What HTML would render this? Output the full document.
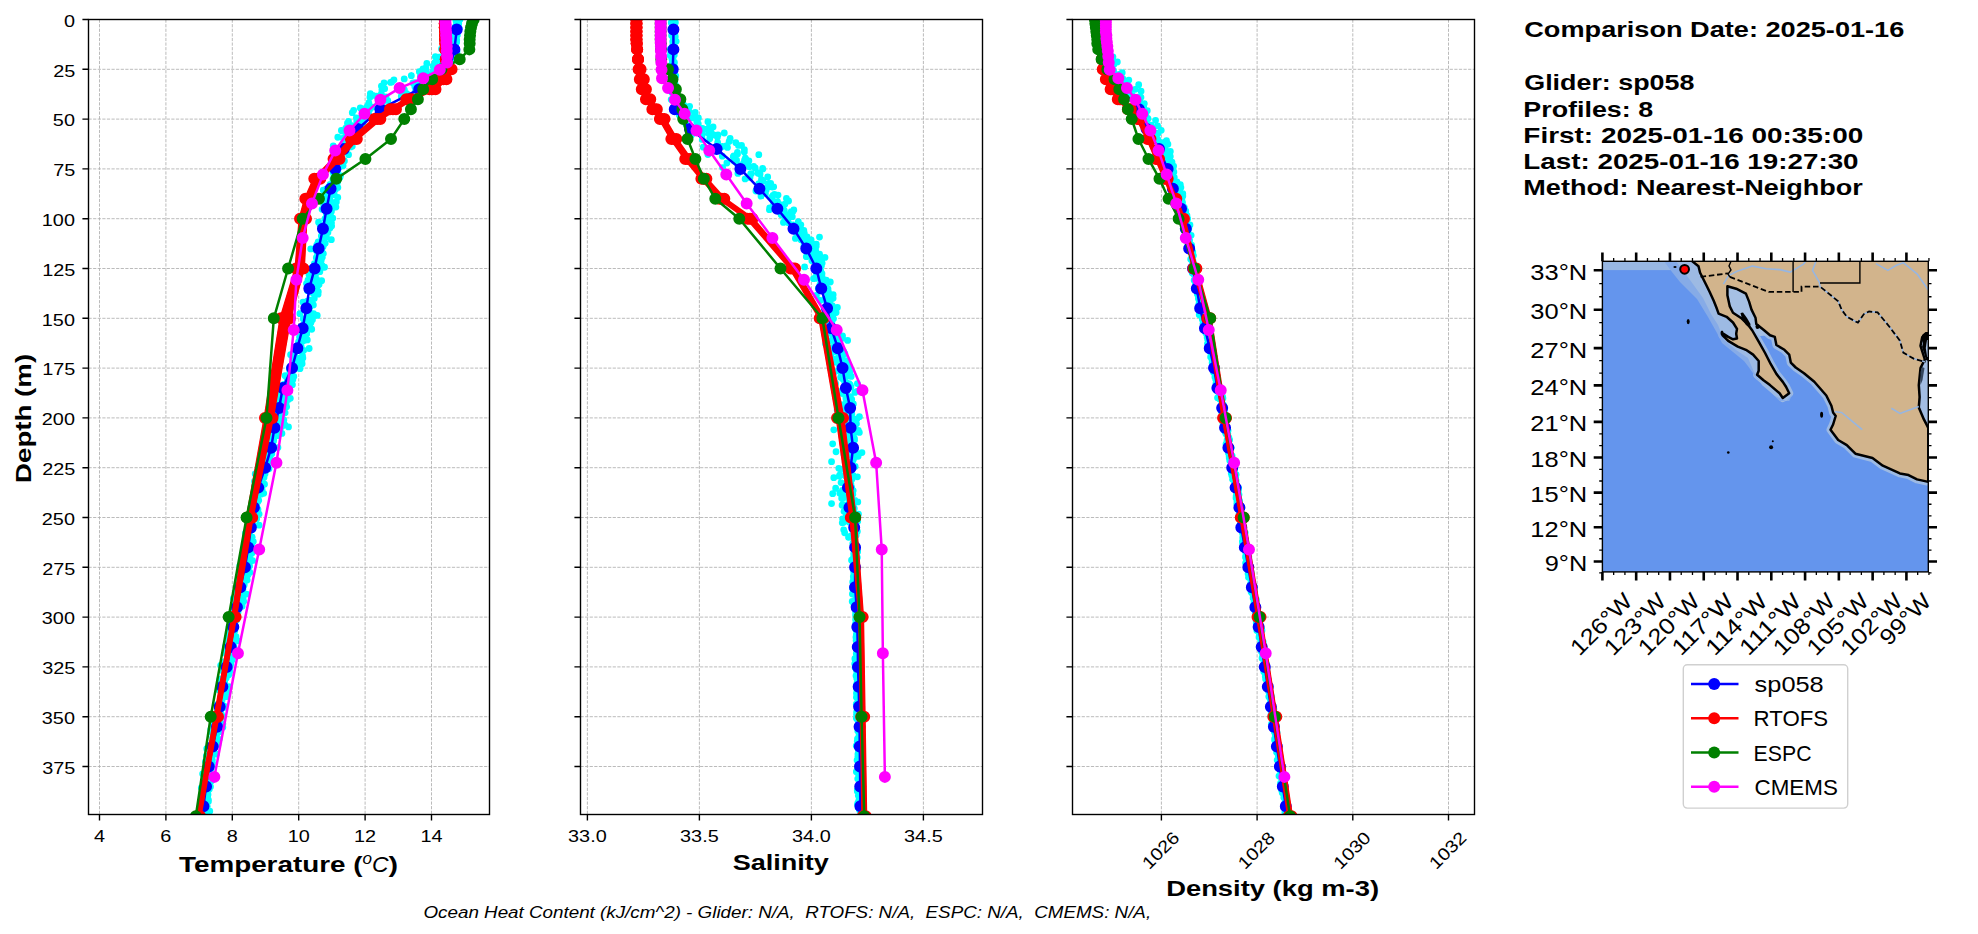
<!DOCTYPE html><html><head><meta charset="utf-8"><style>html,body{margin:0;padding:0;background:#fff;}svg{display:block;font-family:"Liberation Sans",sans-serif;}</style></head><body>
<svg width="1978" height="934" viewBox="0 0 1978 934">
<rect width="1978" height="934" fill="#fff"/>
<defs>
<clipPath id="c0"><rect x="88.5" y="19.5" width="401" height="795"/></clipPath>
<clipPath id="c1"><rect x="580.5" y="19.5" width="402" height="795"/></clipPath>
<clipPath id="c2"><rect x="1072.5" y="19.5" width="402" height="795"/></clipPath>
</defs>
<path d="M99.5 19.5V814.5M165.9 19.5V814.5M232.3 19.5V814.5M298.7 19.5V814.5M365.1 19.5V814.5M431.5 19.5V814.5M88.5 19.5H489.5M88.5 69.3H489.5M88.5 119.1H489.5M88.5 168.9H489.5M88.5 218.7H489.5M88.5 268.5H489.5M88.5 318.3H489.5M88.5 368.1H489.5M88.5 417.9H489.5M88.5 467.7H489.5M88.5 517.5H489.5M88.5 567.3H489.5M88.5 617.1H489.5M88.5 666.9H489.5M88.5 716.7H489.5M88.5 766.5H489.5" stroke="#b0b0b0" stroke-width="0.87" stroke-dasharray="3.2 1.4" fill="none"/>
<path d="M587.4 19.5V814.5M699.4 19.5V814.5M811.4 19.5V814.5M923.4 19.5V814.5M580.5 19.5H982.5M580.5 69.3H982.5M580.5 119.1H982.5M580.5 168.9H982.5M580.5 218.7H982.5M580.5 268.5H982.5M580.5 318.3H982.5M580.5 368.1H982.5M580.5 417.9H982.5M580.5 467.7H982.5M580.5 517.5H982.5M580.5 567.3H982.5M580.5 617.1H982.5M580.5 666.9H982.5M580.5 716.7H982.5M580.5 766.5H982.5" stroke="#b0b0b0" stroke-width="0.87" stroke-dasharray="3.2 1.4" fill="none"/>
<path d="M1161.4 19.5V814.5M1257.1 19.5V814.5M1352.8 19.5V814.5M1448.5 19.5V814.5M1072.5 19.5H1474.5M1072.5 69.3H1474.5M1072.5 119.1H1474.5M1072.5 168.9H1474.5M1072.5 218.7H1474.5M1072.5 268.5H1474.5M1072.5 318.3H1474.5M1072.5 368.1H1474.5M1072.5 417.9H1474.5M1072.5 467.7H1474.5M1072.5 517.5H1474.5M1072.5 567.3H1474.5M1072.5 617.1H1474.5M1072.5 666.9H1474.5M1072.5 716.7H1474.5M1072.5 766.5H1474.5" stroke="#b0b0b0" stroke-width="0.87" stroke-dasharray="3.2 1.4" fill="none"/>
<g clip-path="url(#c0)">
<path d="M452.81 22.1a3.4 3.4 0 1 0 6.8 0a3.4 3.4 0 1 0 -6.8 0M451.32 31.02a3.4 3.4 0 1 0 6.8 0a3.4 3.4 0 1 0 -6.8 0M453.08 38.12a3.4 3.4 0 1 0 6.8 0a3.4 3.4 0 1 0 -6.8 0M448.49 42.48a3.4 3.4 0 1 0 6.8 0a3.4 3.4 0 1 0 -6.8 0M448.55 47.22a3.4 3.4 0 1 0 6.8 0a3.4 3.4 0 1 0 -6.8 0M438.74 56.43a3.4 3.4 0 1 0 6.8 0a3.4 3.4 0 1 0 -6.8 0M429.69 66.2a3.4 3.4 0 1 0 6.8 0a3.4 3.4 0 1 0 -6.8 0M422.67 70.2a3.4 3.4 0 1 0 6.8 0a3.4 3.4 0 1 0 -6.8 0M407.96 75.69a3.4 3.4 0 1 0 6.8 0a3.4 3.4 0 1 0 -6.8 0M388.43 82.02a3.4 3.4 0 1 0 6.8 0a3.4 3.4 0 1 0 -6.8 0M381.27 88.72a3.4 3.4 0 1 0 6.8 0a3.4 3.4 0 1 0 -6.8 0M373.34 96.08a3.4 3.4 0 1 0 6.8 0a3.4 3.4 0 1 0 -6.8 0M362.91 107.55a3.4 3.4 0 1 0 6.8 0a3.4 3.4 0 1 0 -6.8 0M350.24 110.34a3.4 3.4 0 1 0 6.8 0a3.4 3.4 0 1 0 -6.8 0M345.15 121.53a3.4 3.4 0 1 0 6.8 0a3.4 3.4 0 1 0 -6.8 0M344.04 123.18a3.4 3.4 0 1 0 6.8 0a3.4 3.4 0 1 0 -6.8 0M342.21 132.8a3.4 3.4 0 1 0 6.8 0a3.4 3.4 0 1 0 -6.8 0M334.39 137.23a3.4 3.4 0 1 0 6.8 0a3.4 3.4 0 1 0 -6.8 0M329.84 145.84a3.4 3.4 0 1 0 6.8 0a3.4 3.4 0 1 0 -6.8 0M336.08 152a3.4 3.4 0 1 0 6.8 0a3.4 3.4 0 1 0 -6.8 0M332.6 160.73a3.4 3.4 0 1 0 6.8 0a3.4 3.4 0 1 0 -6.8 0M329.8 165.29a3.4 3.4 0 1 0 6.8 0a3.4 3.4 0 1 0 -6.8 0M332.52 172.05a3.4 3.4 0 1 0 6.8 0a3.4 3.4 0 1 0 -6.8 0M329.52 179.42a3.4 3.4 0 1 0 6.8 0a3.4 3.4 0 1 0 -6.8 0M319.85 190.18a3.4 3.4 0 1 0 6.8 0a3.4 3.4 0 1 0 -6.8 0M324.18 194.1a3.4 3.4 0 1 0 6.8 0a3.4 3.4 0 1 0 -6.8 0M320.36 205.62a3.4 3.4 0 1 0 6.8 0a3.4 3.4 0 1 0 -6.8 0M318.66 209.35a3.4 3.4 0 1 0 6.8 0a3.4 3.4 0 1 0 -6.8 0M324.63 213.96a3.4 3.4 0 1 0 6.8 0a3.4 3.4 0 1 0 -6.8 0M315.15 222.16a3.4 3.4 0 1 0 6.8 0a3.4 3.4 0 1 0 -6.8 0M323.92 230.93a3.4 3.4 0 1 0 6.8 0a3.4 3.4 0 1 0 -6.8 0M319.3 239.3a3.4 3.4 0 1 0 6.8 0a3.4 3.4 0 1 0 -6.8 0M314.69 245.35a3.4 3.4 0 1 0 6.8 0a3.4 3.4 0 1 0 -6.8 0M314.67 253.28a3.4 3.4 0 1 0 6.8 0a3.4 3.4 0 1 0 -6.8 0M313.97 255.76a3.4 3.4 0 1 0 6.8 0a3.4 3.4 0 1 0 -6.8 0M307.51 268.49a3.4 3.4 0 1 0 6.8 0a3.4 3.4 0 1 0 -6.8 0M316.46 271.63a3.4 3.4 0 1 0 6.8 0a3.4 3.4 0 1 0 -6.8 0M304.56 280.27a3.4 3.4 0 1 0 6.8 0a3.4 3.4 0 1 0 -6.8 0M304.28 283.91a3.4 3.4 0 1 0 6.8 0a3.4 3.4 0 1 0 -6.8 0M304.13 290.64a3.4 3.4 0 1 0 6.8 0a3.4 3.4 0 1 0 -6.8 0M305.96 301.19a3.4 3.4 0 1 0 6.8 0a3.4 3.4 0 1 0 -6.8 0M306.93 306.46a3.4 3.4 0 1 0 6.8 0a3.4 3.4 0 1 0 -6.8 0M296.5 313.69a3.4 3.4 0 1 0 6.8 0a3.4 3.4 0 1 0 -6.8 0M299.77 318.81a3.4 3.4 0 1 0 6.8 0a3.4 3.4 0 1 0 -6.8 0M302.39 330.69a3.4 3.4 0 1 0 6.8 0a3.4 3.4 0 1 0 -6.8 0M296.13 337.06a3.4 3.4 0 1 0 6.8 0a3.4 3.4 0 1 0 -6.8 0M295.1 341.99a3.4 3.4 0 1 0 6.8 0a3.4 3.4 0 1 0 -6.8 0M293.85 350.48a3.4 3.4 0 1 0 6.8 0a3.4 3.4 0 1 0 -6.8 0M287.19 354.76a3.4 3.4 0 1 0 6.8 0a3.4 3.4 0 1 0 -6.8 0M293.62 360.96a3.4 3.4 0 1 0 6.8 0a3.4 3.4 0 1 0 -6.8 0M285.88 368.81a3.4 3.4 0 1 0 6.8 0a3.4 3.4 0 1 0 -6.8 0M288.27 375.51a3.4 3.4 0 1 0 6.8 0a3.4 3.4 0 1 0 -6.8 0M282.38 385.44a3.4 3.4 0 1 0 6.8 0a3.4 3.4 0 1 0 -6.8 0M281.16 390.5a3.4 3.4 0 1 0 6.8 0a3.4 3.4 0 1 0 -6.8 0M274.01 398.09a3.4 3.4 0 1 0 6.8 0a3.4 3.4 0 1 0 -6.8 0M274.58 402.54a3.4 3.4 0 1 0 6.8 0a3.4 3.4 0 1 0 -6.8 0M278.16 409.11a3.4 3.4 0 1 0 6.8 0a3.4 3.4 0 1 0 -6.8 0M274.15 420.59a3.4 3.4 0 1 0 6.8 0a3.4 3.4 0 1 0 -6.8 0M271.99 427.4a3.4 3.4 0 1 0 6.8 0a3.4 3.4 0 1 0 -6.8 0M271.34 431.88a3.4 3.4 0 1 0 6.8 0a3.4 3.4 0 1 0 -6.8 0M270.19 440.95a3.4 3.4 0 1 0 6.8 0a3.4 3.4 0 1 0 -6.8 0M265.5 448.47a3.4 3.4 0 1 0 6.8 0a3.4 3.4 0 1 0 -6.8 0M262.98 451.14a3.4 3.4 0 1 0 6.8 0a3.4 3.4 0 1 0 -6.8 0M264.76 461.96a3.4 3.4 0 1 0 6.8 0a3.4 3.4 0 1 0 -6.8 0M259.54 469.98a3.4 3.4 0 1 0 6.8 0a3.4 3.4 0 1 0 -6.8 0M251.82 473.9a3.4 3.4 0 1 0 6.8 0a3.4 3.4 0 1 0 -6.8 0M251.09 481.37a3.4 3.4 0 1 0 6.8 0a3.4 3.4 0 1 0 -6.8 0M253.77 486.45a3.4 3.4 0 1 0 6.8 0a3.4 3.4 0 1 0 -6.8 0M251.13 495.76a3.4 3.4 0 1 0 6.8 0a3.4 3.4 0 1 0 -6.8 0M249.7 504.72a3.4 3.4 0 1 0 6.8 0a3.4 3.4 0 1 0 -6.8 0M251.56 506.95a3.4 3.4 0 1 0 6.8 0a3.4 3.4 0 1 0 -6.8 0M249.7 513.78a3.4 3.4 0 1 0 6.8 0a3.4 3.4 0 1 0 -6.8 0M245.86 521.21a3.4 3.4 0 1 0 6.8 0a3.4 3.4 0 1 0 -6.8 0M245.86 531.73a3.4 3.4 0 1 0 6.8 0a3.4 3.4 0 1 0 -6.8 0M246.71 535.96a3.4 3.4 0 1 0 6.8 0a3.4 3.4 0 1 0 -6.8 0M241.37 544.01a3.4 3.4 0 1 0 6.8 0a3.4 3.4 0 1 0 -6.8 0M244.69 554.18a3.4 3.4 0 1 0 6.8 0a3.4 3.4 0 1 0 -6.8 0M244.24 557.51a3.4 3.4 0 1 0 6.8 0a3.4 3.4 0 1 0 -6.8 0M242.32 562.64a3.4 3.4 0 1 0 6.8 0a3.4 3.4 0 1 0 -6.8 0M239.2 573.71a3.4 3.4 0 1 0 6.8 0a3.4 3.4 0 1 0 -6.8 0M235.07 576.53a3.4 3.4 0 1 0 6.8 0a3.4 3.4 0 1 0 -6.8 0M234.76 588.54a3.4 3.4 0 1 0 6.8 0a3.4 3.4 0 1 0 -6.8 0M232.63 594.67a3.4 3.4 0 1 0 6.8 0a3.4 3.4 0 1 0 -6.8 0M234.37 600.62a3.4 3.4 0 1 0 6.8 0a3.4 3.4 0 1 0 -6.8 0M233.62 608.99a3.4 3.4 0 1 0 6.8 0a3.4 3.4 0 1 0 -6.8 0M229.56 611.83a3.4 3.4 0 1 0 6.8 0a3.4 3.4 0 1 0 -6.8 0M229.85 622.12a3.4 3.4 0 1 0 6.8 0a3.4 3.4 0 1 0 -6.8 0M225.68 626.81a3.4 3.4 0 1 0 6.8 0a3.4 3.4 0 1 0 -6.8 0M225.17 636.17a3.4 3.4 0 1 0 6.8 0a3.4 3.4 0 1 0 -6.8 0M223.49 644.79a3.4 3.4 0 1 0 6.8 0a3.4 3.4 0 1 0 -6.8 0M221.96 646.94a3.4 3.4 0 1 0 6.8 0a3.4 3.4 0 1 0 -6.8 0M225.34 654.94a3.4 3.4 0 1 0 6.8 0a3.4 3.4 0 1 0 -6.8 0M223.59 662.31a3.4 3.4 0 1 0 6.8 0a3.4 3.4 0 1 0 -6.8 0M220.67 669.24a3.4 3.4 0 1 0 6.8 0a3.4 3.4 0 1 0 -6.8 0M216.51 679.25a3.4 3.4 0 1 0 6.8 0a3.4 3.4 0 1 0 -6.8 0M218.22 685.62a3.4 3.4 0 1 0 6.8 0a3.4 3.4 0 1 0 -6.8 0M216.35 690.19a3.4 3.4 0 1 0 6.8 0a3.4 3.4 0 1 0 -6.8 0M217.11 699.56a3.4 3.4 0 1 0 6.8 0a3.4 3.4 0 1 0 -6.8 0M213.97 704.55a3.4 3.4 0 1 0 6.8 0a3.4 3.4 0 1 0 -6.8 0M214.05 710.91a3.4 3.4 0 1 0 6.8 0a3.4 3.4 0 1 0 -6.8 0M215.4 715.77a3.4 3.4 0 1 0 6.8 0a3.4 3.4 0 1 0 -6.8 0M213.29 727.85a3.4 3.4 0 1 0 6.8 0a3.4 3.4 0 1 0 -6.8 0M207.35 729.76a3.4 3.4 0 1 0 6.8 0a3.4 3.4 0 1 0 -6.8 0M209.18 737.97a3.4 3.4 0 1 0 6.8 0a3.4 3.4 0 1 0 -6.8 0M206.84 745.83a3.4 3.4 0 1 0 6.8 0a3.4 3.4 0 1 0 -6.8 0M202.98 755.87a3.4 3.4 0 1 0 6.8 0a3.4 3.4 0 1 0 -6.8 0M205 760.99a3.4 3.4 0 1 0 6.8 0a3.4 3.4 0 1 0 -6.8 0M202.7 766.4a3.4 3.4 0 1 0 6.8 0a3.4 3.4 0 1 0 -6.8 0M204.89 774.79a3.4 3.4 0 1 0 6.8 0a3.4 3.4 0 1 0 -6.8 0M200.67 780.57a3.4 3.4 0 1 0 6.8 0a3.4 3.4 0 1 0 -6.8 0M205.83 786.71a3.4 3.4 0 1 0 6.8 0a3.4 3.4 0 1 0 -6.8 0M200.47 798.03a3.4 3.4 0 1 0 6.8 0a3.4 3.4 0 1 0 -6.8 0M202.82 800.13a3.4 3.4 0 1 0 6.8 0a3.4 3.4 0 1 0 -6.8 0M202.78 808.8a3.4 3.4 0 1 0 6.8 0a3.4 3.4 0 1 0 -6.8 0M453.81 18.93a3.4 3.4 0 1 0 6.8 0a3.4 3.4 0 1 0 -6.8 0M454.04 26.96a3.4 3.4 0 1 0 6.8 0a3.4 3.4 0 1 0 -6.8 0M453.94 34.87a3.4 3.4 0 1 0 6.8 0a3.4 3.4 0 1 0 -6.8 0M449.01 41.06a3.4 3.4 0 1 0 6.8 0a3.4 3.4 0 1 0 -6.8 0M451.97 46.52a3.4 3.4 0 1 0 6.8 0a3.4 3.4 0 1 0 -6.8 0M440.81 59.18a3.4 3.4 0 1 0 6.8 0a3.4 3.4 0 1 0 -6.8 0M438.87 63.83a3.4 3.4 0 1 0 6.8 0a3.4 3.4 0 1 0 -6.8 0M435.98 67.93a3.4 3.4 0 1 0 6.8 0a3.4 3.4 0 1 0 -6.8 0M420.29 75.62a3.4 3.4 0 1 0 6.8 0a3.4 3.4 0 1 0 -6.8 0M409.56 82.87a3.4 3.4 0 1 0 6.8 0a3.4 3.4 0 1 0 -6.8 0M400.99 89.99a3.4 3.4 0 1 0 6.8 0a3.4 3.4 0 1 0 -6.8 0M380.78 99.93a3.4 3.4 0 1 0 6.8 0a3.4 3.4 0 1 0 -6.8 0M378.96 103.25a3.4 3.4 0 1 0 6.8 0a3.4 3.4 0 1 0 -6.8 0M362.69 114.5a3.4 3.4 0 1 0 6.8 0a3.4 3.4 0 1 0 -6.8 0M361.16 116.91a3.4 3.4 0 1 0 6.8 0a3.4 3.4 0 1 0 -6.8 0M353.29 126.53a3.4 3.4 0 1 0 6.8 0a3.4 3.4 0 1 0 -6.8 0M354.63 132.11a3.4 3.4 0 1 0 6.8 0a3.4 3.4 0 1 0 -6.8 0M340.46 141.26a3.4 3.4 0 1 0 6.8 0a3.4 3.4 0 1 0 -6.8 0M339.28 146.32a3.4 3.4 0 1 0 6.8 0a3.4 3.4 0 1 0 -6.8 0M334.56 153.33a3.4 3.4 0 1 0 6.8 0a3.4 3.4 0 1 0 -6.8 0M332.07 160.64a3.4 3.4 0 1 0 6.8 0a3.4 3.4 0 1 0 -6.8 0M334.43 170.16a3.4 3.4 0 1 0 6.8 0a3.4 3.4 0 1 0 -6.8 0M335.42 175.65a3.4 3.4 0 1 0 6.8 0a3.4 3.4 0 1 0 -6.8 0M330.38 182.17a3.4 3.4 0 1 0 6.8 0a3.4 3.4 0 1 0 -6.8 0M327.44 188.97a3.4 3.4 0 1 0 6.8 0a3.4 3.4 0 1 0 -6.8 0M322.11 196.44a3.4 3.4 0 1 0 6.8 0a3.4 3.4 0 1 0 -6.8 0M327.7 202.79a3.4 3.4 0 1 0 6.8 0a3.4 3.4 0 1 0 -6.8 0M326.14 209.51a3.4 3.4 0 1 0 6.8 0a3.4 3.4 0 1 0 -6.8 0M327.15 215.24a3.4 3.4 0 1 0 6.8 0a3.4 3.4 0 1 0 -6.8 0M328.23 225.88a3.4 3.4 0 1 0 6.8 0a3.4 3.4 0 1 0 -6.8 0M321.27 228.64a3.4 3.4 0 1 0 6.8 0a3.4 3.4 0 1 0 -6.8 0M320.03 238.03a3.4 3.4 0 1 0 6.8 0a3.4 3.4 0 1 0 -6.8 0M313.83 244.29a3.4 3.4 0 1 0 6.8 0a3.4 3.4 0 1 0 -6.8 0M311.62 248.71a3.4 3.4 0 1 0 6.8 0a3.4 3.4 0 1 0 -6.8 0M317.71 260.96a3.4 3.4 0 1 0 6.8 0a3.4 3.4 0 1 0 -6.8 0M311.2 268.42a3.4 3.4 0 1 0 6.8 0a3.4 3.4 0 1 0 -6.8 0M311.84 270.45a3.4 3.4 0 1 0 6.8 0a3.4 3.4 0 1 0 -6.8 0M309.71 278.63a3.4 3.4 0 1 0 6.8 0a3.4 3.4 0 1 0 -6.8 0M303.06 283.55a3.4 3.4 0 1 0 6.8 0a3.4 3.4 0 1 0 -6.8 0M314.7 294.15a3.4 3.4 0 1 0 6.8 0a3.4 3.4 0 1 0 -6.8 0M305.41 302.2a3.4 3.4 0 1 0 6.8 0a3.4 3.4 0 1 0 -6.8 0M309.98 304.94a3.4 3.4 0 1 0 6.8 0a3.4 3.4 0 1 0 -6.8 0M305.84 313.17a3.4 3.4 0 1 0 6.8 0a3.4 3.4 0 1 0 -6.8 0M306.25 320.29a3.4 3.4 0 1 0 6.8 0a3.4 3.4 0 1 0 -6.8 0M304.15 325.34a3.4 3.4 0 1 0 6.8 0a3.4 3.4 0 1 0 -6.8 0M301.59 337.42a3.4 3.4 0 1 0 6.8 0a3.4 3.4 0 1 0 -6.8 0M294.56 344.94a3.4 3.4 0 1 0 6.8 0a3.4 3.4 0 1 0 -6.8 0M293.1 347.64a3.4 3.4 0 1 0 6.8 0a3.4 3.4 0 1 0 -6.8 0M297.12 357.92a3.4 3.4 0 1 0 6.8 0a3.4 3.4 0 1 0 -6.8 0M290.43 360.4a3.4 3.4 0 1 0 6.8 0a3.4 3.4 0 1 0 -6.8 0M286.55 372.51a3.4 3.4 0 1 0 6.8 0a3.4 3.4 0 1 0 -6.8 0M289.48 379.47a3.4 3.4 0 1 0 6.8 0a3.4 3.4 0 1 0 -6.8 0M283.52 383.73a3.4 3.4 0 1 0 6.8 0a3.4 3.4 0 1 0 -6.8 0M278.91 391.57a3.4 3.4 0 1 0 6.8 0a3.4 3.4 0 1 0 -6.8 0M277.76 395.24a3.4 3.4 0 1 0 6.8 0a3.4 3.4 0 1 0 -6.8 0M278 405.97a3.4 3.4 0 1 0 6.8 0a3.4 3.4 0 1 0 -6.8 0M276.09 413.78a3.4 3.4 0 1 0 6.8 0a3.4 3.4 0 1 0 -6.8 0M277.45 418.52a3.4 3.4 0 1 0 6.8 0a3.4 3.4 0 1 0 -6.8 0M278.51 426.61a3.4 3.4 0 1 0 6.8 0a3.4 3.4 0 1 0 -6.8 0M268.29 433.56a3.4 3.4 0 1 0 6.8 0a3.4 3.4 0 1 0 -6.8 0M270.34 440.12a3.4 3.4 0 1 0 6.8 0a3.4 3.4 0 1 0 -6.8 0M266.89 445.65a3.4 3.4 0 1 0 6.8 0a3.4 3.4 0 1 0 -6.8 0M268.39 453.64a3.4 3.4 0 1 0 6.8 0a3.4 3.4 0 1 0 -6.8 0M264.5 459.37a3.4 3.4 0 1 0 6.8 0a3.4 3.4 0 1 0 -6.8 0M260.59 465.35a3.4 3.4 0 1 0 6.8 0a3.4 3.4 0 1 0 -6.8 0M259.9 472.64a3.4 3.4 0 1 0 6.8 0a3.4 3.4 0 1 0 -6.8 0M256.42 480.74a3.4 3.4 0 1 0 6.8 0a3.4 3.4 0 1 0 -6.8 0M253.31 490.94a3.4 3.4 0 1 0 6.8 0a3.4 3.4 0 1 0 -6.8 0M253.82 497.04a3.4 3.4 0 1 0 6.8 0a3.4 3.4 0 1 0 -6.8 0M253.15 504.07a3.4 3.4 0 1 0 6.8 0a3.4 3.4 0 1 0 -6.8 0M252.54 509.85a3.4 3.4 0 1 0 6.8 0a3.4 3.4 0 1 0 -6.8 0M249.22 515.88a3.4 3.4 0 1 0 6.8 0a3.4 3.4 0 1 0 -6.8 0M248.36 520.7a3.4 3.4 0 1 0 6.8 0a3.4 3.4 0 1 0 -6.8 0M245.63 531.02a3.4 3.4 0 1 0 6.8 0a3.4 3.4 0 1 0 -6.8 0M243.38 538.23a3.4 3.4 0 1 0 6.8 0a3.4 3.4 0 1 0 -6.8 0M245.36 541.89a3.4 3.4 0 1 0 6.8 0a3.4 3.4 0 1 0 -6.8 0M247.63 549.59a3.4 3.4 0 1 0 6.8 0a3.4 3.4 0 1 0 -6.8 0M243.16 555.39a3.4 3.4 0 1 0 6.8 0a3.4 3.4 0 1 0 -6.8 0M239.99 562.76a3.4 3.4 0 1 0 6.8 0a3.4 3.4 0 1 0 -6.8 0M243.61 571.36a3.4 3.4 0 1 0 6.8 0a3.4 3.4 0 1 0 -6.8 0M241.31 578.91a3.4 3.4 0 1 0 6.8 0a3.4 3.4 0 1 0 -6.8 0M239.71 583.92a3.4 3.4 0 1 0 6.8 0a3.4 3.4 0 1 0 -6.8 0M232.17 591.53a3.4 3.4 0 1 0 6.8 0a3.4 3.4 0 1 0 -6.8 0M229.97 598.43a3.4 3.4 0 1 0 6.8 0a3.4 3.4 0 1 0 -6.8 0M230.48 608.02a3.4 3.4 0 1 0 6.8 0a3.4 3.4 0 1 0 -6.8 0M231.58 611.69a3.4 3.4 0 1 0 6.8 0a3.4 3.4 0 1 0 -6.8 0M227.23 620.97a3.4 3.4 0 1 0 6.8 0a3.4 3.4 0 1 0 -6.8 0M226.64 626.28a3.4 3.4 0 1 0 6.8 0a3.4 3.4 0 1 0 -6.8 0M225.89 634.64a3.4 3.4 0 1 0 6.8 0a3.4 3.4 0 1 0 -6.8 0M227.67 639.51a3.4 3.4 0 1 0 6.8 0a3.4 3.4 0 1 0 -6.8 0M226.86 649.38a3.4 3.4 0 1 0 6.8 0a3.4 3.4 0 1 0 -6.8 0M226.59 653.63a3.4 3.4 0 1 0 6.8 0a3.4 3.4 0 1 0 -6.8 0M226.86 663.31a3.4 3.4 0 1 0 6.8 0a3.4 3.4 0 1 0 -6.8 0M219.61 670.41a3.4 3.4 0 1 0 6.8 0a3.4 3.4 0 1 0 -6.8 0M225.35 674.67a3.4 3.4 0 1 0 6.8 0a3.4 3.4 0 1 0 -6.8 0M218.94 682.99a3.4 3.4 0 1 0 6.8 0a3.4 3.4 0 1 0 -6.8 0M218.43 692.92a3.4 3.4 0 1 0 6.8 0a3.4 3.4 0 1 0 -6.8 0M218.24 696.51a3.4 3.4 0 1 0 6.8 0a3.4 3.4 0 1 0 -6.8 0M215.38 705.36a3.4 3.4 0 1 0 6.8 0a3.4 3.4 0 1 0 -6.8 0M213.73 714.31a3.4 3.4 0 1 0 6.8 0a3.4 3.4 0 1 0 -6.8 0M219.46 716.46a3.4 3.4 0 1 0 6.8 0a3.4 3.4 0 1 0 -6.8 0M216.19 725.91a3.4 3.4 0 1 0 6.8 0a3.4 3.4 0 1 0 -6.8 0M210.62 731.74a3.4 3.4 0 1 0 6.8 0a3.4 3.4 0 1 0 -6.8 0M209.74 739.06a3.4 3.4 0 1 0 6.8 0a3.4 3.4 0 1 0 -6.8 0M203.35 748.65a3.4 3.4 0 1 0 6.8 0a3.4 3.4 0 1 0 -6.8 0M206.81 755.79a3.4 3.4 0 1 0 6.8 0a3.4 3.4 0 1 0 -6.8 0M202.06 761.7a3.4 3.4 0 1 0 6.8 0a3.4 3.4 0 1 0 -6.8 0M202.9 766.69a3.4 3.4 0 1 0 6.8 0a3.4 3.4 0 1 0 -6.8 0M201.63 772.76a3.4 3.4 0 1 0 6.8 0a3.4 3.4 0 1 0 -6.8 0M205.64 779.11a3.4 3.4 0 1 0 6.8 0a3.4 3.4 0 1 0 -6.8 0M200.37 789.21a3.4 3.4 0 1 0 6.8 0a3.4 3.4 0 1 0 -6.8 0M201.63 793.99a3.4 3.4 0 1 0 6.8 0a3.4 3.4 0 1 0 -6.8 0M197.66 800.94a3.4 3.4 0 1 0 6.8 0a3.4 3.4 0 1 0 -6.8 0M197.9 808.44a3.4 3.4 0 1 0 6.8 0a3.4 3.4 0 1 0 -6.8 0M454.25 20.83a3.4 3.4 0 1 0 6.8 0a3.4 3.4 0 1 0 -6.8 0M454.49 29.93a3.4 3.4 0 1 0 6.8 0a3.4 3.4 0 1 0 -6.8 0M451.69 35.05a3.4 3.4 0 1 0 6.8 0a3.4 3.4 0 1 0 -6.8 0M449.68 43.99a3.4 3.4 0 1 0 6.8 0a3.4 3.4 0 1 0 -6.8 0M448.62 49a3.4 3.4 0 1 0 6.8 0a3.4 3.4 0 1 0 -6.8 0M435.42 58.23a3.4 3.4 0 1 0 6.8 0a3.4 3.4 0 1 0 -6.8 0M431.46 62.58a3.4 3.4 0 1 0 6.8 0a3.4 3.4 0 1 0 -6.8 0M415.93 71.65a3.4 3.4 0 1 0 6.8 0a3.4 3.4 0 1 0 -6.8 0M400.83 78.87a3.4 3.4 0 1 0 6.8 0a3.4 3.4 0 1 0 -6.8 0M378 86.07a3.4 3.4 0 1 0 6.8 0a3.4 3.4 0 1 0 -6.8 0M366.93 93.66a3.4 3.4 0 1 0 6.8 0a3.4 3.4 0 1 0 -6.8 0M366.55 97.19a3.4 3.4 0 1 0 6.8 0a3.4 3.4 0 1 0 -6.8 0M365.43 102.88a3.4 3.4 0 1 0 6.8 0a3.4 3.4 0 1 0 -6.8 0M360.95 110.61a3.4 3.4 0 1 0 6.8 0a3.4 3.4 0 1 0 -6.8 0M357.64 119.64a3.4 3.4 0 1 0 6.8 0a3.4 3.4 0 1 0 -6.8 0M347.48 125.41a3.4 3.4 0 1 0 6.8 0a3.4 3.4 0 1 0 -6.8 0M337.97 130.53a3.4 3.4 0 1 0 6.8 0a3.4 3.4 0 1 0 -6.8 0M340.31 139.36a3.4 3.4 0 1 0 6.8 0a3.4 3.4 0 1 0 -6.8 0M341.11 148.43a3.4 3.4 0 1 0 6.8 0a3.4 3.4 0 1 0 -6.8 0M334.18 153.79a3.4 3.4 0 1 0 6.8 0a3.4 3.4 0 1 0 -6.8 0M334.5 161.43a3.4 3.4 0 1 0 6.8 0a3.4 3.4 0 1 0 -6.8 0M331.25 169.7a3.4 3.4 0 1 0 6.8 0a3.4 3.4 0 1 0 -6.8 0M332.15 172.19a3.4 3.4 0 1 0 6.8 0a3.4 3.4 0 1 0 -6.8 0M330.35 182.13a3.4 3.4 0 1 0 6.8 0a3.4 3.4 0 1 0 -6.8 0M324.95 189.43a3.4 3.4 0 1 0 6.8 0a3.4 3.4 0 1 0 -6.8 0M326.71 196.76a3.4 3.4 0 1 0 6.8 0a3.4 3.4 0 1 0 -6.8 0M323.68 203.53a3.4 3.4 0 1 0 6.8 0a3.4 3.4 0 1 0 -6.8 0M323.35 210.58a3.4 3.4 0 1 0 6.8 0a3.4 3.4 0 1 0 -6.8 0M324.03 216.43a3.4 3.4 0 1 0 6.8 0a3.4 3.4 0 1 0 -6.8 0M325.91 224.7a3.4 3.4 0 1 0 6.8 0a3.4 3.4 0 1 0 -6.8 0M318.38 228.03a3.4 3.4 0 1 0 6.8 0a3.4 3.4 0 1 0 -6.8 0M317.96 236.01a3.4 3.4 0 1 0 6.8 0a3.4 3.4 0 1 0 -6.8 0M314.8 241.81a3.4 3.4 0 1 0 6.8 0a3.4 3.4 0 1 0 -6.8 0M314.96 252.23a3.4 3.4 0 1 0 6.8 0a3.4 3.4 0 1 0 -6.8 0M312.9 257.66a3.4 3.4 0 1 0 6.8 0a3.4 3.4 0 1 0 -6.8 0M319.05 266.03a3.4 3.4 0 1 0 6.8 0a3.4 3.4 0 1 0 -6.8 0M314.17 271.1a3.4 3.4 0 1 0 6.8 0a3.4 3.4 0 1 0 -6.8 0M311.64 278.42a3.4 3.4 0 1 0 6.8 0a3.4 3.4 0 1 0 -6.8 0M314.8 285.3a3.4 3.4 0 1 0 6.8 0a3.4 3.4 0 1 0 -6.8 0M311.58 291.07a3.4 3.4 0 1 0 6.8 0a3.4 3.4 0 1 0 -6.8 0M303.99 301.11a3.4 3.4 0 1 0 6.8 0a3.4 3.4 0 1 0 -6.8 0M305.78 309.98a3.4 3.4 0 1 0 6.8 0a3.4 3.4 0 1 0 -6.8 0M306.07 313.94a3.4 3.4 0 1 0 6.8 0a3.4 3.4 0 1 0 -6.8 0M303.91 319.04a3.4 3.4 0 1 0 6.8 0a3.4 3.4 0 1 0 -6.8 0M294.42 330.44a3.4 3.4 0 1 0 6.8 0a3.4 3.4 0 1 0 -6.8 0M300.1 335.4a3.4 3.4 0 1 0 6.8 0a3.4 3.4 0 1 0 -6.8 0M299.72 340.99a3.4 3.4 0 1 0 6.8 0a3.4 3.4 0 1 0 -6.8 0M297.03 350.55a3.4 3.4 0 1 0 6.8 0a3.4 3.4 0 1 0 -6.8 0M291.92 357.03a3.4 3.4 0 1 0 6.8 0a3.4 3.4 0 1 0 -6.8 0M292.5 363.9a3.4 3.4 0 1 0 6.8 0a3.4 3.4 0 1 0 -6.8 0M296.56 368.71a3.4 3.4 0 1 0 6.8 0a3.4 3.4 0 1 0 -6.8 0M290.42 376.43a3.4 3.4 0 1 0 6.8 0a3.4 3.4 0 1 0 -6.8 0M287.05 382.56a3.4 3.4 0 1 0 6.8 0a3.4 3.4 0 1 0 -6.8 0M283.08 393.2a3.4 3.4 0 1 0 6.8 0a3.4 3.4 0 1 0 -6.8 0M284.96 399.51a3.4 3.4 0 1 0 6.8 0a3.4 3.4 0 1 0 -6.8 0M280.94 402.86a3.4 3.4 0 1 0 6.8 0a3.4 3.4 0 1 0 -6.8 0M278.24 414.72a3.4 3.4 0 1 0 6.8 0a3.4 3.4 0 1 0 -6.8 0M271.95 417.21a3.4 3.4 0 1 0 6.8 0a3.4 3.4 0 1 0 -6.8 0M279.78 423.16a3.4 3.4 0 1 0 6.8 0a3.4 3.4 0 1 0 -6.8 0M273.83 435.64a3.4 3.4 0 1 0 6.8 0a3.4 3.4 0 1 0 -6.8 0M270.87 436.86a3.4 3.4 0 1 0 6.8 0a3.4 3.4 0 1 0 -6.8 0M268.4 446.36a3.4 3.4 0 1 0 6.8 0a3.4 3.4 0 1 0 -6.8 0M262.64 452.56a3.4 3.4 0 1 0 6.8 0a3.4 3.4 0 1 0 -6.8 0M265.36 458.01a3.4 3.4 0 1 0 6.8 0a3.4 3.4 0 1 0 -6.8 0M263.61 464.86a3.4 3.4 0 1 0 6.8 0a3.4 3.4 0 1 0 -6.8 0M255.38 476.16a3.4 3.4 0 1 0 6.8 0a3.4 3.4 0 1 0 -6.8 0M255.77 480.26a3.4 3.4 0 1 0 6.8 0a3.4 3.4 0 1 0 -6.8 0M254.93 490.13a3.4 3.4 0 1 0 6.8 0a3.4 3.4 0 1 0 -6.8 0M250.53 495.85a3.4 3.4 0 1 0 6.8 0a3.4 3.4 0 1 0 -6.8 0M251.44 504.73a3.4 3.4 0 1 0 6.8 0a3.4 3.4 0 1 0 -6.8 0M247.72 506.95a3.4 3.4 0 1 0 6.8 0a3.4 3.4 0 1 0 -6.8 0M251.31 515.63a3.4 3.4 0 1 0 6.8 0a3.4 3.4 0 1 0 -6.8 0M248.17 524.56a3.4 3.4 0 1 0 6.8 0a3.4 3.4 0 1 0 -6.8 0M245.28 529.91a3.4 3.4 0 1 0 6.8 0a3.4 3.4 0 1 0 -6.8 0M247.84 538.61a3.4 3.4 0 1 0 6.8 0a3.4 3.4 0 1 0 -6.8 0M249.91 541.59a3.4 3.4 0 1 0 6.8 0a3.4 3.4 0 1 0 -6.8 0M241.07 551.8a3.4 3.4 0 1 0 6.8 0a3.4 3.4 0 1 0 -6.8 0M244.39 557.84a3.4 3.4 0 1 0 6.8 0a3.4 3.4 0 1 0 -6.8 0M241.44 564.82a3.4 3.4 0 1 0 6.8 0a3.4 3.4 0 1 0 -6.8 0M236.66 573.81a3.4 3.4 0 1 0 6.8 0a3.4 3.4 0 1 0 -6.8 0M238.78 580.66a3.4 3.4 0 1 0 6.8 0a3.4 3.4 0 1 0 -6.8 0M239.61 588.8a3.4 3.4 0 1 0 6.8 0a3.4 3.4 0 1 0 -6.8 0M234.26 593.49a3.4 3.4 0 1 0 6.8 0a3.4 3.4 0 1 0 -6.8 0M232.1 602.61a3.4 3.4 0 1 0 6.8 0a3.4 3.4 0 1 0 -6.8 0M232.92 608.25a3.4 3.4 0 1 0 6.8 0a3.4 3.4 0 1 0 -6.8 0M234.65 612.3a3.4 3.4 0 1 0 6.8 0a3.4 3.4 0 1 0 -6.8 0M228.82 621a3.4 3.4 0 1 0 6.8 0a3.4 3.4 0 1 0 -6.8 0M228.57 629.87a3.4 3.4 0 1 0 6.8 0a3.4 3.4 0 1 0 -6.8 0M232.61 636.64a3.4 3.4 0 1 0 6.8 0a3.4 3.4 0 1 0 -6.8 0M228.26 639.74a3.4 3.4 0 1 0 6.8 0a3.4 3.4 0 1 0 -6.8 0M226.89 647.96a3.4 3.4 0 1 0 6.8 0a3.4 3.4 0 1 0 -6.8 0M227.6 655.19a3.4 3.4 0 1 0 6.8 0a3.4 3.4 0 1 0 -6.8 0M227.41 664.05a3.4 3.4 0 1 0 6.8 0a3.4 3.4 0 1 0 -6.8 0M219.15 670.76a3.4 3.4 0 1 0 6.8 0a3.4 3.4 0 1 0 -6.8 0M219.68 678.36a3.4 3.4 0 1 0 6.8 0a3.4 3.4 0 1 0 -6.8 0M218.97 685.89a3.4 3.4 0 1 0 6.8 0a3.4 3.4 0 1 0 -6.8 0M218.58 692.35a3.4 3.4 0 1 0 6.8 0a3.4 3.4 0 1 0 -6.8 0M219.57 697.39a3.4 3.4 0 1 0 6.8 0a3.4 3.4 0 1 0 -6.8 0M218.16 702.11a3.4 3.4 0 1 0 6.8 0a3.4 3.4 0 1 0 -6.8 0M215.02 713.66a3.4 3.4 0 1 0 6.8 0a3.4 3.4 0 1 0 -6.8 0M215.66 721.62a3.4 3.4 0 1 0 6.8 0a3.4 3.4 0 1 0 -6.8 0M214.47 726.31a3.4 3.4 0 1 0 6.8 0a3.4 3.4 0 1 0 -6.8 0M213.58 733.78a3.4 3.4 0 1 0 6.8 0a3.4 3.4 0 1 0 -6.8 0M210.38 738.15a3.4 3.4 0 1 0 6.8 0a3.4 3.4 0 1 0 -6.8 0M209.73 745.94a3.4 3.4 0 1 0 6.8 0a3.4 3.4 0 1 0 -6.8 0M208.4 755.65a3.4 3.4 0 1 0 6.8 0a3.4 3.4 0 1 0 -6.8 0M208.08 763.28a3.4 3.4 0 1 0 6.8 0a3.4 3.4 0 1 0 -6.8 0M206.83 769.94a3.4 3.4 0 1 0 6.8 0a3.4 3.4 0 1 0 -6.8 0M199.21 773.78a3.4 3.4 0 1 0 6.8 0a3.4 3.4 0 1 0 -6.8 0M203.66 783.54a3.4 3.4 0 1 0 6.8 0a3.4 3.4 0 1 0 -6.8 0M207.08 786.71a3.4 3.4 0 1 0 6.8 0a3.4 3.4 0 1 0 -6.8 0M204.62 794.55a3.4 3.4 0 1 0 6.8 0a3.4 3.4 0 1 0 -6.8 0M201.95 802.42a3.4 3.4 0 1 0 6.8 0a3.4 3.4 0 1 0 -6.8 0M199.33 808.43a3.4 3.4 0 1 0 6.8 0a3.4 3.4 0 1 0 -6.8 0M452.39 20.07a3.4 3.4 0 1 0 6.8 0a3.4 3.4 0 1 0 -6.8 0M453.68 26.16a3.4 3.4 0 1 0 6.8 0a3.4 3.4 0 1 0 -6.8 0M449.4 37.59a3.4 3.4 0 1 0 6.8 0a3.4 3.4 0 1 0 -6.8 0M450.34 40.84a3.4 3.4 0 1 0 6.8 0a3.4 3.4 0 1 0 -6.8 0M448.91 48.82a3.4 3.4 0 1 0 6.8 0a3.4 3.4 0 1 0 -6.8 0M435.25 57.13a3.4 3.4 0 1 0 6.8 0a3.4 3.4 0 1 0 -6.8 0M423.42 63.44a3.4 3.4 0 1 0 6.8 0a3.4 3.4 0 1 0 -6.8 0M422.4 68.13a3.4 3.4 0 1 0 6.8 0a3.4 3.4 0 1 0 -6.8 0M416.94 76.58a3.4 3.4 0 1 0 6.8 0a3.4 3.4 0 1 0 -6.8 0M387.21 82.45a3.4 3.4 0 1 0 6.8 0a3.4 3.4 0 1 0 -6.8 0M378.51 89.77a3.4 3.4 0 1 0 6.8 0a3.4 3.4 0 1 0 -6.8 0M382.63 96.91a3.4 3.4 0 1 0 6.8 0a3.4 3.4 0 1 0 -6.8 0M364.16 105.81a3.4 3.4 0 1 0 6.8 0a3.4 3.4 0 1 0 -6.8 0M358.23 109.35a3.4 3.4 0 1 0 6.8 0a3.4 3.4 0 1 0 -6.8 0M359.4 117.41a3.4 3.4 0 1 0 6.8 0a3.4 3.4 0 1 0 -6.8 0M342.39 128.27a3.4 3.4 0 1 0 6.8 0a3.4 3.4 0 1 0 -6.8 0M344.77 134.82a3.4 3.4 0 1 0 6.8 0a3.4 3.4 0 1 0 -6.8 0M341.2 141.08a3.4 3.4 0 1 0 6.8 0a3.4 3.4 0 1 0 -6.8 0M336.77 147.32a3.4 3.4 0 1 0 6.8 0a3.4 3.4 0 1 0 -6.8 0M334.77 152.56a3.4 3.4 0 1 0 6.8 0a3.4 3.4 0 1 0 -6.8 0M333.36 159.08a3.4 3.4 0 1 0 6.8 0a3.4 3.4 0 1 0 -6.8 0M329.22 167.97a3.4 3.4 0 1 0 6.8 0a3.4 3.4 0 1 0 -6.8 0M331.24 174.81a3.4 3.4 0 1 0 6.8 0a3.4 3.4 0 1 0 -6.8 0M326.76 184.48a3.4 3.4 0 1 0 6.8 0a3.4 3.4 0 1 0 -6.8 0M326.02 187.55a3.4 3.4 0 1 0 6.8 0a3.4 3.4 0 1 0 -6.8 0M321.43 197.79a3.4 3.4 0 1 0 6.8 0a3.4 3.4 0 1 0 -6.8 0M326.85 201.71a3.4 3.4 0 1 0 6.8 0a3.4 3.4 0 1 0 -6.8 0M326.63 209.5a3.4 3.4 0 1 0 6.8 0a3.4 3.4 0 1 0 -6.8 0M321.47 218.98a3.4 3.4 0 1 0 6.8 0a3.4 3.4 0 1 0 -6.8 0M323.59 225.33a3.4 3.4 0 1 0 6.8 0a3.4 3.4 0 1 0 -6.8 0M325.76 228.6a3.4 3.4 0 1 0 6.8 0a3.4 3.4 0 1 0 -6.8 0M319.56 236.99a3.4 3.4 0 1 0 6.8 0a3.4 3.4 0 1 0 -6.8 0M318.08 245.67a3.4 3.4 0 1 0 6.8 0a3.4 3.4 0 1 0 -6.8 0M307.33 248.93a3.4 3.4 0 1 0 6.8 0a3.4 3.4 0 1 0 -6.8 0M317.95 259.43a3.4 3.4 0 1 0 6.8 0a3.4 3.4 0 1 0 -6.8 0M314.56 267.21a3.4 3.4 0 1 0 6.8 0a3.4 3.4 0 1 0 -6.8 0M305.61 274.65a3.4 3.4 0 1 0 6.8 0a3.4 3.4 0 1 0 -6.8 0M306.91 281.33a3.4 3.4 0 1 0 6.8 0a3.4 3.4 0 1 0 -6.8 0M306.03 288.96a3.4 3.4 0 1 0 6.8 0a3.4 3.4 0 1 0 -6.8 0M308.03 291.22a3.4 3.4 0 1 0 6.8 0a3.4 3.4 0 1 0 -6.8 0M299.63 302.16a3.4 3.4 0 1 0 6.8 0a3.4 3.4 0 1 0 -6.8 0M303.64 309.8a3.4 3.4 0 1 0 6.8 0a3.4 3.4 0 1 0 -6.8 0M305.08 315.06a3.4 3.4 0 1 0 6.8 0a3.4 3.4 0 1 0 -6.8 0M302.56 319.81a3.4 3.4 0 1 0 6.8 0a3.4 3.4 0 1 0 -6.8 0M303.36 329a3.4 3.4 0 1 0 6.8 0a3.4 3.4 0 1 0 -6.8 0M298.93 335.76a3.4 3.4 0 1 0 6.8 0a3.4 3.4 0 1 0 -6.8 0M298.75 340.65a3.4 3.4 0 1 0 6.8 0a3.4 3.4 0 1 0 -6.8 0M293.73 348.21a3.4 3.4 0 1 0 6.8 0a3.4 3.4 0 1 0 -6.8 0M291.07 353.89a3.4 3.4 0 1 0 6.8 0a3.4 3.4 0 1 0 -6.8 0M295.8 364.35a3.4 3.4 0 1 0 6.8 0a3.4 3.4 0 1 0 -6.8 0M286.24 370.09a3.4 3.4 0 1 0 6.8 0a3.4 3.4 0 1 0 -6.8 0M283.6 378.54a3.4 3.4 0 1 0 6.8 0a3.4 3.4 0 1 0 -6.8 0M285.12 384.29a3.4 3.4 0 1 0 6.8 0a3.4 3.4 0 1 0 -6.8 0M276.71 391.62a3.4 3.4 0 1 0 6.8 0a3.4 3.4 0 1 0 -6.8 0M281.16 399.46a3.4 3.4 0 1 0 6.8 0a3.4 3.4 0 1 0 -6.8 0M276.78 403.21a3.4 3.4 0 1 0 6.8 0a3.4 3.4 0 1 0 -6.8 0M276.92 413.06a3.4 3.4 0 1 0 6.8 0a3.4 3.4 0 1 0 -6.8 0M269.85 417.21a3.4 3.4 0 1 0 6.8 0a3.4 3.4 0 1 0 -6.8 0M271.96 427.48a3.4 3.4 0 1 0 6.8 0a3.4 3.4 0 1 0 -6.8 0M271.51 434.11a3.4 3.4 0 1 0 6.8 0a3.4 3.4 0 1 0 -6.8 0M265.18 439.48a3.4 3.4 0 1 0 6.8 0a3.4 3.4 0 1 0 -6.8 0M263.5 449.45a3.4 3.4 0 1 0 6.8 0a3.4 3.4 0 1 0 -6.8 0M263.99 456.71a3.4 3.4 0 1 0 6.8 0a3.4 3.4 0 1 0 -6.8 0M258.85 461.93a3.4 3.4 0 1 0 6.8 0a3.4 3.4 0 1 0 -6.8 0M259.53 469.22a3.4 3.4 0 1 0 6.8 0a3.4 3.4 0 1 0 -6.8 0M258.93 476.52a3.4 3.4 0 1 0 6.8 0a3.4 3.4 0 1 0 -6.8 0M255.53 484.11a3.4 3.4 0 1 0 6.8 0a3.4 3.4 0 1 0 -6.8 0M251.01 490.81a3.4 3.4 0 1 0 6.8 0a3.4 3.4 0 1 0 -6.8 0M250.54 495.84a3.4 3.4 0 1 0 6.8 0a3.4 3.4 0 1 0 -6.8 0M249.34 505.16a3.4 3.4 0 1 0 6.8 0a3.4 3.4 0 1 0 -6.8 0M253.26 511.02a3.4 3.4 0 1 0 6.8 0a3.4 3.4 0 1 0 -6.8 0M249.12 514.24a3.4 3.4 0 1 0 6.8 0a3.4 3.4 0 1 0 -6.8 0M247.03 523.97a3.4 3.4 0 1 0 6.8 0a3.4 3.4 0 1 0 -6.8 0M247.58 529.51a3.4 3.4 0 1 0 6.8 0a3.4 3.4 0 1 0 -6.8 0M246.46 535.75a3.4 3.4 0 1 0 6.8 0a3.4 3.4 0 1 0 -6.8 0M246.1 542.91a3.4 3.4 0 1 0 6.8 0a3.4 3.4 0 1 0 -6.8 0M240.42 551.59a3.4 3.4 0 1 0 6.8 0a3.4 3.4 0 1 0 -6.8 0M245.85 556.35a3.4 3.4 0 1 0 6.8 0a3.4 3.4 0 1 0 -6.8 0M243.98 563.86a3.4 3.4 0 1 0 6.8 0a3.4 3.4 0 1 0 -6.8 0M240.37 571.51a3.4 3.4 0 1 0 6.8 0a3.4 3.4 0 1 0 -6.8 0M235.54 577.44a3.4 3.4 0 1 0 6.8 0a3.4 3.4 0 1 0 -6.8 0M235.61 583.65a3.4 3.4 0 1 0 6.8 0a3.4 3.4 0 1 0 -6.8 0M235.6 596.03a3.4 3.4 0 1 0 6.8 0a3.4 3.4 0 1 0 -6.8 0M235.27 597.96a3.4 3.4 0 1 0 6.8 0a3.4 3.4 0 1 0 -6.8 0M230.69 605.14a3.4 3.4 0 1 0 6.8 0a3.4 3.4 0 1 0 -6.8 0M229.95 611.87a3.4 3.4 0 1 0 6.8 0a3.4 3.4 0 1 0 -6.8 0M227.85 623.88a3.4 3.4 0 1 0 6.8 0a3.4 3.4 0 1 0 -6.8 0M228.58 628.77a3.4 3.4 0 1 0 6.8 0a3.4 3.4 0 1 0 -6.8 0M224.84 637.47a3.4 3.4 0 1 0 6.8 0a3.4 3.4 0 1 0 -6.8 0M227.58 639.87a3.4 3.4 0 1 0 6.8 0a3.4 3.4 0 1 0 -6.8 0M221.69 650.51a3.4 3.4 0 1 0 6.8 0a3.4 3.4 0 1 0 -6.8 0M222.66 653.72a3.4 3.4 0 1 0 6.8 0a3.4 3.4 0 1 0 -6.8 0M217.29 665.35a3.4 3.4 0 1 0 6.8 0a3.4 3.4 0 1 0 -6.8 0M219.36 670.71a3.4 3.4 0 1 0 6.8 0a3.4 3.4 0 1 0 -6.8 0M219.29 679.73a3.4 3.4 0 1 0 6.8 0a3.4 3.4 0 1 0 -6.8 0M217.48 685.82a3.4 3.4 0 1 0 6.8 0a3.4 3.4 0 1 0 -6.8 0M220.72 691.72a3.4 3.4 0 1 0 6.8 0a3.4 3.4 0 1 0 -6.8 0M218.93 695.66a3.4 3.4 0 1 0 6.8 0a3.4 3.4 0 1 0 -6.8 0M214.14 704.4a3.4 3.4 0 1 0 6.8 0a3.4 3.4 0 1 0 -6.8 0M214.95 714.64a3.4 3.4 0 1 0 6.8 0a3.4 3.4 0 1 0 -6.8 0M214.29 716.2a3.4 3.4 0 1 0 6.8 0a3.4 3.4 0 1 0 -6.8 0M209.56 724.35a3.4 3.4 0 1 0 6.8 0a3.4 3.4 0 1 0 -6.8 0M209.82 735.24a3.4 3.4 0 1 0 6.8 0a3.4 3.4 0 1 0 -6.8 0M208.92 742.01a3.4 3.4 0 1 0 6.8 0a3.4 3.4 0 1 0 -6.8 0M210.5 749.05a3.4 3.4 0 1 0 6.8 0a3.4 3.4 0 1 0 -6.8 0M205.73 756.31a3.4 3.4 0 1 0 6.8 0a3.4 3.4 0 1 0 -6.8 0M208.97 760.04a3.4 3.4 0 1 0 6.8 0a3.4 3.4 0 1 0 -6.8 0M207.01 766.9a3.4 3.4 0 1 0 6.8 0a3.4 3.4 0 1 0 -6.8 0M205.38 775.94a3.4 3.4 0 1 0 6.8 0a3.4 3.4 0 1 0 -6.8 0M201.43 778.9a3.4 3.4 0 1 0 6.8 0a3.4 3.4 0 1 0 -6.8 0M197.9 787.79a3.4 3.4 0 1 0 6.8 0a3.4 3.4 0 1 0 -6.8 0M204.13 797.89a3.4 3.4 0 1 0 6.8 0a3.4 3.4 0 1 0 -6.8 0M200.47 800.43a3.4 3.4 0 1 0 6.8 0a3.4 3.4 0 1 0 -6.8 0M198.38 809a3.4 3.4 0 1 0 6.8 0a3.4 3.4 0 1 0 -6.8 0M454.53 23.25a3.4 3.4 0 1 0 6.8 0a3.4 3.4 0 1 0 -6.8 0M451.83 27.02a3.4 3.4 0 1 0 6.8 0a3.4 3.4 0 1 0 -6.8 0M450.33 32.6a3.4 3.4 0 1 0 6.8 0a3.4 3.4 0 1 0 -6.8 0M449.51 41.18a3.4 3.4 0 1 0 6.8 0a3.4 3.4 0 1 0 -6.8 0M438.12 49a3.4 3.4 0 1 0 6.8 0a3.4 3.4 0 1 0 -6.8 0M431.97 56.74a3.4 3.4 0 1 0 6.8 0a3.4 3.4 0 1 0 -6.8 0M433.44 60.82a3.4 3.4 0 1 0 6.8 0a3.4 3.4 0 1 0 -6.8 0M419.6 68.81a3.4 3.4 0 1 0 6.8 0a3.4 3.4 0 1 0 -6.8 0M390.54 79.78a3.4 3.4 0 1 0 6.8 0a3.4 3.4 0 1 0 -6.8 0M380.65 82.84a3.4 3.4 0 1 0 6.8 0a3.4 3.4 0 1 0 -6.8 0M377.98 93.65a3.4 3.4 0 1 0 6.8 0a3.4 3.4 0 1 0 -6.8 0M369.53 95.37a3.4 3.4 0 1 0 6.8 0a3.4 3.4 0 1 0 -6.8 0M356.87 107.95a3.4 3.4 0 1 0 6.8 0a3.4 3.4 0 1 0 -6.8 0M348.88 112.61a3.4 3.4 0 1 0 6.8 0a3.4 3.4 0 1 0 -6.8 0M352.96 117.86a3.4 3.4 0 1 0 6.8 0a3.4 3.4 0 1 0 -6.8 0M351.06 125.86a3.4 3.4 0 1 0 6.8 0a3.4 3.4 0 1 0 -6.8 0M338.47 131.1a3.4 3.4 0 1 0 6.8 0a3.4 3.4 0 1 0 -6.8 0M339.85 138.07a3.4 3.4 0 1 0 6.8 0a3.4 3.4 0 1 0 -6.8 0M332.89 149.36a3.4 3.4 0 1 0 6.8 0a3.4 3.4 0 1 0 -6.8 0M331.84 153.78a3.4 3.4 0 1 0 6.8 0a3.4 3.4 0 1 0 -6.8 0M333.35 161.34a3.4 3.4 0 1 0 6.8 0a3.4 3.4 0 1 0 -6.8 0M332.56 165.61a3.4 3.4 0 1 0 6.8 0a3.4 3.4 0 1 0 -6.8 0M330.5 174.68a3.4 3.4 0 1 0 6.8 0a3.4 3.4 0 1 0 -6.8 0M328.06 184.22a3.4 3.4 0 1 0 6.8 0a3.4 3.4 0 1 0 -6.8 0M323.13 188.8a3.4 3.4 0 1 0 6.8 0a3.4 3.4 0 1 0 -6.8 0M325.85 197.87a3.4 3.4 0 1 0 6.8 0a3.4 3.4 0 1 0 -6.8 0M323.13 204.73a3.4 3.4 0 1 0 6.8 0a3.4 3.4 0 1 0 -6.8 0M325.26 207.49a3.4 3.4 0 1 0 6.8 0a3.4 3.4 0 1 0 -6.8 0M329.37 218.19a3.4 3.4 0 1 0 6.8 0a3.4 3.4 0 1 0 -6.8 0M323.01 224.61a3.4 3.4 0 1 0 6.8 0a3.4 3.4 0 1 0 -6.8 0M322.54 229.63a3.4 3.4 0 1 0 6.8 0a3.4 3.4 0 1 0 -6.8 0M319.63 238.94a3.4 3.4 0 1 0 6.8 0a3.4 3.4 0 1 0 -6.8 0M319.67 246.72a3.4 3.4 0 1 0 6.8 0a3.4 3.4 0 1 0 -6.8 0M312.98 250.81a3.4 3.4 0 1 0 6.8 0a3.4 3.4 0 1 0 -6.8 0M316.9 260.59a3.4 3.4 0 1 0 6.8 0a3.4 3.4 0 1 0 -6.8 0M310.99 263.73a3.4 3.4 0 1 0 6.8 0a3.4 3.4 0 1 0 -6.8 0M314.24 269.96a3.4 3.4 0 1 0 6.8 0a3.4 3.4 0 1 0 -6.8 0M307.72 280.15a3.4 3.4 0 1 0 6.8 0a3.4 3.4 0 1 0 -6.8 0M308.94 286.39a3.4 3.4 0 1 0 6.8 0a3.4 3.4 0 1 0 -6.8 0M309.32 292.8a3.4 3.4 0 1 0 6.8 0a3.4 3.4 0 1 0 -6.8 0M307.19 300.05a3.4 3.4 0 1 0 6.8 0a3.4 3.4 0 1 0 -6.8 0M303.54 309.45a3.4 3.4 0 1 0 6.8 0a3.4 3.4 0 1 0 -6.8 0M306.74 314.96a3.4 3.4 0 1 0 6.8 0a3.4 3.4 0 1 0 -6.8 0M300.93 323.04a3.4 3.4 0 1 0 6.8 0a3.4 3.4 0 1 0 -6.8 0M302.31 328.32a3.4 3.4 0 1 0 6.8 0a3.4 3.4 0 1 0 -6.8 0M300.41 336.47a3.4 3.4 0 1 0 6.8 0a3.4 3.4 0 1 0 -6.8 0M302.74 339.23a3.4 3.4 0 1 0 6.8 0a3.4 3.4 0 1 0 -6.8 0M294.37 349.96a3.4 3.4 0 1 0 6.8 0a3.4 3.4 0 1 0 -6.8 0M290.91 357.07a3.4 3.4 0 1 0 6.8 0a3.4 3.4 0 1 0 -6.8 0M290.53 362.39a3.4 3.4 0 1 0 6.8 0a3.4 3.4 0 1 0 -6.8 0M292.09 367.41a3.4 3.4 0 1 0 6.8 0a3.4 3.4 0 1 0 -6.8 0M281.69 375.77a3.4 3.4 0 1 0 6.8 0a3.4 3.4 0 1 0 -6.8 0M282.71 386.33a3.4 3.4 0 1 0 6.8 0a3.4 3.4 0 1 0 -6.8 0M283.18 391.45a3.4 3.4 0 1 0 6.8 0a3.4 3.4 0 1 0 -6.8 0M281.36 397.77a3.4 3.4 0 1 0 6.8 0a3.4 3.4 0 1 0 -6.8 0M277.17 407.51a3.4 3.4 0 1 0 6.8 0a3.4 3.4 0 1 0 -6.8 0M272.97 412.14a3.4 3.4 0 1 0 6.8 0a3.4 3.4 0 1 0 -6.8 0M269.81 418.61a3.4 3.4 0 1 0 6.8 0a3.4 3.4 0 1 0 -6.8 0M270.89 425.53a3.4 3.4 0 1 0 6.8 0a3.4 3.4 0 1 0 -6.8 0M272.62 431.51a3.4 3.4 0 1 0 6.8 0a3.4 3.4 0 1 0 -6.8 0M270.33 437.99a3.4 3.4 0 1 0 6.8 0a3.4 3.4 0 1 0 -6.8 0M266.83 449.24a3.4 3.4 0 1 0 6.8 0a3.4 3.4 0 1 0 -6.8 0M267.05 455.34a3.4 3.4 0 1 0 6.8 0a3.4 3.4 0 1 0 -6.8 0M261.7 463.19a3.4 3.4 0 1 0 6.8 0a3.4 3.4 0 1 0 -6.8 0M261.43 470.3a3.4 3.4 0 1 0 6.8 0a3.4 3.4 0 1 0 -6.8 0M256.91 475.55a3.4 3.4 0 1 0 6.8 0a3.4 3.4 0 1 0 -6.8 0M256.15 482.43a3.4 3.4 0 1 0 6.8 0a3.4 3.4 0 1 0 -6.8 0M251 486.06a3.4 3.4 0 1 0 6.8 0a3.4 3.4 0 1 0 -6.8 0M251.19 495.08a3.4 3.4 0 1 0 6.8 0a3.4 3.4 0 1 0 -6.8 0M250.1 502a3.4 3.4 0 1 0 6.8 0a3.4 3.4 0 1 0 -6.8 0M253.13 509.69a3.4 3.4 0 1 0 6.8 0a3.4 3.4 0 1 0 -6.8 0M245.72 518.26a3.4 3.4 0 1 0 6.8 0a3.4 3.4 0 1 0 -6.8 0M248.91 526.25a3.4 3.4 0 1 0 6.8 0a3.4 3.4 0 1 0 -6.8 0M242.07 533.25a3.4 3.4 0 1 0 6.8 0a3.4 3.4 0 1 0 -6.8 0M242 535.85a3.4 3.4 0 1 0 6.8 0a3.4 3.4 0 1 0 -6.8 0M246.67 543.13a3.4 3.4 0 1 0 6.8 0a3.4 3.4 0 1 0 -6.8 0M241.27 551.92a3.4 3.4 0 1 0 6.8 0a3.4 3.4 0 1 0 -6.8 0M246.73 557.93a3.4 3.4 0 1 0 6.8 0a3.4 3.4 0 1 0 -6.8 0M240.27 565.36a3.4 3.4 0 1 0 6.8 0a3.4 3.4 0 1 0 -6.8 0M236.51 573.41a3.4 3.4 0 1 0 6.8 0a3.4 3.4 0 1 0 -6.8 0M237.65 579.65a3.4 3.4 0 1 0 6.8 0a3.4 3.4 0 1 0 -6.8 0M235.34 583.38a3.4 3.4 0 1 0 6.8 0a3.4 3.4 0 1 0 -6.8 0M235.57 595.51a3.4 3.4 0 1 0 6.8 0a3.4 3.4 0 1 0 -6.8 0M233.58 602.94a3.4 3.4 0 1 0 6.8 0a3.4 3.4 0 1 0 -6.8 0M231.89 609.16a3.4 3.4 0 1 0 6.8 0a3.4 3.4 0 1 0 -6.8 0M230.44 615.41a3.4 3.4 0 1 0 6.8 0a3.4 3.4 0 1 0 -6.8 0M228.69 622.38a3.4 3.4 0 1 0 6.8 0a3.4 3.4 0 1 0 -6.8 0M227.61 629.84a3.4 3.4 0 1 0 6.8 0a3.4 3.4 0 1 0 -6.8 0M228.37 634.85a3.4 3.4 0 1 0 6.8 0a3.4 3.4 0 1 0 -6.8 0M224.17 642.79a3.4 3.4 0 1 0 6.8 0a3.4 3.4 0 1 0 -6.8 0M223.26 647.61a3.4 3.4 0 1 0 6.8 0a3.4 3.4 0 1 0 -6.8 0M224.46 654.86a3.4 3.4 0 1 0 6.8 0a3.4 3.4 0 1 0 -6.8 0M221.24 661.6a3.4 3.4 0 1 0 6.8 0a3.4 3.4 0 1 0 -6.8 0M221 671.34a3.4 3.4 0 1 0 6.8 0a3.4 3.4 0 1 0 -6.8 0M223.82 675.86a3.4 3.4 0 1 0 6.8 0a3.4 3.4 0 1 0 -6.8 0M218.07 681.65a3.4 3.4 0 1 0 6.8 0a3.4 3.4 0 1 0 -6.8 0M215.52 689.9a3.4 3.4 0 1 0 6.8 0a3.4 3.4 0 1 0 -6.8 0M218.58 698.14a3.4 3.4 0 1 0 6.8 0a3.4 3.4 0 1 0 -6.8 0M216.83 701.81a3.4 3.4 0 1 0 6.8 0a3.4 3.4 0 1 0 -6.8 0M217.75 713.61a3.4 3.4 0 1 0 6.8 0a3.4 3.4 0 1 0 -6.8 0M213.15 718.84a3.4 3.4 0 1 0 6.8 0a3.4 3.4 0 1 0 -6.8 0M216.33 727.04a3.4 3.4 0 1 0 6.8 0a3.4 3.4 0 1 0 -6.8 0M208.53 732.32a3.4 3.4 0 1 0 6.8 0a3.4 3.4 0 1 0 -6.8 0M210.11 737.19a3.4 3.4 0 1 0 6.8 0a3.4 3.4 0 1 0 -6.8 0M207.13 748.93a3.4 3.4 0 1 0 6.8 0a3.4 3.4 0 1 0 -6.8 0M206.25 755.08a3.4 3.4 0 1 0 6.8 0a3.4 3.4 0 1 0 -6.8 0M205.7 763.41a3.4 3.4 0 1 0 6.8 0a3.4 3.4 0 1 0 -6.8 0M202.36 767.11a3.4 3.4 0 1 0 6.8 0a3.4 3.4 0 1 0 -6.8 0M205.28 777.34a3.4 3.4 0 1 0 6.8 0a3.4 3.4 0 1 0 -6.8 0M202.23 783.22a3.4 3.4 0 1 0 6.8 0a3.4 3.4 0 1 0 -6.8 0M205.89 789.14a3.4 3.4 0 1 0 6.8 0a3.4 3.4 0 1 0 -6.8 0M202.84 794.92a3.4 3.4 0 1 0 6.8 0a3.4 3.4 0 1 0 -6.8 0M200.15 800.57a3.4 3.4 0 1 0 6.8 0a3.4 3.4 0 1 0 -6.8 0M203.34 811.83a3.4 3.4 0 1 0 6.8 0a3.4 3.4 0 1 0 -6.8 0M456.53 19.56a3.4 3.4 0 1 0 6.8 0a3.4 3.4 0 1 0 -6.8 0M455.76 28.27a3.4 3.4 0 1 0 6.8 0a3.4 3.4 0 1 0 -6.8 0M453.52 33.74a3.4 3.4 0 1 0 6.8 0a3.4 3.4 0 1 0 -6.8 0M453.34 40.17a3.4 3.4 0 1 0 6.8 0a3.4 3.4 0 1 0 -6.8 0M453.61 51.69a3.4 3.4 0 1 0 6.8 0a3.4 3.4 0 1 0 -6.8 0M448.95 59.05a3.4 3.4 0 1 0 6.8 0a3.4 3.4 0 1 0 -6.8 0M443.42 62.94a3.4 3.4 0 1 0 6.8 0a3.4 3.4 0 1 0 -6.8 0M422 72.62a3.4 3.4 0 1 0 6.8 0a3.4 3.4 0 1 0 -6.8 0M421.41 77.4a3.4 3.4 0 1 0 6.8 0a3.4 3.4 0 1 0 -6.8 0M414.93 83.02a3.4 3.4 0 1 0 6.8 0a3.4 3.4 0 1 0 -6.8 0M412.07 90.93a3.4 3.4 0 1 0 6.8 0a3.4 3.4 0 1 0 -6.8 0M397.87 96.24a3.4 3.4 0 1 0 6.8 0a3.4 3.4 0 1 0 -6.8 0M369.23 107.06a3.4 3.4 0 1 0 6.8 0a3.4 3.4 0 1 0 -6.8 0M375.58 113.17a3.4 3.4 0 1 0 6.8 0a3.4 3.4 0 1 0 -6.8 0M353.33 121.12a3.4 3.4 0 1 0 6.8 0a3.4 3.4 0 1 0 -6.8 0M358.9 125.63a3.4 3.4 0 1 0 6.8 0a3.4 3.4 0 1 0 -6.8 0M352.74 131.83a3.4 3.4 0 1 0 6.8 0a3.4 3.4 0 1 0 -6.8 0M344.76 139.6a3.4 3.4 0 1 0 6.8 0a3.4 3.4 0 1 0 -6.8 0M342.9 147.41a3.4 3.4 0 1 0 6.8 0a3.4 3.4 0 1 0 -6.8 0M345.16 154.67a3.4 3.4 0 1 0 6.8 0a3.4 3.4 0 1 0 -6.8 0M341 160.88a3.4 3.4 0 1 0 6.8 0a3.4 3.4 0 1 0 -6.8 0M339.71 165.63a3.4 3.4 0 1 0 6.8 0a3.4 3.4 0 1 0 -6.8 0M337.09 175.74a3.4 3.4 0 1 0 6.8 0a3.4 3.4 0 1 0 -6.8 0M331.04 183.38a3.4 3.4 0 1 0 6.8 0a3.4 3.4 0 1 0 -6.8 0M334.47 187.55a3.4 3.4 0 1 0 6.8 0a3.4 3.4 0 1 0 -6.8 0M330.04 194.52a3.4 3.4 0 1 0 6.8 0a3.4 3.4 0 1 0 -6.8 0M332.81 201.77a3.4 3.4 0 1 0 6.8 0a3.4 3.4 0 1 0 -6.8 0M328.01 211.6a3.4 3.4 0 1 0 6.8 0a3.4 3.4 0 1 0 -6.8 0M325.01 215.78a3.4 3.4 0 1 0 6.8 0a3.4 3.4 0 1 0 -6.8 0M325.51 225.23a3.4 3.4 0 1 0 6.8 0a3.4 3.4 0 1 0 -6.8 0M326.44 228.25a3.4 3.4 0 1 0 6.8 0a3.4 3.4 0 1 0 -6.8 0M322.94 237.1a3.4 3.4 0 1 0 6.8 0a3.4 3.4 0 1 0 -6.8 0M320.36 244.77a3.4 3.4 0 1 0 6.8 0a3.4 3.4 0 1 0 -6.8 0M318.45 251.04a3.4 3.4 0 1 0 6.8 0a3.4 3.4 0 1 0 -6.8 0M316.02 256.23a3.4 3.4 0 1 0 6.8 0a3.4 3.4 0 1 0 -6.8 0M321.15 267.23a3.4 3.4 0 1 0 6.8 0a3.4 3.4 0 1 0 -6.8 0M312.56 273.55a3.4 3.4 0 1 0 6.8 0a3.4 3.4 0 1 0 -6.8 0M313.14 279.24a3.4 3.4 0 1 0 6.8 0a3.4 3.4 0 1 0 -6.8 0M315.67 284.59a3.4 3.4 0 1 0 6.8 0a3.4 3.4 0 1 0 -6.8 0M313.84 293.51a3.4 3.4 0 1 0 6.8 0a3.4 3.4 0 1 0 -6.8 0M308.59 302.32a3.4 3.4 0 1 0 6.8 0a3.4 3.4 0 1 0 -6.8 0M306.06 304.63a3.4 3.4 0 1 0 6.8 0a3.4 3.4 0 1 0 -6.8 0M310.17 313.72a3.4 3.4 0 1 0 6.8 0a3.4 3.4 0 1 0 -6.8 0M307.51 322.82a3.4 3.4 0 1 0 6.8 0a3.4 3.4 0 1 0 -6.8 0M303.78 330.37a3.4 3.4 0 1 0 6.8 0a3.4 3.4 0 1 0 -6.8 0M303.1 333.75a3.4 3.4 0 1 0 6.8 0a3.4 3.4 0 1 0 -6.8 0M303.91 339.96a3.4 3.4 0 1 0 6.8 0a3.4 3.4 0 1 0 -6.8 0M300.34 350.29a3.4 3.4 0 1 0 6.8 0a3.4 3.4 0 1 0 -6.8 0M299.18 355.88a3.4 3.4 0 1 0 6.8 0a3.4 3.4 0 1 0 -6.8 0M298.73 363.74a3.4 3.4 0 1 0 6.8 0a3.4 3.4 0 1 0 -6.8 0M296.75 368.11a3.4 3.4 0 1 0 6.8 0a3.4 3.4 0 1 0 -6.8 0M287.49 375.3a3.4 3.4 0 1 0 6.8 0a3.4 3.4 0 1 0 -6.8 0M286.37 382.95a3.4 3.4 0 1 0 6.8 0a3.4 3.4 0 1 0 -6.8 0M283.93 392.27a3.4 3.4 0 1 0 6.8 0a3.4 3.4 0 1 0 -6.8 0M286.93 398.3a3.4 3.4 0 1 0 6.8 0a3.4 3.4 0 1 0 -6.8 0M282.77 404.35a3.4 3.4 0 1 0 6.8 0a3.4 3.4 0 1 0 -6.8 0M281.69 412.74a3.4 3.4 0 1 0 6.8 0a3.4 3.4 0 1 0 -6.8 0M280.43 419.91a3.4 3.4 0 1 0 6.8 0a3.4 3.4 0 1 0 -6.8 0M285.11 426.96a3.4 3.4 0 1 0 6.8 0a3.4 3.4 0 1 0 -6.8 0M278.55 433.44a3.4 3.4 0 1 0 6.8 0a3.4 3.4 0 1 0 -6.8 0M268.15 438.25a3.4 3.4 0 1 0 6.8 0a3.4 3.4 0 1 0 -6.8 0M274.54 447.6a3.4 3.4 0 1 0 6.8 0a3.4 3.4 0 1 0 -6.8 0M266.37 454.17a3.4 3.4 0 1 0 6.8 0a3.4 3.4 0 1 0 -6.8 0M266.83 460.5a3.4 3.4 0 1 0 6.8 0a3.4 3.4 0 1 0 -6.8 0M265.61 468.85a3.4 3.4 0 1 0 6.8 0a3.4 3.4 0 1 0 -6.8 0M261.63 473.97a3.4 3.4 0 1 0 6.8 0a3.4 3.4 0 1 0 -6.8 0M261.13 484.15a3.4 3.4 0 1 0 6.8 0a3.4 3.4 0 1 0 -6.8 0M257.56 491.53a3.4 3.4 0 1 0 6.8 0a3.4 3.4 0 1 0 -6.8 0M258.11 494.06a3.4 3.4 0 1 0 6.8 0a3.4 3.4 0 1 0 -6.8 0M255.36 500.28a3.4 3.4 0 1 0 6.8 0a3.4 3.4 0 1 0 -6.8 0M254.58 509.4a3.4 3.4 0 1 0 6.8 0a3.4 3.4 0 1 0 -6.8 0M250.46 514.25a3.4 3.4 0 1 0 6.8 0a3.4 3.4 0 1 0 -6.8 0M255.72 525.13a3.4 3.4 0 1 0 6.8 0a3.4 3.4 0 1 0 -6.8 0M245.78 529.57a3.4 3.4 0 1 0 6.8 0a3.4 3.4 0 1 0 -6.8 0M245.1 538.26a3.4 3.4 0 1 0 6.8 0a3.4 3.4 0 1 0 -6.8 0M248.38 544.61a3.4 3.4 0 1 0 6.8 0a3.4 3.4 0 1 0 -6.8 0M248.69 553.06a3.4 3.4 0 1 0 6.8 0a3.4 3.4 0 1 0 -6.8 0M249.31 560.65a3.4 3.4 0 1 0 6.8 0a3.4 3.4 0 1 0 -6.8 0M246.18 565.88a3.4 3.4 0 1 0 6.8 0a3.4 3.4 0 1 0 -6.8 0M244.5 575.08a3.4 3.4 0 1 0 6.8 0a3.4 3.4 0 1 0 -6.8 0M239.33 579.35a3.4 3.4 0 1 0 6.8 0a3.4 3.4 0 1 0 -6.8 0M240.74 584.95a3.4 3.4 0 1 0 6.8 0a3.4 3.4 0 1 0 -6.8 0M236.99 592.87a3.4 3.4 0 1 0 6.8 0a3.4 3.4 0 1 0 -6.8 0M240.33 601.37a3.4 3.4 0 1 0 6.8 0a3.4 3.4 0 1 0 -6.8 0M237.31 606.36a3.4 3.4 0 1 0 6.8 0a3.4 3.4 0 1 0 -6.8 0M233.4 615.72a3.4 3.4 0 1 0 6.8 0a3.4 3.4 0 1 0 -6.8 0M233.28 620.06a3.4 3.4 0 1 0 6.8 0a3.4 3.4 0 1 0 -6.8 0M228.92 629.79a3.4 3.4 0 1 0 6.8 0a3.4 3.4 0 1 0 -6.8 0M228.15 635.64a3.4 3.4 0 1 0 6.8 0a3.4 3.4 0 1 0 -6.8 0M231.54 641.01a3.4 3.4 0 1 0 6.8 0a3.4 3.4 0 1 0 -6.8 0M223.71 650.06a3.4 3.4 0 1 0 6.8 0a3.4 3.4 0 1 0 -6.8 0M230.09 656.7a3.4 3.4 0 1 0 6.8 0a3.4 3.4 0 1 0 -6.8 0M228.42 660.15a3.4 3.4 0 1 0 6.8 0a3.4 3.4 0 1 0 -6.8 0M226.68 666.99a3.4 3.4 0 1 0 6.8 0a3.4 3.4 0 1 0 -6.8 0M221.08 675.81a3.4 3.4 0 1 0 6.8 0a3.4 3.4 0 1 0 -6.8 0M221.34 682.43a3.4 3.4 0 1 0 6.8 0a3.4 3.4 0 1 0 -6.8 0M224.23 690.26a3.4 3.4 0 1 0 6.8 0a3.4 3.4 0 1 0 -6.8 0M222.69 696.7a3.4 3.4 0 1 0 6.8 0a3.4 3.4 0 1 0 -6.8 0M220.55 705.83a3.4 3.4 0 1 0 6.8 0a3.4 3.4 0 1 0 -6.8 0M216.29 709.1a3.4 3.4 0 1 0 6.8 0a3.4 3.4 0 1 0 -6.8 0M214.46 718.48a3.4 3.4 0 1 0 6.8 0a3.4 3.4 0 1 0 -6.8 0M219.46 723.79a3.4 3.4 0 1 0 6.8 0a3.4 3.4 0 1 0 -6.8 0M217.11 731.5a3.4 3.4 0 1 0 6.8 0a3.4 3.4 0 1 0 -6.8 0M215.25 739.86a3.4 3.4 0 1 0 6.8 0a3.4 3.4 0 1 0 -6.8 0M211.3 745.4a3.4 3.4 0 1 0 6.8 0a3.4 3.4 0 1 0 -6.8 0M208.57 753.37a3.4 3.4 0 1 0 6.8 0a3.4 3.4 0 1 0 -6.8 0M209.09 762.82a3.4 3.4 0 1 0 6.8 0a3.4 3.4 0 1 0 -6.8 0M207.78 768.49a3.4 3.4 0 1 0 6.8 0a3.4 3.4 0 1 0 -6.8 0M200.51 773.83a3.4 3.4 0 1 0 6.8 0a3.4 3.4 0 1 0 -6.8 0M207.31 781.85a3.4 3.4 0 1 0 6.8 0a3.4 3.4 0 1 0 -6.8 0M205.6 788.87a3.4 3.4 0 1 0 6.8 0a3.4 3.4 0 1 0 -6.8 0M204.18 796.71a3.4 3.4 0 1 0 6.8 0a3.4 3.4 0 1 0 -6.8 0M205.1 800.16a3.4 3.4 0 1 0 6.8 0a3.4 3.4 0 1 0 -6.8 0M203.85 806.59a3.4 3.4 0 1 0 6.8 0a3.4 3.4 0 1 0 -6.8 0M453.38 22.21a3.4 3.4 0 1 0 6.8 0a3.4 3.4 0 1 0 -6.8 0M454.48 25.87a3.4 3.4 0 1 0 6.8 0a3.4 3.4 0 1 0 -6.8 0M452.69 35.63a3.4 3.4 0 1 0 6.8 0a3.4 3.4 0 1 0 -6.8 0M450.74 44.4a3.4 3.4 0 1 0 6.8 0a3.4 3.4 0 1 0 -6.8 0M451.19 47.23a3.4 3.4 0 1 0 6.8 0a3.4 3.4 0 1 0 -6.8 0M449.93 55.48a3.4 3.4 0 1 0 6.8 0a3.4 3.4 0 1 0 -6.8 0M442.11 64.11a3.4 3.4 0 1 0 6.8 0a3.4 3.4 0 1 0 -6.8 0M429.57 71.59a3.4 3.4 0 1 0 6.8 0a3.4 3.4 0 1 0 -6.8 0M426 75.19a3.4 3.4 0 1 0 6.8 0a3.4 3.4 0 1 0 -6.8 0M411.45 86.68a3.4 3.4 0 1 0 6.8 0a3.4 3.4 0 1 0 -6.8 0M415.14 89.2a3.4 3.4 0 1 0 6.8 0a3.4 3.4 0 1 0 -6.8 0M404.32 99.38a3.4 3.4 0 1 0 6.8 0a3.4 3.4 0 1 0 -6.8 0M374.43 104.21a3.4 3.4 0 1 0 6.8 0a3.4 3.4 0 1 0 -6.8 0M365.37 114.39a3.4 3.4 0 1 0 6.8 0a3.4 3.4 0 1 0 -6.8 0M367.57 117.13a3.4 3.4 0 1 0 6.8 0a3.4 3.4 0 1 0 -6.8 0M354.33 129a3.4 3.4 0 1 0 6.8 0a3.4 3.4 0 1 0 -6.8 0M350.95 134.09a3.4 3.4 0 1 0 6.8 0a3.4 3.4 0 1 0 -6.8 0M349.07 138.25a3.4 3.4 0 1 0 6.8 0a3.4 3.4 0 1 0 -6.8 0M348.87 146.3a3.4 3.4 0 1 0 6.8 0a3.4 3.4 0 1 0 -6.8 0M338.06 155.42a3.4 3.4 0 1 0 6.8 0a3.4 3.4 0 1 0 -6.8 0M336.14 163.83a3.4 3.4 0 1 0 6.8 0a3.4 3.4 0 1 0 -6.8 0M335.96 167.17a3.4 3.4 0 1 0 6.8 0a3.4 3.4 0 1 0 -6.8 0M336.54 177.49a3.4 3.4 0 1 0 6.8 0a3.4 3.4 0 1 0 -6.8 0M334.05 182.42a3.4 3.4 0 1 0 6.8 0a3.4 3.4 0 1 0 -6.8 0M330.65 190.49a3.4 3.4 0 1 0 6.8 0a3.4 3.4 0 1 0 -6.8 0M330.71 193.36a3.4 3.4 0 1 0 6.8 0a3.4 3.4 0 1 0 -6.8 0M326.56 199.89a3.4 3.4 0 1 0 6.8 0a3.4 3.4 0 1 0 -6.8 0M328.71 208.42a3.4 3.4 0 1 0 6.8 0a3.4 3.4 0 1 0 -6.8 0M324.45 219.54a3.4 3.4 0 1 0 6.8 0a3.4 3.4 0 1 0 -6.8 0M316.61 224.66a3.4 3.4 0 1 0 6.8 0a3.4 3.4 0 1 0 -6.8 0M322.63 229.65a3.4 3.4 0 1 0 6.8 0a3.4 3.4 0 1 0 -6.8 0M327.95 239.66a3.4 3.4 0 1 0 6.8 0a3.4 3.4 0 1 0 -6.8 0M313.22 245.39a3.4 3.4 0 1 0 6.8 0a3.4 3.4 0 1 0 -6.8 0M316.26 250.57a3.4 3.4 0 1 0 6.8 0a3.4 3.4 0 1 0 -6.8 0M314.24 258.73a3.4 3.4 0 1 0 6.8 0a3.4 3.4 0 1 0 -6.8 0M314.27 266.14a3.4 3.4 0 1 0 6.8 0a3.4 3.4 0 1 0 -6.8 0M311.71 271.77a3.4 3.4 0 1 0 6.8 0a3.4 3.4 0 1 0 -6.8 0M309.44 280.22a3.4 3.4 0 1 0 6.8 0a3.4 3.4 0 1 0 -6.8 0M307.16 286.74a3.4 3.4 0 1 0 6.8 0a3.4 3.4 0 1 0 -6.8 0M309.2 292.79a3.4 3.4 0 1 0 6.8 0a3.4 3.4 0 1 0 -6.8 0M307.41 300.66a3.4 3.4 0 1 0 6.8 0a3.4 3.4 0 1 0 -6.8 0M305.59 306.32a3.4 3.4 0 1 0 6.8 0a3.4 3.4 0 1 0 -6.8 0M306.9 314.02a3.4 3.4 0 1 0 6.8 0a3.4 3.4 0 1 0 -6.8 0M309.07 319.67a3.4 3.4 0 1 0 6.8 0a3.4 3.4 0 1 0 -6.8 0M306.16 328.95a3.4 3.4 0 1 0 6.8 0a3.4 3.4 0 1 0 -6.8 0M296.33 337.42a3.4 3.4 0 1 0 6.8 0a3.4 3.4 0 1 0 -6.8 0M295.65 344.98a3.4 3.4 0 1 0 6.8 0a3.4 3.4 0 1 0 -6.8 0M297.81 346.99a3.4 3.4 0 1 0 6.8 0a3.4 3.4 0 1 0 -6.8 0M289.25 357.36a3.4 3.4 0 1 0 6.8 0a3.4 3.4 0 1 0 -6.8 0M298.53 362.2a3.4 3.4 0 1 0 6.8 0a3.4 3.4 0 1 0 -6.8 0M288.08 371.18a3.4 3.4 0 1 0 6.8 0a3.4 3.4 0 1 0 -6.8 0M285.34 378.03a3.4 3.4 0 1 0 6.8 0a3.4 3.4 0 1 0 -6.8 0M280.52 384.35a3.4 3.4 0 1 0 6.8 0a3.4 3.4 0 1 0 -6.8 0M279.36 391.66a3.4 3.4 0 1 0 6.8 0a3.4 3.4 0 1 0 -6.8 0M276.68 399.7a3.4 3.4 0 1 0 6.8 0a3.4 3.4 0 1 0 -6.8 0M274.45 407.48a3.4 3.4 0 1 0 6.8 0a3.4 3.4 0 1 0 -6.8 0M273.23 413.76a3.4 3.4 0 1 0 6.8 0a3.4 3.4 0 1 0 -6.8 0M277.28 421.81a3.4 3.4 0 1 0 6.8 0a3.4 3.4 0 1 0 -6.8 0M274.6 427.76a3.4 3.4 0 1 0 6.8 0a3.4 3.4 0 1 0 -6.8 0M276.36 430.31a3.4 3.4 0 1 0 6.8 0a3.4 3.4 0 1 0 -6.8 0M268.04 439.49a3.4 3.4 0 1 0 6.8 0a3.4 3.4 0 1 0 -6.8 0M265.1 444.64a3.4 3.4 0 1 0 6.8 0a3.4 3.4 0 1 0 -6.8 0M265.58 456.55a3.4 3.4 0 1 0 6.8 0a3.4 3.4 0 1 0 -6.8 0M263.77 462.45a3.4 3.4 0 1 0 6.8 0a3.4 3.4 0 1 0 -6.8 0M260.18 469.23a3.4 3.4 0 1 0 6.8 0a3.4 3.4 0 1 0 -6.8 0M260.61 477.39a3.4 3.4 0 1 0 6.8 0a3.4 3.4 0 1 0 -6.8 0M256.79 478.8a3.4 3.4 0 1 0 6.8 0a3.4 3.4 0 1 0 -6.8 0M258.08 488.27a3.4 3.4 0 1 0 6.8 0a3.4 3.4 0 1 0 -6.8 0M254.49 494.01a3.4 3.4 0 1 0 6.8 0a3.4 3.4 0 1 0 -6.8 0M251.67 503.83a3.4 3.4 0 1 0 6.8 0a3.4 3.4 0 1 0 -6.8 0M249.62 511.38a3.4 3.4 0 1 0 6.8 0a3.4 3.4 0 1 0 -6.8 0M255.72 514.05a3.4 3.4 0 1 0 6.8 0a3.4 3.4 0 1 0 -6.8 0M248.11 524.02a3.4 3.4 0 1 0 6.8 0a3.4 3.4 0 1 0 -6.8 0M245.95 528.46a3.4 3.4 0 1 0 6.8 0a3.4 3.4 0 1 0 -6.8 0M246.12 538.87a3.4 3.4 0 1 0 6.8 0a3.4 3.4 0 1 0 -6.8 0M246.78 544.18a3.4 3.4 0 1 0 6.8 0a3.4 3.4 0 1 0 -6.8 0M247.13 552.46a3.4 3.4 0 1 0 6.8 0a3.4 3.4 0 1 0 -6.8 0M246.84 555.87a3.4 3.4 0 1 0 6.8 0a3.4 3.4 0 1 0 -6.8 0M236.43 565.75a3.4 3.4 0 1 0 6.8 0a3.4 3.4 0 1 0 -6.8 0M238.48 571.65a3.4 3.4 0 1 0 6.8 0a3.4 3.4 0 1 0 -6.8 0M234.54 580.21a3.4 3.4 0 1 0 6.8 0a3.4 3.4 0 1 0 -6.8 0M237.3 586.16a3.4 3.4 0 1 0 6.8 0a3.4 3.4 0 1 0 -6.8 0M236.35 592.06a3.4 3.4 0 1 0 6.8 0a3.4 3.4 0 1 0 -6.8 0M239.79 601.9a3.4 3.4 0 1 0 6.8 0a3.4 3.4 0 1 0 -6.8 0M234.44 608.51a3.4 3.4 0 1 0 6.8 0a3.4 3.4 0 1 0 -6.8 0M231.83 613.91a3.4 3.4 0 1 0 6.8 0a3.4 3.4 0 1 0 -6.8 0M230.86 619.55a3.4 3.4 0 1 0 6.8 0a3.4 3.4 0 1 0 -6.8 0M231.38 630.75a3.4 3.4 0 1 0 6.8 0a3.4 3.4 0 1 0 -6.8 0M227.85 637.8a3.4 3.4 0 1 0 6.8 0a3.4 3.4 0 1 0 -6.8 0M226.94 641.24a3.4 3.4 0 1 0 6.8 0a3.4 3.4 0 1 0 -6.8 0M227.19 647.58a3.4 3.4 0 1 0 6.8 0a3.4 3.4 0 1 0 -6.8 0M224.92 655.76a3.4 3.4 0 1 0 6.8 0a3.4 3.4 0 1 0 -6.8 0M227.08 663.38a3.4 3.4 0 1 0 6.8 0a3.4 3.4 0 1 0 -6.8 0M226.37 670.91a3.4 3.4 0 1 0 6.8 0a3.4 3.4 0 1 0 -6.8 0M220.97 674.84a3.4 3.4 0 1 0 6.8 0a3.4 3.4 0 1 0 -6.8 0M221.39 684.33a3.4 3.4 0 1 0 6.8 0a3.4 3.4 0 1 0 -6.8 0M216.07 688.41a3.4 3.4 0 1 0 6.8 0a3.4 3.4 0 1 0 -6.8 0M218.71 700.14a3.4 3.4 0 1 0 6.8 0a3.4 3.4 0 1 0 -6.8 0M214.93 705.72a3.4 3.4 0 1 0 6.8 0a3.4 3.4 0 1 0 -6.8 0M215.61 712.38a3.4 3.4 0 1 0 6.8 0a3.4 3.4 0 1 0 -6.8 0M212.19 719.05a3.4 3.4 0 1 0 6.8 0a3.4 3.4 0 1 0 -6.8 0M214.69 726a3.4 3.4 0 1 0 6.8 0a3.4 3.4 0 1 0 -6.8 0M211.85 732.02a3.4 3.4 0 1 0 6.8 0a3.4 3.4 0 1 0 -6.8 0M215.31 740.44a3.4 3.4 0 1 0 6.8 0a3.4 3.4 0 1 0 -6.8 0M206.66 747.39a3.4 3.4 0 1 0 6.8 0a3.4 3.4 0 1 0 -6.8 0M206.74 754.93a3.4 3.4 0 1 0 6.8 0a3.4 3.4 0 1 0 -6.8 0M207.24 758.55a3.4 3.4 0 1 0 6.8 0a3.4 3.4 0 1 0 -6.8 0M206.09 769.41a3.4 3.4 0 1 0 6.8 0a3.4 3.4 0 1 0 -6.8 0M203.6 772.36a3.4 3.4 0 1 0 6.8 0a3.4 3.4 0 1 0 -6.8 0M204.79 780.97a3.4 3.4 0 1 0 6.8 0a3.4 3.4 0 1 0 -6.8 0M202.23 785.75a3.4 3.4 0 1 0 6.8 0a3.4 3.4 0 1 0 -6.8 0M198.92 795.48a3.4 3.4 0 1 0 6.8 0a3.4 3.4 0 1 0 -6.8 0M205.02 801.59a3.4 3.4 0 1 0 6.8 0a3.4 3.4 0 1 0 -6.8 0M199.07 809.28a3.4 3.4 0 1 0 6.8 0a3.4 3.4 0 1 0 -6.8 0M455.33 23.52a3.4 3.4 0 1 0 6.8 0a3.4 3.4 0 1 0 -6.8 0M453.58 28.94a3.4 3.4 0 1 0 6.8 0a3.4 3.4 0 1 0 -6.8 0M452.99 33.8a3.4 3.4 0 1 0 6.8 0a3.4 3.4 0 1 0 -6.8 0M453.26 42.24a3.4 3.4 0 1 0 6.8 0a3.4 3.4 0 1 0 -6.8 0M448.59 49.55a3.4 3.4 0 1 0 6.8 0a3.4 3.4 0 1 0 -6.8 0M449.85 58.05a3.4 3.4 0 1 0 6.8 0a3.4 3.4 0 1 0 -6.8 0M439.84 61.82a3.4 3.4 0 1 0 6.8 0a3.4 3.4 0 1 0 -6.8 0M418.31 71.63a3.4 3.4 0 1 0 6.8 0a3.4 3.4 0 1 0 -6.8 0M407.91 75.54a3.4 3.4 0 1 0 6.8 0a3.4 3.4 0 1 0 -6.8 0M411.76 82.59a3.4 3.4 0 1 0 6.8 0a3.4 3.4 0 1 0 -6.8 0M403.33 93.58a3.4 3.4 0 1 0 6.8 0a3.4 3.4 0 1 0 -6.8 0M384.4 100.6a3.4 3.4 0 1 0 6.8 0a3.4 3.4 0 1 0 -6.8 0M368.55 107.01a3.4 3.4 0 1 0 6.8 0a3.4 3.4 0 1 0 -6.8 0M366.29 109.6a3.4 3.4 0 1 0 6.8 0a3.4 3.4 0 1 0 -6.8 0M361.51 118.7a3.4 3.4 0 1 0 6.8 0a3.4 3.4 0 1 0 -6.8 0M360.11 125.74a3.4 3.4 0 1 0 6.8 0a3.4 3.4 0 1 0 -6.8 0M352.11 130.14a3.4 3.4 0 1 0 6.8 0a3.4 3.4 0 1 0 -6.8 0M344.11 139.93a3.4 3.4 0 1 0 6.8 0a3.4 3.4 0 1 0 -6.8 0M347.36 146.91a3.4 3.4 0 1 0 6.8 0a3.4 3.4 0 1 0 -6.8 0M335.03 155.67a3.4 3.4 0 1 0 6.8 0a3.4 3.4 0 1 0 -6.8 0M337.5 162.26a3.4 3.4 0 1 0 6.8 0a3.4 3.4 0 1 0 -6.8 0M335.8 165.28a3.4 3.4 0 1 0 6.8 0a3.4 3.4 0 1 0 -6.8 0M329.58 172.14a3.4 3.4 0 1 0 6.8 0a3.4 3.4 0 1 0 -6.8 0M332.28 179.39a3.4 3.4 0 1 0 6.8 0a3.4 3.4 0 1 0 -6.8 0M332.2 189.25a3.4 3.4 0 1 0 6.8 0a3.4 3.4 0 1 0 -6.8 0M334.39 197.39a3.4 3.4 0 1 0 6.8 0a3.4 3.4 0 1 0 -6.8 0M332.96 201.94a3.4 3.4 0 1 0 6.8 0a3.4 3.4 0 1 0 -6.8 0M332.54 207.07a3.4 3.4 0 1 0 6.8 0a3.4 3.4 0 1 0 -6.8 0M322.98 214.48a3.4 3.4 0 1 0 6.8 0a3.4 3.4 0 1 0 -6.8 0M328.09 222.89a3.4 3.4 0 1 0 6.8 0a3.4 3.4 0 1 0 -6.8 0M324.5 232.41a3.4 3.4 0 1 0 6.8 0a3.4 3.4 0 1 0 -6.8 0M319.86 235.18a3.4 3.4 0 1 0 6.8 0a3.4 3.4 0 1 0 -6.8 0M321.8 243.14a3.4 3.4 0 1 0 6.8 0a3.4 3.4 0 1 0 -6.8 0M319.95 253.65a3.4 3.4 0 1 0 6.8 0a3.4 3.4 0 1 0 -6.8 0M318.91 257.34a3.4 3.4 0 1 0 6.8 0a3.4 3.4 0 1 0 -6.8 0M316.55 267.54a3.4 3.4 0 1 0 6.8 0a3.4 3.4 0 1 0 -6.8 0M314.98 271.78a3.4 3.4 0 1 0 6.8 0a3.4 3.4 0 1 0 -6.8 0M318.25 280.62a3.4 3.4 0 1 0 6.8 0a3.4 3.4 0 1 0 -6.8 0M313.86 284.5a3.4 3.4 0 1 0 6.8 0a3.4 3.4 0 1 0 -6.8 0M314.92 291.7a3.4 3.4 0 1 0 6.8 0a3.4 3.4 0 1 0 -6.8 0M310.87 298.45a3.4 3.4 0 1 0 6.8 0a3.4 3.4 0 1 0 -6.8 0M304.69 310.2a3.4 3.4 0 1 0 6.8 0a3.4 3.4 0 1 0 -6.8 0M313.86 315.4a3.4 3.4 0 1 0 6.8 0a3.4 3.4 0 1 0 -6.8 0M306.97 323.62a3.4 3.4 0 1 0 6.8 0a3.4 3.4 0 1 0 -6.8 0M308.34 329.26a3.4 3.4 0 1 0 6.8 0a3.4 3.4 0 1 0 -6.8 0M303.3 333.98a3.4 3.4 0 1 0 6.8 0a3.4 3.4 0 1 0 -6.8 0M302.33 340.08a3.4 3.4 0 1 0 6.8 0a3.4 3.4 0 1 0 -6.8 0M305.77 348.49a3.4 3.4 0 1 0 6.8 0a3.4 3.4 0 1 0 -6.8 0M299.48 357.94a3.4 3.4 0 1 0 6.8 0a3.4 3.4 0 1 0 -6.8 0M296.01 360.78a3.4 3.4 0 1 0 6.8 0a3.4 3.4 0 1 0 -6.8 0M292.57 368.37a3.4 3.4 0 1 0 6.8 0a3.4 3.4 0 1 0 -6.8 0M289.11 379.37a3.4 3.4 0 1 0 6.8 0a3.4 3.4 0 1 0 -6.8 0M289.05 384.67a3.4 3.4 0 1 0 6.8 0a3.4 3.4 0 1 0 -6.8 0M284.25 391.99a3.4 3.4 0 1 0 6.8 0a3.4 3.4 0 1 0 -6.8 0M282.34 398.13a3.4 3.4 0 1 0 6.8 0a3.4 3.4 0 1 0 -6.8 0M283.24 406.85a3.4 3.4 0 1 0 6.8 0a3.4 3.4 0 1 0 -6.8 0M273.32 412.99a3.4 3.4 0 1 0 6.8 0a3.4 3.4 0 1 0 -6.8 0M280.14 420.14a3.4 3.4 0 1 0 6.8 0a3.4 3.4 0 1 0 -6.8 0M281.42 424.91a3.4 3.4 0 1 0 6.8 0a3.4 3.4 0 1 0 -6.8 0M275.83 431.56a3.4 3.4 0 1 0 6.8 0a3.4 3.4 0 1 0 -6.8 0M268.92 442.41a3.4 3.4 0 1 0 6.8 0a3.4 3.4 0 1 0 -6.8 0M270.92 447.82a3.4 3.4 0 1 0 6.8 0a3.4 3.4 0 1 0 -6.8 0M265.07 451.47a3.4 3.4 0 1 0 6.8 0a3.4 3.4 0 1 0 -6.8 0M266.67 459.66a3.4 3.4 0 1 0 6.8 0a3.4 3.4 0 1 0 -6.8 0M264.07 465.48a3.4 3.4 0 1 0 6.8 0a3.4 3.4 0 1 0 -6.8 0M258.82 476.66a3.4 3.4 0 1 0 6.8 0a3.4 3.4 0 1 0 -6.8 0M255.7 484.47a3.4 3.4 0 1 0 6.8 0a3.4 3.4 0 1 0 -6.8 0M258.71 489.57a3.4 3.4 0 1 0 6.8 0a3.4 3.4 0 1 0 -6.8 0M260.34 493.31a3.4 3.4 0 1 0 6.8 0a3.4 3.4 0 1 0 -6.8 0M254.39 501.87a3.4 3.4 0 1 0 6.8 0a3.4 3.4 0 1 0 -6.8 0M253.42 509.94a3.4 3.4 0 1 0 6.8 0a3.4 3.4 0 1 0 -6.8 0M253.29 518.85a3.4 3.4 0 1 0 6.8 0a3.4 3.4 0 1 0 -6.8 0M249.66 524.88a3.4 3.4 0 1 0 6.8 0a3.4 3.4 0 1 0 -6.8 0M248.88 529.81a3.4 3.4 0 1 0 6.8 0a3.4 3.4 0 1 0 -6.8 0M248.86 537.23a3.4 3.4 0 1 0 6.8 0a3.4 3.4 0 1 0 -6.8 0M248.15 545.53a3.4 3.4 0 1 0 6.8 0a3.4 3.4 0 1 0 -6.8 0M247.22 551.18a3.4 3.4 0 1 0 6.8 0a3.4 3.4 0 1 0 -6.8 0M243.48 557.81a3.4 3.4 0 1 0 6.8 0a3.4 3.4 0 1 0 -6.8 0M245.53 565.85a3.4 3.4 0 1 0 6.8 0a3.4 3.4 0 1 0 -6.8 0M246.49 572.5a3.4 3.4 0 1 0 6.8 0a3.4 3.4 0 1 0 -6.8 0M243.79 580.09a3.4 3.4 0 1 0 6.8 0a3.4 3.4 0 1 0 -6.8 0M240.82 584.7a3.4 3.4 0 1 0 6.8 0a3.4 3.4 0 1 0 -6.8 0M243.2 594.09a3.4 3.4 0 1 0 6.8 0a3.4 3.4 0 1 0 -6.8 0M239.75 598.69a3.4 3.4 0 1 0 6.8 0a3.4 3.4 0 1 0 -6.8 0M238.77 606.18a3.4 3.4 0 1 0 6.8 0a3.4 3.4 0 1 0 -6.8 0M234.32 611.53a3.4 3.4 0 1 0 6.8 0a3.4 3.4 0 1 0 -6.8 0M229.19 619.14a3.4 3.4 0 1 0 6.8 0a3.4 3.4 0 1 0 -6.8 0M225.76 629.5a3.4 3.4 0 1 0 6.8 0a3.4 3.4 0 1 0 -6.8 0M225.81 632.37a3.4 3.4 0 1 0 6.8 0a3.4 3.4 0 1 0 -6.8 0M234.55 640.81a3.4 3.4 0 1 0 6.8 0a3.4 3.4 0 1 0 -6.8 0M230.63 646.99a3.4 3.4 0 1 0 6.8 0a3.4 3.4 0 1 0 -6.8 0M228.65 654.82a3.4 3.4 0 1 0 6.8 0a3.4 3.4 0 1 0 -6.8 0M227.28 660.6a3.4 3.4 0 1 0 6.8 0a3.4 3.4 0 1 0 -6.8 0M225.69 668.28a3.4 3.4 0 1 0 6.8 0a3.4 3.4 0 1 0 -6.8 0M222.88 677.91a3.4 3.4 0 1 0 6.8 0a3.4 3.4 0 1 0 -6.8 0M225.56 686.59a3.4 3.4 0 1 0 6.8 0a3.4 3.4 0 1 0 -6.8 0M224.53 691.74a3.4 3.4 0 1 0 6.8 0a3.4 3.4 0 1 0 -6.8 0M219.55 697.42a3.4 3.4 0 1 0 6.8 0a3.4 3.4 0 1 0 -6.8 0M220.04 707.71a3.4 3.4 0 1 0 6.8 0a3.4 3.4 0 1 0 -6.8 0M217.37 714.51a3.4 3.4 0 1 0 6.8 0a3.4 3.4 0 1 0 -6.8 0M217.46 717.93a3.4 3.4 0 1 0 6.8 0a3.4 3.4 0 1 0 -6.8 0M219.48 727.31a3.4 3.4 0 1 0 6.8 0a3.4 3.4 0 1 0 -6.8 0M213.42 732.97a3.4 3.4 0 1 0 6.8 0a3.4 3.4 0 1 0 -6.8 0M215.76 739.35a3.4 3.4 0 1 0 6.8 0a3.4 3.4 0 1 0 -6.8 0M214.54 744.85a3.4 3.4 0 1 0 6.8 0a3.4 3.4 0 1 0 -6.8 0M213.05 754.06a3.4 3.4 0 1 0 6.8 0a3.4 3.4 0 1 0 -6.8 0M207.4 762.74a3.4 3.4 0 1 0 6.8 0a3.4 3.4 0 1 0 -6.8 0M208.39 765.98a3.4 3.4 0 1 0 6.8 0a3.4 3.4 0 1 0 -6.8 0M209.1 775.51a3.4 3.4 0 1 0 6.8 0a3.4 3.4 0 1 0 -6.8 0M206.65 779.38a3.4 3.4 0 1 0 6.8 0a3.4 3.4 0 1 0 -6.8 0M204.88 789a3.4 3.4 0 1 0 6.8 0a3.4 3.4 0 1 0 -6.8 0M203.14 793.09a3.4 3.4 0 1 0 6.8 0a3.4 3.4 0 1 0 -6.8 0M203.51 804.11a3.4 3.4 0 1 0 6.8 0a3.4 3.4 0 1 0 -6.8 0M206.38 811.23a3.4 3.4 0 1 0 6.8 0a3.4 3.4 0 1 0 -6.8 0" fill="#00ffff"/>
<polyline points="456.73,29.46 454.41,49.38 449.76,69.3 419.22,89.22 380.37,109.14 357.8,129.06 343.85,148.98 335.22,168.9 330.57,188.82 326.59,208.74 322.94,228.66 318.62,248.58 314.64,268.5 309.32,288.42 306.34,308.34 302.68,328.26 297.37,348.18 292.06,368.1 282.76,388.02 279.11,407.94 274.46,427.86 271.14,447.78 265.17,467.7 258.2,487.62 253.88,507.54 250.89,527.46 248.24,547.38 244.92,567.3 240.27,587.22 236.95,607.14 233.3,627.06 230.64,646.98 226.66,666.9 222.34,686.82 219.68,706.74 217.03,726.66 212.71,746.58 208.73,766.5 206.07,786.42 203.42,806.34" fill="none" stroke="#0000ff" stroke-width="2.5" stroke-linejoin="round" stroke-linecap="round"/>
<path d="M450.73 29.46a6 6 0 1 0 12 0a6 6 0 1 0 -12 0M448.41 49.38a6 6 0 1 0 12 0a6 6 0 1 0 -12 0M443.76 69.3a6 6 0 1 0 12 0a6 6 0 1 0 -12 0M413.22 89.22a6 6 0 1 0 12 0a6 6 0 1 0 -12 0M374.37 109.14a6 6 0 1 0 12 0a6 6 0 1 0 -12 0M351.8 129.06a6 6 0 1 0 12 0a6 6 0 1 0 -12 0M337.85 148.98a6 6 0 1 0 12 0a6 6 0 1 0 -12 0M329.22 168.9a6 6 0 1 0 12 0a6 6 0 1 0 -12 0M324.57 188.82a6 6 0 1 0 12 0a6 6 0 1 0 -12 0M320.59 208.74a6 6 0 1 0 12 0a6 6 0 1 0 -12 0M316.94 228.66a6 6 0 1 0 12 0a6 6 0 1 0 -12 0M312.62 248.58a6 6 0 1 0 12 0a6 6 0 1 0 -12 0M308.64 268.5a6 6 0 1 0 12 0a6 6 0 1 0 -12 0M303.32 288.42a6 6 0 1 0 12 0a6 6 0 1 0 -12 0M300.34 308.34a6 6 0 1 0 12 0a6 6 0 1 0 -12 0M296.68 328.26a6 6 0 1 0 12 0a6 6 0 1 0 -12 0M291.37 348.18a6 6 0 1 0 12 0a6 6 0 1 0 -12 0M286.06 368.1a6 6 0 1 0 12 0a6 6 0 1 0 -12 0M276.76 388.02a6 6 0 1 0 12 0a6 6 0 1 0 -12 0M273.11 407.94a6 6 0 1 0 12 0a6 6 0 1 0 -12 0M268.46 427.86a6 6 0 1 0 12 0a6 6 0 1 0 -12 0M265.14 447.78a6 6 0 1 0 12 0a6 6 0 1 0 -12 0M259.17 467.7a6 6 0 1 0 12 0a6 6 0 1 0 -12 0M252.2 487.62a6 6 0 1 0 12 0a6 6 0 1 0 -12 0M247.88 507.54a6 6 0 1 0 12 0a6 6 0 1 0 -12 0M244.89 527.46a6 6 0 1 0 12 0a6 6 0 1 0 -12 0M242.24 547.38a6 6 0 1 0 12 0a6 6 0 1 0 -12 0M238.92 567.3a6 6 0 1 0 12 0a6 6 0 1 0 -12 0M234.27 587.22a6 6 0 1 0 12 0a6 6 0 1 0 -12 0M230.95 607.14a6 6 0 1 0 12 0a6 6 0 1 0 -12 0M227.3 627.06a6 6 0 1 0 12 0a6 6 0 1 0 -12 0M224.64 646.98a6 6 0 1 0 12 0a6 6 0 1 0 -12 0M220.66 666.9a6 6 0 1 0 12 0a6 6 0 1 0 -12 0M216.34 686.82a6 6 0 1 0 12 0a6 6 0 1 0 -12 0M213.68 706.74a6 6 0 1 0 12 0a6 6 0 1 0 -12 0M211.03 726.66a6 6 0 1 0 12 0a6 6 0 1 0 -12 0M206.71 746.58a6 6 0 1 0 12 0a6 6 0 1 0 -12 0M202.73 766.5a6 6 0 1 0 12 0a6 6 0 1 0 -12 0M200.07 786.42a6 6 0 1 0 12 0a6 6 0 1 0 -12 0M197.42 806.34a6 6 0 1 0 12 0a6 6 0 1 0 -12 0" fill="#0000ff"/>
<path d="M443.78 19.5 L443.78 23.48 L443.78 27.47 L444.11 31.45 L444.11 35.44 L444.11 39.42 L444.44 43.4 L444.44 49.38 L444.78 59.34 L447.59 69.3 L439.45 79.26 L428.5 89.22 L405.26 99.18 L388.99 109.14 L373.38 119.1 L349.81 139.02 L332.55 158.94 L313.29 178.86 L304.33 198.78 L299.02 218.7 L294.95 268.5 L279.92 318.3 L263.98 417.9 L246.22 517.5 L231.62 617.1 L214.03 716.7 L196.1 816.3 L201.1 816.3 L219.03 716.7 L236.62 617.1 L253.22 517.5 L273.48 417.9 L290.92 318.3 L304.45 268.5 L307.02 218.7 L312.33 198.78 L321.29 178.86 L340.55 158.94 L357.81 139.02 L381.38 119.1 L396.99 109.14 L413.26 99.18 L436.5 89.22 L447.45 79.26 L452.59 69.3 L446.78 59.34 L446.44 49.38 L446.44 43.4 L446.11 39.42 L446.11 35.44 L446.11 31.45 L445.78 27.47 L445.78 23.48 L445.78 19.5 Z" fill="#ff0000"/>
<polyline points="444.78,19.5 444.78,23.48 444.78,27.47 445.11,31.45 445.11,35.44 445.11,39.42 445.44,43.4 445.44,49.38 445.78,59.34 448.59,69.3 440.45,79.26 429.5,89.22 406.26,99.18 389.99,109.14 374.38,119.1 350.81,139.02 333.55,158.94 314.29,178.86 305.33,198.78 300.02,218.7 295.95,268.5 280.92,318.3 264.98,417.9 247.22,517.5 232.62,617.1 215.03,716.7 197.1,816.3" fill="none" stroke="#ff0000" stroke-width="3" stroke-linejoin="round" stroke-linecap="round"/>
<path d="M438.78 19.5a6 6 0 1 0 12 0a6 6 0 1 0 -12 0M438.78 23.48a6 6 0 1 0 12 0a6 6 0 1 0 -12 0M438.78 27.47a6 6 0 1 0 12 0a6 6 0 1 0 -12 0M439.11 31.45a6 6 0 1 0 12 0a6 6 0 1 0 -12 0M439.11 35.44a6 6 0 1 0 12 0a6 6 0 1 0 -12 0M439.11 39.42a6 6 0 1 0 12 0a6 6 0 1 0 -12 0M439.44 43.4a6 6 0 1 0 12 0a6 6 0 1 0 -12 0M439.44 49.38a6 6 0 1 0 12 0a6 6 0 1 0 -12 0M439.78 59.34a6 6 0 1 0 12 0a6 6 0 1 0 -12 0M442.59 69.3a6 6 0 1 0 12 0a6 6 0 1 0 -12 0M434.45 79.26a6 6 0 1 0 12 0a6 6 0 1 0 -12 0M423.5 89.22a6 6 0 1 0 12 0a6 6 0 1 0 -12 0M400.26 99.18a6 6 0 1 0 12 0a6 6 0 1 0 -12 0M383.99 109.14a6 6 0 1 0 12 0a6 6 0 1 0 -12 0M368.38 119.1a6 6 0 1 0 12 0a6 6 0 1 0 -12 0M344.81 139.02a6 6 0 1 0 12 0a6 6 0 1 0 -12 0M327.55 158.94a6 6 0 1 0 12 0a6 6 0 1 0 -12 0M308.29 178.86a6 6 0 1 0 12 0a6 6 0 1 0 -12 0M299.33 198.78a6 6 0 1 0 12 0a6 6 0 1 0 -12 0M294.02 218.7a6 6 0 1 0 12 0a6 6 0 1 0 -12 0M289.95 268.5a6 6 0 1 0 12 0a6 6 0 1 0 -12 0M274.92 318.3a6 6 0 1 0 12 0a6 6 0 1 0 -12 0M258.98 417.9a6 6 0 1 0 12 0a6 6 0 1 0 -12 0M241.22 517.5a6 6 0 1 0 12 0a6 6 0 1 0 -12 0M226.62 617.1a6 6 0 1 0 12 0a6 6 0 1 0 -12 0M209.03 716.7a6 6 0 1 0 12 0a6 6 0 1 0 -12 0M191.1 816.3a6 6 0 1 0 12 0a6 6 0 1 0 -12 0" fill="#ff0000"/>
<polyline points="444.78,19.5 444.78,23.48 444.78,27.47 445.11,31.45 445.11,35.44 445.11,39.42 445.44,43.4 445.44,49.38 445.78,59.34 450.09,69.3 443.45,79.26 432.5,89.22 409.26,99.18 392.99,109.14 377.38,119.1 353.81,139.02 336.55,158.94 317.29,178.86 308.33,198.78 303.02,218.7 299.7,268.5 285.42,318.3 268.73,417.9 249.72,517.5 234.12,617.1 216.53,716.7 198.6,816.3" fill="none" stroke="#ff0000" stroke-width="3" stroke-linejoin="round" stroke-linecap="round"/>
<path d="M438.78 19.5a6 6 0 1 0 12 0a6 6 0 1 0 -12 0M438.78 23.48a6 6 0 1 0 12 0a6 6 0 1 0 -12 0M438.78 27.47a6 6 0 1 0 12 0a6 6 0 1 0 -12 0M439.11 31.45a6 6 0 1 0 12 0a6 6 0 1 0 -12 0M439.11 35.44a6 6 0 1 0 12 0a6 6 0 1 0 -12 0M439.11 39.42a6 6 0 1 0 12 0a6 6 0 1 0 -12 0M439.44 43.4a6 6 0 1 0 12 0a6 6 0 1 0 -12 0M439.44 49.38a6 6 0 1 0 12 0a6 6 0 1 0 -12 0M439.78 59.34a6 6 0 1 0 12 0a6 6 0 1 0 -12 0M444.09 69.3a6 6 0 1 0 12 0a6 6 0 1 0 -12 0M437.45 79.26a6 6 0 1 0 12 0a6 6 0 1 0 -12 0M426.5 89.22a6 6 0 1 0 12 0a6 6 0 1 0 -12 0M403.26 99.18a6 6 0 1 0 12 0a6 6 0 1 0 -12 0M386.99 109.14a6 6 0 1 0 12 0a6 6 0 1 0 -12 0M371.38 119.1a6 6 0 1 0 12 0a6 6 0 1 0 -12 0M347.81 139.02a6 6 0 1 0 12 0a6 6 0 1 0 -12 0M330.55 158.94a6 6 0 1 0 12 0a6 6 0 1 0 -12 0M311.29 178.86a6 6 0 1 0 12 0a6 6 0 1 0 -12 0M302.33 198.78a6 6 0 1 0 12 0a6 6 0 1 0 -12 0M297.02 218.7a6 6 0 1 0 12 0a6 6 0 1 0 -12 0M293.7 268.5a6 6 0 1 0 12 0a6 6 0 1 0 -12 0M279.42 318.3a6 6 0 1 0 12 0a6 6 0 1 0 -12 0M262.73 417.9a6 6 0 1 0 12 0a6 6 0 1 0 -12 0M243.72 517.5a6 6 0 1 0 12 0a6 6 0 1 0 -12 0M228.12 617.1a6 6 0 1 0 12 0a6 6 0 1 0 -12 0M210.53 716.7a6 6 0 1 0 12 0a6 6 0 1 0 -12 0M192.6 816.3a6 6 0 1 0 12 0a6 6 0 1 0 -12 0" fill="#ff0000"/>
<polyline points="444.78,19.5 444.78,23.48 444.78,27.47 445.11,31.45 445.11,35.44 445.11,39.42 445.44,43.4 445.44,49.38 445.78,59.34 451.59,69.3 446.45,79.26 435.5,89.22 412.26,99.18 395.99,109.14 380.38,119.1 356.81,139.02 339.55,158.94 320.29,178.86 311.33,198.78 306.02,218.7 303.45,268.5 289.92,318.3 272.48,417.9 252.22,517.5 235.62,617.1 218.03,716.7 200.1,816.3" fill="none" stroke="#ff0000" stroke-width="3" stroke-linejoin="round" stroke-linecap="round"/>
<path d="M438.78 19.5a6 6 0 1 0 12 0a6 6 0 1 0 -12 0M438.78 23.48a6 6 0 1 0 12 0a6 6 0 1 0 -12 0M438.78 27.47a6 6 0 1 0 12 0a6 6 0 1 0 -12 0M439.11 31.45a6 6 0 1 0 12 0a6 6 0 1 0 -12 0M439.11 35.44a6 6 0 1 0 12 0a6 6 0 1 0 -12 0M439.11 39.42a6 6 0 1 0 12 0a6 6 0 1 0 -12 0M439.44 43.4a6 6 0 1 0 12 0a6 6 0 1 0 -12 0M439.44 49.38a6 6 0 1 0 12 0a6 6 0 1 0 -12 0M439.78 59.34a6 6 0 1 0 12 0a6 6 0 1 0 -12 0M445.59 69.3a6 6 0 1 0 12 0a6 6 0 1 0 -12 0M440.45 79.26a6 6 0 1 0 12 0a6 6 0 1 0 -12 0M429.5 89.22a6 6 0 1 0 12 0a6 6 0 1 0 -12 0M406.26 99.18a6 6 0 1 0 12 0a6 6 0 1 0 -12 0M389.99 109.14a6 6 0 1 0 12 0a6 6 0 1 0 -12 0M374.38 119.1a6 6 0 1 0 12 0a6 6 0 1 0 -12 0M350.81 139.02a6 6 0 1 0 12 0a6 6 0 1 0 -12 0M333.55 158.94a6 6 0 1 0 12 0a6 6 0 1 0 -12 0M314.29 178.86a6 6 0 1 0 12 0a6 6 0 1 0 -12 0M305.33 198.78a6 6 0 1 0 12 0a6 6 0 1 0 -12 0M300.02 218.7a6 6 0 1 0 12 0a6 6 0 1 0 -12 0M297.45 268.5a6 6 0 1 0 12 0a6 6 0 1 0 -12 0M283.92 318.3a6 6 0 1 0 12 0a6 6 0 1 0 -12 0M266.48 417.9a6 6 0 1 0 12 0a6 6 0 1 0 -12 0M246.22 517.5a6 6 0 1 0 12 0a6 6 0 1 0 -12 0M229.62 617.1a6 6 0 1 0 12 0a6 6 0 1 0 -12 0M212.03 716.7a6 6 0 1 0 12 0a6 6 0 1 0 -12 0M194.1 816.3a6 6 0 1 0 12 0a6 6 0 1 0 -12 0" fill="#ff0000"/>
<polyline points="473.66,19.5 472,23.48 471.01,27.47 470.34,31.45 470.01,35.44 469.68,39.42 469.68,43.4 469.35,49.38 459.72,59.34 441.46,69.3 432.16,79.26 423.2,89.22 417.89,99.18 410.92,109.14 404.28,119.1 391,139.02 365.43,158.94 336.22,178.86 318.95,198.78 302.68,218.7 288.08,268.5 273.8,318.3 266.5,417.9 246.58,517.5 228.65,617.1 210.72,716.7 195.78,816.3" fill="none" stroke="#008000" stroke-width="2.5" stroke-linejoin="round" stroke-linecap="round"/>
<path d="M467.66 19.5a6 6 0 1 0 12 0a6 6 0 1 0 -12 0M466 23.48a6 6 0 1 0 12 0a6 6 0 1 0 -12 0M465.01 27.47a6 6 0 1 0 12 0a6 6 0 1 0 -12 0M464.34 31.45a6 6 0 1 0 12 0a6 6 0 1 0 -12 0M464.01 35.44a6 6 0 1 0 12 0a6 6 0 1 0 -12 0M463.68 39.42a6 6 0 1 0 12 0a6 6 0 1 0 -12 0M463.68 43.4a6 6 0 1 0 12 0a6 6 0 1 0 -12 0M463.35 49.38a6 6 0 1 0 12 0a6 6 0 1 0 -12 0M453.72 59.34a6 6 0 1 0 12 0a6 6 0 1 0 -12 0M435.46 69.3a6 6 0 1 0 12 0a6 6 0 1 0 -12 0M426.16 79.26a6 6 0 1 0 12 0a6 6 0 1 0 -12 0M417.2 89.22a6 6 0 1 0 12 0a6 6 0 1 0 -12 0M411.89 99.18a6 6 0 1 0 12 0a6 6 0 1 0 -12 0M404.92 109.14a6 6 0 1 0 12 0a6 6 0 1 0 -12 0M398.28 119.1a6 6 0 1 0 12 0a6 6 0 1 0 -12 0M385 139.02a6 6 0 1 0 12 0a6 6 0 1 0 -12 0M359.43 158.94a6 6 0 1 0 12 0a6 6 0 1 0 -12 0M330.22 178.86a6 6 0 1 0 12 0a6 6 0 1 0 -12 0M312.95 198.78a6 6 0 1 0 12 0a6 6 0 1 0 -12 0M296.68 218.7a6 6 0 1 0 12 0a6 6 0 1 0 -12 0M282.08 268.5a6 6 0 1 0 12 0a6 6 0 1 0 -12 0M267.8 318.3a6 6 0 1 0 12 0a6 6 0 1 0 -12 0M260.5 417.9a6 6 0 1 0 12 0a6 6 0 1 0 -12 0M240.58 517.5a6 6 0 1 0 12 0a6 6 0 1 0 -12 0M222.65 617.1a6 6 0 1 0 12 0a6 6 0 1 0 -12 0M204.72 716.7a6 6 0 1 0 12 0a6 6 0 1 0 -12 0M189.78 816.3a6 6 0 1 0 12 0a6 6 0 1 0 -12 0" fill="#008000"/>
<polyline points="445.44,20.48 445.44,22.57 445.78,24.78 445.78,27.11 445.78,29.62 446.11,32.33 446.11,35.3 446.44,38.56 446.44,42.21 446.77,46.33 446.77,50.99 447.1,56.35 447.1,62.53 439.8,69.72 423.2,78.14 399.63,88.08 380.37,99.86 364.44,113.86 349.5,130.57 335.22,150.59 322.94,174.58 311.98,203.42 302.68,238.08 296.38,279.79 293.72,329.95 287.41,390.27 276.46,462.68 259.19,549.45 237.94,653.21 214.37,776.88" fill="none" stroke="#ff00ff" stroke-width="2.5" stroke-linejoin="round" stroke-linecap="round"/>
<path d="M439.44 20.48a6 6 0 1 0 12 0a6 6 0 1 0 -12 0M439.44 22.57a6 6 0 1 0 12 0a6 6 0 1 0 -12 0M439.78 24.78a6 6 0 1 0 12 0a6 6 0 1 0 -12 0M439.78 27.11a6 6 0 1 0 12 0a6 6 0 1 0 -12 0M439.78 29.62a6 6 0 1 0 12 0a6 6 0 1 0 -12 0M440.11 32.33a6 6 0 1 0 12 0a6 6 0 1 0 -12 0M440.11 35.3a6 6 0 1 0 12 0a6 6 0 1 0 -12 0M440.44 38.56a6 6 0 1 0 12 0a6 6 0 1 0 -12 0M440.44 42.21a6 6 0 1 0 12 0a6 6 0 1 0 -12 0M440.77 46.33a6 6 0 1 0 12 0a6 6 0 1 0 -12 0M440.77 50.99a6 6 0 1 0 12 0a6 6 0 1 0 -12 0M441.1 56.35a6 6 0 1 0 12 0a6 6 0 1 0 -12 0M441.1 62.53a6 6 0 1 0 12 0a6 6 0 1 0 -12 0M433.8 69.72a6 6 0 1 0 12 0a6 6 0 1 0 -12 0M417.2 78.14a6 6 0 1 0 12 0a6 6 0 1 0 -12 0M393.63 88.08a6 6 0 1 0 12 0a6 6 0 1 0 -12 0M374.37 99.86a6 6 0 1 0 12 0a6 6 0 1 0 -12 0M358.44 113.86a6 6 0 1 0 12 0a6 6 0 1 0 -12 0M343.5 130.57a6 6 0 1 0 12 0a6 6 0 1 0 -12 0M329.22 150.59a6 6 0 1 0 12 0a6 6 0 1 0 -12 0M316.94 174.58a6 6 0 1 0 12 0a6 6 0 1 0 -12 0M305.98 203.42a6 6 0 1 0 12 0a6 6 0 1 0 -12 0M296.68 238.08a6 6 0 1 0 12 0a6 6 0 1 0 -12 0M290.38 279.79a6 6 0 1 0 12 0a6 6 0 1 0 -12 0M287.72 329.95a6 6 0 1 0 12 0a6 6 0 1 0 -12 0M281.41 390.27a6 6 0 1 0 12 0a6 6 0 1 0 -12 0M270.46 462.68a6 6 0 1 0 12 0a6 6 0 1 0 -12 0M253.19 549.45a6 6 0 1 0 12 0a6 6 0 1 0 -12 0M231.94 653.21a6 6 0 1 0 12 0a6 6 0 1 0 -12 0M208.37 776.88a6 6 0 1 0 12 0a6 6 0 1 0 -12 0" fill="#ff00ff"/>
</g>
<g clip-path="url(#c1)">
<path d="M667.88 22.74a3.4 3.4 0 1 0 6.8 0a3.4 3.4 0 1 0 -6.8 0M668.49 29.07a3.4 3.4 0 1 0 6.8 0a3.4 3.4 0 1 0 -6.8 0M668.18 35.43a3.4 3.4 0 1 0 6.8 0a3.4 3.4 0 1 0 -6.8 0M669.46 44.68a3.4 3.4 0 1 0 6.8 0a3.4 3.4 0 1 0 -6.8 0M668.24 48.64a3.4 3.4 0 1 0 6.8 0a3.4 3.4 0 1 0 -6.8 0M667.16 53.63a3.4 3.4 0 1 0 6.8 0a3.4 3.4 0 1 0 -6.8 0M668.98 61.87a3.4 3.4 0 1 0 6.8 0a3.4 3.4 0 1 0 -6.8 0M669.04 72.29a3.4 3.4 0 1 0 6.8 0a3.4 3.4 0 1 0 -6.8 0M667.92 74.8a3.4 3.4 0 1 0 6.8 0a3.4 3.4 0 1 0 -6.8 0M669.75 85.08a3.4 3.4 0 1 0 6.8 0a3.4 3.4 0 1 0 -6.8 0M672.25 92.93a3.4 3.4 0 1 0 6.8 0a3.4 3.4 0 1 0 -6.8 0M675.24 96.74a3.4 3.4 0 1 0 6.8 0a3.4 3.4 0 1 0 -6.8 0M682.01 106.71a3.4 3.4 0 1 0 6.8 0a3.4 3.4 0 1 0 -6.8 0M681.56 113a3.4 3.4 0 1 0 6.8 0a3.4 3.4 0 1 0 -6.8 0M679.7 117.96a3.4 3.4 0 1 0 6.8 0a3.4 3.4 0 1 0 -6.8 0M705.42 127.82a3.4 3.4 0 1 0 6.8 0a3.4 3.4 0 1 0 -6.8 0M705.75 133.97a3.4 3.4 0 1 0 6.8 0a3.4 3.4 0 1 0 -6.8 0M714.03 137.12a3.4 3.4 0 1 0 6.8 0a3.4 3.4 0 1 0 -6.8 0M740.99 149.77a3.4 3.4 0 1 0 6.8 0a3.4 3.4 0 1 0 -6.8 0M730.41 155.99a3.4 3.4 0 1 0 6.8 0a3.4 3.4 0 1 0 -6.8 0M740.13 163.25a3.4 3.4 0 1 0 6.8 0a3.4 3.4 0 1 0 -6.8 0M734.53 165.11a3.4 3.4 0 1 0 6.8 0a3.4 3.4 0 1 0 -6.8 0M754.64 173.29a3.4 3.4 0 1 0 6.8 0a3.4 3.4 0 1 0 -6.8 0M755.4 183.65a3.4 3.4 0 1 0 6.8 0a3.4 3.4 0 1 0 -6.8 0M762.76 189.98a3.4 3.4 0 1 0 6.8 0a3.4 3.4 0 1 0 -6.8 0M769.65 195.35a3.4 3.4 0 1 0 6.8 0a3.4 3.4 0 1 0 -6.8 0M775.74 204.08a3.4 3.4 0 1 0 6.8 0a3.4 3.4 0 1 0 -6.8 0M766.28 207.86a3.4 3.4 0 1 0 6.8 0a3.4 3.4 0 1 0 -6.8 0M781.63 218.91a3.4 3.4 0 1 0 6.8 0a3.4 3.4 0 1 0 -6.8 0M785.06 222.67a3.4 3.4 0 1 0 6.8 0a3.4 3.4 0 1 0 -6.8 0M794.32 233.23a3.4 3.4 0 1 0 6.8 0a3.4 3.4 0 1 0 -6.8 0M794.19 235.7a3.4 3.4 0 1 0 6.8 0a3.4 3.4 0 1 0 -6.8 0M800.68 244.33a3.4 3.4 0 1 0 6.8 0a3.4 3.4 0 1 0 -6.8 0M809.83 249.63a3.4 3.4 0 1 0 6.8 0a3.4 3.4 0 1 0 -6.8 0M812.59 258.78a3.4 3.4 0 1 0 6.8 0a3.4 3.4 0 1 0 -6.8 0M818.03 265.8a3.4 3.4 0 1 0 6.8 0a3.4 3.4 0 1 0 -6.8 0M815.36 273.23a3.4 3.4 0 1 0 6.8 0a3.4 3.4 0 1 0 -6.8 0M812.28 277.9a3.4 3.4 0 1 0 6.8 0a3.4 3.4 0 1 0 -6.8 0M816.47 284.98a3.4 3.4 0 1 0 6.8 0a3.4 3.4 0 1 0 -6.8 0M813.02 295.3a3.4 3.4 0 1 0 6.8 0a3.4 3.4 0 1 0 -6.8 0M821.91 299.98a3.4 3.4 0 1 0 6.8 0a3.4 3.4 0 1 0 -6.8 0M825.84 308.23a3.4 3.4 0 1 0 6.8 0a3.4 3.4 0 1 0 -6.8 0M822.91 314.32a3.4 3.4 0 1 0 6.8 0a3.4 3.4 0 1 0 -6.8 0M825.36 322.01a3.4 3.4 0 1 0 6.8 0a3.4 3.4 0 1 0 -6.8 0M822.81 330.27a3.4 3.4 0 1 0 6.8 0a3.4 3.4 0 1 0 -6.8 0M823.11 334.57a3.4 3.4 0 1 0 6.8 0a3.4 3.4 0 1 0 -6.8 0M826.79 340.61a3.4 3.4 0 1 0 6.8 0a3.4 3.4 0 1 0 -6.8 0M832.15 351.61a3.4 3.4 0 1 0 6.8 0a3.4 3.4 0 1 0 -6.8 0M827.69 354.26a3.4 3.4 0 1 0 6.8 0a3.4 3.4 0 1 0 -6.8 0M831.58 362.04a3.4 3.4 0 1 0 6.8 0a3.4 3.4 0 1 0 -6.8 0M830.26 372.67a3.4 3.4 0 1 0 6.8 0a3.4 3.4 0 1 0 -6.8 0M839.14 378.77a3.4 3.4 0 1 0 6.8 0a3.4 3.4 0 1 0 -6.8 0M842.07 381.41a3.4 3.4 0 1 0 6.8 0a3.4 3.4 0 1 0 -6.8 0M843.7 390.39a3.4 3.4 0 1 0 6.8 0a3.4 3.4 0 1 0 -6.8 0M842.53 398.4a3.4 3.4 0 1 0 6.8 0a3.4 3.4 0 1 0 -6.8 0M841.7 407.7a3.4 3.4 0 1 0 6.8 0a3.4 3.4 0 1 0 -6.8 0M838.81 413.53a3.4 3.4 0 1 0 6.8 0a3.4 3.4 0 1 0 -6.8 0M846.36 419.44a3.4 3.4 0 1 0 6.8 0a3.4 3.4 0 1 0 -6.8 0M841.93 424.87a3.4 3.4 0 1 0 6.8 0a3.4 3.4 0 1 0 -6.8 0M841.5 430.01a3.4 3.4 0 1 0 6.8 0a3.4 3.4 0 1 0 -6.8 0M846.5 438.99a3.4 3.4 0 1 0 6.8 0a3.4 3.4 0 1 0 -6.8 0M849.87 449.48a3.4 3.4 0 1 0 6.8 0a3.4 3.4 0 1 0 -6.8 0M840.51 454.11a3.4 3.4 0 1 0 6.8 0a3.4 3.4 0 1 0 -6.8 0M842.44 457.97a3.4 3.4 0 1 0 6.8 0a3.4 3.4 0 1 0 -6.8 0M837.1 469.21a3.4 3.4 0 1 0 6.8 0a3.4 3.4 0 1 0 -6.8 0M836.26 475.08a3.4 3.4 0 1 0 6.8 0a3.4 3.4 0 1 0 -6.8 0M837.67 482.55a3.4 3.4 0 1 0 6.8 0a3.4 3.4 0 1 0 -6.8 0M832.25 488.26a3.4 3.4 0 1 0 6.8 0a3.4 3.4 0 1 0 -6.8 0M836.43 493.17a3.4 3.4 0 1 0 6.8 0a3.4 3.4 0 1 0 -6.8 0M839.35 504.53a3.4 3.4 0 1 0 6.8 0a3.4 3.4 0 1 0 -6.8 0M841.57 511.38a3.4 3.4 0 1 0 6.8 0a3.4 3.4 0 1 0 -6.8 0M839.23 518.98a3.4 3.4 0 1 0 6.8 0a3.4 3.4 0 1 0 -6.8 0M838.86 522.81a3.4 3.4 0 1 0 6.8 0a3.4 3.4 0 1 0 -6.8 0M841.26 532.75a3.4 3.4 0 1 0 6.8 0a3.4 3.4 0 1 0 -6.8 0M849.77 538.24a3.4 3.4 0 1 0 6.8 0a3.4 3.4 0 1 0 -6.8 0M849.37 543.61a3.4 3.4 0 1 0 6.8 0a3.4 3.4 0 1 0 -6.8 0M850.28 553.8a3.4 3.4 0 1 0 6.8 0a3.4 3.4 0 1 0 -6.8 0M848.15 560.26a3.4 3.4 0 1 0 6.8 0a3.4 3.4 0 1 0 -6.8 0M850.3 563.65a3.4 3.4 0 1 0 6.8 0a3.4 3.4 0 1 0 -6.8 0M850.23 569.99a3.4 3.4 0 1 0 6.8 0a3.4 3.4 0 1 0 -6.8 0M849.31 582.02a3.4 3.4 0 1 0 6.8 0a3.4 3.4 0 1 0 -6.8 0M850 588.21a3.4 3.4 0 1 0 6.8 0a3.4 3.4 0 1 0 -6.8 0M850.66 593.45a3.4 3.4 0 1 0 6.8 0a3.4 3.4 0 1 0 -6.8 0M851.16 602.98a3.4 3.4 0 1 0 6.8 0a3.4 3.4 0 1 0 -6.8 0M851.04 605.09a3.4 3.4 0 1 0 6.8 0a3.4 3.4 0 1 0 -6.8 0M852.52 612.85a3.4 3.4 0 1 0 6.8 0a3.4 3.4 0 1 0 -6.8 0M852.15 623.58a3.4 3.4 0 1 0 6.8 0a3.4 3.4 0 1 0 -6.8 0M852.35 627.5a3.4 3.4 0 1 0 6.8 0a3.4 3.4 0 1 0 -6.8 0M852.96 634.47a3.4 3.4 0 1 0 6.8 0a3.4 3.4 0 1 0 -6.8 0M852.71 640.47a3.4 3.4 0 1 0 6.8 0a3.4 3.4 0 1 0 -6.8 0M852.14 646.94a3.4 3.4 0 1 0 6.8 0a3.4 3.4 0 1 0 -6.8 0M851.47 658.72a3.4 3.4 0 1 0 6.8 0a3.4 3.4 0 1 0 -6.8 0M851.33 663.87a3.4 3.4 0 1 0 6.8 0a3.4 3.4 0 1 0 -6.8 0M853.16 670.87a3.4 3.4 0 1 0 6.8 0a3.4 3.4 0 1 0 -6.8 0M854.13 678.25a3.4 3.4 0 1 0 6.8 0a3.4 3.4 0 1 0 -6.8 0M854.26 685.51a3.4 3.4 0 1 0 6.8 0a3.4 3.4 0 1 0 -6.8 0M853.06 693.26a3.4 3.4 0 1 0 6.8 0a3.4 3.4 0 1 0 -6.8 0M853.36 697.15a3.4 3.4 0 1 0 6.8 0a3.4 3.4 0 1 0 -6.8 0M853.87 702.86a3.4 3.4 0 1 0 6.8 0a3.4 3.4 0 1 0 -6.8 0M853.17 712.13a3.4 3.4 0 1 0 6.8 0a3.4 3.4 0 1 0 -6.8 0M852.99 718.2a3.4 3.4 0 1 0 6.8 0a3.4 3.4 0 1 0 -6.8 0M853.94 726.11a3.4 3.4 0 1 0 6.8 0a3.4 3.4 0 1 0 -6.8 0M854.41 731.01a3.4 3.4 0 1 0 6.8 0a3.4 3.4 0 1 0 -6.8 0M853.85 741.17a3.4 3.4 0 1 0 6.8 0a3.4 3.4 0 1 0 -6.8 0M852.84 745.86a3.4 3.4 0 1 0 6.8 0a3.4 3.4 0 1 0 -6.8 0M854.52 754.04a3.4 3.4 0 1 0 6.8 0a3.4 3.4 0 1 0 -6.8 0M853.67 760.22a3.4 3.4 0 1 0 6.8 0a3.4 3.4 0 1 0 -6.8 0M854.07 769.8a3.4 3.4 0 1 0 6.8 0a3.4 3.4 0 1 0 -6.8 0M854.89 773.67a3.4 3.4 0 1 0 6.8 0a3.4 3.4 0 1 0 -6.8 0M854.32 778.85a3.4 3.4 0 1 0 6.8 0a3.4 3.4 0 1 0 -6.8 0M853.91 791.14a3.4 3.4 0 1 0 6.8 0a3.4 3.4 0 1 0 -6.8 0M854.91 795.62a3.4 3.4 0 1 0 6.8 0a3.4 3.4 0 1 0 -6.8 0M854.37 803.11a3.4 3.4 0 1 0 6.8 0a3.4 3.4 0 1 0 -6.8 0M856.16 808.07a3.4 3.4 0 1 0 6.8 0a3.4 3.4 0 1 0 -6.8 0M668.82 23.15a3.4 3.4 0 1 0 6.8 0a3.4 3.4 0 1 0 -6.8 0M670.31 29.4a3.4 3.4 0 1 0 6.8 0a3.4 3.4 0 1 0 -6.8 0M669.01 35.37a3.4 3.4 0 1 0 6.8 0a3.4 3.4 0 1 0 -6.8 0M670.11 40.98a3.4 3.4 0 1 0 6.8 0a3.4 3.4 0 1 0 -6.8 0M669.59 47.41a3.4 3.4 0 1 0 6.8 0a3.4 3.4 0 1 0 -6.8 0M669.65 57.84a3.4 3.4 0 1 0 6.8 0a3.4 3.4 0 1 0 -6.8 0M670.22 63.73a3.4 3.4 0 1 0 6.8 0a3.4 3.4 0 1 0 -6.8 0M670.23 70.06a3.4 3.4 0 1 0 6.8 0a3.4 3.4 0 1 0 -6.8 0M670.47 75.87a3.4 3.4 0 1 0 6.8 0a3.4 3.4 0 1 0 -6.8 0M669.9 84.96a3.4 3.4 0 1 0 6.8 0a3.4 3.4 0 1 0 -6.8 0M672.64 90.44a3.4 3.4 0 1 0 6.8 0a3.4 3.4 0 1 0 -6.8 0M672.47 95.86a3.4 3.4 0 1 0 6.8 0a3.4 3.4 0 1 0 -6.8 0M680.18 104.97a3.4 3.4 0 1 0 6.8 0a3.4 3.4 0 1 0 -6.8 0M677.55 109.93a3.4 3.4 0 1 0 6.8 0a3.4 3.4 0 1 0 -6.8 0M695.01 117.97a3.4 3.4 0 1 0 6.8 0a3.4 3.4 0 1 0 -6.8 0M694.91 123.83a3.4 3.4 0 1 0 6.8 0a3.4 3.4 0 1 0 -6.8 0M707.85 132.89a3.4 3.4 0 1 0 6.8 0a3.4 3.4 0 1 0 -6.8 0M726.72 138.38a3.4 3.4 0 1 0 6.8 0a3.4 3.4 0 1 0 -6.8 0M735.03 145.44a3.4 3.4 0 1 0 6.8 0a3.4 3.4 0 1 0 -6.8 0M734.03 152.46a3.4 3.4 0 1 0 6.8 0a3.4 3.4 0 1 0 -6.8 0M741.98 158.09a3.4 3.4 0 1 0 6.8 0a3.4 3.4 0 1 0 -6.8 0M759.22 168.32a3.4 3.4 0 1 0 6.8 0a3.4 3.4 0 1 0 -6.8 0M764.31 176.94a3.4 3.4 0 1 0 6.8 0a3.4 3.4 0 1 0 -6.8 0M765.11 183.67a3.4 3.4 0 1 0 6.8 0a3.4 3.4 0 1 0 -6.8 0M765.19 186.62a3.4 3.4 0 1 0 6.8 0a3.4 3.4 0 1 0 -6.8 0M774.65 195.09a3.4 3.4 0 1 0 6.8 0a3.4 3.4 0 1 0 -6.8 0M774.12 201.55a3.4 3.4 0 1 0 6.8 0a3.4 3.4 0 1 0 -6.8 0M787.84 211.69a3.4 3.4 0 1 0 6.8 0a3.4 3.4 0 1 0 -6.8 0M784.89 216.56a3.4 3.4 0 1 0 6.8 0a3.4 3.4 0 1 0 -6.8 0M794.75 223.62a3.4 3.4 0 1 0 6.8 0a3.4 3.4 0 1 0 -6.8 0M795.61 228.66a3.4 3.4 0 1 0 6.8 0a3.4 3.4 0 1 0 -6.8 0M797.41 236.77a3.4 3.4 0 1 0 6.8 0a3.4 3.4 0 1 0 -6.8 0M800.59 245.72a3.4 3.4 0 1 0 6.8 0a3.4 3.4 0 1 0 -6.8 0M806.58 253.95a3.4 3.4 0 1 0 6.8 0a3.4 3.4 0 1 0 -6.8 0M813.22 260.72a3.4 3.4 0 1 0 6.8 0a3.4 3.4 0 1 0 -6.8 0M817.23 266.39a3.4 3.4 0 1 0 6.8 0a3.4 3.4 0 1 0 -6.8 0M814.5 272.08a3.4 3.4 0 1 0 6.8 0a3.4 3.4 0 1 0 -6.8 0M819.4 279.61a3.4 3.4 0 1 0 6.8 0a3.4 3.4 0 1 0 -6.8 0M821.47 284.39a3.4 3.4 0 1 0 6.8 0a3.4 3.4 0 1 0 -6.8 0M821.16 291.22a3.4 3.4 0 1 0 6.8 0a3.4 3.4 0 1 0 -6.8 0M821.69 298.83a3.4 3.4 0 1 0 6.8 0a3.4 3.4 0 1 0 -6.8 0M830.73 309.81a3.4 3.4 0 1 0 6.8 0a3.4 3.4 0 1 0 -6.8 0M829.26 311.87a3.4 3.4 0 1 0 6.8 0a3.4 3.4 0 1 0 -6.8 0M828.14 323.49a3.4 3.4 0 1 0 6.8 0a3.4 3.4 0 1 0 -6.8 0M823.2 326.05a3.4 3.4 0 1 0 6.8 0a3.4 3.4 0 1 0 -6.8 0M830.17 336.7a3.4 3.4 0 1 0 6.8 0a3.4 3.4 0 1 0 -6.8 0M831.51 344.98a3.4 3.4 0 1 0 6.8 0a3.4 3.4 0 1 0 -6.8 0M837.19 349.01a3.4 3.4 0 1 0 6.8 0a3.4 3.4 0 1 0 -6.8 0M841.45 353.62a3.4 3.4 0 1 0 6.8 0a3.4 3.4 0 1 0 -6.8 0M840.54 362.84a3.4 3.4 0 1 0 6.8 0a3.4 3.4 0 1 0 -6.8 0M837.72 369.99a3.4 3.4 0 1 0 6.8 0a3.4 3.4 0 1 0 -6.8 0M847.79 376.46a3.4 3.4 0 1 0 6.8 0a3.4 3.4 0 1 0 -6.8 0M841 381.24a3.4 3.4 0 1 0 6.8 0a3.4 3.4 0 1 0 -6.8 0M842.59 388.65a3.4 3.4 0 1 0 6.8 0a3.4 3.4 0 1 0 -6.8 0M845.22 397.72a3.4 3.4 0 1 0 6.8 0a3.4 3.4 0 1 0 -6.8 0M836.54 404.32a3.4 3.4 0 1 0 6.8 0a3.4 3.4 0 1 0 -6.8 0M843.3 409.48a3.4 3.4 0 1 0 6.8 0a3.4 3.4 0 1 0 -6.8 0M847.72 418.69a3.4 3.4 0 1 0 6.8 0a3.4 3.4 0 1 0 -6.8 0M843.85 428.79a3.4 3.4 0 1 0 6.8 0a3.4 3.4 0 1 0 -6.8 0M844.91 432.29a3.4 3.4 0 1 0 6.8 0a3.4 3.4 0 1 0 -6.8 0M849.9 439.88a3.4 3.4 0 1 0 6.8 0a3.4 3.4 0 1 0 -6.8 0M850.43 445.83a3.4 3.4 0 1 0 6.8 0a3.4 3.4 0 1 0 -6.8 0M850.14 453.49a3.4 3.4 0 1 0 6.8 0a3.4 3.4 0 1 0 -6.8 0M845.97 461.92a3.4 3.4 0 1 0 6.8 0a3.4 3.4 0 1 0 -6.8 0M849.06 467.65a3.4 3.4 0 1 0 6.8 0a3.4 3.4 0 1 0 -6.8 0M841.77 474.99a3.4 3.4 0 1 0 6.8 0a3.4 3.4 0 1 0 -6.8 0M847.67 480.37a3.4 3.4 0 1 0 6.8 0a3.4 3.4 0 1 0 -6.8 0M841.19 490.94a3.4 3.4 0 1 0 6.8 0a3.4 3.4 0 1 0 -6.8 0M841.54 495.96a3.4 3.4 0 1 0 6.8 0a3.4 3.4 0 1 0 -6.8 0M847.34 504.11a3.4 3.4 0 1 0 6.8 0a3.4 3.4 0 1 0 -6.8 0M840.57 511.32a3.4 3.4 0 1 0 6.8 0a3.4 3.4 0 1 0 -6.8 0M842.92 514.35a3.4 3.4 0 1 0 6.8 0a3.4 3.4 0 1 0 -6.8 0M851.99 526.16a3.4 3.4 0 1 0 6.8 0a3.4 3.4 0 1 0 -6.8 0M853.94 531.39a3.4 3.4 0 1 0 6.8 0a3.4 3.4 0 1 0 -6.8 0M852.74 535.32a3.4 3.4 0 1 0 6.8 0a3.4 3.4 0 1 0 -6.8 0M850.78 543.44a3.4 3.4 0 1 0 6.8 0a3.4 3.4 0 1 0 -6.8 0M851.06 552.24a3.4 3.4 0 1 0 6.8 0a3.4 3.4 0 1 0 -6.8 0M850.82 560.05a3.4 3.4 0 1 0 6.8 0a3.4 3.4 0 1 0 -6.8 0M851.04 563.17a3.4 3.4 0 1 0 6.8 0a3.4 3.4 0 1 0 -6.8 0M850.53 570.14a3.4 3.4 0 1 0 6.8 0a3.4 3.4 0 1 0 -6.8 0M851.17 576.95a3.4 3.4 0 1 0 6.8 0a3.4 3.4 0 1 0 -6.8 0M850.63 586.38a3.4 3.4 0 1 0 6.8 0a3.4 3.4 0 1 0 -6.8 0M851.02 592.98a3.4 3.4 0 1 0 6.8 0a3.4 3.4 0 1 0 -6.8 0M852.66 601.61a3.4 3.4 0 1 0 6.8 0a3.4 3.4 0 1 0 -6.8 0M852.99 608.87a3.4 3.4 0 1 0 6.8 0a3.4 3.4 0 1 0 -6.8 0M852.32 614.58a3.4 3.4 0 1 0 6.8 0a3.4 3.4 0 1 0 -6.8 0M853.89 621.86a3.4 3.4 0 1 0 6.8 0a3.4 3.4 0 1 0 -6.8 0M852.83 625.49a3.4 3.4 0 1 0 6.8 0a3.4 3.4 0 1 0 -6.8 0M854.09 633.53a3.4 3.4 0 1 0 6.8 0a3.4 3.4 0 1 0 -6.8 0M853.89 639.63a3.4 3.4 0 1 0 6.8 0a3.4 3.4 0 1 0 -6.8 0M853.78 650.96a3.4 3.4 0 1 0 6.8 0a3.4 3.4 0 1 0 -6.8 0M854.5 656.75a3.4 3.4 0 1 0 6.8 0a3.4 3.4 0 1 0 -6.8 0M853.72 665.85a3.4 3.4 0 1 0 6.8 0a3.4 3.4 0 1 0 -6.8 0M853.67 672.7a3.4 3.4 0 1 0 6.8 0a3.4 3.4 0 1 0 -6.8 0M853.57 677.34a3.4 3.4 0 1 0 6.8 0a3.4 3.4 0 1 0 -6.8 0M855.67 681.56a3.4 3.4 0 1 0 6.8 0a3.4 3.4 0 1 0 -6.8 0M854.33 687.86a3.4 3.4 0 1 0 6.8 0a3.4 3.4 0 1 0 -6.8 0M853 697.3a3.4 3.4 0 1 0 6.8 0a3.4 3.4 0 1 0 -6.8 0M855.68 703.22a3.4 3.4 0 1 0 6.8 0a3.4 3.4 0 1 0 -6.8 0M854.14 714.17a3.4 3.4 0 1 0 6.8 0a3.4 3.4 0 1 0 -6.8 0M855.37 719.25a3.4 3.4 0 1 0 6.8 0a3.4 3.4 0 1 0 -6.8 0M854.83 724.34a3.4 3.4 0 1 0 6.8 0a3.4 3.4 0 1 0 -6.8 0M855.79 735.3a3.4 3.4 0 1 0 6.8 0a3.4 3.4 0 1 0 -6.8 0M854.07 738.93a3.4 3.4 0 1 0 6.8 0a3.4 3.4 0 1 0 -6.8 0M855.59 746.53a3.4 3.4 0 1 0 6.8 0a3.4 3.4 0 1 0 -6.8 0M854.49 756.46a3.4 3.4 0 1 0 6.8 0a3.4 3.4 0 1 0 -6.8 0M856.51 758.05a3.4 3.4 0 1 0 6.8 0a3.4 3.4 0 1 0 -6.8 0M855.76 768.57a3.4 3.4 0 1 0 6.8 0a3.4 3.4 0 1 0 -6.8 0M856.19 772.5a3.4 3.4 0 1 0 6.8 0a3.4 3.4 0 1 0 -6.8 0M856.06 778.54a3.4 3.4 0 1 0 6.8 0a3.4 3.4 0 1 0 -6.8 0M857.28 785.95a3.4 3.4 0 1 0 6.8 0a3.4 3.4 0 1 0 -6.8 0M857.03 796.07a3.4 3.4 0 1 0 6.8 0a3.4 3.4 0 1 0 -6.8 0M855.28 801.07a3.4 3.4 0 1 0 6.8 0a3.4 3.4 0 1 0 -6.8 0M856.06 807.27a3.4 3.4 0 1 0 6.8 0a3.4 3.4 0 1 0 -6.8 0M669.94 22.92a3.4 3.4 0 1 0 6.8 0a3.4 3.4 0 1 0 -6.8 0M669.49 28.98a3.4 3.4 0 1 0 6.8 0a3.4 3.4 0 1 0 -6.8 0M671.53 34.48a3.4 3.4 0 1 0 6.8 0a3.4 3.4 0 1 0 -6.8 0M671.03 42.77a3.4 3.4 0 1 0 6.8 0a3.4 3.4 0 1 0 -6.8 0M670.26 51.53a3.4 3.4 0 1 0 6.8 0a3.4 3.4 0 1 0 -6.8 0M670.04 55.96a3.4 3.4 0 1 0 6.8 0a3.4 3.4 0 1 0 -6.8 0M670.78 66.23a3.4 3.4 0 1 0 6.8 0a3.4 3.4 0 1 0 -6.8 0M669.26 70.73a3.4 3.4 0 1 0 6.8 0a3.4 3.4 0 1 0 -6.8 0M670.42 77.74a3.4 3.4 0 1 0 6.8 0a3.4 3.4 0 1 0 -6.8 0M671.47 83.96a3.4 3.4 0 1 0 6.8 0a3.4 3.4 0 1 0 -6.8 0M669.75 90.03a3.4 3.4 0 1 0 6.8 0a3.4 3.4 0 1 0 -6.8 0M671.52 96.18a3.4 3.4 0 1 0 6.8 0a3.4 3.4 0 1 0 -6.8 0M674.5 108.02a3.4 3.4 0 1 0 6.8 0a3.4 3.4 0 1 0 -6.8 0M679.16 113.25a3.4 3.4 0 1 0 6.8 0a3.4 3.4 0 1 0 -6.8 0M688.86 117.89a3.4 3.4 0 1 0 6.8 0a3.4 3.4 0 1 0 -6.8 0M699.07 128.28a3.4 3.4 0 1 0 6.8 0a3.4 3.4 0 1 0 -6.8 0M697.73 131.81a3.4 3.4 0 1 0 6.8 0a3.4 3.4 0 1 0 -6.8 0M698.92 139.38a3.4 3.4 0 1 0 6.8 0a3.4 3.4 0 1 0 -6.8 0M724.09 147.46a3.4 3.4 0 1 0 6.8 0a3.4 3.4 0 1 0 -6.8 0M718.9 156.11a3.4 3.4 0 1 0 6.8 0a3.4 3.4 0 1 0 -6.8 0M730.61 161.01a3.4 3.4 0 1 0 6.8 0a3.4 3.4 0 1 0 -6.8 0M737.12 168.44a3.4 3.4 0 1 0 6.8 0a3.4 3.4 0 1 0 -6.8 0M747.26 173.87a3.4 3.4 0 1 0 6.8 0a3.4 3.4 0 1 0 -6.8 0M758.04 179.69a3.4 3.4 0 1 0 6.8 0a3.4 3.4 0 1 0 -6.8 0M758.36 189.66a3.4 3.4 0 1 0 6.8 0a3.4 3.4 0 1 0 -6.8 0M768.18 197.24a3.4 3.4 0 1 0 6.8 0a3.4 3.4 0 1 0 -6.8 0M770.28 203.11a3.4 3.4 0 1 0 6.8 0a3.4 3.4 0 1 0 -6.8 0M789.35 211.63a3.4 3.4 0 1 0 6.8 0a3.4 3.4 0 1 0 -6.8 0M782.51 214.97a3.4 3.4 0 1 0 6.8 0a3.4 3.4 0 1 0 -6.8 0M796.61 225.25a3.4 3.4 0 1 0 6.8 0a3.4 3.4 0 1 0 -6.8 0M796.18 231.71a3.4 3.4 0 1 0 6.8 0a3.4 3.4 0 1 0 -6.8 0M803.66 236.86a3.4 3.4 0 1 0 6.8 0a3.4 3.4 0 1 0 -6.8 0M804.58 242.42a3.4 3.4 0 1 0 6.8 0a3.4 3.4 0 1 0 -6.8 0M811.03 251.25a3.4 3.4 0 1 0 6.8 0a3.4 3.4 0 1 0 -6.8 0M816.18 261.32a3.4 3.4 0 1 0 6.8 0a3.4 3.4 0 1 0 -6.8 0M818.77 263.07a3.4 3.4 0 1 0 6.8 0a3.4 3.4 0 1 0 -6.8 0M814.62 271.5a3.4 3.4 0 1 0 6.8 0a3.4 3.4 0 1 0 -6.8 0M822.81 280.26a3.4 3.4 0 1 0 6.8 0a3.4 3.4 0 1 0 -6.8 0M824.63 288.99a3.4 3.4 0 1 0 6.8 0a3.4 3.4 0 1 0 -6.8 0M825.37 293.28a3.4 3.4 0 1 0 6.8 0a3.4 3.4 0 1 0 -6.8 0M824.47 300.93a3.4 3.4 0 1 0 6.8 0a3.4 3.4 0 1 0 -6.8 0M825.64 304.86a3.4 3.4 0 1 0 6.8 0a3.4 3.4 0 1 0 -6.8 0M832.71 312.52a3.4 3.4 0 1 0 6.8 0a3.4 3.4 0 1 0 -6.8 0M828.75 320.86a3.4 3.4 0 1 0 6.8 0a3.4 3.4 0 1 0 -6.8 0M829.6 326.9a3.4 3.4 0 1 0 6.8 0a3.4 3.4 0 1 0 -6.8 0M835.88 336.8a3.4 3.4 0 1 0 6.8 0a3.4 3.4 0 1 0 -6.8 0M832.19 339.56a3.4 3.4 0 1 0 6.8 0a3.4 3.4 0 1 0 -6.8 0M831.9 347.87a3.4 3.4 0 1 0 6.8 0a3.4 3.4 0 1 0 -6.8 0M834.66 359.06a3.4 3.4 0 1 0 6.8 0a3.4 3.4 0 1 0 -6.8 0M836.51 360.35a3.4 3.4 0 1 0 6.8 0a3.4 3.4 0 1 0 -6.8 0M839.94 370.39a3.4 3.4 0 1 0 6.8 0a3.4 3.4 0 1 0 -6.8 0M839.53 374.65a3.4 3.4 0 1 0 6.8 0a3.4 3.4 0 1 0 -6.8 0M853.99 383.54a3.4 3.4 0 1 0 6.8 0a3.4 3.4 0 1 0 -6.8 0M844.31 388.07a3.4 3.4 0 1 0 6.8 0a3.4 3.4 0 1 0 -6.8 0M843.08 400.67a3.4 3.4 0 1 0 6.8 0a3.4 3.4 0 1 0 -6.8 0M842.85 405.94a3.4 3.4 0 1 0 6.8 0a3.4 3.4 0 1 0 -6.8 0M840.44 410.06a3.4 3.4 0 1 0 6.8 0a3.4 3.4 0 1 0 -6.8 0M853.44 418.97a3.4 3.4 0 1 0 6.8 0a3.4 3.4 0 1 0 -6.8 0M853.06 423.82a3.4 3.4 0 1 0 6.8 0a3.4 3.4 0 1 0 -6.8 0M855.96 432.47a3.4 3.4 0 1 0 6.8 0a3.4 3.4 0 1 0 -6.8 0M851.19 439.96a3.4 3.4 0 1 0 6.8 0a3.4 3.4 0 1 0 -6.8 0M852.07 449.32a3.4 3.4 0 1 0 6.8 0a3.4 3.4 0 1 0 -6.8 0M854.74 456.26a3.4 3.4 0 1 0 6.8 0a3.4 3.4 0 1 0 -6.8 0M850.12 458.96a3.4 3.4 0 1 0 6.8 0a3.4 3.4 0 1 0 -6.8 0M847.88 467.83a3.4 3.4 0 1 0 6.8 0a3.4 3.4 0 1 0 -6.8 0M854.01 476.86a3.4 3.4 0 1 0 6.8 0a3.4 3.4 0 1 0 -6.8 0M845.35 481.21a3.4 3.4 0 1 0 6.8 0a3.4 3.4 0 1 0 -6.8 0M845.74 487.3a3.4 3.4 0 1 0 6.8 0a3.4 3.4 0 1 0 -6.8 0M849.46 494.36a3.4 3.4 0 1 0 6.8 0a3.4 3.4 0 1 0 -6.8 0M849.94 504.29a3.4 3.4 0 1 0 6.8 0a3.4 3.4 0 1 0 -6.8 0M850.9 508.52a3.4 3.4 0 1 0 6.8 0a3.4 3.4 0 1 0 -6.8 0M855.08 514.05a3.4 3.4 0 1 0 6.8 0a3.4 3.4 0 1 0 -6.8 0M854.33 521.18a3.4 3.4 0 1 0 6.8 0a3.4 3.4 0 1 0 -6.8 0M849.22 529.78a3.4 3.4 0 1 0 6.8 0a3.4 3.4 0 1 0 -6.8 0M852.77 535.05a3.4 3.4 0 1 0 6.8 0a3.4 3.4 0 1 0 -6.8 0M851.53 545.39a3.4 3.4 0 1 0 6.8 0a3.4 3.4 0 1 0 -6.8 0M851.38 550.04a3.4 3.4 0 1 0 6.8 0a3.4 3.4 0 1 0 -6.8 0M850.95 559.26a3.4 3.4 0 1 0 6.8 0a3.4 3.4 0 1 0 -6.8 0M852.46 568.29a3.4 3.4 0 1 0 6.8 0a3.4 3.4 0 1 0 -6.8 0M853.19 575.14a3.4 3.4 0 1 0 6.8 0a3.4 3.4 0 1 0 -6.8 0M852.18 579.62a3.4 3.4 0 1 0 6.8 0a3.4 3.4 0 1 0 -6.8 0M851.64 585.38a3.4 3.4 0 1 0 6.8 0a3.4 3.4 0 1 0 -6.8 0M853.37 591.35a3.4 3.4 0 1 0 6.8 0a3.4 3.4 0 1 0 -6.8 0M854.36 599.11a3.4 3.4 0 1 0 6.8 0a3.4 3.4 0 1 0 -6.8 0M852.13 606.55a3.4 3.4 0 1 0 6.8 0a3.4 3.4 0 1 0 -6.8 0M852.22 612.86a3.4 3.4 0 1 0 6.8 0a3.4 3.4 0 1 0 -6.8 0M855.29 622.21a3.4 3.4 0 1 0 6.8 0a3.4 3.4 0 1 0 -6.8 0M854.1 629.37a3.4 3.4 0 1 0 6.8 0a3.4 3.4 0 1 0 -6.8 0M853.86 635.4a3.4 3.4 0 1 0 6.8 0a3.4 3.4 0 1 0 -6.8 0M853.62 641.4a3.4 3.4 0 1 0 6.8 0a3.4 3.4 0 1 0 -6.8 0M854.3 651.18a3.4 3.4 0 1 0 6.8 0a3.4 3.4 0 1 0 -6.8 0M855.77 656.59a3.4 3.4 0 1 0 6.8 0a3.4 3.4 0 1 0 -6.8 0M855.28 663.07a3.4 3.4 0 1 0 6.8 0a3.4 3.4 0 1 0 -6.8 0M854.5 669.75a3.4 3.4 0 1 0 6.8 0a3.4 3.4 0 1 0 -6.8 0M853.29 678.37a3.4 3.4 0 1 0 6.8 0a3.4 3.4 0 1 0 -6.8 0M855.85 685.79a3.4 3.4 0 1 0 6.8 0a3.4 3.4 0 1 0 -6.8 0M855.69 692.67a3.4 3.4 0 1 0 6.8 0a3.4 3.4 0 1 0 -6.8 0M856.9 699.76a3.4 3.4 0 1 0 6.8 0a3.4 3.4 0 1 0 -6.8 0M856.71 705.58a3.4 3.4 0 1 0 6.8 0a3.4 3.4 0 1 0 -6.8 0M856.12 709.88a3.4 3.4 0 1 0 6.8 0a3.4 3.4 0 1 0 -6.8 0M855.53 717.94a3.4 3.4 0 1 0 6.8 0a3.4 3.4 0 1 0 -6.8 0M855.32 725.16a3.4 3.4 0 1 0 6.8 0a3.4 3.4 0 1 0 -6.8 0M855.41 731.78a3.4 3.4 0 1 0 6.8 0a3.4 3.4 0 1 0 -6.8 0M856.47 742.12a3.4 3.4 0 1 0 6.8 0a3.4 3.4 0 1 0 -6.8 0M857.53 745.79a3.4 3.4 0 1 0 6.8 0a3.4 3.4 0 1 0 -6.8 0M855.06 751.1a3.4 3.4 0 1 0 6.8 0a3.4 3.4 0 1 0 -6.8 0M857.48 760.15a3.4 3.4 0 1 0 6.8 0a3.4 3.4 0 1 0 -6.8 0M856.51 769.1a3.4 3.4 0 1 0 6.8 0a3.4 3.4 0 1 0 -6.8 0M856.6 772.22a3.4 3.4 0 1 0 6.8 0a3.4 3.4 0 1 0 -6.8 0M855.8 779.94a3.4 3.4 0 1 0 6.8 0a3.4 3.4 0 1 0 -6.8 0M857.11 790.14a3.4 3.4 0 1 0 6.8 0a3.4 3.4 0 1 0 -6.8 0M857.03 793.49a3.4 3.4 0 1 0 6.8 0a3.4 3.4 0 1 0 -6.8 0M857.74 801.73a3.4 3.4 0 1 0 6.8 0a3.4 3.4 0 1 0 -6.8 0M856.38 810.61a3.4 3.4 0 1 0 6.8 0a3.4 3.4 0 1 0 -6.8 0M670.34 24.1a3.4 3.4 0 1 0 6.8 0a3.4 3.4 0 1 0 -6.8 0M671.77 29.11a3.4 3.4 0 1 0 6.8 0a3.4 3.4 0 1 0 -6.8 0M671.85 36.76a3.4 3.4 0 1 0 6.8 0a3.4 3.4 0 1 0 -6.8 0M670.41 42.26a3.4 3.4 0 1 0 6.8 0a3.4 3.4 0 1 0 -6.8 0M669.89 47.77a3.4 3.4 0 1 0 6.8 0a3.4 3.4 0 1 0 -6.8 0M669.86 54.41a3.4 3.4 0 1 0 6.8 0a3.4 3.4 0 1 0 -6.8 0M670.89 62.45a3.4 3.4 0 1 0 6.8 0a3.4 3.4 0 1 0 -6.8 0M671.46 68.21a3.4 3.4 0 1 0 6.8 0a3.4 3.4 0 1 0 -6.8 0M671.16 76.68a3.4 3.4 0 1 0 6.8 0a3.4 3.4 0 1 0 -6.8 0M671.74 84.4a3.4 3.4 0 1 0 6.8 0a3.4 3.4 0 1 0 -6.8 0M673.85 88.29a3.4 3.4 0 1 0 6.8 0a3.4 3.4 0 1 0 -6.8 0M672.6 97.26a3.4 3.4 0 1 0 6.8 0a3.4 3.4 0 1 0 -6.8 0M686.22 106.37a3.4 3.4 0 1 0 6.8 0a3.4 3.4 0 1 0 -6.8 0M685.68 111.41a3.4 3.4 0 1 0 6.8 0a3.4 3.4 0 1 0 -6.8 0M704.53 121.6a3.4 3.4 0 1 0 6.8 0a3.4 3.4 0 1 0 -6.8 0M702.95 129.04a3.4 3.4 0 1 0 6.8 0a3.4 3.4 0 1 0 -6.8 0M711.26 135.07a3.4 3.4 0 1 0 6.8 0a3.4 3.4 0 1 0 -6.8 0M706.32 138.64a3.4 3.4 0 1 0 6.8 0a3.4 3.4 0 1 0 -6.8 0M718.97 146.49a3.4 3.4 0 1 0 6.8 0a3.4 3.4 0 1 0 -6.8 0M734.11 153.99a3.4 3.4 0 1 0 6.8 0a3.4 3.4 0 1 0 -6.8 0M733.19 160.23a3.4 3.4 0 1 0 6.8 0a3.4 3.4 0 1 0 -6.8 0M750.3 166.5a3.4 3.4 0 1 0 6.8 0a3.4 3.4 0 1 0 -6.8 0M747.93 173.72a3.4 3.4 0 1 0 6.8 0a3.4 3.4 0 1 0 -6.8 0M759.19 180.62a3.4 3.4 0 1 0 6.8 0a3.4 3.4 0 1 0 -6.8 0M762.99 188.95a3.4 3.4 0 1 0 6.8 0a3.4 3.4 0 1 0 -6.8 0M769.05 196.75a3.4 3.4 0 1 0 6.8 0a3.4 3.4 0 1 0 -6.8 0M781.44 204.21a3.4 3.4 0 1 0 6.8 0a3.4 3.4 0 1 0 -6.8 0M790.41 209.97a3.4 3.4 0 1 0 6.8 0a3.4 3.4 0 1 0 -6.8 0M780.62 213.84a3.4 3.4 0 1 0 6.8 0a3.4 3.4 0 1 0 -6.8 0M797.45 224.82a3.4 3.4 0 1 0 6.8 0a3.4 3.4 0 1 0 -6.8 0M800.94 233.2a3.4 3.4 0 1 0 6.8 0a3.4 3.4 0 1 0 -6.8 0M801.75 237.77a3.4 3.4 0 1 0 6.8 0a3.4 3.4 0 1 0 -6.8 0M810.57 244.27a3.4 3.4 0 1 0 6.8 0a3.4 3.4 0 1 0 -6.8 0M812.2 250.18a3.4 3.4 0 1 0 6.8 0a3.4 3.4 0 1 0 -6.8 0M808.46 260.82a3.4 3.4 0 1 0 6.8 0a3.4 3.4 0 1 0 -6.8 0M814.18 263.17a3.4 3.4 0 1 0 6.8 0a3.4 3.4 0 1 0 -6.8 0M818.61 273.55a3.4 3.4 0 1 0 6.8 0a3.4 3.4 0 1 0 -6.8 0M810.14 278.72a3.4 3.4 0 1 0 6.8 0a3.4 3.4 0 1 0 -6.8 0M822.55 285.32a3.4 3.4 0 1 0 6.8 0a3.4 3.4 0 1 0 -6.8 0M825.12 292.26a3.4 3.4 0 1 0 6.8 0a3.4 3.4 0 1 0 -6.8 0M822.83 299.68a3.4 3.4 0 1 0 6.8 0a3.4 3.4 0 1 0 -6.8 0M833.99 307.46a3.4 3.4 0 1 0 6.8 0a3.4 3.4 0 1 0 -6.8 0M830.55 313.19a3.4 3.4 0 1 0 6.8 0a3.4 3.4 0 1 0 -6.8 0M823.93 318.67a3.4 3.4 0 1 0 6.8 0a3.4 3.4 0 1 0 -6.8 0M826.21 327.78a3.4 3.4 0 1 0 6.8 0a3.4 3.4 0 1 0 -6.8 0M839.16 335.85a3.4 3.4 0 1 0 6.8 0a3.4 3.4 0 1 0 -6.8 0M832.07 341.32a3.4 3.4 0 1 0 6.8 0a3.4 3.4 0 1 0 -6.8 0M840.5 352.02a3.4 3.4 0 1 0 6.8 0a3.4 3.4 0 1 0 -6.8 0M837.02 356.14a3.4 3.4 0 1 0 6.8 0a3.4 3.4 0 1 0 -6.8 0M843.05 360.7a3.4 3.4 0 1 0 6.8 0a3.4 3.4 0 1 0 -6.8 0M846.47 372.16a3.4 3.4 0 1 0 6.8 0a3.4 3.4 0 1 0 -6.8 0M843.6 375.99a3.4 3.4 0 1 0 6.8 0a3.4 3.4 0 1 0 -6.8 0M845.73 383.68a3.4 3.4 0 1 0 6.8 0a3.4 3.4 0 1 0 -6.8 0M839.04 393.5a3.4 3.4 0 1 0 6.8 0a3.4 3.4 0 1 0 -6.8 0M842.36 396.38a3.4 3.4 0 1 0 6.8 0a3.4 3.4 0 1 0 -6.8 0M841.57 404.09a3.4 3.4 0 1 0 6.8 0a3.4 3.4 0 1 0 -6.8 0M848.09 409.14a3.4 3.4 0 1 0 6.8 0a3.4 3.4 0 1 0 -6.8 0M846.97 417.65a3.4 3.4 0 1 0 6.8 0a3.4 3.4 0 1 0 -6.8 0M845.66 428.25a3.4 3.4 0 1 0 6.8 0a3.4 3.4 0 1 0 -6.8 0M854.94 430.32a3.4 3.4 0 1 0 6.8 0a3.4 3.4 0 1 0 -6.8 0M851.13 438.7a3.4 3.4 0 1 0 6.8 0a3.4 3.4 0 1 0 -6.8 0M842.91 447.63a3.4 3.4 0 1 0 6.8 0a3.4 3.4 0 1 0 -6.8 0M849.24 455.45a3.4 3.4 0 1 0 6.8 0a3.4 3.4 0 1 0 -6.8 0M841.71 462.26a3.4 3.4 0 1 0 6.8 0a3.4 3.4 0 1 0 -6.8 0M851.76 466.39a3.4 3.4 0 1 0 6.8 0a3.4 3.4 0 1 0 -6.8 0M843.19 472a3.4 3.4 0 1 0 6.8 0a3.4 3.4 0 1 0 -6.8 0M847.51 484.26a3.4 3.4 0 1 0 6.8 0a3.4 3.4 0 1 0 -6.8 0M848.24 487.39a3.4 3.4 0 1 0 6.8 0a3.4 3.4 0 1 0 -6.8 0M846.54 494.18a3.4 3.4 0 1 0 6.8 0a3.4 3.4 0 1 0 -6.8 0M843.83 504.83a3.4 3.4 0 1 0 6.8 0a3.4 3.4 0 1 0 -6.8 0M843.91 512.5a3.4 3.4 0 1 0 6.8 0a3.4 3.4 0 1 0 -6.8 0M852.4 517.89a3.4 3.4 0 1 0 6.8 0a3.4 3.4 0 1 0 -6.8 0M845.67 521.99a3.4 3.4 0 1 0 6.8 0a3.4 3.4 0 1 0 -6.8 0M850.82 532.71a3.4 3.4 0 1 0 6.8 0a3.4 3.4 0 1 0 -6.8 0M851.27 539.17a3.4 3.4 0 1 0 6.8 0a3.4 3.4 0 1 0 -6.8 0M850.87 545.69a3.4 3.4 0 1 0 6.8 0a3.4 3.4 0 1 0 -6.8 0M851.43 554.27a3.4 3.4 0 1 0 6.8 0a3.4 3.4 0 1 0 -6.8 0M850.8 560.77a3.4 3.4 0 1 0 6.8 0a3.4 3.4 0 1 0 -6.8 0M850.88 564.32a3.4 3.4 0 1 0 6.8 0a3.4 3.4 0 1 0 -6.8 0M851.88 574.3a3.4 3.4 0 1 0 6.8 0a3.4 3.4 0 1 0 -6.8 0M850.03 581.55a3.4 3.4 0 1 0 6.8 0a3.4 3.4 0 1 0 -6.8 0M851.42 586.04a3.4 3.4 0 1 0 6.8 0a3.4 3.4 0 1 0 -6.8 0M851.92 593.24a3.4 3.4 0 1 0 6.8 0a3.4 3.4 0 1 0 -6.8 0M851.96 599.85a3.4 3.4 0 1 0 6.8 0a3.4 3.4 0 1 0 -6.8 0M852.66 605.22a3.4 3.4 0 1 0 6.8 0a3.4 3.4 0 1 0 -6.8 0M853.88 614.82a3.4 3.4 0 1 0 6.8 0a3.4 3.4 0 1 0 -6.8 0M852.69 620.19a3.4 3.4 0 1 0 6.8 0a3.4 3.4 0 1 0 -6.8 0M854.87 625.33a3.4 3.4 0 1 0 6.8 0a3.4 3.4 0 1 0 -6.8 0M854.06 634.96a3.4 3.4 0 1 0 6.8 0a3.4 3.4 0 1 0 -6.8 0M854.63 642.9a3.4 3.4 0 1 0 6.8 0a3.4 3.4 0 1 0 -6.8 0M854.46 650.95a3.4 3.4 0 1 0 6.8 0a3.4 3.4 0 1 0 -6.8 0M853.78 658.4a3.4 3.4 0 1 0 6.8 0a3.4 3.4 0 1 0 -6.8 0M854.92 665.51a3.4 3.4 0 1 0 6.8 0a3.4 3.4 0 1 0 -6.8 0M855.18 669.77a3.4 3.4 0 1 0 6.8 0a3.4 3.4 0 1 0 -6.8 0M854.2 678.8a3.4 3.4 0 1 0 6.8 0a3.4 3.4 0 1 0 -6.8 0M855.94 685.85a3.4 3.4 0 1 0 6.8 0a3.4 3.4 0 1 0 -6.8 0M856.13 691.98a3.4 3.4 0 1 0 6.8 0a3.4 3.4 0 1 0 -6.8 0M853.23 695.12a3.4 3.4 0 1 0 6.8 0a3.4 3.4 0 1 0 -6.8 0M855.07 704.44a3.4 3.4 0 1 0 6.8 0a3.4 3.4 0 1 0 -6.8 0M853.13 714.48a3.4 3.4 0 1 0 6.8 0a3.4 3.4 0 1 0 -6.8 0M855.6 717.26a3.4 3.4 0 1 0 6.8 0a3.4 3.4 0 1 0 -6.8 0M856.12 723.99a3.4 3.4 0 1 0 6.8 0a3.4 3.4 0 1 0 -6.8 0M857.42 732.37a3.4 3.4 0 1 0 6.8 0a3.4 3.4 0 1 0 -6.8 0M854.73 738.25a3.4 3.4 0 1 0 6.8 0a3.4 3.4 0 1 0 -6.8 0M856.89 748.47a3.4 3.4 0 1 0 6.8 0a3.4 3.4 0 1 0 -6.8 0M855.56 750.77a3.4 3.4 0 1 0 6.8 0a3.4 3.4 0 1 0 -6.8 0M856.92 759.23a3.4 3.4 0 1 0 6.8 0a3.4 3.4 0 1 0 -6.8 0M856.79 766a3.4 3.4 0 1 0 6.8 0a3.4 3.4 0 1 0 -6.8 0M856.49 772.89a3.4 3.4 0 1 0 6.8 0a3.4 3.4 0 1 0 -6.8 0M856.16 778.85a3.4 3.4 0 1 0 6.8 0a3.4 3.4 0 1 0 -6.8 0M857.49 789a3.4 3.4 0 1 0 6.8 0a3.4 3.4 0 1 0 -6.8 0M858.16 796.04a3.4 3.4 0 1 0 6.8 0a3.4 3.4 0 1 0 -6.8 0M854.81 802.5a3.4 3.4 0 1 0 6.8 0a3.4 3.4 0 1 0 -6.8 0M857.03 809.31a3.4 3.4 0 1 0 6.8 0a3.4 3.4 0 1 0 -6.8 0M668.43 20.2a3.4 3.4 0 1 0 6.8 0a3.4 3.4 0 1 0 -6.8 0M667.98 30.17a3.4 3.4 0 1 0 6.8 0a3.4 3.4 0 1 0 -6.8 0M670.57 33.43a3.4 3.4 0 1 0 6.8 0a3.4 3.4 0 1 0 -6.8 0M669.91 43.51a3.4 3.4 0 1 0 6.8 0a3.4 3.4 0 1 0 -6.8 0M667 49.19a3.4 3.4 0 1 0 6.8 0a3.4 3.4 0 1 0 -6.8 0M666.76 55.55a3.4 3.4 0 1 0 6.8 0a3.4 3.4 0 1 0 -6.8 0M668.37 64.51a3.4 3.4 0 1 0 6.8 0a3.4 3.4 0 1 0 -6.8 0M668.27 68.13a3.4 3.4 0 1 0 6.8 0a3.4 3.4 0 1 0 -6.8 0M669.14 78.63a3.4 3.4 0 1 0 6.8 0a3.4 3.4 0 1 0 -6.8 0M669.05 86.7a3.4 3.4 0 1 0 6.8 0a3.4 3.4 0 1 0 -6.8 0M668.68 92.68a3.4 3.4 0 1 0 6.8 0a3.4 3.4 0 1 0 -6.8 0M667.78 99.57a3.4 3.4 0 1 0 6.8 0a3.4 3.4 0 1 0 -6.8 0M674.19 103.67a3.4 3.4 0 1 0 6.8 0a3.4 3.4 0 1 0 -6.8 0M680.92 110.65a3.4 3.4 0 1 0 6.8 0a3.4 3.4 0 1 0 -6.8 0M684.55 116.19a3.4 3.4 0 1 0 6.8 0a3.4 3.4 0 1 0 -6.8 0M690.49 128.54a3.4 3.4 0 1 0 6.8 0a3.4 3.4 0 1 0 -6.8 0M699.1 134.19a3.4 3.4 0 1 0 6.8 0a3.4 3.4 0 1 0 -6.8 0M714.23 142.29a3.4 3.4 0 1 0 6.8 0a3.4 3.4 0 1 0 -6.8 0M713.85 147.88a3.4 3.4 0 1 0 6.8 0a3.4 3.4 0 1 0 -6.8 0M729.87 156.62a3.4 3.4 0 1 0 6.8 0a3.4 3.4 0 1 0 -6.8 0M741.13 160.23a3.4 3.4 0 1 0 6.8 0a3.4 3.4 0 1 0 -6.8 0M745.9 166.85a3.4 3.4 0 1 0 6.8 0a3.4 3.4 0 1 0 -6.8 0M746.59 177.44a3.4 3.4 0 1 0 6.8 0a3.4 3.4 0 1 0 -6.8 0M758.46 179.96a3.4 3.4 0 1 0 6.8 0a3.4 3.4 0 1 0 -6.8 0M761.52 188.44a3.4 3.4 0 1 0 6.8 0a3.4 3.4 0 1 0 -6.8 0M762.03 193.32a3.4 3.4 0 1 0 6.8 0a3.4 3.4 0 1 0 -6.8 0M773.75 205.64a3.4 3.4 0 1 0 6.8 0a3.4 3.4 0 1 0 -6.8 0M770.63 207.03a3.4 3.4 0 1 0 6.8 0a3.4 3.4 0 1 0 -6.8 0M778.47 214.96a3.4 3.4 0 1 0 6.8 0a3.4 3.4 0 1 0 -6.8 0M794.94 221.64a3.4 3.4 0 1 0 6.8 0a3.4 3.4 0 1 0 -6.8 0M798.64 230.24a3.4 3.4 0 1 0 6.8 0a3.4 3.4 0 1 0 -6.8 0M791.99 238.41a3.4 3.4 0 1 0 6.8 0a3.4 3.4 0 1 0 -6.8 0M804.23 243.45a3.4 3.4 0 1 0 6.8 0a3.4 3.4 0 1 0 -6.8 0M802.98 248.71a3.4 3.4 0 1 0 6.8 0a3.4 3.4 0 1 0 -6.8 0M809.89 257.48a3.4 3.4 0 1 0 6.8 0a3.4 3.4 0 1 0 -6.8 0M801.2 266.94a3.4 3.4 0 1 0 6.8 0a3.4 3.4 0 1 0 -6.8 0M811.89 269.59a3.4 3.4 0 1 0 6.8 0a3.4 3.4 0 1 0 -6.8 0M812.18 277.17a3.4 3.4 0 1 0 6.8 0a3.4 3.4 0 1 0 -6.8 0M814.92 288.45a3.4 3.4 0 1 0 6.8 0a3.4 3.4 0 1 0 -6.8 0M824.19 291.13a3.4 3.4 0 1 0 6.8 0a3.4 3.4 0 1 0 -6.8 0M816.82 300.5a3.4 3.4 0 1 0 6.8 0a3.4 3.4 0 1 0 -6.8 0M822.62 309.63a3.4 3.4 0 1 0 6.8 0a3.4 3.4 0 1 0 -6.8 0M824.46 317.06a3.4 3.4 0 1 0 6.8 0a3.4 3.4 0 1 0 -6.8 0M817.36 321.01a3.4 3.4 0 1 0 6.8 0a3.4 3.4 0 1 0 -6.8 0M822.23 325.95a3.4 3.4 0 1 0 6.8 0a3.4 3.4 0 1 0 -6.8 0M823.27 332.74a3.4 3.4 0 1 0 6.8 0a3.4 3.4 0 1 0 -6.8 0M822.11 343.63a3.4 3.4 0 1 0 6.8 0a3.4 3.4 0 1 0 -6.8 0M830.62 348.25a3.4 3.4 0 1 0 6.8 0a3.4 3.4 0 1 0 -6.8 0M832.3 359.01a3.4 3.4 0 1 0 6.8 0a3.4 3.4 0 1 0 -6.8 0M834.99 362.15a3.4 3.4 0 1 0 6.8 0a3.4 3.4 0 1 0 -6.8 0M839.57 370.67a3.4 3.4 0 1 0 6.8 0a3.4 3.4 0 1 0 -6.8 0M837.24 377.19a3.4 3.4 0 1 0 6.8 0a3.4 3.4 0 1 0 -6.8 0M831.11 381.67a3.4 3.4 0 1 0 6.8 0a3.4 3.4 0 1 0 -6.8 0M835.89 391.69a3.4 3.4 0 1 0 6.8 0a3.4 3.4 0 1 0 -6.8 0M842.73 397.99a3.4 3.4 0 1 0 6.8 0a3.4 3.4 0 1 0 -6.8 0M840.79 404.8a3.4 3.4 0 1 0 6.8 0a3.4 3.4 0 1 0 -6.8 0M839.33 412.09a3.4 3.4 0 1 0 6.8 0a3.4 3.4 0 1 0 -6.8 0M838.71 418.66a3.4 3.4 0 1 0 6.8 0a3.4 3.4 0 1 0 -6.8 0M840.03 426.31a3.4 3.4 0 1 0 6.8 0a3.4 3.4 0 1 0 -6.8 0M845.05 432.97a3.4 3.4 0 1 0 6.8 0a3.4 3.4 0 1 0 -6.8 0M846.26 441.08a3.4 3.4 0 1 0 6.8 0a3.4 3.4 0 1 0 -6.8 0M843.55 449.54a3.4 3.4 0 1 0 6.8 0a3.4 3.4 0 1 0 -6.8 0M846.95 454.59a3.4 3.4 0 1 0 6.8 0a3.4 3.4 0 1 0 -6.8 0M842.1 462.21a3.4 3.4 0 1 0 6.8 0a3.4 3.4 0 1 0 -6.8 0M835.41 468.33a3.4 3.4 0 1 0 6.8 0a3.4 3.4 0 1 0 -6.8 0M835.87 476.16a3.4 3.4 0 1 0 6.8 0a3.4 3.4 0 1 0 -6.8 0M845.55 478.75a3.4 3.4 0 1 0 6.8 0a3.4 3.4 0 1 0 -6.8 0M838.97 490.45a3.4 3.4 0 1 0 6.8 0a3.4 3.4 0 1 0 -6.8 0M838.25 498.36a3.4 3.4 0 1 0 6.8 0a3.4 3.4 0 1 0 -6.8 0M838.65 505.16a3.4 3.4 0 1 0 6.8 0a3.4 3.4 0 1 0 -6.8 0M841.56 508.19a3.4 3.4 0 1 0 6.8 0a3.4 3.4 0 1 0 -6.8 0M845.57 518.57a3.4 3.4 0 1 0 6.8 0a3.4 3.4 0 1 0 -6.8 0M839.8 522.49a3.4 3.4 0 1 0 6.8 0a3.4 3.4 0 1 0 -6.8 0M840.32 529.8a3.4 3.4 0 1 0 6.8 0a3.4 3.4 0 1 0 -6.8 0M845.13 537.36a3.4 3.4 0 1 0 6.8 0a3.4 3.4 0 1 0 -6.8 0M850.15 543.85a3.4 3.4 0 1 0 6.8 0a3.4 3.4 0 1 0 -6.8 0M850.85 553.25a3.4 3.4 0 1 0 6.8 0a3.4 3.4 0 1 0 -6.8 0M850.1 557.19a3.4 3.4 0 1 0 6.8 0a3.4 3.4 0 1 0 -6.8 0M849.83 564.11a3.4 3.4 0 1 0 6.8 0a3.4 3.4 0 1 0 -6.8 0M850.4 574.11a3.4 3.4 0 1 0 6.8 0a3.4 3.4 0 1 0 -6.8 0M850.04 577.72a3.4 3.4 0 1 0 6.8 0a3.4 3.4 0 1 0 -6.8 0M849.04 587.93a3.4 3.4 0 1 0 6.8 0a3.4 3.4 0 1 0 -6.8 0M848.99 593.99a3.4 3.4 0 1 0 6.8 0a3.4 3.4 0 1 0 -6.8 0M848.81 601.4a3.4 3.4 0 1 0 6.8 0a3.4 3.4 0 1 0 -6.8 0M850.66 605.58a3.4 3.4 0 1 0 6.8 0a3.4 3.4 0 1 0 -6.8 0M852.14 615.08a3.4 3.4 0 1 0 6.8 0a3.4 3.4 0 1 0 -6.8 0M852.19 619.52a3.4 3.4 0 1 0 6.8 0a3.4 3.4 0 1 0 -6.8 0M851.85 628.35a3.4 3.4 0 1 0 6.8 0a3.4 3.4 0 1 0 -6.8 0M852.56 637.12a3.4 3.4 0 1 0 6.8 0a3.4 3.4 0 1 0 -6.8 0M853.23 644.99a3.4 3.4 0 1 0 6.8 0a3.4 3.4 0 1 0 -6.8 0M852.16 647.17a3.4 3.4 0 1 0 6.8 0a3.4 3.4 0 1 0 -6.8 0M852.89 656.88a3.4 3.4 0 1 0 6.8 0a3.4 3.4 0 1 0 -6.8 0M853.16 662.69a3.4 3.4 0 1 0 6.8 0a3.4 3.4 0 1 0 -6.8 0M851.69 667.61a3.4 3.4 0 1 0 6.8 0a3.4 3.4 0 1 0 -6.8 0M852.61 675.73a3.4 3.4 0 1 0 6.8 0a3.4 3.4 0 1 0 -6.8 0M852.98 685.02a3.4 3.4 0 1 0 6.8 0a3.4 3.4 0 1 0 -6.8 0M853.16 688.31a3.4 3.4 0 1 0 6.8 0a3.4 3.4 0 1 0 -6.8 0M853.61 696.31a3.4 3.4 0 1 0 6.8 0a3.4 3.4 0 1 0 -6.8 0M852.86 704.23a3.4 3.4 0 1 0 6.8 0a3.4 3.4 0 1 0 -6.8 0M854.45 712.01a3.4 3.4 0 1 0 6.8 0a3.4 3.4 0 1 0 -6.8 0M854.24 719.92a3.4 3.4 0 1 0 6.8 0a3.4 3.4 0 1 0 -6.8 0M855.19 727.79a3.4 3.4 0 1 0 6.8 0a3.4 3.4 0 1 0 -6.8 0M855.69 733.18a3.4 3.4 0 1 0 6.8 0a3.4 3.4 0 1 0 -6.8 0M855.54 737.79a3.4 3.4 0 1 0 6.8 0a3.4 3.4 0 1 0 -6.8 0M856.05 745.13a3.4 3.4 0 1 0 6.8 0a3.4 3.4 0 1 0 -6.8 0M854.85 754.64a3.4 3.4 0 1 0 6.8 0a3.4 3.4 0 1 0 -6.8 0M854.68 762.17a3.4 3.4 0 1 0 6.8 0a3.4 3.4 0 1 0 -6.8 0M854.75 765.11a3.4 3.4 0 1 0 6.8 0a3.4 3.4 0 1 0 -6.8 0M852.94 771.71a3.4 3.4 0 1 0 6.8 0a3.4 3.4 0 1 0 -6.8 0M856.21 778.76a3.4 3.4 0 1 0 6.8 0a3.4 3.4 0 1 0 -6.8 0M853.86 790.27a3.4 3.4 0 1 0 6.8 0a3.4 3.4 0 1 0 -6.8 0M855.74 797.95a3.4 3.4 0 1 0 6.8 0a3.4 3.4 0 1 0 -6.8 0M853.99 804.37a3.4 3.4 0 1 0 6.8 0a3.4 3.4 0 1 0 -6.8 0M854.72 807.09a3.4 3.4 0 1 0 6.8 0a3.4 3.4 0 1 0 -6.8 0M671.99 22.45a3.4 3.4 0 1 0 6.8 0a3.4 3.4 0 1 0 -6.8 0M672.3 29.5a3.4 3.4 0 1 0 6.8 0a3.4 3.4 0 1 0 -6.8 0M670.61 35.63a3.4 3.4 0 1 0 6.8 0a3.4 3.4 0 1 0 -6.8 0M669.32 41.6a3.4 3.4 0 1 0 6.8 0a3.4 3.4 0 1 0 -6.8 0M669.64 46.48a3.4 3.4 0 1 0 6.8 0a3.4 3.4 0 1 0 -6.8 0M668.51 59.07a3.4 3.4 0 1 0 6.8 0a3.4 3.4 0 1 0 -6.8 0M670.04 65.34a3.4 3.4 0 1 0 6.8 0a3.4 3.4 0 1 0 -6.8 0M671.17 72.82a3.4 3.4 0 1 0 6.8 0a3.4 3.4 0 1 0 -6.8 0M670.89 79.14a3.4 3.4 0 1 0 6.8 0a3.4 3.4 0 1 0 -6.8 0M671.85 84.36a3.4 3.4 0 1 0 6.8 0a3.4 3.4 0 1 0 -6.8 0M671.45 90.78a3.4 3.4 0 1 0 6.8 0a3.4 3.4 0 1 0 -6.8 0M673.96 98.09a3.4 3.4 0 1 0 6.8 0a3.4 3.4 0 1 0 -6.8 0M675.66 106.95a3.4 3.4 0 1 0 6.8 0a3.4 3.4 0 1 0 -6.8 0M681.37 112.72a3.4 3.4 0 1 0 6.8 0a3.4 3.4 0 1 0 -6.8 0M689.37 117.42a3.4 3.4 0 1 0 6.8 0a3.4 3.4 0 1 0 -6.8 0M698.89 128.69a3.4 3.4 0 1 0 6.8 0a3.4 3.4 0 1 0 -6.8 0M720.88 133.02a3.4 3.4 0 1 0 6.8 0a3.4 3.4 0 1 0 -6.8 0M732.46 142.76a3.4 3.4 0 1 0 6.8 0a3.4 3.4 0 1 0 -6.8 0M723.31 145.71a3.4 3.4 0 1 0 6.8 0a3.4 3.4 0 1 0 -6.8 0M755.4 154.67a3.4 3.4 0 1 0 6.8 0a3.4 3.4 0 1 0 -6.8 0M745.5 160.82a3.4 3.4 0 1 0 6.8 0a3.4 3.4 0 1 0 -6.8 0M759.46 168.95a3.4 3.4 0 1 0 6.8 0a3.4 3.4 0 1 0 -6.8 0M756.66 174.13a3.4 3.4 0 1 0 6.8 0a3.4 3.4 0 1 0 -6.8 0M767.3 183.49a3.4 3.4 0 1 0 6.8 0a3.4 3.4 0 1 0 -6.8 0M770.29 186.83a3.4 3.4 0 1 0 6.8 0a3.4 3.4 0 1 0 -6.8 0M771.1 194.4a3.4 3.4 0 1 0 6.8 0a3.4 3.4 0 1 0 -6.8 0M770.21 204.83a3.4 3.4 0 1 0 6.8 0a3.4 3.4 0 1 0 -6.8 0M780.96 210.74a3.4 3.4 0 1 0 6.8 0a3.4 3.4 0 1 0 -6.8 0M788.91 216.7a3.4 3.4 0 1 0 6.8 0a3.4 3.4 0 1 0 -6.8 0M795.77 226.61a3.4 3.4 0 1 0 6.8 0a3.4 3.4 0 1 0 -6.8 0M795.35 227.79a3.4 3.4 0 1 0 6.8 0a3.4 3.4 0 1 0 -6.8 0M807.74 239.93a3.4 3.4 0 1 0 6.8 0a3.4 3.4 0 1 0 -6.8 0M812.93 244.2a3.4 3.4 0 1 0 6.8 0a3.4 3.4 0 1 0 -6.8 0M812.47 254.4a3.4 3.4 0 1 0 6.8 0a3.4 3.4 0 1 0 -6.8 0M815.39 259.22a3.4 3.4 0 1 0 6.8 0a3.4 3.4 0 1 0 -6.8 0M814.49 266.33a3.4 3.4 0 1 0 6.8 0a3.4 3.4 0 1 0 -6.8 0M817.47 271.21a3.4 3.4 0 1 0 6.8 0a3.4 3.4 0 1 0 -6.8 0M826.91 282.02a3.4 3.4 0 1 0 6.8 0a3.4 3.4 0 1 0 -6.8 0M817.06 284.61a3.4 3.4 0 1 0 6.8 0a3.4 3.4 0 1 0 -6.8 0M824.82 294.38a3.4 3.4 0 1 0 6.8 0a3.4 3.4 0 1 0 -6.8 0M822.46 299.67a3.4 3.4 0 1 0 6.8 0a3.4 3.4 0 1 0 -6.8 0M826.6 306.44a3.4 3.4 0 1 0 6.8 0a3.4 3.4 0 1 0 -6.8 0M829.78 312.69a3.4 3.4 0 1 0 6.8 0a3.4 3.4 0 1 0 -6.8 0M825.07 322.79a3.4 3.4 0 1 0 6.8 0a3.4 3.4 0 1 0 -6.8 0M829.27 329.84a3.4 3.4 0 1 0 6.8 0a3.4 3.4 0 1 0 -6.8 0M833.47 336.22a3.4 3.4 0 1 0 6.8 0a3.4 3.4 0 1 0 -6.8 0M834.62 341.76a3.4 3.4 0 1 0 6.8 0a3.4 3.4 0 1 0 -6.8 0M827.31 349.26a3.4 3.4 0 1 0 6.8 0a3.4 3.4 0 1 0 -6.8 0M835.45 355.12a3.4 3.4 0 1 0 6.8 0a3.4 3.4 0 1 0 -6.8 0M835.54 364.76a3.4 3.4 0 1 0 6.8 0a3.4 3.4 0 1 0 -6.8 0M843.6 372.6a3.4 3.4 0 1 0 6.8 0a3.4 3.4 0 1 0 -6.8 0M841.82 376.78a3.4 3.4 0 1 0 6.8 0a3.4 3.4 0 1 0 -6.8 0M846.87 384.92a3.4 3.4 0 1 0 6.8 0a3.4 3.4 0 1 0 -6.8 0M853.68 391.29a3.4 3.4 0 1 0 6.8 0a3.4 3.4 0 1 0 -6.8 0M848.32 399.49a3.4 3.4 0 1 0 6.8 0a3.4 3.4 0 1 0 -6.8 0M849.98 403.98a3.4 3.4 0 1 0 6.8 0a3.4 3.4 0 1 0 -6.8 0M848 414.55a3.4 3.4 0 1 0 6.8 0a3.4 3.4 0 1 0 -6.8 0M848.6 420.31a3.4 3.4 0 1 0 6.8 0a3.4 3.4 0 1 0 -6.8 0M844.82 425.97a3.4 3.4 0 1 0 6.8 0a3.4 3.4 0 1 0 -6.8 0M850.75 433.14a3.4 3.4 0 1 0 6.8 0a3.4 3.4 0 1 0 -6.8 0M842.47 439.09a3.4 3.4 0 1 0 6.8 0a3.4 3.4 0 1 0 -6.8 0M845.56 449.73a3.4 3.4 0 1 0 6.8 0a3.4 3.4 0 1 0 -6.8 0M844.87 452.57a3.4 3.4 0 1 0 6.8 0a3.4 3.4 0 1 0 -6.8 0M842.84 459.56a3.4 3.4 0 1 0 6.8 0a3.4 3.4 0 1 0 -6.8 0M845.63 469.32a3.4 3.4 0 1 0 6.8 0a3.4 3.4 0 1 0 -6.8 0M841.68 475.79a3.4 3.4 0 1 0 6.8 0a3.4 3.4 0 1 0 -6.8 0M845.66 478.86a3.4 3.4 0 1 0 6.8 0a3.4 3.4 0 1 0 -6.8 0M845.7 488.59a3.4 3.4 0 1 0 6.8 0a3.4 3.4 0 1 0 -6.8 0M845.63 495.02a3.4 3.4 0 1 0 6.8 0a3.4 3.4 0 1 0 -6.8 0M845.49 499.63a3.4 3.4 0 1 0 6.8 0a3.4 3.4 0 1 0 -6.8 0M847.51 509.93a3.4 3.4 0 1 0 6.8 0a3.4 3.4 0 1 0 -6.8 0M845.48 519.35a3.4 3.4 0 1 0 6.8 0a3.4 3.4 0 1 0 -6.8 0M850.64 524.56a3.4 3.4 0 1 0 6.8 0a3.4 3.4 0 1 0 -6.8 0M852.24 528.71a3.4 3.4 0 1 0 6.8 0a3.4 3.4 0 1 0 -6.8 0M850.82 539.09a3.4 3.4 0 1 0 6.8 0a3.4 3.4 0 1 0 -6.8 0M850.6 545.87a3.4 3.4 0 1 0 6.8 0a3.4 3.4 0 1 0 -6.8 0M850.41 554.12a3.4 3.4 0 1 0 6.8 0a3.4 3.4 0 1 0 -6.8 0M852.12 560.82a3.4 3.4 0 1 0 6.8 0a3.4 3.4 0 1 0 -6.8 0M851.36 564.34a3.4 3.4 0 1 0 6.8 0a3.4 3.4 0 1 0 -6.8 0M851.27 570.43a3.4 3.4 0 1 0 6.8 0a3.4 3.4 0 1 0 -6.8 0M849.93 576.42a3.4 3.4 0 1 0 6.8 0a3.4 3.4 0 1 0 -6.8 0M850.11 584.86a3.4 3.4 0 1 0 6.8 0a3.4 3.4 0 1 0 -6.8 0M852.27 591.42a3.4 3.4 0 1 0 6.8 0a3.4 3.4 0 1 0 -6.8 0M853.7 602.6a3.4 3.4 0 1 0 6.8 0a3.4 3.4 0 1 0 -6.8 0M851.87 605.67a3.4 3.4 0 1 0 6.8 0a3.4 3.4 0 1 0 -6.8 0M854.43 615.97a3.4 3.4 0 1 0 6.8 0a3.4 3.4 0 1 0 -6.8 0M852.27 624.05a3.4 3.4 0 1 0 6.8 0a3.4 3.4 0 1 0 -6.8 0M854.1 629.29a3.4 3.4 0 1 0 6.8 0a3.4 3.4 0 1 0 -6.8 0M853.33 632.04a3.4 3.4 0 1 0 6.8 0a3.4 3.4 0 1 0 -6.8 0M854.64 642.44a3.4 3.4 0 1 0 6.8 0a3.4 3.4 0 1 0 -6.8 0M852.64 648.37a3.4 3.4 0 1 0 6.8 0a3.4 3.4 0 1 0 -6.8 0M852.87 653.62a3.4 3.4 0 1 0 6.8 0a3.4 3.4 0 1 0 -6.8 0M854.78 663.91a3.4 3.4 0 1 0 6.8 0a3.4 3.4 0 1 0 -6.8 0M854.95 670.59a3.4 3.4 0 1 0 6.8 0a3.4 3.4 0 1 0 -6.8 0M855.04 676.64a3.4 3.4 0 1 0 6.8 0a3.4 3.4 0 1 0 -6.8 0M855.6 681.65a3.4 3.4 0 1 0 6.8 0a3.4 3.4 0 1 0 -6.8 0M856.53 689.08a3.4 3.4 0 1 0 6.8 0a3.4 3.4 0 1 0 -6.8 0M854.95 697.77a3.4 3.4 0 1 0 6.8 0a3.4 3.4 0 1 0 -6.8 0M856.06 706.02a3.4 3.4 0 1 0 6.8 0a3.4 3.4 0 1 0 -6.8 0M855.67 711.74a3.4 3.4 0 1 0 6.8 0a3.4 3.4 0 1 0 -6.8 0M854.33 718.1a3.4 3.4 0 1 0 6.8 0a3.4 3.4 0 1 0 -6.8 0M856.92 725.42a3.4 3.4 0 1 0 6.8 0a3.4 3.4 0 1 0 -6.8 0M855.78 731.18a3.4 3.4 0 1 0 6.8 0a3.4 3.4 0 1 0 -6.8 0M857.38 738a3.4 3.4 0 1 0 6.8 0a3.4 3.4 0 1 0 -6.8 0M855.64 746.08a3.4 3.4 0 1 0 6.8 0a3.4 3.4 0 1 0 -6.8 0M858.01 753.4a3.4 3.4 0 1 0 6.8 0a3.4 3.4 0 1 0 -6.8 0M857.26 761.37a3.4 3.4 0 1 0 6.8 0a3.4 3.4 0 1 0 -6.8 0M856.98 768.36a3.4 3.4 0 1 0 6.8 0a3.4 3.4 0 1 0 -6.8 0M855.51 777.03a3.4 3.4 0 1 0 6.8 0a3.4 3.4 0 1 0 -6.8 0M855.95 779.54a3.4 3.4 0 1 0 6.8 0a3.4 3.4 0 1 0 -6.8 0M856.93 786.12a3.4 3.4 0 1 0 6.8 0a3.4 3.4 0 1 0 -6.8 0M856.11 796.86a3.4 3.4 0 1 0 6.8 0a3.4 3.4 0 1 0 -6.8 0M855.8 802.4a3.4 3.4 0 1 0 6.8 0a3.4 3.4 0 1 0 -6.8 0M856.72 810.34a3.4 3.4 0 1 0 6.8 0a3.4 3.4 0 1 0 -6.8 0M669.75 22.25a3.4 3.4 0 1 0 6.8 0a3.4 3.4 0 1 0 -6.8 0M671.33 29.97a3.4 3.4 0 1 0 6.8 0a3.4 3.4 0 1 0 -6.8 0M669.89 36.37a3.4 3.4 0 1 0 6.8 0a3.4 3.4 0 1 0 -6.8 0M672.79 41.3a3.4 3.4 0 1 0 6.8 0a3.4 3.4 0 1 0 -6.8 0M671.02 47.22a3.4 3.4 0 1 0 6.8 0a3.4 3.4 0 1 0 -6.8 0M670.89 55.06a3.4 3.4 0 1 0 6.8 0a3.4 3.4 0 1 0 -6.8 0M670.46 61.88a3.4 3.4 0 1 0 6.8 0a3.4 3.4 0 1 0 -6.8 0M669.58 70.29a3.4 3.4 0 1 0 6.8 0a3.4 3.4 0 1 0 -6.8 0M672.38 75.84a3.4 3.4 0 1 0 6.8 0a3.4 3.4 0 1 0 -6.8 0M669.08 83.52a3.4 3.4 0 1 0 6.8 0a3.4 3.4 0 1 0 -6.8 0M671.51 88.43a3.4 3.4 0 1 0 6.8 0a3.4 3.4 0 1 0 -6.8 0M671.84 96.34a3.4 3.4 0 1 0 6.8 0a3.4 3.4 0 1 0 -6.8 0M675.16 106.6a3.4 3.4 0 1 0 6.8 0a3.4 3.4 0 1 0 -6.8 0M675.86 115.06a3.4 3.4 0 1 0 6.8 0a3.4 3.4 0 1 0 -6.8 0M677.32 117.34a3.4 3.4 0 1 0 6.8 0a3.4 3.4 0 1 0 -6.8 0M682.63 124.28a3.4 3.4 0 1 0 6.8 0a3.4 3.4 0 1 0 -6.8 0M688.11 134.88a3.4 3.4 0 1 0 6.8 0a3.4 3.4 0 1 0 -6.8 0M683.36 140.44a3.4 3.4 0 1 0 6.8 0a3.4 3.4 0 1 0 -6.8 0M699.86 147.2a3.4 3.4 0 1 0 6.8 0a3.4 3.4 0 1 0 -6.8 0M704.49 154.62a3.4 3.4 0 1 0 6.8 0a3.4 3.4 0 1 0 -6.8 0M723.49 162.98a3.4 3.4 0 1 0 6.8 0a3.4 3.4 0 1 0 -6.8 0M719.19 167.61a3.4 3.4 0 1 0 6.8 0a3.4 3.4 0 1 0 -6.8 0M734.51 173.42a3.4 3.4 0 1 0 6.8 0a3.4 3.4 0 1 0 -6.8 0M741.7 178.92a3.4 3.4 0 1 0 6.8 0a3.4 3.4 0 1 0 -6.8 0M752.51 190.99a3.4 3.4 0 1 0 6.8 0a3.4 3.4 0 1 0 -6.8 0M757.61 196.17a3.4 3.4 0 1 0 6.8 0a3.4 3.4 0 1 0 -6.8 0M771.2 201.89a3.4 3.4 0 1 0 6.8 0a3.4 3.4 0 1 0 -6.8 0M766 209.68a3.4 3.4 0 1 0 6.8 0a3.4 3.4 0 1 0 -6.8 0M777.76 214.63a3.4 3.4 0 1 0 6.8 0a3.4 3.4 0 1 0 -6.8 0M780.02 222.4a3.4 3.4 0 1 0 6.8 0a3.4 3.4 0 1 0 -6.8 0M792.56 231.81a3.4 3.4 0 1 0 6.8 0a3.4 3.4 0 1 0 -6.8 0M797.56 239.82a3.4 3.4 0 1 0 6.8 0a3.4 3.4 0 1 0 -6.8 0M812.83 246.18a3.4 3.4 0 1 0 6.8 0a3.4 3.4 0 1 0 -6.8 0M803.37 250.92a3.4 3.4 0 1 0 6.8 0a3.4 3.4 0 1 0 -6.8 0M802.9 256.7a3.4 3.4 0 1 0 6.8 0a3.4 3.4 0 1 0 -6.8 0M816.81 266.66a3.4 3.4 0 1 0 6.8 0a3.4 3.4 0 1 0 -6.8 0M812.85 271.75a3.4 3.4 0 1 0 6.8 0a3.4 3.4 0 1 0 -6.8 0M813.22 278.23a3.4 3.4 0 1 0 6.8 0a3.4 3.4 0 1 0 -6.8 0M818.78 286.12a3.4 3.4 0 1 0 6.8 0a3.4 3.4 0 1 0 -6.8 0M823.28 290.87a3.4 3.4 0 1 0 6.8 0a3.4 3.4 0 1 0 -6.8 0M827.57 299.53a3.4 3.4 0 1 0 6.8 0a3.4 3.4 0 1 0 -6.8 0M820.62 307.82a3.4 3.4 0 1 0 6.8 0a3.4 3.4 0 1 0 -6.8 0M826.87 314.33a3.4 3.4 0 1 0 6.8 0a3.4 3.4 0 1 0 -6.8 0M827.63 319.88a3.4 3.4 0 1 0 6.8 0a3.4 3.4 0 1 0 -6.8 0M832.59 330.19a3.4 3.4 0 1 0 6.8 0a3.4 3.4 0 1 0 -6.8 0M828.73 333.92a3.4 3.4 0 1 0 6.8 0a3.4 3.4 0 1 0 -6.8 0M833.75 343.38a3.4 3.4 0 1 0 6.8 0a3.4 3.4 0 1 0 -6.8 0M829.07 347.42a3.4 3.4 0 1 0 6.8 0a3.4 3.4 0 1 0 -6.8 0M836.66 354.43a3.4 3.4 0 1 0 6.8 0a3.4 3.4 0 1 0 -6.8 0M844.83 363.79a3.4 3.4 0 1 0 6.8 0a3.4 3.4 0 1 0 -6.8 0M834.63 370.94a3.4 3.4 0 1 0 6.8 0a3.4 3.4 0 1 0 -6.8 0M839.68 376.81a3.4 3.4 0 1 0 6.8 0a3.4 3.4 0 1 0 -6.8 0M832.13 383.42a3.4 3.4 0 1 0 6.8 0a3.4 3.4 0 1 0 -6.8 0M842.42 390.27a3.4 3.4 0 1 0 6.8 0a3.4 3.4 0 1 0 -6.8 0M845.62 396.28a3.4 3.4 0 1 0 6.8 0a3.4 3.4 0 1 0 -6.8 0M848.35 404.08a3.4 3.4 0 1 0 6.8 0a3.4 3.4 0 1 0 -6.8 0M844.95 413.45a3.4 3.4 0 1 0 6.8 0a3.4 3.4 0 1 0 -6.8 0M851.49 421.12a3.4 3.4 0 1 0 6.8 0a3.4 3.4 0 1 0 -6.8 0M847.94 428.53a3.4 3.4 0 1 0 6.8 0a3.4 3.4 0 1 0 -6.8 0M840.76 432.66a3.4 3.4 0 1 0 6.8 0a3.4 3.4 0 1 0 -6.8 0M842.17 437.79a3.4 3.4 0 1 0 6.8 0a3.4 3.4 0 1 0 -6.8 0M846.92 446.5a3.4 3.4 0 1 0 6.8 0a3.4 3.4 0 1 0 -6.8 0M855.04 454.18a3.4 3.4 0 1 0 6.8 0a3.4 3.4 0 1 0 -6.8 0M843.11 461.68a3.4 3.4 0 1 0 6.8 0a3.4 3.4 0 1 0 -6.8 0M842.58 470.22a3.4 3.4 0 1 0 6.8 0a3.4 3.4 0 1 0 -6.8 0M844.4 475.32a3.4 3.4 0 1 0 6.8 0a3.4 3.4 0 1 0 -6.8 0M844.03 482.64a3.4 3.4 0 1 0 6.8 0a3.4 3.4 0 1 0 -6.8 0M840.86 489.8a3.4 3.4 0 1 0 6.8 0a3.4 3.4 0 1 0 -6.8 0M839.77 497.64a3.4 3.4 0 1 0 6.8 0a3.4 3.4 0 1 0 -6.8 0M851.49 500.36a3.4 3.4 0 1 0 6.8 0a3.4 3.4 0 1 0 -6.8 0M849.88 512.39a3.4 3.4 0 1 0 6.8 0a3.4 3.4 0 1 0 -6.8 0M853.58 516.64a3.4 3.4 0 1 0 6.8 0a3.4 3.4 0 1 0 -6.8 0M849.46 523.25a3.4 3.4 0 1 0 6.8 0a3.4 3.4 0 1 0 -6.8 0M851.14 527.96a3.4 3.4 0 1 0 6.8 0a3.4 3.4 0 1 0 -6.8 0M847.53 536.01a3.4 3.4 0 1 0 6.8 0a3.4 3.4 0 1 0 -6.8 0M851.89 546.67a3.4 3.4 0 1 0 6.8 0a3.4 3.4 0 1 0 -6.8 0M851.2 554.24a3.4 3.4 0 1 0 6.8 0a3.4 3.4 0 1 0 -6.8 0M851.69 556.12a3.4 3.4 0 1 0 6.8 0a3.4 3.4 0 1 0 -6.8 0M851.77 567.67a3.4 3.4 0 1 0 6.8 0a3.4 3.4 0 1 0 -6.8 0M850.2 571.57a3.4 3.4 0 1 0 6.8 0a3.4 3.4 0 1 0 -6.8 0M851.44 581.76a3.4 3.4 0 1 0 6.8 0a3.4 3.4 0 1 0 -6.8 0M852.67 585.9a3.4 3.4 0 1 0 6.8 0a3.4 3.4 0 1 0 -6.8 0M851.85 595.11a3.4 3.4 0 1 0 6.8 0a3.4 3.4 0 1 0 -6.8 0M852.6 598.62a3.4 3.4 0 1 0 6.8 0a3.4 3.4 0 1 0 -6.8 0M852.76 604.95a3.4 3.4 0 1 0 6.8 0a3.4 3.4 0 1 0 -6.8 0M852.68 615.25a3.4 3.4 0 1 0 6.8 0a3.4 3.4 0 1 0 -6.8 0M852.91 619.46a3.4 3.4 0 1 0 6.8 0a3.4 3.4 0 1 0 -6.8 0M852.41 629.41a3.4 3.4 0 1 0 6.8 0a3.4 3.4 0 1 0 -6.8 0M854.52 632.25a3.4 3.4 0 1 0 6.8 0a3.4 3.4 0 1 0 -6.8 0M853.5 640.79a3.4 3.4 0 1 0 6.8 0a3.4 3.4 0 1 0 -6.8 0M853.35 646.24a3.4 3.4 0 1 0 6.8 0a3.4 3.4 0 1 0 -6.8 0M855.13 653.13a3.4 3.4 0 1 0 6.8 0a3.4 3.4 0 1 0 -6.8 0M852.7 660.58a3.4 3.4 0 1 0 6.8 0a3.4 3.4 0 1 0 -6.8 0M855.46 668.87a3.4 3.4 0 1 0 6.8 0a3.4 3.4 0 1 0 -6.8 0M854.34 674.45a3.4 3.4 0 1 0 6.8 0a3.4 3.4 0 1 0 -6.8 0M853.54 683.17a3.4 3.4 0 1 0 6.8 0a3.4 3.4 0 1 0 -6.8 0M853.56 690.58a3.4 3.4 0 1 0 6.8 0a3.4 3.4 0 1 0 -6.8 0M854.65 695.5a3.4 3.4 0 1 0 6.8 0a3.4 3.4 0 1 0 -6.8 0M856.43 706.99a3.4 3.4 0 1 0 6.8 0a3.4 3.4 0 1 0 -6.8 0M855.46 712.49a3.4 3.4 0 1 0 6.8 0a3.4 3.4 0 1 0 -6.8 0M855.7 716.09a3.4 3.4 0 1 0 6.8 0a3.4 3.4 0 1 0 -6.8 0M855.53 726.51a3.4 3.4 0 1 0 6.8 0a3.4 3.4 0 1 0 -6.8 0M855.66 735.19a3.4 3.4 0 1 0 6.8 0a3.4 3.4 0 1 0 -6.8 0M856.09 742.58a3.4 3.4 0 1 0 6.8 0a3.4 3.4 0 1 0 -6.8 0M857.49 749.49a3.4 3.4 0 1 0 6.8 0a3.4 3.4 0 1 0 -6.8 0M856.05 756.54a3.4 3.4 0 1 0 6.8 0a3.4 3.4 0 1 0 -6.8 0M855.83 761.58a3.4 3.4 0 1 0 6.8 0a3.4 3.4 0 1 0 -6.8 0M857.09 764.72a3.4 3.4 0 1 0 6.8 0a3.4 3.4 0 1 0 -6.8 0M855.78 771.6a3.4 3.4 0 1 0 6.8 0a3.4 3.4 0 1 0 -6.8 0M857.81 779.87a3.4 3.4 0 1 0 6.8 0a3.4 3.4 0 1 0 -6.8 0M857.75 789.89a3.4 3.4 0 1 0 6.8 0a3.4 3.4 0 1 0 -6.8 0M856.64 794.96a3.4 3.4 0 1 0 6.8 0a3.4 3.4 0 1 0 -6.8 0M856.95 803.35a3.4 3.4 0 1 0 6.8 0a3.4 3.4 0 1 0 -6.8 0M857.15 808.53a3.4 3.4 0 1 0 6.8 0a3.4 3.4 0 1 0 -6.8 0M670.08 20.96a3.4 3.4 0 1 0 6.8 0a3.4 3.4 0 1 0 -6.8 0M670.4 26.19a3.4 3.4 0 1 0 6.8 0a3.4 3.4 0 1 0 -6.8 0M671.22 32.6a3.4 3.4 0 1 0 6.8 0a3.4 3.4 0 1 0 -6.8 0M669.94 40.36a3.4 3.4 0 1 0 6.8 0a3.4 3.4 0 1 0 -6.8 0M670.85 51.61a3.4 3.4 0 1 0 6.8 0a3.4 3.4 0 1 0 -6.8 0M669.46 54.97a3.4 3.4 0 1 0 6.8 0a3.4 3.4 0 1 0 -6.8 0M671.03 62.46a3.4 3.4 0 1 0 6.8 0a3.4 3.4 0 1 0 -6.8 0M670.22 71.74a3.4 3.4 0 1 0 6.8 0a3.4 3.4 0 1 0 -6.8 0M670.39 75.89a3.4 3.4 0 1 0 6.8 0a3.4 3.4 0 1 0 -6.8 0M671.19 85.03a3.4 3.4 0 1 0 6.8 0a3.4 3.4 0 1 0 -6.8 0M672.39 92.62a3.4 3.4 0 1 0 6.8 0a3.4 3.4 0 1 0 -6.8 0M673.32 96.18a3.4 3.4 0 1 0 6.8 0a3.4 3.4 0 1 0 -6.8 0M685.32 107.15a3.4 3.4 0 1 0 6.8 0a3.4 3.4 0 1 0 -6.8 0M691.83 112.38a3.4 3.4 0 1 0 6.8 0a3.4 3.4 0 1 0 -6.8 0M693.39 121.91a3.4 3.4 0 1 0 6.8 0a3.4 3.4 0 1 0 -6.8 0M709.69 126.96a3.4 3.4 0 1 0 6.8 0a3.4 3.4 0 1 0 -6.8 0M714.59 135.02a3.4 3.4 0 1 0 6.8 0a3.4 3.4 0 1 0 -6.8 0M725.7 141.49a3.4 3.4 0 1 0 6.8 0a3.4 3.4 0 1 0 -6.8 0M738.15 145.45a3.4 3.4 0 1 0 6.8 0a3.4 3.4 0 1 0 -6.8 0M740.93 151.89a3.4 3.4 0 1 0 6.8 0a3.4 3.4 0 1 0 -6.8 0M742.93 161.04a3.4 3.4 0 1 0 6.8 0a3.4 3.4 0 1 0 -6.8 0M751.81 168a3.4 3.4 0 1 0 6.8 0a3.4 3.4 0 1 0 -6.8 0M755.36 172.78a3.4 3.4 0 1 0 6.8 0a3.4 3.4 0 1 0 -6.8 0M764.34 183.97a3.4 3.4 0 1 0 6.8 0a3.4 3.4 0 1 0 -6.8 0M768.82 187.06a3.4 3.4 0 1 0 6.8 0a3.4 3.4 0 1 0 -6.8 0M783.03 198.42a3.4 3.4 0 1 0 6.8 0a3.4 3.4 0 1 0 -6.8 0M785.18 200.99a3.4 3.4 0 1 0 6.8 0a3.4 3.4 0 1 0 -6.8 0M774.69 208.81a3.4 3.4 0 1 0 6.8 0a3.4 3.4 0 1 0 -6.8 0M783.85 214.76a3.4 3.4 0 1 0 6.8 0a3.4 3.4 0 1 0 -6.8 0M789.7 224.97a3.4 3.4 0 1 0 6.8 0a3.4 3.4 0 1 0 -6.8 0M800.42 230.36a3.4 3.4 0 1 0 6.8 0a3.4 3.4 0 1 0 -6.8 0M816.11 237.04a3.4 3.4 0 1 0 6.8 0a3.4 3.4 0 1 0 -6.8 0M804.65 246.03a3.4 3.4 0 1 0 6.8 0a3.4 3.4 0 1 0 -6.8 0M816.18 254.16a3.4 3.4 0 1 0 6.8 0a3.4 3.4 0 1 0 -6.8 0M821.6 257.45a3.4 3.4 0 1 0 6.8 0a3.4 3.4 0 1 0 -6.8 0M817.36 265.43a3.4 3.4 0 1 0 6.8 0a3.4 3.4 0 1 0 -6.8 0M816.78 269.66a3.4 3.4 0 1 0 6.8 0a3.4 3.4 0 1 0 -6.8 0M818.77 277.27a3.4 3.4 0 1 0 6.8 0a3.4 3.4 0 1 0 -6.8 0M818.35 284.89a3.4 3.4 0 1 0 6.8 0a3.4 3.4 0 1 0 -6.8 0M829.76 294.63a3.4 3.4 0 1 0 6.8 0a3.4 3.4 0 1 0 -6.8 0M829.72 298.17a3.4 3.4 0 1 0 6.8 0a3.4 3.4 0 1 0 -6.8 0M828.83 305.55a3.4 3.4 0 1 0 6.8 0a3.4 3.4 0 1 0 -6.8 0M830.47 312.82a3.4 3.4 0 1 0 6.8 0a3.4 3.4 0 1 0 -6.8 0M830.05 318.6a3.4 3.4 0 1 0 6.8 0a3.4 3.4 0 1 0 -6.8 0M833.93 328.31a3.4 3.4 0 1 0 6.8 0a3.4 3.4 0 1 0 -6.8 0M839.19 338.18a3.4 3.4 0 1 0 6.8 0a3.4 3.4 0 1 0 -6.8 0M844.24 340.47a3.4 3.4 0 1 0 6.8 0a3.4 3.4 0 1 0 -6.8 0M837.71 351.36a3.4 3.4 0 1 0 6.8 0a3.4 3.4 0 1 0 -6.8 0M838.78 357.71a3.4 3.4 0 1 0 6.8 0a3.4 3.4 0 1 0 -6.8 0M839.73 361.01a3.4 3.4 0 1 0 6.8 0a3.4 3.4 0 1 0 -6.8 0M845.28 368.05a3.4 3.4 0 1 0 6.8 0a3.4 3.4 0 1 0 -6.8 0M845.75 374.78a3.4 3.4 0 1 0 6.8 0a3.4 3.4 0 1 0 -6.8 0M847.59 386.95a3.4 3.4 0 1 0 6.8 0a3.4 3.4 0 1 0 -6.8 0M851.46 392.4a3.4 3.4 0 1 0 6.8 0a3.4 3.4 0 1 0 -6.8 0M846.95 396.71a3.4 3.4 0 1 0 6.8 0a3.4 3.4 0 1 0 -6.8 0M843.35 407.61a3.4 3.4 0 1 0 6.8 0a3.4 3.4 0 1 0 -6.8 0M848.41 414.01a3.4 3.4 0 1 0 6.8 0a3.4 3.4 0 1 0 -6.8 0M856.02 416.62a3.4 3.4 0 1 0 6.8 0a3.4 3.4 0 1 0 -6.8 0M847.41 425.73a3.4 3.4 0 1 0 6.8 0a3.4 3.4 0 1 0 -6.8 0M850.52 431.8a3.4 3.4 0 1 0 6.8 0a3.4 3.4 0 1 0 -6.8 0M846.21 437.27a3.4 3.4 0 1 0 6.8 0a3.4 3.4 0 1 0 -6.8 0M849 446.28a3.4 3.4 0 1 0 6.8 0a3.4 3.4 0 1 0 -6.8 0M858.56 452.62a3.4 3.4 0 1 0 6.8 0a3.4 3.4 0 1 0 -6.8 0M849.64 460.34a3.4 3.4 0 1 0 6.8 0a3.4 3.4 0 1 0 -6.8 0M846.84 466.9a3.4 3.4 0 1 0 6.8 0a3.4 3.4 0 1 0 -6.8 0M849.8 475.57a3.4 3.4 0 1 0 6.8 0a3.4 3.4 0 1 0 -6.8 0M848.53 479.25a3.4 3.4 0 1 0 6.8 0a3.4 3.4 0 1 0 -6.8 0M849.8 490.59a3.4 3.4 0 1 0 6.8 0a3.4 3.4 0 1 0 -6.8 0M846.24 497.12a3.4 3.4 0 1 0 6.8 0a3.4 3.4 0 1 0 -6.8 0M854.4 501.9a3.4 3.4 0 1 0 6.8 0a3.4 3.4 0 1 0 -6.8 0M848.03 508.26a3.4 3.4 0 1 0 6.8 0a3.4 3.4 0 1 0 -6.8 0M851.6 517.29a3.4 3.4 0 1 0 6.8 0a3.4 3.4 0 1 0 -6.8 0M851.27 524.84a3.4 3.4 0 1 0 6.8 0a3.4 3.4 0 1 0 -6.8 0M851.89 532.68a3.4 3.4 0 1 0 6.8 0a3.4 3.4 0 1 0 -6.8 0M850.82 536.47a3.4 3.4 0 1 0 6.8 0a3.4 3.4 0 1 0 -6.8 0M852.64 544.42a3.4 3.4 0 1 0 6.8 0a3.4 3.4 0 1 0 -6.8 0M854.25 551.69a3.4 3.4 0 1 0 6.8 0a3.4 3.4 0 1 0 -6.8 0M853.95 557.5a3.4 3.4 0 1 0 6.8 0a3.4 3.4 0 1 0 -6.8 0M851.35 566a3.4 3.4 0 1 0 6.8 0a3.4 3.4 0 1 0 -6.8 0M852.46 569.53a3.4 3.4 0 1 0 6.8 0a3.4 3.4 0 1 0 -6.8 0M852.17 576.4a3.4 3.4 0 1 0 6.8 0a3.4 3.4 0 1 0 -6.8 0M850.84 583.92a3.4 3.4 0 1 0 6.8 0a3.4 3.4 0 1 0 -6.8 0M854.65 593.27a3.4 3.4 0 1 0 6.8 0a3.4 3.4 0 1 0 -6.8 0M852.66 597.54a3.4 3.4 0 1 0 6.8 0a3.4 3.4 0 1 0 -6.8 0M854.26 605.88a3.4 3.4 0 1 0 6.8 0a3.4 3.4 0 1 0 -6.8 0M852.72 614.01a3.4 3.4 0 1 0 6.8 0a3.4 3.4 0 1 0 -6.8 0M852.96 622.1a3.4 3.4 0 1 0 6.8 0a3.4 3.4 0 1 0 -6.8 0M852.67 626.01a3.4 3.4 0 1 0 6.8 0a3.4 3.4 0 1 0 -6.8 0M853.9 636.41a3.4 3.4 0 1 0 6.8 0a3.4 3.4 0 1 0 -6.8 0M854.82 639.89a3.4 3.4 0 1 0 6.8 0a3.4 3.4 0 1 0 -6.8 0M855.99 651.69a3.4 3.4 0 1 0 6.8 0a3.4 3.4 0 1 0 -6.8 0M856.12 655.06a3.4 3.4 0 1 0 6.8 0a3.4 3.4 0 1 0 -6.8 0M854.4 661.26a3.4 3.4 0 1 0 6.8 0a3.4 3.4 0 1 0 -6.8 0M855.47 667.46a3.4 3.4 0 1 0 6.8 0a3.4 3.4 0 1 0 -6.8 0M854.75 675.85a3.4 3.4 0 1 0 6.8 0a3.4 3.4 0 1 0 -6.8 0M855.64 684.67a3.4 3.4 0 1 0 6.8 0a3.4 3.4 0 1 0 -6.8 0M855.91 693.32a3.4 3.4 0 1 0 6.8 0a3.4 3.4 0 1 0 -6.8 0M856.03 699.93a3.4 3.4 0 1 0 6.8 0a3.4 3.4 0 1 0 -6.8 0M855.62 707.49a3.4 3.4 0 1 0 6.8 0a3.4 3.4 0 1 0 -6.8 0M854.2 709.26a3.4 3.4 0 1 0 6.8 0a3.4 3.4 0 1 0 -6.8 0M856.71 717.92a3.4 3.4 0 1 0 6.8 0a3.4 3.4 0 1 0 -6.8 0M855.45 726.75a3.4 3.4 0 1 0 6.8 0a3.4 3.4 0 1 0 -6.8 0M857.37 730.5a3.4 3.4 0 1 0 6.8 0a3.4 3.4 0 1 0 -6.8 0M856.85 742.1a3.4 3.4 0 1 0 6.8 0a3.4 3.4 0 1 0 -6.8 0M858.06 747.36a3.4 3.4 0 1 0 6.8 0a3.4 3.4 0 1 0 -6.8 0M857.13 751.49a3.4 3.4 0 1 0 6.8 0a3.4 3.4 0 1 0 -6.8 0M857.34 760.84a3.4 3.4 0 1 0 6.8 0a3.4 3.4 0 1 0 -6.8 0M857.97 764.86a3.4 3.4 0 1 0 6.8 0a3.4 3.4 0 1 0 -6.8 0M855.73 777.17a3.4 3.4 0 1 0 6.8 0a3.4 3.4 0 1 0 -6.8 0M857.69 782.03a3.4 3.4 0 1 0 6.8 0a3.4 3.4 0 1 0 -6.8 0M857.21 789.88a3.4 3.4 0 1 0 6.8 0a3.4 3.4 0 1 0 -6.8 0M857.01 795.83a3.4 3.4 0 1 0 6.8 0a3.4 3.4 0 1 0 -6.8 0M856.16 804.49a3.4 3.4 0 1 0 6.8 0a3.4 3.4 0 1 0 -6.8 0M856.06 809.63a3.4 3.4 0 1 0 6.8 0a3.4 3.4 0 1 0 -6.8 0M831.52 417.9a3.4 3.4 0 1 0 6.8 0a3.4 3.4 0 1 0 -6.8 0M830.4 429.85a3.4 3.4 0 1 0 6.8 0a3.4 3.4 0 1 0 -6.8 0M829.28 443.8a3.4 3.4 0 1 0 6.8 0a3.4 3.4 0 1 0 -6.8 0M828.16 461.72a3.4 3.4 0 1 0 6.8 0a3.4 3.4 0 1 0 -6.8 0M830.4 477.66a3.4 3.4 0 1 0 6.8 0a3.4 3.4 0 1 0 -6.8 0M829.28 493.6a3.4 3.4 0 1 0 6.8 0a3.4 3.4 0 1 0 -6.8 0M828.16 503.56a3.4 3.4 0 1 0 6.8 0a3.4 3.4 0 1 0 -6.8 0M832.64 451.76a3.4 3.4 0 1 0 6.8 0a3.4 3.4 0 1 0 -6.8 0M832.64 397.98a3.4 3.4 0 1 0 6.8 0a3.4 3.4 0 1 0 -6.8 0M833.76 409.93a3.4 3.4 0 1 0 6.8 0a3.4 3.4 0 1 0 -6.8 0" fill="#00ffff"/>
<polyline points="673.42,29.46 673.42,49.38 672.74,69.3 673.64,89.22 674.76,109.14 689.99,129.06 716.65,148.98 740.39,168.9 759.43,188.82 777.35,208.74 793.48,228.66 806.25,248.58 816.33,268.5 821.26,288.42 827.08,308.34 831.34,328.26 837.83,348.18 842.54,368.1 845.9,388.02 850.15,407.94 850.6,427.86 853.06,447.78 850.6,467.7 847.91,487.62 849.48,507.54 854.18,527.46 855.08,547.38 855.08,567.3 855.08,587.22 856.65,607.14 857.32,627.06 857.77,646.98 857.99,666.9 858.66,686.82 859.11,706.74 859.56,726.66 859.78,746.58 860.01,766.5 860.23,786.42 860.46,806.34" fill="none" stroke="#0000ff" stroke-width="2.5" stroke-linejoin="round" stroke-linecap="round"/>
<path d="M667.42 29.46a6 6 0 1 0 12 0a6 6 0 1 0 -12 0M667.42 49.38a6 6 0 1 0 12 0a6 6 0 1 0 -12 0M666.74 69.3a6 6 0 1 0 12 0a6 6 0 1 0 -12 0M667.64 89.22a6 6 0 1 0 12 0a6 6 0 1 0 -12 0M668.76 109.14a6 6 0 1 0 12 0a6 6 0 1 0 -12 0M683.99 129.06a6 6 0 1 0 12 0a6 6 0 1 0 -12 0M710.65 148.98a6 6 0 1 0 12 0a6 6 0 1 0 -12 0M734.39 168.9a6 6 0 1 0 12 0a6 6 0 1 0 -12 0M753.43 188.82a6 6 0 1 0 12 0a6 6 0 1 0 -12 0M771.35 208.74a6 6 0 1 0 12 0a6 6 0 1 0 -12 0M787.48 228.66a6 6 0 1 0 12 0a6 6 0 1 0 -12 0M800.25 248.58a6 6 0 1 0 12 0a6 6 0 1 0 -12 0M810.33 268.5a6 6 0 1 0 12 0a6 6 0 1 0 -12 0M815.26 288.42a6 6 0 1 0 12 0a6 6 0 1 0 -12 0M821.08 308.34a6 6 0 1 0 12 0a6 6 0 1 0 -12 0M825.34 328.26a6 6 0 1 0 12 0a6 6 0 1 0 -12 0M831.83 348.18a6 6 0 1 0 12 0a6 6 0 1 0 -12 0M836.54 368.1a6 6 0 1 0 12 0a6 6 0 1 0 -12 0M839.9 388.02a6 6 0 1 0 12 0a6 6 0 1 0 -12 0M844.15 407.94a6 6 0 1 0 12 0a6 6 0 1 0 -12 0M844.6 427.86a6 6 0 1 0 12 0a6 6 0 1 0 -12 0M847.06 447.78a6 6 0 1 0 12 0a6 6 0 1 0 -12 0M844.6 467.7a6 6 0 1 0 12 0a6 6 0 1 0 -12 0M841.91 487.62a6 6 0 1 0 12 0a6 6 0 1 0 -12 0M843.48 507.54a6 6 0 1 0 12 0a6 6 0 1 0 -12 0M848.18 527.46a6 6 0 1 0 12 0a6 6 0 1 0 -12 0M849.08 547.38a6 6 0 1 0 12 0a6 6 0 1 0 -12 0M849.08 567.3a6 6 0 1 0 12 0a6 6 0 1 0 -12 0M849.08 587.22a6 6 0 1 0 12 0a6 6 0 1 0 -12 0M850.65 607.14a6 6 0 1 0 12 0a6 6 0 1 0 -12 0M851.32 627.06a6 6 0 1 0 12 0a6 6 0 1 0 -12 0M851.77 646.98a6 6 0 1 0 12 0a6 6 0 1 0 -12 0M851.99 666.9a6 6 0 1 0 12 0a6 6 0 1 0 -12 0M852.66 686.82a6 6 0 1 0 12 0a6 6 0 1 0 -12 0M853.11 706.74a6 6 0 1 0 12 0a6 6 0 1 0 -12 0M853.56 726.66a6 6 0 1 0 12 0a6 6 0 1 0 -12 0M853.78 746.58a6 6 0 1 0 12 0a6 6 0 1 0 -12 0M854.01 766.5a6 6 0 1 0 12 0a6 6 0 1 0 -12 0M854.23 786.42a6 6 0 1 0 12 0a6 6 0 1 0 -12 0M854.46 806.34a6 6 0 1 0 12 0a6 6 0 1 0 -12 0" fill="#0000ff"/>
<path d="M635.46 19.5 L635.46 23.48 L635.46 27.47 L635.46 31.45 L635.46 35.44 L635.46 39.42 L635.68 43.4 L636.13 49.38 L637.02 59.34 L637.59 69.3 L638.83 79.26 L640.76 89.22 L644.94 99.18 L651.35 109.14 L658.88 119.1 L670.36 139.02 L684.25 158.94 L700.38 178.86 L718.3 198.78 L746.52 218.7 L789.56 268.5 L818.7 318.3 L836.07 417.9 L849.81 517.5 L858.63 617.1 L860.2 716.7 L861.76 816.3 L866.76 816.3 L865.2 716.7 L863.63 617.1 L856.31 517.5 L844.07 417.9 L824.7 318.3 L796.06 268.5 L753.52 218.7 L725.3 198.78 L707.38 178.86 L691.25 158.94 L677.36 139.02 L665.55 119.1 L657.85 109.14 L651.27 99.18 L646.93 89.22 L644.83 79.26 L641.59 69.3 L639.02 59.34 L638.13 49.38 L637.68 43.4 L637.46 39.42 L637.46 35.44 L637.46 31.45 L637.46 27.47 L637.46 23.48 L637.46 19.5 Z" fill="#ff0000"/>
<polyline points="636.46,19.5 636.46,23.48 636.46,27.47 636.46,31.45 636.46,35.44 636.46,39.42 636.68,43.4 637.13,49.38 638.02,59.34 638.59,69.3 639.83,79.26 641.76,89.22 645.94,99.18 652.35,109.14 659.88,119.1 671.36,139.02 685.25,158.94 701.38,178.86 719.3,198.78 747.52,218.7 790.56,268.5 819.7,318.3 837.07,417.9 850.81,517.5 859.63,617.1 861.2,716.7 862.76,816.3" fill="none" stroke="#ff0000" stroke-width="3" stroke-linejoin="round" stroke-linecap="round"/>
<path d="M630.46 19.5a6 6 0 1 0 12 0a6 6 0 1 0 -12 0M630.46 23.48a6 6 0 1 0 12 0a6 6 0 1 0 -12 0M630.46 27.47a6 6 0 1 0 12 0a6 6 0 1 0 -12 0M630.46 31.45a6 6 0 1 0 12 0a6 6 0 1 0 -12 0M630.46 35.44a6 6 0 1 0 12 0a6 6 0 1 0 -12 0M630.46 39.42a6 6 0 1 0 12 0a6 6 0 1 0 -12 0M630.68 43.4a6 6 0 1 0 12 0a6 6 0 1 0 -12 0M631.13 49.38a6 6 0 1 0 12 0a6 6 0 1 0 -12 0M632.02 59.34a6 6 0 1 0 12 0a6 6 0 1 0 -12 0M632.59 69.3a6 6 0 1 0 12 0a6 6 0 1 0 -12 0M633.83 79.26a6 6 0 1 0 12 0a6 6 0 1 0 -12 0M635.76 89.22a6 6 0 1 0 12 0a6 6 0 1 0 -12 0M639.94 99.18a6 6 0 1 0 12 0a6 6 0 1 0 -12 0M646.35 109.14a6 6 0 1 0 12 0a6 6 0 1 0 -12 0M653.88 119.1a6 6 0 1 0 12 0a6 6 0 1 0 -12 0M665.36 139.02a6 6 0 1 0 12 0a6 6 0 1 0 -12 0M679.25 158.94a6 6 0 1 0 12 0a6 6 0 1 0 -12 0M695.38 178.86a6 6 0 1 0 12 0a6 6 0 1 0 -12 0M713.3 198.78a6 6 0 1 0 12 0a6 6 0 1 0 -12 0M741.52 218.7a6 6 0 1 0 12 0a6 6 0 1 0 -12 0M784.56 268.5a6 6 0 1 0 12 0a6 6 0 1 0 -12 0M813.7 318.3a6 6 0 1 0 12 0a6 6 0 1 0 -12 0M831.07 417.9a6 6 0 1 0 12 0a6 6 0 1 0 -12 0M844.81 517.5a6 6 0 1 0 12 0a6 6 0 1 0 -12 0M853.63 617.1a6 6 0 1 0 12 0a6 6 0 1 0 -12 0M855.2 716.7a6 6 0 1 0 12 0a6 6 0 1 0 -12 0M856.76 816.3a6 6 0 1 0 12 0a6 6 0 1 0 -12 0" fill="#ff0000"/>
<polyline points="636.46,19.5 636.46,23.48 636.46,27.47 636.46,31.45 636.46,35.44 636.46,39.42 636.68,43.4 637.13,49.38 638.02,59.34 639.59,69.3 641.83,79.26 643.85,89.22 648.1,99.18 654.6,109.14 662.22,119.1 673.86,139.02 687.75,158.94 703.88,178.86 721.8,198.78 750.02,218.7 792.81,268.5 821.7,318.3 840.07,417.9 853.06,517.5 861.13,617.1 862.7,716.7 864.26,816.3" fill="none" stroke="#ff0000" stroke-width="3" stroke-linejoin="round" stroke-linecap="round"/>
<path d="M630.46 19.5a6 6 0 1 0 12 0a6 6 0 1 0 -12 0M630.46 23.48a6 6 0 1 0 12 0a6 6 0 1 0 -12 0M630.46 27.47a6 6 0 1 0 12 0a6 6 0 1 0 -12 0M630.46 31.45a6 6 0 1 0 12 0a6 6 0 1 0 -12 0M630.46 35.44a6 6 0 1 0 12 0a6 6 0 1 0 -12 0M630.46 39.42a6 6 0 1 0 12 0a6 6 0 1 0 -12 0M630.68 43.4a6 6 0 1 0 12 0a6 6 0 1 0 -12 0M631.13 49.38a6 6 0 1 0 12 0a6 6 0 1 0 -12 0M632.02 59.34a6 6 0 1 0 12 0a6 6 0 1 0 -12 0M633.59 69.3a6 6 0 1 0 12 0a6 6 0 1 0 -12 0M635.83 79.26a6 6 0 1 0 12 0a6 6 0 1 0 -12 0M637.85 89.22a6 6 0 1 0 12 0a6 6 0 1 0 -12 0M642.1 99.18a6 6 0 1 0 12 0a6 6 0 1 0 -12 0M648.6 109.14a6 6 0 1 0 12 0a6 6 0 1 0 -12 0M656.22 119.1a6 6 0 1 0 12 0a6 6 0 1 0 -12 0M667.86 139.02a6 6 0 1 0 12 0a6 6 0 1 0 -12 0M681.75 158.94a6 6 0 1 0 12 0a6 6 0 1 0 -12 0M697.88 178.86a6 6 0 1 0 12 0a6 6 0 1 0 -12 0M715.8 198.78a6 6 0 1 0 12 0a6 6 0 1 0 -12 0M744.02 218.7a6 6 0 1 0 12 0a6 6 0 1 0 -12 0M786.81 268.5a6 6 0 1 0 12 0a6 6 0 1 0 -12 0M815.7 318.3a6 6 0 1 0 12 0a6 6 0 1 0 -12 0M834.07 417.9a6 6 0 1 0 12 0a6 6 0 1 0 -12 0M847.06 517.5a6 6 0 1 0 12 0a6 6 0 1 0 -12 0M855.13 617.1a6 6 0 1 0 12 0a6 6 0 1 0 -12 0M856.7 716.7a6 6 0 1 0 12 0a6 6 0 1 0 -12 0M858.26 816.3a6 6 0 1 0 12 0a6 6 0 1 0 -12 0" fill="#ff0000"/>
<polyline points="636.46,19.5 636.46,23.48 636.46,27.47 636.46,31.45 636.46,35.44 636.46,39.42 636.68,43.4 637.13,49.38 638.02,59.34 640.59,69.3 643.83,79.26 645.93,89.22 650.27,99.18 656.85,109.14 664.55,119.1 676.36,139.02 690.25,158.94 706.38,178.86 724.3,198.78 752.52,218.7 795.06,268.5 823.7,318.3 843.07,417.9 855.31,517.5 862.63,617.1 864.2,716.7 865.76,816.3" fill="none" stroke="#ff0000" stroke-width="3" stroke-linejoin="round" stroke-linecap="round"/>
<path d="M630.46 19.5a6 6 0 1 0 12 0a6 6 0 1 0 -12 0M630.46 23.48a6 6 0 1 0 12 0a6 6 0 1 0 -12 0M630.46 27.47a6 6 0 1 0 12 0a6 6 0 1 0 -12 0M630.46 31.45a6 6 0 1 0 12 0a6 6 0 1 0 -12 0M630.46 35.44a6 6 0 1 0 12 0a6 6 0 1 0 -12 0M630.46 39.42a6 6 0 1 0 12 0a6 6 0 1 0 -12 0M630.68 43.4a6 6 0 1 0 12 0a6 6 0 1 0 -12 0M631.13 49.38a6 6 0 1 0 12 0a6 6 0 1 0 -12 0M632.02 59.34a6 6 0 1 0 12 0a6 6 0 1 0 -12 0M634.59 69.3a6 6 0 1 0 12 0a6 6 0 1 0 -12 0M637.83 79.26a6 6 0 1 0 12 0a6 6 0 1 0 -12 0M639.93 89.22a6 6 0 1 0 12 0a6 6 0 1 0 -12 0M644.27 99.18a6 6 0 1 0 12 0a6 6 0 1 0 -12 0M650.85 109.14a6 6 0 1 0 12 0a6 6 0 1 0 -12 0M658.55 119.1a6 6 0 1 0 12 0a6 6 0 1 0 -12 0M670.36 139.02a6 6 0 1 0 12 0a6 6 0 1 0 -12 0M684.25 158.94a6 6 0 1 0 12 0a6 6 0 1 0 -12 0M700.38 178.86a6 6 0 1 0 12 0a6 6 0 1 0 -12 0M718.3 198.78a6 6 0 1 0 12 0a6 6 0 1 0 -12 0M746.52 218.7a6 6 0 1 0 12 0a6 6 0 1 0 -12 0M789.06 268.5a6 6 0 1 0 12 0a6 6 0 1 0 -12 0M817.7 318.3a6 6 0 1 0 12 0a6 6 0 1 0 -12 0M837.07 417.9a6 6 0 1 0 12 0a6 6 0 1 0 -12 0M849.31 517.5a6 6 0 1 0 12 0a6 6 0 1 0 -12 0M856.63 617.1a6 6 0 1 0 12 0a6 6 0 1 0 -12 0M858.2 716.7a6 6 0 1 0 12 0a6 6 0 1 0 -12 0M859.76 816.3a6 6 0 1 0 12 0a6 6 0 1 0 -12 0" fill="#ff0000"/>
<polyline points="660.65,19.5 660.65,23.48 660.65,27.47 660.65,31.45 660.65,35.44 660.65,39.42 660.87,43.4 661.1,49.38 661.32,59.34 668.04,69.3 672.52,79.26 675.88,89.22 680.36,99.18 682.38,109.14 683.27,119.1 687.53,139.02 695.37,158.94 703.88,178.86 715.3,198.78 739.27,218.7 780.49,268.5 822.38,318.3 838.5,417.9 855.08,517.5 859.56,617.1 861.58,716.7 864.26,816.3" fill="none" stroke="#008000" stroke-width="2.5" stroke-linejoin="round" stroke-linecap="round"/>
<path d="M654.65 19.5a6 6 0 1 0 12 0a6 6 0 1 0 -12 0M654.65 23.48a6 6 0 1 0 12 0a6 6 0 1 0 -12 0M654.65 27.47a6 6 0 1 0 12 0a6 6 0 1 0 -12 0M654.65 31.45a6 6 0 1 0 12 0a6 6 0 1 0 -12 0M654.65 35.44a6 6 0 1 0 12 0a6 6 0 1 0 -12 0M654.65 39.42a6 6 0 1 0 12 0a6 6 0 1 0 -12 0M654.87 43.4a6 6 0 1 0 12 0a6 6 0 1 0 -12 0M655.1 49.38a6 6 0 1 0 12 0a6 6 0 1 0 -12 0M655.32 59.34a6 6 0 1 0 12 0a6 6 0 1 0 -12 0M662.04 69.3a6 6 0 1 0 12 0a6 6 0 1 0 -12 0M666.52 79.26a6 6 0 1 0 12 0a6 6 0 1 0 -12 0M669.88 89.22a6 6 0 1 0 12 0a6 6 0 1 0 -12 0M674.36 99.18a6 6 0 1 0 12 0a6 6 0 1 0 -12 0M676.38 109.14a6 6 0 1 0 12 0a6 6 0 1 0 -12 0M677.27 119.1a6 6 0 1 0 12 0a6 6 0 1 0 -12 0M681.53 139.02a6 6 0 1 0 12 0a6 6 0 1 0 -12 0M689.37 158.94a6 6 0 1 0 12 0a6 6 0 1 0 -12 0M697.88 178.86a6 6 0 1 0 12 0a6 6 0 1 0 -12 0M709.3 198.78a6 6 0 1 0 12 0a6 6 0 1 0 -12 0M733.27 218.7a6 6 0 1 0 12 0a6 6 0 1 0 -12 0M774.49 268.5a6 6 0 1 0 12 0a6 6 0 1 0 -12 0M816.38 318.3a6 6 0 1 0 12 0a6 6 0 1 0 -12 0M832.5 417.9a6 6 0 1 0 12 0a6 6 0 1 0 -12 0M849.08 517.5a6 6 0 1 0 12 0a6 6 0 1 0 -12 0M853.56 617.1a6 6 0 1 0 12 0a6 6 0 1 0 -12 0M855.58 716.7a6 6 0 1 0 12 0a6 6 0 1 0 -12 0M858.26 816.3a6 6 0 1 0 12 0a6 6 0 1 0 -12 0" fill="#008000"/>
<polyline points="660.65,20.48 660.65,22.57 660.65,24.78 660.65,27.11 660.65,29.62 660.65,32.33 660.65,35.3 660.65,38.56 660.65,42.21 660.87,46.33 660.87,50.99 661.1,56.35 661.32,62.53 661.54,69.72 661.99,78.14 668.04,88.08 674.98,99.86 684.62,113.86 696.49,130.57 709.26,150.59 726.28,174.58 746.66,203.42 772.42,238.08 804.01,279.79 836.71,329.95 862.47,390.27 876.14,462.68 881.74,549.45 882.86,653.21 884.87,776.88" fill="none" stroke="#ff00ff" stroke-width="2.5" stroke-linejoin="round" stroke-linecap="round"/>
<path d="M654.65 20.48a6 6 0 1 0 12 0a6 6 0 1 0 -12 0M654.65 22.57a6 6 0 1 0 12 0a6 6 0 1 0 -12 0M654.65 24.78a6 6 0 1 0 12 0a6 6 0 1 0 -12 0M654.65 27.11a6 6 0 1 0 12 0a6 6 0 1 0 -12 0M654.65 29.62a6 6 0 1 0 12 0a6 6 0 1 0 -12 0M654.65 32.33a6 6 0 1 0 12 0a6 6 0 1 0 -12 0M654.65 35.3a6 6 0 1 0 12 0a6 6 0 1 0 -12 0M654.65 38.56a6 6 0 1 0 12 0a6 6 0 1 0 -12 0M654.65 42.21a6 6 0 1 0 12 0a6 6 0 1 0 -12 0M654.87 46.33a6 6 0 1 0 12 0a6 6 0 1 0 -12 0M654.87 50.99a6 6 0 1 0 12 0a6 6 0 1 0 -12 0M655.1 56.35a6 6 0 1 0 12 0a6 6 0 1 0 -12 0M655.32 62.53a6 6 0 1 0 12 0a6 6 0 1 0 -12 0M655.54 69.72a6 6 0 1 0 12 0a6 6 0 1 0 -12 0M655.99 78.14a6 6 0 1 0 12 0a6 6 0 1 0 -12 0M662.04 88.08a6 6 0 1 0 12 0a6 6 0 1 0 -12 0M668.98 99.86a6 6 0 1 0 12 0a6 6 0 1 0 -12 0M678.62 113.86a6 6 0 1 0 12 0a6 6 0 1 0 -12 0M690.49 130.57a6 6 0 1 0 12 0a6 6 0 1 0 -12 0M703.26 150.59a6 6 0 1 0 12 0a6 6 0 1 0 -12 0M720.28 174.58a6 6 0 1 0 12 0a6 6 0 1 0 -12 0M740.66 203.42a6 6 0 1 0 12 0a6 6 0 1 0 -12 0M766.42 238.08a6 6 0 1 0 12 0a6 6 0 1 0 -12 0M798.01 279.79a6 6 0 1 0 12 0a6 6 0 1 0 -12 0M830.71 329.95a6 6 0 1 0 12 0a6 6 0 1 0 -12 0M856.47 390.27a6 6 0 1 0 12 0a6 6 0 1 0 -12 0M870.14 462.68a6 6 0 1 0 12 0a6 6 0 1 0 -12 0M875.74 549.45a6 6 0 1 0 12 0a6 6 0 1 0 -12 0M876.86 653.21a6 6 0 1 0 12 0a6 6 0 1 0 -12 0M878.87 776.88a6 6 0 1 0 12 0a6 6 0 1 0 -12 0" fill="#ff00ff"/>
</g>
<g clip-path="url(#c2)">
<path d="M1095.58 18.68a3.4 3.4 0 1 0 6.8 0a3.4 3.4 0 1 0 -6.8 0M1098.62 25.89a3.4 3.4 0 1 0 6.8 0a3.4 3.4 0 1 0 -6.8 0M1099.38 33.72a3.4 3.4 0 1 0 6.8 0a3.4 3.4 0 1 0 -6.8 0M1100.97 42.34a3.4 3.4 0 1 0 6.8 0a3.4 3.4 0 1 0 -6.8 0M1100.97 49.75a3.4 3.4 0 1 0 6.8 0a3.4 3.4 0 1 0 -6.8 0M1109.55 56.83a3.4 3.4 0 1 0 6.8 0a3.4 3.4 0 1 0 -6.8 0M1113.93 61.91a3.4 3.4 0 1 0 6.8 0a3.4 3.4 0 1 0 -6.8 0M1118.82 72.74a3.4 3.4 0 1 0 6.8 0a3.4 3.4 0 1 0 -6.8 0M1115.62 74.29a3.4 3.4 0 1 0 6.8 0a3.4 3.4 0 1 0 -6.8 0M1135.3 84.75a3.4 3.4 0 1 0 6.8 0a3.4 3.4 0 1 0 -6.8 0M1137.68 91.18a3.4 3.4 0 1 0 6.8 0a3.4 3.4 0 1 0 -6.8 0M1137.58 97.29a3.4 3.4 0 1 0 6.8 0a3.4 3.4 0 1 0 -6.8 0M1140.93 103.62a3.4 3.4 0 1 0 6.8 0a3.4 3.4 0 1 0 -6.8 0M1142.01 110.23a3.4 3.4 0 1 0 6.8 0a3.4 3.4 0 1 0 -6.8 0M1152.18 120.32a3.4 3.4 0 1 0 6.8 0a3.4 3.4 0 1 0 -6.8 0M1154.22 125.92a3.4 3.4 0 1 0 6.8 0a3.4 3.4 0 1 0 -6.8 0M1157.85 130.31a3.4 3.4 0 1 0 6.8 0a3.4 3.4 0 1 0 -6.8 0M1163.12 140.73a3.4 3.4 0 1 0 6.8 0a3.4 3.4 0 1 0 -6.8 0M1164.51 144.19a3.4 3.4 0 1 0 6.8 0a3.4 3.4 0 1 0 -6.8 0M1166.95 151.49a3.4 3.4 0 1 0 6.8 0a3.4 3.4 0 1 0 -6.8 0M1168.61 162.1a3.4 3.4 0 1 0 6.8 0a3.4 3.4 0 1 0 -6.8 0M1170.22 166.03a3.4 3.4 0 1 0 6.8 0a3.4 3.4 0 1 0 -6.8 0M1169.16 174.28a3.4 3.4 0 1 0 6.8 0a3.4 3.4 0 1 0 -6.8 0M1176.94 184.66a3.4 3.4 0 1 0 6.8 0a3.4 3.4 0 1 0 -6.8 0M1175.99 190.99a3.4 3.4 0 1 0 6.8 0a3.4 3.4 0 1 0 -6.8 0M1179.4 193.66a3.4 3.4 0 1 0 6.8 0a3.4 3.4 0 1 0 -6.8 0M1175.16 201.04a3.4 3.4 0 1 0 6.8 0a3.4 3.4 0 1 0 -6.8 0M1179.75 210.84a3.4 3.4 0 1 0 6.8 0a3.4 3.4 0 1 0 -6.8 0M1180.82 217.02a3.4 3.4 0 1 0 6.8 0a3.4 3.4 0 1 0 -6.8 0M1183.52 220.89a3.4 3.4 0 1 0 6.8 0a3.4 3.4 0 1 0 -6.8 0M1183.85 229.98a3.4 3.4 0 1 0 6.8 0a3.4 3.4 0 1 0 -6.8 0M1186.26 240.39a3.4 3.4 0 1 0 6.8 0a3.4 3.4 0 1 0 -6.8 0M1184.59 243.32a3.4 3.4 0 1 0 6.8 0a3.4 3.4 0 1 0 -6.8 0M1187.37 251.62a3.4 3.4 0 1 0 6.8 0a3.4 3.4 0 1 0 -6.8 0M1187.31 259.25a3.4 3.4 0 1 0 6.8 0a3.4 3.4 0 1 0 -6.8 0M1190.04 263.96a3.4 3.4 0 1 0 6.8 0a3.4 3.4 0 1 0 -6.8 0M1192.04 271.71a3.4 3.4 0 1 0 6.8 0a3.4 3.4 0 1 0 -6.8 0M1191.75 281.71a3.4 3.4 0 1 0 6.8 0a3.4 3.4 0 1 0 -6.8 0M1193.86 286.98a3.4 3.4 0 1 0 6.8 0a3.4 3.4 0 1 0 -6.8 0M1193.81 291.46a3.4 3.4 0 1 0 6.8 0a3.4 3.4 0 1 0 -6.8 0M1195.39 299.48a3.4 3.4 0 1 0 6.8 0a3.4 3.4 0 1 0 -6.8 0M1198.36 304.81a3.4 3.4 0 1 0 6.8 0a3.4 3.4 0 1 0 -6.8 0M1199.93 312.86a3.4 3.4 0 1 0 6.8 0a3.4 3.4 0 1 0 -6.8 0M1201.02 322.45a3.4 3.4 0 1 0 6.8 0a3.4 3.4 0 1 0 -6.8 0M1200.8 327.88a3.4 3.4 0 1 0 6.8 0a3.4 3.4 0 1 0 -6.8 0M1203.82 334.31a3.4 3.4 0 1 0 6.8 0a3.4 3.4 0 1 0 -6.8 0M1204.38 343.97a3.4 3.4 0 1 0 6.8 0a3.4 3.4 0 1 0 -6.8 0M1205.93 348.13a3.4 3.4 0 1 0 6.8 0a3.4 3.4 0 1 0 -6.8 0M1208.44 353.22a3.4 3.4 0 1 0 6.8 0a3.4 3.4 0 1 0 -6.8 0M1211.12 364.51a3.4 3.4 0 1 0 6.8 0a3.4 3.4 0 1 0 -6.8 0M1210.74 369.33a3.4 3.4 0 1 0 6.8 0a3.4 3.4 0 1 0 -6.8 0M1213.72 378.15a3.4 3.4 0 1 0 6.8 0a3.4 3.4 0 1 0 -6.8 0M1214.57 384.64a3.4 3.4 0 1 0 6.8 0a3.4 3.4 0 1 0 -6.8 0M1214.95 389.56a3.4 3.4 0 1 0 6.8 0a3.4 3.4 0 1 0 -6.8 0M1216.35 396.12a3.4 3.4 0 1 0 6.8 0a3.4 3.4 0 1 0 -6.8 0M1219.03 407.89a3.4 3.4 0 1 0 6.8 0a3.4 3.4 0 1 0 -6.8 0M1218.55 411.35a3.4 3.4 0 1 0 6.8 0a3.4 3.4 0 1 0 -6.8 0M1220.76 419.85a3.4 3.4 0 1 0 6.8 0a3.4 3.4 0 1 0 -6.8 0M1221.57 423.44a3.4 3.4 0 1 0 6.8 0a3.4 3.4 0 1 0 -6.8 0M1223.34 434.73a3.4 3.4 0 1 0 6.8 0a3.4 3.4 0 1 0 -6.8 0M1224.38 437.17a3.4 3.4 0 1 0 6.8 0a3.4 3.4 0 1 0 -6.8 0M1226.64 449.1a3.4 3.4 0 1 0 6.8 0a3.4 3.4 0 1 0 -6.8 0M1226.78 455.28a3.4 3.4 0 1 0 6.8 0a3.4 3.4 0 1 0 -6.8 0M1228.05 459.56a3.4 3.4 0 1 0 6.8 0a3.4 3.4 0 1 0 -6.8 0M1228.07 470a3.4 3.4 0 1 0 6.8 0a3.4 3.4 0 1 0 -6.8 0M1231.07 471.86a3.4 3.4 0 1 0 6.8 0a3.4 3.4 0 1 0 -6.8 0M1232.74 483.09a3.4 3.4 0 1 0 6.8 0a3.4 3.4 0 1 0 -6.8 0M1232.5 489.26a3.4 3.4 0 1 0 6.8 0a3.4 3.4 0 1 0 -6.8 0M1234.77 494.07a3.4 3.4 0 1 0 6.8 0a3.4 3.4 0 1 0 -6.8 0M1235.8 500.37a3.4 3.4 0 1 0 6.8 0a3.4 3.4 0 1 0 -6.8 0M1235.79 510.05a3.4 3.4 0 1 0 6.8 0a3.4 3.4 0 1 0 -6.8 0M1238.48 516.13a3.4 3.4 0 1 0 6.8 0a3.4 3.4 0 1 0 -6.8 0M1236.95 522.52a3.4 3.4 0 1 0 6.8 0a3.4 3.4 0 1 0 -6.8 0M1239.36 528.49a3.4 3.4 0 1 0 6.8 0a3.4 3.4 0 1 0 -6.8 0M1239.97 535.19a3.4 3.4 0 1 0 6.8 0a3.4 3.4 0 1 0 -6.8 0M1240.19 543.02a3.4 3.4 0 1 0 6.8 0a3.4 3.4 0 1 0 -6.8 0M1242.27 549.77a3.4 3.4 0 1 0 6.8 0a3.4 3.4 0 1 0 -6.8 0M1243.06 557.74a3.4 3.4 0 1 0 6.8 0a3.4 3.4 0 1 0 -6.8 0M1243.95 565.74a3.4 3.4 0 1 0 6.8 0a3.4 3.4 0 1 0 -6.8 0M1246.8 573.88a3.4 3.4 0 1 0 6.8 0a3.4 3.4 0 1 0 -6.8 0M1247.9 581.9a3.4 3.4 0 1 0 6.8 0a3.4 3.4 0 1 0 -6.8 0M1247.26 583.75a3.4 3.4 0 1 0 6.8 0a3.4 3.4 0 1 0 -6.8 0M1247.74 591.97a3.4 3.4 0 1 0 6.8 0a3.4 3.4 0 1 0 -6.8 0M1249.84 598.2a3.4 3.4 0 1 0 6.8 0a3.4 3.4 0 1 0 -6.8 0M1252.51 607.86a3.4 3.4 0 1 0 6.8 0a3.4 3.4 0 1 0 -6.8 0M1253.44 614.1a3.4 3.4 0 1 0 6.8 0a3.4 3.4 0 1 0 -6.8 0M1253.88 620.63a3.4 3.4 0 1 0 6.8 0a3.4 3.4 0 1 0 -6.8 0M1257.98 630.1a3.4 3.4 0 1 0 6.8 0a3.4 3.4 0 1 0 -6.8 0M1257.2 632.77a3.4 3.4 0 1 0 6.8 0a3.4 3.4 0 1 0 -6.8 0M1257.97 643.68a3.4 3.4 0 1 0 6.8 0a3.4 3.4 0 1 0 -6.8 0M1258.74 649.56a3.4 3.4 0 1 0 6.8 0a3.4 3.4 0 1 0 -6.8 0M1258.64 658.17a3.4 3.4 0 1 0 6.8 0a3.4 3.4 0 1 0 -6.8 0M1261.53 665.81a3.4 3.4 0 1 0 6.8 0a3.4 3.4 0 1 0 -6.8 0M1263.62 671.23a3.4 3.4 0 1 0 6.8 0a3.4 3.4 0 1 0 -6.8 0M1262.19 679.01a3.4 3.4 0 1 0 6.8 0a3.4 3.4 0 1 0 -6.8 0M1264.39 682.09a3.4 3.4 0 1 0 6.8 0a3.4 3.4 0 1 0 -6.8 0M1266.34 690.71a3.4 3.4 0 1 0 6.8 0a3.4 3.4 0 1 0 -6.8 0M1265.38 696.54a3.4 3.4 0 1 0 6.8 0a3.4 3.4 0 1 0 -6.8 0M1267.27 705.38a3.4 3.4 0 1 0 6.8 0a3.4 3.4 0 1 0 -6.8 0M1267.79 713.2a3.4 3.4 0 1 0 6.8 0a3.4 3.4 0 1 0 -6.8 0M1269.5 719.18a3.4 3.4 0 1 0 6.8 0a3.4 3.4 0 1 0 -6.8 0M1270.46 726.52a3.4 3.4 0 1 0 6.8 0a3.4 3.4 0 1 0 -6.8 0M1272.38 734.66a3.4 3.4 0 1 0 6.8 0a3.4 3.4 0 1 0 -6.8 0M1273.31 741.23a3.4 3.4 0 1 0 6.8 0a3.4 3.4 0 1 0 -6.8 0M1272.74 743.78a3.4 3.4 0 1 0 6.8 0a3.4 3.4 0 1 0 -6.8 0M1273.21 752.25a3.4 3.4 0 1 0 6.8 0a3.4 3.4 0 1 0 -6.8 0M1273.78 760.08a3.4 3.4 0 1 0 6.8 0a3.4 3.4 0 1 0 -6.8 0M1276.41 769.52a3.4 3.4 0 1 0 6.8 0a3.4 3.4 0 1 0 -6.8 0M1277.36 773.33a3.4 3.4 0 1 0 6.8 0a3.4 3.4 0 1 0 -6.8 0M1278.36 781.1a3.4 3.4 0 1 0 6.8 0a3.4 3.4 0 1 0 -6.8 0M1279.81 791.22a3.4 3.4 0 1 0 6.8 0a3.4 3.4 0 1 0 -6.8 0M1278.84 792.74a3.4 3.4 0 1 0 6.8 0a3.4 3.4 0 1 0 -6.8 0M1280.85 805a3.4 3.4 0 1 0 6.8 0a3.4 3.4 0 1 0 -6.8 0M1281.9 809.01a3.4 3.4 0 1 0 6.8 0a3.4 3.4 0 1 0 -6.8 0M1100.7 23.79a3.4 3.4 0 1 0 6.8 0a3.4 3.4 0 1 0 -6.8 0M1099.64 31.3a3.4 3.4 0 1 0 6.8 0a3.4 3.4 0 1 0 -6.8 0M1099.99 34.69a3.4 3.4 0 1 0 6.8 0a3.4 3.4 0 1 0 -6.8 0M1101.39 42.41a3.4 3.4 0 1 0 6.8 0a3.4 3.4 0 1 0 -6.8 0M1101.84 48.34a3.4 3.4 0 1 0 6.8 0a3.4 3.4 0 1 0 -6.8 0M1105.37 56.21a3.4 3.4 0 1 0 6.8 0a3.4 3.4 0 1 0 -6.8 0M1110.83 64.12a3.4 3.4 0 1 0 6.8 0a3.4 3.4 0 1 0 -6.8 0M1110.17 70.71a3.4 3.4 0 1 0 6.8 0a3.4 3.4 0 1 0 -6.8 0M1125.41 80.09a3.4 3.4 0 1 0 6.8 0a3.4 3.4 0 1 0 -6.8 0M1117.95 83.33a3.4 3.4 0 1 0 6.8 0a3.4 3.4 0 1 0 -6.8 0M1131.75 89.33a3.4 3.4 0 1 0 6.8 0a3.4 3.4 0 1 0 -6.8 0M1135.42 99.19a3.4 3.4 0 1 0 6.8 0a3.4 3.4 0 1 0 -6.8 0M1140.32 107.21a3.4 3.4 0 1 0 6.8 0a3.4 3.4 0 1 0 -6.8 0M1143.87 110.64a3.4 3.4 0 1 0 6.8 0a3.4 3.4 0 1 0 -6.8 0M1144.61 118.73a3.4 3.4 0 1 0 6.8 0a3.4 3.4 0 1 0 -6.8 0M1149.66 127.83a3.4 3.4 0 1 0 6.8 0a3.4 3.4 0 1 0 -6.8 0M1152.44 133.67a3.4 3.4 0 1 0 6.8 0a3.4 3.4 0 1 0 -6.8 0M1159.74 142.65a3.4 3.4 0 1 0 6.8 0a3.4 3.4 0 1 0 -6.8 0M1161.91 149.03a3.4 3.4 0 1 0 6.8 0a3.4 3.4 0 1 0 -6.8 0M1162.24 152.32a3.4 3.4 0 1 0 6.8 0a3.4 3.4 0 1 0 -6.8 0M1166.3 158.22a3.4 3.4 0 1 0 6.8 0a3.4 3.4 0 1 0 -6.8 0M1169.37 167.49a3.4 3.4 0 1 0 6.8 0a3.4 3.4 0 1 0 -6.8 0M1170.46 172.01a3.4 3.4 0 1 0 6.8 0a3.4 3.4 0 1 0 -6.8 0M1173.53 181.94a3.4 3.4 0 1 0 6.8 0a3.4 3.4 0 1 0 -6.8 0M1177.5 187.4a3.4 3.4 0 1 0 6.8 0a3.4 3.4 0 1 0 -6.8 0M1179.43 195.9a3.4 3.4 0 1 0 6.8 0a3.4 3.4 0 1 0 -6.8 0M1177.98 203.15a3.4 3.4 0 1 0 6.8 0a3.4 3.4 0 1 0 -6.8 0M1179.83 210.3a3.4 3.4 0 1 0 6.8 0a3.4 3.4 0 1 0 -6.8 0M1182.1 217.53a3.4 3.4 0 1 0 6.8 0a3.4 3.4 0 1 0 -6.8 0M1186.56 225.02a3.4 3.4 0 1 0 6.8 0a3.4 3.4 0 1 0 -6.8 0M1184.95 233a3.4 3.4 0 1 0 6.8 0a3.4 3.4 0 1 0 -6.8 0M1187.75 235.36a3.4 3.4 0 1 0 6.8 0a3.4 3.4 0 1 0 -6.8 0M1188.2 245.03a3.4 3.4 0 1 0 6.8 0a3.4 3.4 0 1 0 -6.8 0M1188.76 252.73a3.4 3.4 0 1 0 6.8 0a3.4 3.4 0 1 0 -6.8 0M1188.51 260.26a3.4 3.4 0 1 0 6.8 0a3.4 3.4 0 1 0 -6.8 0M1190.79 264.84a3.4 3.4 0 1 0 6.8 0a3.4 3.4 0 1 0 -6.8 0M1191.55 273.08a3.4 3.4 0 1 0 6.8 0a3.4 3.4 0 1 0 -6.8 0M1193.8 281.22a3.4 3.4 0 1 0 6.8 0a3.4 3.4 0 1 0 -6.8 0M1194.94 284.37a3.4 3.4 0 1 0 6.8 0a3.4 3.4 0 1 0 -6.8 0M1195.47 291.33a3.4 3.4 0 1 0 6.8 0a3.4 3.4 0 1 0 -6.8 0M1196.73 298.62a3.4 3.4 0 1 0 6.8 0a3.4 3.4 0 1 0 -6.8 0M1198.16 305.73a3.4 3.4 0 1 0 6.8 0a3.4 3.4 0 1 0 -6.8 0M1199.05 316.89a3.4 3.4 0 1 0 6.8 0a3.4 3.4 0 1 0 -6.8 0M1202.11 321.55a3.4 3.4 0 1 0 6.8 0a3.4 3.4 0 1 0 -6.8 0M1203.62 326.78a3.4 3.4 0 1 0 6.8 0a3.4 3.4 0 1 0 -6.8 0M1204.15 333.56a3.4 3.4 0 1 0 6.8 0a3.4 3.4 0 1 0 -6.8 0M1206.67 343.34a3.4 3.4 0 1 0 6.8 0a3.4 3.4 0 1 0 -6.8 0M1208.47 346.92a3.4 3.4 0 1 0 6.8 0a3.4 3.4 0 1 0 -6.8 0M1208.74 353.83a3.4 3.4 0 1 0 6.8 0a3.4 3.4 0 1 0 -6.8 0M1210.67 365.48a3.4 3.4 0 1 0 6.8 0a3.4 3.4 0 1 0 -6.8 0M1212.75 368.91a3.4 3.4 0 1 0 6.8 0a3.4 3.4 0 1 0 -6.8 0M1211.5 377.09a3.4 3.4 0 1 0 6.8 0a3.4 3.4 0 1 0 -6.8 0M1213.89 385.29a3.4 3.4 0 1 0 6.8 0a3.4 3.4 0 1 0 -6.8 0M1216.55 391.02a3.4 3.4 0 1 0 6.8 0a3.4 3.4 0 1 0 -6.8 0M1219.54 398.21a3.4 3.4 0 1 0 6.8 0a3.4 3.4 0 1 0 -6.8 0M1219.87 404.71a3.4 3.4 0 1 0 6.8 0a3.4 3.4 0 1 0 -6.8 0M1221.06 411.16a3.4 3.4 0 1 0 6.8 0a3.4 3.4 0 1 0 -6.8 0M1223.29 420.55a3.4 3.4 0 1 0 6.8 0a3.4 3.4 0 1 0 -6.8 0M1220.68 424.03a3.4 3.4 0 1 0 6.8 0a3.4 3.4 0 1 0 -6.8 0M1221.86 430.99a3.4 3.4 0 1 0 6.8 0a3.4 3.4 0 1 0 -6.8 0M1226.27 440.01a3.4 3.4 0 1 0 6.8 0a3.4 3.4 0 1 0 -6.8 0M1227.73 447.82a3.4 3.4 0 1 0 6.8 0a3.4 3.4 0 1 0 -6.8 0M1228.72 455.91a3.4 3.4 0 1 0 6.8 0a3.4 3.4 0 1 0 -6.8 0M1229.11 462.64a3.4 3.4 0 1 0 6.8 0a3.4 3.4 0 1 0 -6.8 0M1230.02 469.05a3.4 3.4 0 1 0 6.8 0a3.4 3.4 0 1 0 -6.8 0M1232.75 474.54a3.4 3.4 0 1 0 6.8 0a3.4 3.4 0 1 0 -6.8 0M1232.78 481.02a3.4 3.4 0 1 0 6.8 0a3.4 3.4 0 1 0 -6.8 0M1235.27 488.06a3.4 3.4 0 1 0 6.8 0a3.4 3.4 0 1 0 -6.8 0M1235.61 494.57a3.4 3.4 0 1 0 6.8 0a3.4 3.4 0 1 0 -6.8 0M1235.29 505.28a3.4 3.4 0 1 0 6.8 0a3.4 3.4 0 1 0 -6.8 0M1236.34 508.1a3.4 3.4 0 1 0 6.8 0a3.4 3.4 0 1 0 -6.8 0M1238.71 516.63a3.4 3.4 0 1 0 6.8 0a3.4 3.4 0 1 0 -6.8 0M1238.88 523.23a3.4 3.4 0 1 0 6.8 0a3.4 3.4 0 1 0 -6.8 0M1241.77 532.59a3.4 3.4 0 1 0 6.8 0a3.4 3.4 0 1 0 -6.8 0M1241.61 539.26a3.4 3.4 0 1 0 6.8 0a3.4 3.4 0 1 0 -6.8 0M1242.61 543.15a3.4 3.4 0 1 0 6.8 0a3.4 3.4 0 1 0 -6.8 0M1243.75 551.25a3.4 3.4 0 1 0 6.8 0a3.4 3.4 0 1 0 -6.8 0M1245.59 560.56a3.4 3.4 0 1 0 6.8 0a3.4 3.4 0 1 0 -6.8 0M1246.1 567.11a3.4 3.4 0 1 0 6.8 0a3.4 3.4 0 1 0 -6.8 0M1247.97 572.87a3.4 3.4 0 1 0 6.8 0a3.4 3.4 0 1 0 -6.8 0M1247.35 579.47a3.4 3.4 0 1 0 6.8 0a3.4 3.4 0 1 0 -6.8 0M1249.79 587.94a3.4 3.4 0 1 0 6.8 0a3.4 3.4 0 1 0 -6.8 0M1251.08 595.19a3.4 3.4 0 1 0 6.8 0a3.4 3.4 0 1 0 -6.8 0M1252.23 601.09a3.4 3.4 0 1 0 6.8 0a3.4 3.4 0 1 0 -6.8 0M1253.46 609.95a3.4 3.4 0 1 0 6.8 0a3.4 3.4 0 1 0 -6.8 0M1254.48 612.65a3.4 3.4 0 1 0 6.8 0a3.4 3.4 0 1 0 -6.8 0M1256.66 623.84a3.4 3.4 0 1 0 6.8 0a3.4 3.4 0 1 0 -6.8 0M1258.59 630.51a3.4 3.4 0 1 0 6.8 0a3.4 3.4 0 1 0 -6.8 0M1256.78 632.37a3.4 3.4 0 1 0 6.8 0a3.4 3.4 0 1 0 -6.8 0M1259.79 641.78a3.4 3.4 0 1 0 6.8 0a3.4 3.4 0 1 0 -6.8 0M1260.81 648.79a3.4 3.4 0 1 0 6.8 0a3.4 3.4 0 1 0 -6.8 0M1260.77 654.06a3.4 3.4 0 1 0 6.8 0a3.4 3.4 0 1 0 -6.8 0M1262.03 661.41a3.4 3.4 0 1 0 6.8 0a3.4 3.4 0 1 0 -6.8 0M1263.53 669.71a3.4 3.4 0 1 0 6.8 0a3.4 3.4 0 1 0 -6.8 0M1263.43 674.2a3.4 3.4 0 1 0 6.8 0a3.4 3.4 0 1 0 -6.8 0M1265.53 685.94a3.4 3.4 0 1 0 6.8 0a3.4 3.4 0 1 0 -6.8 0M1265.26 688.83a3.4 3.4 0 1 0 6.8 0a3.4 3.4 0 1 0 -6.8 0M1267.64 695.27a3.4 3.4 0 1 0 6.8 0a3.4 3.4 0 1 0 -6.8 0M1267.91 704.84a3.4 3.4 0 1 0 6.8 0a3.4 3.4 0 1 0 -6.8 0M1270.47 709.19a3.4 3.4 0 1 0 6.8 0a3.4 3.4 0 1 0 -6.8 0M1269.95 721.21a3.4 3.4 0 1 0 6.8 0a3.4 3.4 0 1 0 -6.8 0M1271.42 726.92a3.4 3.4 0 1 0 6.8 0a3.4 3.4 0 1 0 -6.8 0M1273.22 731.64a3.4 3.4 0 1 0 6.8 0a3.4 3.4 0 1 0 -6.8 0M1273.28 738.76a3.4 3.4 0 1 0 6.8 0a3.4 3.4 0 1 0 -6.8 0M1274.31 743.78a3.4 3.4 0 1 0 6.8 0a3.4 3.4 0 1 0 -6.8 0M1275 752.57a3.4 3.4 0 1 0 6.8 0a3.4 3.4 0 1 0 -6.8 0M1277.19 759.3a3.4 3.4 0 1 0 6.8 0a3.4 3.4 0 1 0 -6.8 0M1277.89 768.57a3.4 3.4 0 1 0 6.8 0a3.4 3.4 0 1 0 -6.8 0M1278.49 771.67a3.4 3.4 0 1 0 6.8 0a3.4 3.4 0 1 0 -6.8 0M1278.21 778.72a3.4 3.4 0 1 0 6.8 0a3.4 3.4 0 1 0 -6.8 0M1279.73 788.16a3.4 3.4 0 1 0 6.8 0a3.4 3.4 0 1 0 -6.8 0M1281.48 796.23a3.4 3.4 0 1 0 6.8 0a3.4 3.4 0 1 0 -6.8 0M1282.57 801.32a3.4 3.4 0 1 0 6.8 0a3.4 3.4 0 1 0 -6.8 0M1284.17 807.13a3.4 3.4 0 1 0 6.8 0a3.4 3.4 0 1 0 -6.8 0M1101.36 20.46a3.4 3.4 0 1 0 6.8 0a3.4 3.4 0 1 0 -6.8 0M1099.58 29.12a3.4 3.4 0 1 0 6.8 0a3.4 3.4 0 1 0 -6.8 0M1101.32 35.26a3.4 3.4 0 1 0 6.8 0a3.4 3.4 0 1 0 -6.8 0M1102.22 42.88a3.4 3.4 0 1 0 6.8 0a3.4 3.4 0 1 0 -6.8 0M1100.04 47.87a3.4 3.4 0 1 0 6.8 0a3.4 3.4 0 1 0 -6.8 0M1101.69 55.08a3.4 3.4 0 1 0 6.8 0a3.4 3.4 0 1 0 -6.8 0M1105.29 64.47a3.4 3.4 0 1 0 6.8 0a3.4 3.4 0 1 0 -6.8 0M1104.55 67.56a3.4 3.4 0 1 0 6.8 0a3.4 3.4 0 1 0 -6.8 0M1110.24 75.34a3.4 3.4 0 1 0 6.8 0a3.4 3.4 0 1 0 -6.8 0M1115.1 81.27a3.4 3.4 0 1 0 6.8 0a3.4 3.4 0 1 0 -6.8 0M1126.26 93.15a3.4 3.4 0 1 0 6.8 0a3.4 3.4 0 1 0 -6.8 0M1131.09 98.7a3.4 3.4 0 1 0 6.8 0a3.4 3.4 0 1 0 -6.8 0M1140.23 107.32a3.4 3.4 0 1 0 6.8 0a3.4 3.4 0 1 0 -6.8 0M1137.96 109.29a3.4 3.4 0 1 0 6.8 0a3.4 3.4 0 1 0 -6.8 0M1142.55 121.74a3.4 3.4 0 1 0 6.8 0a3.4 3.4 0 1 0 -6.8 0M1146.3 127.66a3.4 3.4 0 1 0 6.8 0a3.4 3.4 0 1 0 -6.8 0M1148.57 135.16a3.4 3.4 0 1 0 6.8 0a3.4 3.4 0 1 0 -6.8 0M1154.67 139.98a3.4 3.4 0 1 0 6.8 0a3.4 3.4 0 1 0 -6.8 0M1151.97 149.67a3.4 3.4 0 1 0 6.8 0a3.4 3.4 0 1 0 -6.8 0M1160.94 154.55a3.4 3.4 0 1 0 6.8 0a3.4 3.4 0 1 0 -6.8 0M1164.1 158.34a3.4 3.4 0 1 0 6.8 0a3.4 3.4 0 1 0 -6.8 0M1166.94 168.7a3.4 3.4 0 1 0 6.8 0a3.4 3.4 0 1 0 -6.8 0M1165.59 176.11a3.4 3.4 0 1 0 6.8 0a3.4 3.4 0 1 0 -6.8 0M1171.81 183.9a3.4 3.4 0 1 0 6.8 0a3.4 3.4 0 1 0 -6.8 0M1171.54 191.78a3.4 3.4 0 1 0 6.8 0a3.4 3.4 0 1 0 -6.8 0M1175.23 195.71a3.4 3.4 0 1 0 6.8 0a3.4 3.4 0 1 0 -6.8 0M1177.5 203.37a3.4 3.4 0 1 0 6.8 0a3.4 3.4 0 1 0 -6.8 0M1181.94 211.17a3.4 3.4 0 1 0 6.8 0a3.4 3.4 0 1 0 -6.8 0M1184.29 218.71a3.4 3.4 0 1 0 6.8 0a3.4 3.4 0 1 0 -6.8 0M1183.4 223.29a3.4 3.4 0 1 0 6.8 0a3.4 3.4 0 1 0 -6.8 0M1183.65 229.94a3.4 3.4 0 1 0 6.8 0a3.4 3.4 0 1 0 -6.8 0M1185.69 235.59a3.4 3.4 0 1 0 6.8 0a3.4 3.4 0 1 0 -6.8 0M1185.71 243.17a3.4 3.4 0 1 0 6.8 0a3.4 3.4 0 1 0 -6.8 0M1187.9 250.5a3.4 3.4 0 1 0 6.8 0a3.4 3.4 0 1 0 -6.8 0M1190.02 255.61a3.4 3.4 0 1 0 6.8 0a3.4 3.4 0 1 0 -6.8 0M1189.89 264.18a3.4 3.4 0 1 0 6.8 0a3.4 3.4 0 1 0 -6.8 0M1190.42 272.55a3.4 3.4 0 1 0 6.8 0a3.4 3.4 0 1 0 -6.8 0M1193.48 281.73a3.4 3.4 0 1 0 6.8 0a3.4 3.4 0 1 0 -6.8 0M1193.52 289.13a3.4 3.4 0 1 0 6.8 0a3.4 3.4 0 1 0 -6.8 0M1195.47 291.5a3.4 3.4 0 1 0 6.8 0a3.4 3.4 0 1 0 -6.8 0M1196.67 302.13a3.4 3.4 0 1 0 6.8 0a3.4 3.4 0 1 0 -6.8 0M1197.88 307.78a3.4 3.4 0 1 0 6.8 0a3.4 3.4 0 1 0 -6.8 0M1197.94 314.16a3.4 3.4 0 1 0 6.8 0a3.4 3.4 0 1 0 -6.8 0M1203.28 324.23a3.4 3.4 0 1 0 6.8 0a3.4 3.4 0 1 0 -6.8 0M1203.67 327.95a3.4 3.4 0 1 0 6.8 0a3.4 3.4 0 1 0 -6.8 0M1203.74 337.38a3.4 3.4 0 1 0 6.8 0a3.4 3.4 0 1 0 -6.8 0M1206.57 344.52a3.4 3.4 0 1 0 6.8 0a3.4 3.4 0 1 0 -6.8 0M1207.32 350.22a3.4 3.4 0 1 0 6.8 0a3.4 3.4 0 1 0 -6.8 0M1208.01 355.09a3.4 3.4 0 1 0 6.8 0a3.4 3.4 0 1 0 -6.8 0M1209.62 361.86a3.4 3.4 0 1 0 6.8 0a3.4 3.4 0 1 0 -6.8 0M1210.59 369.11a3.4 3.4 0 1 0 6.8 0a3.4 3.4 0 1 0 -6.8 0M1212.07 374.47a3.4 3.4 0 1 0 6.8 0a3.4 3.4 0 1 0 -6.8 0M1213.24 386.69a3.4 3.4 0 1 0 6.8 0a3.4 3.4 0 1 0 -6.8 0M1216.85 390.93a3.4 3.4 0 1 0 6.8 0a3.4 3.4 0 1 0 -6.8 0M1219.3 397a3.4 3.4 0 1 0 6.8 0a3.4 3.4 0 1 0 -6.8 0M1219.19 406.93a3.4 3.4 0 1 0 6.8 0a3.4 3.4 0 1 0 -6.8 0M1218.44 410.8a3.4 3.4 0 1 0 6.8 0a3.4 3.4 0 1 0 -6.8 0M1222.09 420.69a3.4 3.4 0 1 0 6.8 0a3.4 3.4 0 1 0 -6.8 0M1221.92 425.85a3.4 3.4 0 1 0 6.8 0a3.4 3.4 0 1 0 -6.8 0M1224.41 433.86a3.4 3.4 0 1 0 6.8 0a3.4 3.4 0 1 0 -6.8 0M1223.98 439.5a3.4 3.4 0 1 0 6.8 0a3.4 3.4 0 1 0 -6.8 0M1225 445.58a3.4 3.4 0 1 0 6.8 0a3.4 3.4 0 1 0 -6.8 0M1225.2 451.66a3.4 3.4 0 1 0 6.8 0a3.4 3.4 0 1 0 -6.8 0M1229.65 461a3.4 3.4 0 1 0 6.8 0a3.4 3.4 0 1 0 -6.8 0M1228.58 469.03a3.4 3.4 0 1 0 6.8 0a3.4 3.4 0 1 0 -6.8 0M1232.32 477.28a3.4 3.4 0 1 0 6.8 0a3.4 3.4 0 1 0 -6.8 0M1230.96 481.2a3.4 3.4 0 1 0 6.8 0a3.4 3.4 0 1 0 -6.8 0M1234.41 490.2a3.4 3.4 0 1 0 6.8 0a3.4 3.4 0 1 0 -6.8 0M1234.98 493.22a3.4 3.4 0 1 0 6.8 0a3.4 3.4 0 1 0 -6.8 0M1236.22 500.96a3.4 3.4 0 1 0 6.8 0a3.4 3.4 0 1 0 -6.8 0M1236.13 510.53a3.4 3.4 0 1 0 6.8 0a3.4 3.4 0 1 0 -6.8 0M1237.85 517.37a3.4 3.4 0 1 0 6.8 0a3.4 3.4 0 1 0 -6.8 0M1239.31 524.95a3.4 3.4 0 1 0 6.8 0a3.4 3.4 0 1 0 -6.8 0M1239.18 529.89a3.4 3.4 0 1 0 6.8 0a3.4 3.4 0 1 0 -6.8 0M1241.98 540.27a3.4 3.4 0 1 0 6.8 0a3.4 3.4 0 1 0 -6.8 0M1239.07 542.78a3.4 3.4 0 1 0 6.8 0a3.4 3.4 0 1 0 -6.8 0M1242.38 552.6a3.4 3.4 0 1 0 6.8 0a3.4 3.4 0 1 0 -6.8 0M1245.46 556.92a3.4 3.4 0 1 0 6.8 0a3.4 3.4 0 1 0 -6.8 0M1242.18 563.08a3.4 3.4 0 1 0 6.8 0a3.4 3.4 0 1 0 -6.8 0M1247.52 570.89a3.4 3.4 0 1 0 6.8 0a3.4 3.4 0 1 0 -6.8 0M1246.52 577.82a3.4 3.4 0 1 0 6.8 0a3.4 3.4 0 1 0 -6.8 0M1248.9 583.39a3.4 3.4 0 1 0 6.8 0a3.4 3.4 0 1 0 -6.8 0M1250.92 591.03a3.4 3.4 0 1 0 6.8 0a3.4 3.4 0 1 0 -6.8 0M1252.49 599.35a3.4 3.4 0 1 0 6.8 0a3.4 3.4 0 1 0 -6.8 0M1250.26 604.5a3.4 3.4 0 1 0 6.8 0a3.4 3.4 0 1 0 -6.8 0M1254.31 614.24a3.4 3.4 0 1 0 6.8 0a3.4 3.4 0 1 0 -6.8 0M1254.87 620.68a3.4 3.4 0 1 0 6.8 0a3.4 3.4 0 1 0 -6.8 0M1258.27 630.86a3.4 3.4 0 1 0 6.8 0a3.4 3.4 0 1 0 -6.8 0M1255.82 632.99a3.4 3.4 0 1 0 6.8 0a3.4 3.4 0 1 0 -6.8 0M1257.26 639.03a3.4 3.4 0 1 0 6.8 0a3.4 3.4 0 1 0 -6.8 0M1259.21 646.84a3.4 3.4 0 1 0 6.8 0a3.4 3.4 0 1 0 -6.8 0M1261.15 654.65a3.4 3.4 0 1 0 6.8 0a3.4 3.4 0 1 0 -6.8 0M1260.26 665.08a3.4 3.4 0 1 0 6.8 0a3.4 3.4 0 1 0 -6.8 0M1262.54 670a3.4 3.4 0 1 0 6.8 0a3.4 3.4 0 1 0 -6.8 0M1262.7 676.19a3.4 3.4 0 1 0 6.8 0a3.4 3.4 0 1 0 -6.8 0M1264.39 681.94a3.4 3.4 0 1 0 6.8 0a3.4 3.4 0 1 0 -6.8 0M1266.7 691.08a3.4 3.4 0 1 0 6.8 0a3.4 3.4 0 1 0 -6.8 0M1266.18 695.23a3.4 3.4 0 1 0 6.8 0a3.4 3.4 0 1 0 -6.8 0M1268.5 703.44a3.4 3.4 0 1 0 6.8 0a3.4 3.4 0 1 0 -6.8 0M1269.7 712.15a3.4 3.4 0 1 0 6.8 0a3.4 3.4 0 1 0 -6.8 0M1270.93 718.08a3.4 3.4 0 1 0 6.8 0a3.4 3.4 0 1 0 -6.8 0M1271.74 728.36a3.4 3.4 0 1 0 6.8 0a3.4 3.4 0 1 0 -6.8 0M1271.16 730.21a3.4 3.4 0 1 0 6.8 0a3.4 3.4 0 1 0 -6.8 0M1273.46 737.87a3.4 3.4 0 1 0 6.8 0a3.4 3.4 0 1 0 -6.8 0M1275.04 746.19a3.4 3.4 0 1 0 6.8 0a3.4 3.4 0 1 0 -6.8 0M1273.94 753.06a3.4 3.4 0 1 0 6.8 0a3.4 3.4 0 1 0 -6.8 0M1276.7 761.98a3.4 3.4 0 1 0 6.8 0a3.4 3.4 0 1 0 -6.8 0M1279.39 766.92a3.4 3.4 0 1 0 6.8 0a3.4 3.4 0 1 0 -6.8 0M1278.13 772.09a3.4 3.4 0 1 0 6.8 0a3.4 3.4 0 1 0 -6.8 0M1278.09 783.97a3.4 3.4 0 1 0 6.8 0a3.4 3.4 0 1 0 -6.8 0M1280.22 785.66a3.4 3.4 0 1 0 6.8 0a3.4 3.4 0 1 0 -6.8 0M1281.98 795.89a3.4 3.4 0 1 0 6.8 0a3.4 3.4 0 1 0 -6.8 0M1282.41 803.81a3.4 3.4 0 1 0 6.8 0a3.4 3.4 0 1 0 -6.8 0M1282.42 808.96a3.4 3.4 0 1 0 6.8 0a3.4 3.4 0 1 0 -6.8 0M1099.14 22.66a3.4 3.4 0 1 0 6.8 0a3.4 3.4 0 1 0 -6.8 0M1097.93 29.87a3.4 3.4 0 1 0 6.8 0a3.4 3.4 0 1 0 -6.8 0M1099.28 32.63a3.4 3.4 0 1 0 6.8 0a3.4 3.4 0 1 0 -6.8 0M1099.33 44.42a3.4 3.4 0 1 0 6.8 0a3.4 3.4 0 1 0 -6.8 0M1100.55 46.83a3.4 3.4 0 1 0 6.8 0a3.4 3.4 0 1 0 -6.8 0M1101.73 54.12a3.4 3.4 0 1 0 6.8 0a3.4 3.4 0 1 0 -6.8 0M1106.26 60.87a3.4 3.4 0 1 0 6.8 0a3.4 3.4 0 1 0 -6.8 0M1105.61 70.25a3.4 3.4 0 1 0 6.8 0a3.4 3.4 0 1 0 -6.8 0M1108.15 76.19a3.4 3.4 0 1 0 6.8 0a3.4 3.4 0 1 0 -6.8 0M1119.91 84.77a3.4 3.4 0 1 0 6.8 0a3.4 3.4 0 1 0 -6.8 0M1122.15 90.23a3.4 3.4 0 1 0 6.8 0a3.4 3.4 0 1 0 -6.8 0M1134.15 97.14a3.4 3.4 0 1 0 6.8 0a3.4 3.4 0 1 0 -6.8 0M1135.95 106.2a3.4 3.4 0 1 0 6.8 0a3.4 3.4 0 1 0 -6.8 0M1135.01 113.97a3.4 3.4 0 1 0 6.8 0a3.4 3.4 0 1 0 -6.8 0M1141.06 117.33a3.4 3.4 0 1 0 6.8 0a3.4 3.4 0 1 0 -6.8 0M1144.21 125.39a3.4 3.4 0 1 0 6.8 0a3.4 3.4 0 1 0 -6.8 0M1145.07 131.28a3.4 3.4 0 1 0 6.8 0a3.4 3.4 0 1 0 -6.8 0M1153.53 139.87a3.4 3.4 0 1 0 6.8 0a3.4 3.4 0 1 0 -6.8 0M1155.49 146.82a3.4 3.4 0 1 0 6.8 0a3.4 3.4 0 1 0 -6.8 0M1157.38 154.27a3.4 3.4 0 1 0 6.8 0a3.4 3.4 0 1 0 -6.8 0M1165.72 162.39a3.4 3.4 0 1 0 6.8 0a3.4 3.4 0 1 0 -6.8 0M1164.36 167.04a3.4 3.4 0 1 0 6.8 0a3.4 3.4 0 1 0 -6.8 0M1169.44 173.81a3.4 3.4 0 1 0 6.8 0a3.4 3.4 0 1 0 -6.8 0M1169.35 180.55a3.4 3.4 0 1 0 6.8 0a3.4 3.4 0 1 0 -6.8 0M1169.85 187.16a3.4 3.4 0 1 0 6.8 0a3.4 3.4 0 1 0 -6.8 0M1174.89 193.98a3.4 3.4 0 1 0 6.8 0a3.4 3.4 0 1 0 -6.8 0M1179.09 202.48a3.4 3.4 0 1 0 6.8 0a3.4 3.4 0 1 0 -6.8 0M1182.42 211.04a3.4 3.4 0 1 0 6.8 0a3.4 3.4 0 1 0 -6.8 0M1183.57 215.32a3.4 3.4 0 1 0 6.8 0a3.4 3.4 0 1 0 -6.8 0M1182.64 222.62a3.4 3.4 0 1 0 6.8 0a3.4 3.4 0 1 0 -6.8 0M1183.5 229.13a3.4 3.4 0 1 0 6.8 0a3.4 3.4 0 1 0 -6.8 0M1184.27 237.96a3.4 3.4 0 1 0 6.8 0a3.4 3.4 0 1 0 -6.8 0M1186.02 242.85a3.4 3.4 0 1 0 6.8 0a3.4 3.4 0 1 0 -6.8 0M1186.34 249.96a3.4 3.4 0 1 0 6.8 0a3.4 3.4 0 1 0 -6.8 0M1188.54 260.51a3.4 3.4 0 1 0 6.8 0a3.4 3.4 0 1 0 -6.8 0M1190.18 263.19a3.4 3.4 0 1 0 6.8 0a3.4 3.4 0 1 0 -6.8 0M1190.79 270.05a3.4 3.4 0 1 0 6.8 0a3.4 3.4 0 1 0 -6.8 0M1191.28 280.11a3.4 3.4 0 1 0 6.8 0a3.4 3.4 0 1 0 -6.8 0M1193.63 285.57a3.4 3.4 0 1 0 6.8 0a3.4 3.4 0 1 0 -6.8 0M1193.92 294.09a3.4 3.4 0 1 0 6.8 0a3.4 3.4 0 1 0 -6.8 0M1196.75 299.51a3.4 3.4 0 1 0 6.8 0a3.4 3.4 0 1 0 -6.8 0M1196.08 305.31a3.4 3.4 0 1 0 6.8 0a3.4 3.4 0 1 0 -6.8 0M1197.92 314.37a3.4 3.4 0 1 0 6.8 0a3.4 3.4 0 1 0 -6.8 0M1200.08 318.69a3.4 3.4 0 1 0 6.8 0a3.4 3.4 0 1 0 -6.8 0M1200.95 327.01a3.4 3.4 0 1 0 6.8 0a3.4 3.4 0 1 0 -6.8 0M1203.3 334.31a3.4 3.4 0 1 0 6.8 0a3.4 3.4 0 1 0 -6.8 0M1204.62 343.57a3.4 3.4 0 1 0 6.8 0a3.4 3.4 0 1 0 -6.8 0M1207.92 348.19a3.4 3.4 0 1 0 6.8 0a3.4 3.4 0 1 0 -6.8 0M1208.32 355.75a3.4 3.4 0 1 0 6.8 0a3.4 3.4 0 1 0 -6.8 0M1210.79 363.57a3.4 3.4 0 1 0 6.8 0a3.4 3.4 0 1 0 -6.8 0M1210.04 372.2a3.4 3.4 0 1 0 6.8 0a3.4 3.4 0 1 0 -6.8 0M1212.44 374.48a3.4 3.4 0 1 0 6.8 0a3.4 3.4 0 1 0 -6.8 0M1213.74 386.64a3.4 3.4 0 1 0 6.8 0a3.4 3.4 0 1 0 -6.8 0M1213.63 390.96a3.4 3.4 0 1 0 6.8 0a3.4 3.4 0 1 0 -6.8 0M1216.21 398.93a3.4 3.4 0 1 0 6.8 0a3.4 3.4 0 1 0 -6.8 0M1216.8 407.42a3.4 3.4 0 1 0 6.8 0a3.4 3.4 0 1 0 -6.8 0M1220.09 412.95a3.4 3.4 0 1 0 6.8 0a3.4 3.4 0 1 0 -6.8 0M1219.98 417.01a3.4 3.4 0 1 0 6.8 0a3.4 3.4 0 1 0 -6.8 0M1219.54 423.3a3.4 3.4 0 1 0 6.8 0a3.4 3.4 0 1 0 -6.8 0M1222.61 433.96a3.4 3.4 0 1 0 6.8 0a3.4 3.4 0 1 0 -6.8 0M1223.55 441.03a3.4 3.4 0 1 0 6.8 0a3.4 3.4 0 1 0 -6.8 0M1222.6 444.11a3.4 3.4 0 1 0 6.8 0a3.4 3.4 0 1 0 -6.8 0M1225.97 452.3a3.4 3.4 0 1 0 6.8 0a3.4 3.4 0 1 0 -6.8 0M1226.32 460.52a3.4 3.4 0 1 0 6.8 0a3.4 3.4 0 1 0 -6.8 0M1230.16 470.64a3.4 3.4 0 1 0 6.8 0a3.4 3.4 0 1 0 -6.8 0M1230.5 474.18a3.4 3.4 0 1 0 6.8 0a3.4 3.4 0 1 0 -6.8 0M1231.04 479.01a3.4 3.4 0 1 0 6.8 0a3.4 3.4 0 1 0 -6.8 0M1232.02 486a3.4 3.4 0 1 0 6.8 0a3.4 3.4 0 1 0 -6.8 0M1232.64 498a3.4 3.4 0 1 0 6.8 0a3.4 3.4 0 1 0 -6.8 0M1235.74 501.39a3.4 3.4 0 1 0 6.8 0a3.4 3.4 0 1 0 -6.8 0M1236.25 508.06a3.4 3.4 0 1 0 6.8 0a3.4 3.4 0 1 0 -6.8 0M1236.41 516.33a3.4 3.4 0 1 0 6.8 0a3.4 3.4 0 1 0 -6.8 0M1238.13 524.7a3.4 3.4 0 1 0 6.8 0a3.4 3.4 0 1 0 -6.8 0M1238.97 532.75a3.4 3.4 0 1 0 6.8 0a3.4 3.4 0 1 0 -6.8 0M1240.01 539.09a3.4 3.4 0 1 0 6.8 0a3.4 3.4 0 1 0 -6.8 0M1241.77 543.76a3.4 3.4 0 1 0 6.8 0a3.4 3.4 0 1 0 -6.8 0M1242.27 549.69a3.4 3.4 0 1 0 6.8 0a3.4 3.4 0 1 0 -6.8 0M1242.12 556.33a3.4 3.4 0 1 0 6.8 0a3.4 3.4 0 1 0 -6.8 0M1246.15 563.67a3.4 3.4 0 1 0 6.8 0a3.4 3.4 0 1 0 -6.8 0M1245.89 569.8a3.4 3.4 0 1 0 6.8 0a3.4 3.4 0 1 0 -6.8 0M1247.26 578.6a3.4 3.4 0 1 0 6.8 0a3.4 3.4 0 1 0 -6.8 0M1250.01 588.22a3.4 3.4 0 1 0 6.8 0a3.4 3.4 0 1 0 -6.8 0M1249.18 592.33a3.4 3.4 0 1 0 6.8 0a3.4 3.4 0 1 0 -6.8 0M1249.71 597.97a3.4 3.4 0 1 0 6.8 0a3.4 3.4 0 1 0 -6.8 0M1252.31 606.55a3.4 3.4 0 1 0 6.8 0a3.4 3.4 0 1 0 -6.8 0M1251.81 613.2a3.4 3.4 0 1 0 6.8 0a3.4 3.4 0 1 0 -6.8 0M1255.31 621.25a3.4 3.4 0 1 0 6.8 0a3.4 3.4 0 1 0 -6.8 0M1254.06 625.24a3.4 3.4 0 1 0 6.8 0a3.4 3.4 0 1 0 -6.8 0M1255.51 632.32a3.4 3.4 0 1 0 6.8 0a3.4 3.4 0 1 0 -6.8 0M1257.4 642.79a3.4 3.4 0 1 0 6.8 0a3.4 3.4 0 1 0 -6.8 0M1258.61 650.09a3.4 3.4 0 1 0 6.8 0a3.4 3.4 0 1 0 -6.8 0M1259.7 656.66a3.4 3.4 0 1 0 6.8 0a3.4 3.4 0 1 0 -6.8 0M1263.29 664.11a3.4 3.4 0 1 0 6.8 0a3.4 3.4 0 1 0 -6.8 0M1261.61 667.78a3.4 3.4 0 1 0 6.8 0a3.4 3.4 0 1 0 -6.8 0M1262.14 678.79a3.4 3.4 0 1 0 6.8 0a3.4 3.4 0 1 0 -6.8 0M1264.54 683.12a3.4 3.4 0 1 0 6.8 0a3.4 3.4 0 1 0 -6.8 0M1265.34 691.78a3.4 3.4 0 1 0 6.8 0a3.4 3.4 0 1 0 -6.8 0M1266.8 698.27a3.4 3.4 0 1 0 6.8 0a3.4 3.4 0 1 0 -6.8 0M1268.03 703.26a3.4 3.4 0 1 0 6.8 0a3.4 3.4 0 1 0 -6.8 0M1269.02 710.34a3.4 3.4 0 1 0 6.8 0a3.4 3.4 0 1 0 -6.8 0M1270.45 721.39a3.4 3.4 0 1 0 6.8 0a3.4 3.4 0 1 0 -6.8 0M1270.1 723.36a3.4 3.4 0 1 0 6.8 0a3.4 3.4 0 1 0 -6.8 0M1271.84 734.36a3.4 3.4 0 1 0 6.8 0a3.4 3.4 0 1 0 -6.8 0M1272.94 737.21a3.4 3.4 0 1 0 6.8 0a3.4 3.4 0 1 0 -6.8 0M1273.09 745.25a3.4 3.4 0 1 0 6.8 0a3.4 3.4 0 1 0 -6.8 0M1274.86 755.86a3.4 3.4 0 1 0 6.8 0a3.4 3.4 0 1 0 -6.8 0M1276.32 761.44a3.4 3.4 0 1 0 6.8 0a3.4 3.4 0 1 0 -6.8 0M1277.82 768.96a3.4 3.4 0 1 0 6.8 0a3.4 3.4 0 1 0 -6.8 0M1277.26 772.72a3.4 3.4 0 1 0 6.8 0a3.4 3.4 0 1 0 -6.8 0M1279.64 783.34a3.4 3.4 0 1 0 6.8 0a3.4 3.4 0 1 0 -6.8 0M1281.37 789.68a3.4 3.4 0 1 0 6.8 0a3.4 3.4 0 1 0 -6.8 0M1279.78 792.73a3.4 3.4 0 1 0 6.8 0a3.4 3.4 0 1 0 -6.8 0M1283.67 803.99a3.4 3.4 0 1 0 6.8 0a3.4 3.4 0 1 0 -6.8 0M1282.37 806.42a3.4 3.4 0 1 0 6.8 0a3.4 3.4 0 1 0 -6.8 0M1097.34 21.83a3.4 3.4 0 1 0 6.8 0a3.4 3.4 0 1 0 -6.8 0M1099.05 28.5a3.4 3.4 0 1 0 6.8 0a3.4 3.4 0 1 0 -6.8 0M1098.28 35.31a3.4 3.4 0 1 0 6.8 0a3.4 3.4 0 1 0 -6.8 0M1100.15 44a3.4 3.4 0 1 0 6.8 0a3.4 3.4 0 1 0 -6.8 0M1099.72 47.49a3.4 3.4 0 1 0 6.8 0a3.4 3.4 0 1 0 -6.8 0M1104.11 57.66a3.4 3.4 0 1 0 6.8 0a3.4 3.4 0 1 0 -6.8 0M1107.78 66.17a3.4 3.4 0 1 0 6.8 0a3.4 3.4 0 1 0 -6.8 0M1106.83 70.11a3.4 3.4 0 1 0 6.8 0a3.4 3.4 0 1 0 -6.8 0M1119.39 78.69a3.4 3.4 0 1 0 6.8 0a3.4 3.4 0 1 0 -6.8 0M1118.42 85.69a3.4 3.4 0 1 0 6.8 0a3.4 3.4 0 1 0 -6.8 0M1120.42 89.8a3.4 3.4 0 1 0 6.8 0a3.4 3.4 0 1 0 -6.8 0M1128.78 95.62a3.4 3.4 0 1 0 6.8 0a3.4 3.4 0 1 0 -6.8 0M1136.82 104.44a3.4 3.4 0 1 0 6.8 0a3.4 3.4 0 1 0 -6.8 0M1137.83 113.34a3.4 3.4 0 1 0 6.8 0a3.4 3.4 0 1 0 -6.8 0M1143.03 119.59a3.4 3.4 0 1 0 6.8 0a3.4 3.4 0 1 0 -6.8 0M1142.51 123.7a3.4 3.4 0 1 0 6.8 0a3.4 3.4 0 1 0 -6.8 0M1150.8 134.66a3.4 3.4 0 1 0 6.8 0a3.4 3.4 0 1 0 -6.8 0M1155.16 142.17a3.4 3.4 0 1 0 6.8 0a3.4 3.4 0 1 0 -6.8 0M1156.41 145.53a3.4 3.4 0 1 0 6.8 0a3.4 3.4 0 1 0 -6.8 0M1164.43 156.23a3.4 3.4 0 1 0 6.8 0a3.4 3.4 0 1 0 -6.8 0M1161.2 159.05a3.4 3.4 0 1 0 6.8 0a3.4 3.4 0 1 0 -6.8 0M1163.46 165.61a3.4 3.4 0 1 0 6.8 0a3.4 3.4 0 1 0 -6.8 0M1168.78 175.04a3.4 3.4 0 1 0 6.8 0a3.4 3.4 0 1 0 -6.8 0M1169.04 182.27a3.4 3.4 0 1 0 6.8 0a3.4 3.4 0 1 0 -6.8 0M1171.06 186.35a3.4 3.4 0 1 0 6.8 0a3.4 3.4 0 1 0 -6.8 0M1174.27 192.98a3.4 3.4 0 1 0 6.8 0a3.4 3.4 0 1 0 -6.8 0M1173.59 199.9a3.4 3.4 0 1 0 6.8 0a3.4 3.4 0 1 0 -6.8 0M1179.18 211.1a3.4 3.4 0 1 0 6.8 0a3.4 3.4 0 1 0 -6.8 0M1180.44 214.79a3.4 3.4 0 1 0 6.8 0a3.4 3.4 0 1 0 -6.8 0M1181.45 223.13a3.4 3.4 0 1 0 6.8 0a3.4 3.4 0 1 0 -6.8 0M1183.7 232.8a3.4 3.4 0 1 0 6.8 0a3.4 3.4 0 1 0 -6.8 0M1184.49 235.2a3.4 3.4 0 1 0 6.8 0a3.4 3.4 0 1 0 -6.8 0M1185.51 244.18a3.4 3.4 0 1 0 6.8 0a3.4 3.4 0 1 0 -6.8 0M1187.9 253.08a3.4 3.4 0 1 0 6.8 0a3.4 3.4 0 1 0 -6.8 0M1188.07 259.05a3.4 3.4 0 1 0 6.8 0a3.4 3.4 0 1 0 -6.8 0M1189.48 263.85a3.4 3.4 0 1 0 6.8 0a3.4 3.4 0 1 0 -6.8 0M1190.45 274.15a3.4 3.4 0 1 0 6.8 0a3.4 3.4 0 1 0 -6.8 0M1191.66 281.35a3.4 3.4 0 1 0 6.8 0a3.4 3.4 0 1 0 -6.8 0M1191.5 289.4a3.4 3.4 0 1 0 6.8 0a3.4 3.4 0 1 0 -6.8 0M1195.62 295.43a3.4 3.4 0 1 0 6.8 0a3.4 3.4 0 1 0 -6.8 0M1194.96 298.48a3.4 3.4 0 1 0 6.8 0a3.4 3.4 0 1 0 -6.8 0M1195.42 304.37a3.4 3.4 0 1 0 6.8 0a3.4 3.4 0 1 0 -6.8 0M1198.27 314.79a3.4 3.4 0 1 0 6.8 0a3.4 3.4 0 1 0 -6.8 0M1198.99 319.42a3.4 3.4 0 1 0 6.8 0a3.4 3.4 0 1 0 -6.8 0M1203.11 326.8a3.4 3.4 0 1 0 6.8 0a3.4 3.4 0 1 0 -6.8 0M1202.5 332.93a3.4 3.4 0 1 0 6.8 0a3.4 3.4 0 1 0 -6.8 0M1204.27 339.62a3.4 3.4 0 1 0 6.8 0a3.4 3.4 0 1 0 -6.8 0M1207.07 347.43a3.4 3.4 0 1 0 6.8 0a3.4 3.4 0 1 0 -6.8 0M1208.5 356.42a3.4 3.4 0 1 0 6.8 0a3.4 3.4 0 1 0 -6.8 0M1208.84 360.34a3.4 3.4 0 1 0 6.8 0a3.4 3.4 0 1 0 -6.8 0M1210.77 371.63a3.4 3.4 0 1 0 6.8 0a3.4 3.4 0 1 0 -6.8 0M1211.52 376.92a3.4 3.4 0 1 0 6.8 0a3.4 3.4 0 1 0 -6.8 0M1212.5 383.71a3.4 3.4 0 1 0 6.8 0a3.4 3.4 0 1 0 -6.8 0M1213.16 388.86a3.4 3.4 0 1 0 6.8 0a3.4 3.4 0 1 0 -6.8 0M1215.76 397.77a3.4 3.4 0 1 0 6.8 0a3.4 3.4 0 1 0 -6.8 0M1218.51 403.6a3.4 3.4 0 1 0 6.8 0a3.4 3.4 0 1 0 -6.8 0M1218.77 410.43a3.4 3.4 0 1 0 6.8 0a3.4 3.4 0 1 0 -6.8 0M1219.67 421.83a3.4 3.4 0 1 0 6.8 0a3.4 3.4 0 1 0 -6.8 0M1221.29 425.61a3.4 3.4 0 1 0 6.8 0a3.4 3.4 0 1 0 -6.8 0M1223.24 431.13a3.4 3.4 0 1 0 6.8 0a3.4 3.4 0 1 0 -6.8 0M1223.65 441.64a3.4 3.4 0 1 0 6.8 0a3.4 3.4 0 1 0 -6.8 0M1224.03 447.48a3.4 3.4 0 1 0 6.8 0a3.4 3.4 0 1 0 -6.8 0M1225.76 455.46a3.4 3.4 0 1 0 6.8 0a3.4 3.4 0 1 0 -6.8 0M1228.13 459.63a3.4 3.4 0 1 0 6.8 0a3.4 3.4 0 1 0 -6.8 0M1227.8 465.2a3.4 3.4 0 1 0 6.8 0a3.4 3.4 0 1 0 -6.8 0M1229.87 476.96a3.4 3.4 0 1 0 6.8 0a3.4 3.4 0 1 0 -6.8 0M1229.15 479.17a3.4 3.4 0 1 0 6.8 0a3.4 3.4 0 1 0 -6.8 0M1232.69 486.77a3.4 3.4 0 1 0 6.8 0a3.4 3.4 0 1 0 -6.8 0M1233.09 494a3.4 3.4 0 1 0 6.8 0a3.4 3.4 0 1 0 -6.8 0M1233.45 504.02a3.4 3.4 0 1 0 6.8 0a3.4 3.4 0 1 0 -6.8 0M1235.32 506.55a3.4 3.4 0 1 0 6.8 0a3.4 3.4 0 1 0 -6.8 0M1238.48 519.43a3.4 3.4 0 1 0 6.8 0a3.4 3.4 0 1 0 -6.8 0M1237.12 522.57a3.4 3.4 0 1 0 6.8 0a3.4 3.4 0 1 0 -6.8 0M1238.75 531.33a3.4 3.4 0 1 0 6.8 0a3.4 3.4 0 1 0 -6.8 0M1239.32 537.71a3.4 3.4 0 1 0 6.8 0a3.4 3.4 0 1 0 -6.8 0M1238.95 541.51a3.4 3.4 0 1 0 6.8 0a3.4 3.4 0 1 0 -6.8 0M1242.56 551.64a3.4 3.4 0 1 0 6.8 0a3.4 3.4 0 1 0 -6.8 0M1243.03 561.08a3.4 3.4 0 1 0 6.8 0a3.4 3.4 0 1 0 -6.8 0M1245.72 567.95a3.4 3.4 0 1 0 6.8 0a3.4 3.4 0 1 0 -6.8 0M1244.66 573.76a3.4 3.4 0 1 0 6.8 0a3.4 3.4 0 1 0 -6.8 0M1247.02 577.68a3.4 3.4 0 1 0 6.8 0a3.4 3.4 0 1 0 -6.8 0M1248.29 588.5a3.4 3.4 0 1 0 6.8 0a3.4 3.4 0 1 0 -6.8 0M1248.43 591.59a3.4 3.4 0 1 0 6.8 0a3.4 3.4 0 1 0 -6.8 0M1250.7 601.41a3.4 3.4 0 1 0 6.8 0a3.4 3.4 0 1 0 -6.8 0M1251.67 608.16a3.4 3.4 0 1 0 6.8 0a3.4 3.4 0 1 0 -6.8 0M1253.05 611.97a3.4 3.4 0 1 0 6.8 0a3.4 3.4 0 1 0 -6.8 0M1252.83 623.28a3.4 3.4 0 1 0 6.8 0a3.4 3.4 0 1 0 -6.8 0M1253.44 630.59a3.4 3.4 0 1 0 6.8 0a3.4 3.4 0 1 0 -6.8 0M1255.81 635.92a3.4 3.4 0 1 0 6.8 0a3.4 3.4 0 1 0 -6.8 0M1256.95 644.47a3.4 3.4 0 1 0 6.8 0a3.4 3.4 0 1 0 -6.8 0M1257.91 651.5a3.4 3.4 0 1 0 6.8 0a3.4 3.4 0 1 0 -6.8 0M1259.19 654.75a3.4 3.4 0 1 0 6.8 0a3.4 3.4 0 1 0 -6.8 0M1260.82 661.76a3.4 3.4 0 1 0 6.8 0a3.4 3.4 0 1 0 -6.8 0M1261.55 671.52a3.4 3.4 0 1 0 6.8 0a3.4 3.4 0 1 0 -6.8 0M1263.46 677.01a3.4 3.4 0 1 0 6.8 0a3.4 3.4 0 1 0 -6.8 0M1264.25 685.27a3.4 3.4 0 1 0 6.8 0a3.4 3.4 0 1 0 -6.8 0M1265.11 688.86a3.4 3.4 0 1 0 6.8 0a3.4 3.4 0 1 0 -6.8 0M1266.39 696.79a3.4 3.4 0 1 0 6.8 0a3.4 3.4 0 1 0 -6.8 0M1266.4 704.47a3.4 3.4 0 1 0 6.8 0a3.4 3.4 0 1 0 -6.8 0M1266.98 709.21a3.4 3.4 0 1 0 6.8 0a3.4 3.4 0 1 0 -6.8 0M1267.42 716.02a3.4 3.4 0 1 0 6.8 0a3.4 3.4 0 1 0 -6.8 0M1269.32 723.83a3.4 3.4 0 1 0 6.8 0a3.4 3.4 0 1 0 -6.8 0M1270.19 729.8a3.4 3.4 0 1 0 6.8 0a3.4 3.4 0 1 0 -6.8 0M1271.19 739.88a3.4 3.4 0 1 0 6.8 0a3.4 3.4 0 1 0 -6.8 0M1273.22 744.75a3.4 3.4 0 1 0 6.8 0a3.4 3.4 0 1 0 -6.8 0M1273.63 750.66a3.4 3.4 0 1 0 6.8 0a3.4 3.4 0 1 0 -6.8 0M1275.18 758.18a3.4 3.4 0 1 0 6.8 0a3.4 3.4 0 1 0 -6.8 0M1276.79 769.57a3.4 3.4 0 1 0 6.8 0a3.4 3.4 0 1 0 -6.8 0M1275.57 776.04a3.4 3.4 0 1 0 6.8 0a3.4 3.4 0 1 0 -6.8 0M1277.32 784.02a3.4 3.4 0 1 0 6.8 0a3.4 3.4 0 1 0 -6.8 0M1278.31 790.49a3.4 3.4 0 1 0 6.8 0a3.4 3.4 0 1 0 -6.8 0M1281.02 796.32a3.4 3.4 0 1 0 6.8 0a3.4 3.4 0 1 0 -6.8 0M1281.09 803.86a3.4 3.4 0 1 0 6.8 0a3.4 3.4 0 1 0 -6.8 0M1281.45 812.31a3.4 3.4 0 1 0 6.8 0a3.4 3.4 0 1 0 -6.8 0M1098.42 22.39a3.4 3.4 0 1 0 6.8 0a3.4 3.4 0 1 0 -6.8 0M1098.87 31.41a3.4 3.4 0 1 0 6.8 0a3.4 3.4 0 1 0 -6.8 0M1100.77 34.14a3.4 3.4 0 1 0 6.8 0a3.4 3.4 0 1 0 -6.8 0M1100.59 43.4a3.4 3.4 0 1 0 6.8 0a3.4 3.4 0 1 0 -6.8 0M1102.96 52.22a3.4 3.4 0 1 0 6.8 0a3.4 3.4 0 1 0 -6.8 0M1101.56 56.23a3.4 3.4 0 1 0 6.8 0a3.4 3.4 0 1 0 -6.8 0M1103.3 62.38a3.4 3.4 0 1 0 6.8 0a3.4 3.4 0 1 0 -6.8 0M1110.07 70.79a3.4 3.4 0 1 0 6.8 0a3.4 3.4 0 1 0 -6.8 0M1110.25 76.71a3.4 3.4 0 1 0 6.8 0a3.4 3.4 0 1 0 -6.8 0M1121.11 87a3.4 3.4 0 1 0 6.8 0a3.4 3.4 0 1 0 -6.8 0M1122.23 88.59a3.4 3.4 0 1 0 6.8 0a3.4 3.4 0 1 0 -6.8 0M1130.75 100.11a3.4 3.4 0 1 0 6.8 0a3.4 3.4 0 1 0 -6.8 0M1133.51 107.27a3.4 3.4 0 1 0 6.8 0a3.4 3.4 0 1 0 -6.8 0M1141.49 111.51a3.4 3.4 0 1 0 6.8 0a3.4 3.4 0 1 0 -6.8 0M1142.87 116.65a3.4 3.4 0 1 0 6.8 0a3.4 3.4 0 1 0 -6.8 0M1148 128.36a3.4 3.4 0 1 0 6.8 0a3.4 3.4 0 1 0 -6.8 0M1152.67 135.47a3.4 3.4 0 1 0 6.8 0a3.4 3.4 0 1 0 -6.8 0M1153.82 140.92a3.4 3.4 0 1 0 6.8 0a3.4 3.4 0 1 0 -6.8 0M1155.98 145.91a3.4 3.4 0 1 0 6.8 0a3.4 3.4 0 1 0 -6.8 0M1159 155.33a3.4 3.4 0 1 0 6.8 0a3.4 3.4 0 1 0 -6.8 0M1164.73 162.65a3.4 3.4 0 1 0 6.8 0a3.4 3.4 0 1 0 -6.8 0M1169.27 167.92a3.4 3.4 0 1 0 6.8 0a3.4 3.4 0 1 0 -6.8 0M1165.98 173.1a3.4 3.4 0 1 0 6.8 0a3.4 3.4 0 1 0 -6.8 0M1169.24 179.62a3.4 3.4 0 1 0 6.8 0a3.4 3.4 0 1 0 -6.8 0M1173.28 191.27a3.4 3.4 0 1 0 6.8 0a3.4 3.4 0 1 0 -6.8 0M1176.85 196.01a3.4 3.4 0 1 0 6.8 0a3.4 3.4 0 1 0 -6.8 0M1177.8 201.87a3.4 3.4 0 1 0 6.8 0a3.4 3.4 0 1 0 -6.8 0M1179.42 210.36a3.4 3.4 0 1 0 6.8 0a3.4 3.4 0 1 0 -6.8 0M1182.42 216.45a3.4 3.4 0 1 0 6.8 0a3.4 3.4 0 1 0 -6.8 0M1183.98 224.56a3.4 3.4 0 1 0 6.8 0a3.4 3.4 0 1 0 -6.8 0M1185.41 228.58a3.4 3.4 0 1 0 6.8 0a3.4 3.4 0 1 0 -6.8 0M1184.84 236.06a3.4 3.4 0 1 0 6.8 0a3.4 3.4 0 1 0 -6.8 0M1188.18 247.01a3.4 3.4 0 1 0 6.8 0a3.4 3.4 0 1 0 -6.8 0M1189.39 251.89a3.4 3.4 0 1 0 6.8 0a3.4 3.4 0 1 0 -6.8 0M1189.68 261.14a3.4 3.4 0 1 0 6.8 0a3.4 3.4 0 1 0 -6.8 0M1191.14 268.08a3.4 3.4 0 1 0 6.8 0a3.4 3.4 0 1 0 -6.8 0M1193 271.42a3.4 3.4 0 1 0 6.8 0a3.4 3.4 0 1 0 -6.8 0M1192.94 277.61a3.4 3.4 0 1 0 6.8 0a3.4 3.4 0 1 0 -6.8 0M1195.73 287.52a3.4 3.4 0 1 0 6.8 0a3.4 3.4 0 1 0 -6.8 0M1194.68 295.52a3.4 3.4 0 1 0 6.8 0a3.4 3.4 0 1 0 -6.8 0M1195.76 297.72a3.4 3.4 0 1 0 6.8 0a3.4 3.4 0 1 0 -6.8 0M1196.3 306.37a3.4 3.4 0 1 0 6.8 0a3.4 3.4 0 1 0 -6.8 0M1199.14 315.71a3.4 3.4 0 1 0 6.8 0a3.4 3.4 0 1 0 -6.8 0M1201.57 321.74a3.4 3.4 0 1 0 6.8 0a3.4 3.4 0 1 0 -6.8 0M1200.85 326.21a3.4 3.4 0 1 0 6.8 0a3.4 3.4 0 1 0 -6.8 0M1205.04 333.82a3.4 3.4 0 1 0 6.8 0a3.4 3.4 0 1 0 -6.8 0M1207.8 339.46a3.4 3.4 0 1 0 6.8 0a3.4 3.4 0 1 0 -6.8 0M1206.64 351.68a3.4 3.4 0 1 0 6.8 0a3.4 3.4 0 1 0 -6.8 0M1208.46 358.99a3.4 3.4 0 1 0 6.8 0a3.4 3.4 0 1 0 -6.8 0M1209.9 362.7a3.4 3.4 0 1 0 6.8 0a3.4 3.4 0 1 0 -6.8 0M1212.84 367.43a3.4 3.4 0 1 0 6.8 0a3.4 3.4 0 1 0 -6.8 0M1212.7 374.68a3.4 3.4 0 1 0 6.8 0a3.4 3.4 0 1 0 -6.8 0M1213.39 382.26a3.4 3.4 0 1 0 6.8 0a3.4 3.4 0 1 0 -6.8 0M1217.82 393.69a3.4 3.4 0 1 0 6.8 0a3.4 3.4 0 1 0 -6.8 0M1217.42 398.26a3.4 3.4 0 1 0 6.8 0a3.4 3.4 0 1 0 -6.8 0M1220.14 407.67a3.4 3.4 0 1 0 6.8 0a3.4 3.4 0 1 0 -6.8 0M1220.46 413.17a3.4 3.4 0 1 0 6.8 0a3.4 3.4 0 1 0 -6.8 0M1222.29 419.65a3.4 3.4 0 1 0 6.8 0a3.4 3.4 0 1 0 -6.8 0M1222.28 425.86a3.4 3.4 0 1 0 6.8 0a3.4 3.4 0 1 0 -6.8 0M1224.66 430.57a3.4 3.4 0 1 0 6.8 0a3.4 3.4 0 1 0 -6.8 0M1225.47 437.69a3.4 3.4 0 1 0 6.8 0a3.4 3.4 0 1 0 -6.8 0M1224.19 446.97a3.4 3.4 0 1 0 6.8 0a3.4 3.4 0 1 0 -6.8 0M1226.69 455.96a3.4 3.4 0 1 0 6.8 0a3.4 3.4 0 1 0 -6.8 0M1228.84 458.73a3.4 3.4 0 1 0 6.8 0a3.4 3.4 0 1 0 -6.8 0M1229.95 469.13a3.4 3.4 0 1 0 6.8 0a3.4 3.4 0 1 0 -6.8 0M1228.83 473.53a3.4 3.4 0 1 0 6.8 0a3.4 3.4 0 1 0 -6.8 0M1231.04 480.34a3.4 3.4 0 1 0 6.8 0a3.4 3.4 0 1 0 -6.8 0M1235.16 490.1a3.4 3.4 0 1 0 6.8 0a3.4 3.4 0 1 0 -6.8 0M1233.63 494.85a3.4 3.4 0 1 0 6.8 0a3.4 3.4 0 1 0 -6.8 0M1236.26 504.06a3.4 3.4 0 1 0 6.8 0a3.4 3.4 0 1 0 -6.8 0M1237.03 510.97a3.4 3.4 0 1 0 6.8 0a3.4 3.4 0 1 0 -6.8 0M1238.05 514.81a3.4 3.4 0 1 0 6.8 0a3.4 3.4 0 1 0 -6.8 0M1237.39 522.32a3.4 3.4 0 1 0 6.8 0a3.4 3.4 0 1 0 -6.8 0M1238.52 529.54a3.4 3.4 0 1 0 6.8 0a3.4 3.4 0 1 0 -6.8 0M1239.97 540.34a3.4 3.4 0 1 0 6.8 0a3.4 3.4 0 1 0 -6.8 0M1241.09 542.74a3.4 3.4 0 1 0 6.8 0a3.4 3.4 0 1 0 -6.8 0M1242.68 552.76a3.4 3.4 0 1 0 6.8 0a3.4 3.4 0 1 0 -6.8 0M1243.29 557.2a3.4 3.4 0 1 0 6.8 0a3.4 3.4 0 1 0 -6.8 0M1246.69 567.17a3.4 3.4 0 1 0 6.8 0a3.4 3.4 0 1 0 -6.8 0M1246.9 574.32a3.4 3.4 0 1 0 6.8 0a3.4 3.4 0 1 0 -6.8 0M1247.86 578.66a3.4 3.4 0 1 0 6.8 0a3.4 3.4 0 1 0 -6.8 0M1250.48 587.41a3.4 3.4 0 1 0 6.8 0a3.4 3.4 0 1 0 -6.8 0M1251.09 595.78a3.4 3.4 0 1 0 6.8 0a3.4 3.4 0 1 0 -6.8 0M1251.59 601.82a3.4 3.4 0 1 0 6.8 0a3.4 3.4 0 1 0 -6.8 0M1252.22 608.02a3.4 3.4 0 1 0 6.8 0a3.4 3.4 0 1 0 -6.8 0M1255.03 614.6a3.4 3.4 0 1 0 6.8 0a3.4 3.4 0 1 0 -6.8 0M1255.52 623.1a3.4 3.4 0 1 0 6.8 0a3.4 3.4 0 1 0 -6.8 0M1254.74 625.59a3.4 3.4 0 1 0 6.8 0a3.4 3.4 0 1 0 -6.8 0M1256.15 634.55a3.4 3.4 0 1 0 6.8 0a3.4 3.4 0 1 0 -6.8 0M1257.63 639.61a3.4 3.4 0 1 0 6.8 0a3.4 3.4 0 1 0 -6.8 0M1260.53 647.21a3.4 3.4 0 1 0 6.8 0a3.4 3.4 0 1 0 -6.8 0M1260.15 653.38a3.4 3.4 0 1 0 6.8 0a3.4 3.4 0 1 0 -6.8 0M1262.07 665.12a3.4 3.4 0 1 0 6.8 0a3.4 3.4 0 1 0 -6.8 0M1262.82 667.11a3.4 3.4 0 1 0 6.8 0a3.4 3.4 0 1 0 -6.8 0M1262.75 677.51a3.4 3.4 0 1 0 6.8 0a3.4 3.4 0 1 0 -6.8 0M1265.53 685.89a3.4 3.4 0 1 0 6.8 0a3.4 3.4 0 1 0 -6.8 0M1265.9 688.86a3.4 3.4 0 1 0 6.8 0a3.4 3.4 0 1 0 -6.8 0M1268.34 696.89a3.4 3.4 0 1 0 6.8 0a3.4 3.4 0 1 0 -6.8 0M1268.84 707.71a3.4 3.4 0 1 0 6.8 0a3.4 3.4 0 1 0 -6.8 0M1270.17 709.11a3.4 3.4 0 1 0 6.8 0a3.4 3.4 0 1 0 -6.8 0M1270.12 718.06a3.4 3.4 0 1 0 6.8 0a3.4 3.4 0 1 0 -6.8 0M1272.75 724.77a3.4 3.4 0 1 0 6.8 0a3.4 3.4 0 1 0 -6.8 0M1273.68 732.49a3.4 3.4 0 1 0 6.8 0a3.4 3.4 0 1 0 -6.8 0M1272.97 738.44a3.4 3.4 0 1 0 6.8 0a3.4 3.4 0 1 0 -6.8 0M1273.03 744.26a3.4 3.4 0 1 0 6.8 0a3.4 3.4 0 1 0 -6.8 0M1274.54 751.16a3.4 3.4 0 1 0 6.8 0a3.4 3.4 0 1 0 -6.8 0M1275.86 762.1a3.4 3.4 0 1 0 6.8 0a3.4 3.4 0 1 0 -6.8 0M1277.85 766.28a3.4 3.4 0 1 0 6.8 0a3.4 3.4 0 1 0 -6.8 0M1279.08 774.42a3.4 3.4 0 1 0 6.8 0a3.4 3.4 0 1 0 -6.8 0M1280.09 783.34a3.4 3.4 0 1 0 6.8 0a3.4 3.4 0 1 0 -6.8 0M1281.32 786.62a3.4 3.4 0 1 0 6.8 0a3.4 3.4 0 1 0 -6.8 0M1282.21 797.11a3.4 3.4 0 1 0 6.8 0a3.4 3.4 0 1 0 -6.8 0M1283.48 804.48a3.4 3.4 0 1 0 6.8 0a3.4 3.4 0 1 0 -6.8 0M1282.99 810.23a3.4 3.4 0 1 0 6.8 0a3.4 3.4 0 1 0 -6.8 0M1097.77 24.38a3.4 3.4 0 1 0 6.8 0a3.4 3.4 0 1 0 -6.8 0M1100.66 25.76a3.4 3.4 0 1 0 6.8 0a3.4 3.4 0 1 0 -6.8 0M1102.09 34.24a3.4 3.4 0 1 0 6.8 0a3.4 3.4 0 1 0 -6.8 0M1099.27 40.19a3.4 3.4 0 1 0 6.8 0a3.4 3.4 0 1 0 -6.8 0M1099.99 46.5a3.4 3.4 0 1 0 6.8 0a3.4 3.4 0 1 0 -6.8 0M1103.97 59.26a3.4 3.4 0 1 0 6.8 0a3.4 3.4 0 1 0 -6.8 0M1105.14 61.61a3.4 3.4 0 1 0 6.8 0a3.4 3.4 0 1 0 -6.8 0M1106.74 69.06a3.4 3.4 0 1 0 6.8 0a3.4 3.4 0 1 0 -6.8 0M1119.12 80.07a3.4 3.4 0 1 0 6.8 0a3.4 3.4 0 1 0 -6.8 0M1119.2 84.7a3.4 3.4 0 1 0 6.8 0a3.4 3.4 0 1 0 -6.8 0M1122.69 91.46a3.4 3.4 0 1 0 6.8 0a3.4 3.4 0 1 0 -6.8 0M1128.55 96.07a3.4 3.4 0 1 0 6.8 0a3.4 3.4 0 1 0 -6.8 0M1138.91 107.71a3.4 3.4 0 1 0 6.8 0a3.4 3.4 0 1 0 -6.8 0M1139.35 113.83a3.4 3.4 0 1 0 6.8 0a3.4 3.4 0 1 0 -6.8 0M1142.41 117.23a3.4 3.4 0 1 0 6.8 0a3.4 3.4 0 1 0 -6.8 0M1147.61 125.04a3.4 3.4 0 1 0 6.8 0a3.4 3.4 0 1 0 -6.8 0M1154.73 133.2a3.4 3.4 0 1 0 6.8 0a3.4 3.4 0 1 0 -6.8 0M1156.58 143a3.4 3.4 0 1 0 6.8 0a3.4 3.4 0 1 0 -6.8 0M1158.57 149.83a3.4 3.4 0 1 0 6.8 0a3.4 3.4 0 1 0 -6.8 0M1166.91 156.49a3.4 3.4 0 1 0 6.8 0a3.4 3.4 0 1 0 -6.8 0M1165.82 162.98a3.4 3.4 0 1 0 6.8 0a3.4 3.4 0 1 0 -6.8 0M1165.89 166.77a3.4 3.4 0 1 0 6.8 0a3.4 3.4 0 1 0 -6.8 0M1167.72 172.75a3.4 3.4 0 1 0 6.8 0a3.4 3.4 0 1 0 -6.8 0M1170.49 183.27a3.4 3.4 0 1 0 6.8 0a3.4 3.4 0 1 0 -6.8 0M1175.89 190.23a3.4 3.4 0 1 0 6.8 0a3.4 3.4 0 1 0 -6.8 0M1178.67 198.1a3.4 3.4 0 1 0 6.8 0a3.4 3.4 0 1 0 -6.8 0M1173.61 201.21a3.4 3.4 0 1 0 6.8 0a3.4 3.4 0 1 0 -6.8 0M1180.9 207.43a3.4 3.4 0 1 0 6.8 0a3.4 3.4 0 1 0 -6.8 0M1181.45 219.31a3.4 3.4 0 1 0 6.8 0a3.4 3.4 0 1 0 -6.8 0M1182.7 222.83a3.4 3.4 0 1 0 6.8 0a3.4 3.4 0 1 0 -6.8 0M1184.46 229.26a3.4 3.4 0 1 0 6.8 0a3.4 3.4 0 1 0 -6.8 0M1185.76 240.61a3.4 3.4 0 1 0 6.8 0a3.4 3.4 0 1 0 -6.8 0M1185.92 244.2a3.4 3.4 0 1 0 6.8 0a3.4 3.4 0 1 0 -6.8 0M1186.83 249.36a3.4 3.4 0 1 0 6.8 0a3.4 3.4 0 1 0 -6.8 0M1189.05 260.34a3.4 3.4 0 1 0 6.8 0a3.4 3.4 0 1 0 -6.8 0M1189.42 267.47a3.4 3.4 0 1 0 6.8 0a3.4 3.4 0 1 0 -6.8 0M1188.85 272.93a3.4 3.4 0 1 0 6.8 0a3.4 3.4 0 1 0 -6.8 0M1193.04 278.36a3.4 3.4 0 1 0 6.8 0a3.4 3.4 0 1 0 -6.8 0M1192.36 289a3.4 3.4 0 1 0 6.8 0a3.4 3.4 0 1 0 -6.8 0M1195 294.94a3.4 3.4 0 1 0 6.8 0a3.4 3.4 0 1 0 -6.8 0M1195.16 297.78a3.4 3.4 0 1 0 6.8 0a3.4 3.4 0 1 0 -6.8 0M1196.97 308.64a3.4 3.4 0 1 0 6.8 0a3.4 3.4 0 1 0 -6.8 0M1195.82 314.66a3.4 3.4 0 1 0 6.8 0a3.4 3.4 0 1 0 -6.8 0M1198.85 319.12a3.4 3.4 0 1 0 6.8 0a3.4 3.4 0 1 0 -6.8 0M1204.06 328.89a3.4 3.4 0 1 0 6.8 0a3.4 3.4 0 1 0 -6.8 0M1202.82 332.6a3.4 3.4 0 1 0 6.8 0a3.4 3.4 0 1 0 -6.8 0M1205.32 341.91a3.4 3.4 0 1 0 6.8 0a3.4 3.4 0 1 0 -6.8 0M1205.14 349.51a3.4 3.4 0 1 0 6.8 0a3.4 3.4 0 1 0 -6.8 0M1210.56 356.62a3.4 3.4 0 1 0 6.8 0a3.4 3.4 0 1 0 -6.8 0M1208.72 362.71a3.4 3.4 0 1 0 6.8 0a3.4 3.4 0 1 0 -6.8 0M1210.44 367.92a3.4 3.4 0 1 0 6.8 0a3.4 3.4 0 1 0 -6.8 0M1212.26 379.27a3.4 3.4 0 1 0 6.8 0a3.4 3.4 0 1 0 -6.8 0M1213.54 386.58a3.4 3.4 0 1 0 6.8 0a3.4 3.4 0 1 0 -6.8 0M1215.6 388.8a3.4 3.4 0 1 0 6.8 0a3.4 3.4 0 1 0 -6.8 0M1214.12 397.86a3.4 3.4 0 1 0 6.8 0a3.4 3.4 0 1 0 -6.8 0M1218.61 404.35a3.4 3.4 0 1 0 6.8 0a3.4 3.4 0 1 0 -6.8 0M1217.82 411.32a3.4 3.4 0 1 0 6.8 0a3.4 3.4 0 1 0 -6.8 0M1219.4 418.42a3.4 3.4 0 1 0 6.8 0a3.4 3.4 0 1 0 -6.8 0M1221.29 424.85a3.4 3.4 0 1 0 6.8 0a3.4 3.4 0 1 0 -6.8 0M1220.9 430.42a3.4 3.4 0 1 0 6.8 0a3.4 3.4 0 1 0 -6.8 0M1223.62 440.1a3.4 3.4 0 1 0 6.8 0a3.4 3.4 0 1 0 -6.8 0M1223.66 443.89a3.4 3.4 0 1 0 6.8 0a3.4 3.4 0 1 0 -6.8 0M1225 452.94a3.4 3.4 0 1 0 6.8 0a3.4 3.4 0 1 0 -6.8 0M1225.84 457.99a3.4 3.4 0 1 0 6.8 0a3.4 3.4 0 1 0 -6.8 0M1228.26 464.76a3.4 3.4 0 1 0 6.8 0a3.4 3.4 0 1 0 -6.8 0M1227.87 473.51a3.4 3.4 0 1 0 6.8 0a3.4 3.4 0 1 0 -6.8 0M1231.85 479.8a3.4 3.4 0 1 0 6.8 0a3.4 3.4 0 1 0 -6.8 0M1232.63 490.72a3.4 3.4 0 1 0 6.8 0a3.4 3.4 0 1 0 -6.8 0M1232.74 496.24a3.4 3.4 0 1 0 6.8 0a3.4 3.4 0 1 0 -6.8 0M1233.54 501.48a3.4 3.4 0 1 0 6.8 0a3.4 3.4 0 1 0 -6.8 0M1236.41 512.13a3.4 3.4 0 1 0 6.8 0a3.4 3.4 0 1 0 -6.8 0M1237.47 516.32a3.4 3.4 0 1 0 6.8 0a3.4 3.4 0 1 0 -6.8 0M1237.87 524.83a3.4 3.4 0 1 0 6.8 0a3.4 3.4 0 1 0 -6.8 0M1238.57 529.66a3.4 3.4 0 1 0 6.8 0a3.4 3.4 0 1 0 -6.8 0M1239.56 536.03a3.4 3.4 0 1 0 6.8 0a3.4 3.4 0 1 0 -6.8 0M1242.91 545.52a3.4 3.4 0 1 0 6.8 0a3.4 3.4 0 1 0 -6.8 0M1242.79 552.15a3.4 3.4 0 1 0 6.8 0a3.4 3.4 0 1 0 -6.8 0M1244.11 559.98a3.4 3.4 0 1 0 6.8 0a3.4 3.4 0 1 0 -6.8 0M1244.12 563.17a3.4 3.4 0 1 0 6.8 0a3.4 3.4 0 1 0 -6.8 0M1245.39 570.37a3.4 3.4 0 1 0 6.8 0a3.4 3.4 0 1 0 -6.8 0M1245.07 577.35a3.4 3.4 0 1 0 6.8 0a3.4 3.4 0 1 0 -6.8 0M1248.05 583.63a3.4 3.4 0 1 0 6.8 0a3.4 3.4 0 1 0 -6.8 0M1248.99 593.49a3.4 3.4 0 1 0 6.8 0a3.4 3.4 0 1 0 -6.8 0M1250.88 602.49a3.4 3.4 0 1 0 6.8 0a3.4 3.4 0 1 0 -6.8 0M1252.88 609.17a3.4 3.4 0 1 0 6.8 0a3.4 3.4 0 1 0 -6.8 0M1252.6 616.73a3.4 3.4 0 1 0 6.8 0a3.4 3.4 0 1 0 -6.8 0M1252.72 620.5a3.4 3.4 0 1 0 6.8 0a3.4 3.4 0 1 0 -6.8 0M1255.27 627.44a3.4 3.4 0 1 0 6.8 0a3.4 3.4 0 1 0 -6.8 0M1255.6 637.23a3.4 3.4 0 1 0 6.8 0a3.4 3.4 0 1 0 -6.8 0M1257.98 642.64a3.4 3.4 0 1 0 6.8 0a3.4 3.4 0 1 0 -6.8 0M1259.09 649.98a3.4 3.4 0 1 0 6.8 0a3.4 3.4 0 1 0 -6.8 0M1259.58 657.83a3.4 3.4 0 1 0 6.8 0a3.4 3.4 0 1 0 -6.8 0M1260.73 663.76a3.4 3.4 0 1 0 6.8 0a3.4 3.4 0 1 0 -6.8 0M1260.38 671.86a3.4 3.4 0 1 0 6.8 0a3.4 3.4 0 1 0 -6.8 0M1264.88 679.28a3.4 3.4 0 1 0 6.8 0a3.4 3.4 0 1 0 -6.8 0M1264.71 682.16a3.4 3.4 0 1 0 6.8 0a3.4 3.4 0 1 0 -6.8 0M1266.55 691.35a3.4 3.4 0 1 0 6.8 0a3.4 3.4 0 1 0 -6.8 0M1265.58 696.98a3.4 3.4 0 1 0 6.8 0a3.4 3.4 0 1 0 -6.8 0M1265.73 707.42a3.4 3.4 0 1 0 6.8 0a3.4 3.4 0 1 0 -6.8 0M1269.13 708.92a3.4 3.4 0 1 0 6.8 0a3.4 3.4 0 1 0 -6.8 0M1269.41 718.21a3.4 3.4 0 1 0 6.8 0a3.4 3.4 0 1 0 -6.8 0M1271.8 727.68a3.4 3.4 0 1 0 6.8 0a3.4 3.4 0 1 0 -6.8 0M1270.99 732.08a3.4 3.4 0 1 0 6.8 0a3.4 3.4 0 1 0 -6.8 0M1271.23 738.81a3.4 3.4 0 1 0 6.8 0a3.4 3.4 0 1 0 -6.8 0M1272.36 746.75a3.4 3.4 0 1 0 6.8 0a3.4 3.4 0 1 0 -6.8 0M1274.52 751.87a3.4 3.4 0 1 0 6.8 0a3.4 3.4 0 1 0 -6.8 0M1275.73 758.47a3.4 3.4 0 1 0 6.8 0a3.4 3.4 0 1 0 -6.8 0M1275.61 765.49a3.4 3.4 0 1 0 6.8 0a3.4 3.4 0 1 0 -6.8 0M1278.17 773.83a3.4 3.4 0 1 0 6.8 0a3.4 3.4 0 1 0 -6.8 0M1277.07 783.35a3.4 3.4 0 1 0 6.8 0a3.4 3.4 0 1 0 -6.8 0M1280.66 785.61a3.4 3.4 0 1 0 6.8 0a3.4 3.4 0 1 0 -6.8 0M1280.3 794.67a3.4 3.4 0 1 0 6.8 0a3.4 3.4 0 1 0 -6.8 0M1281.79 801.29a3.4 3.4 0 1 0 6.8 0a3.4 3.4 0 1 0 -6.8 0M1281.79 810.66a3.4 3.4 0 1 0 6.8 0a3.4 3.4 0 1 0 -6.8 0M1099.65 20.05a3.4 3.4 0 1 0 6.8 0a3.4 3.4 0 1 0 -6.8 0M1097.29 28.97a3.4 3.4 0 1 0 6.8 0a3.4 3.4 0 1 0 -6.8 0M1099.4 35.3a3.4 3.4 0 1 0 6.8 0a3.4 3.4 0 1 0 -6.8 0M1100.26 44.13a3.4 3.4 0 1 0 6.8 0a3.4 3.4 0 1 0 -6.8 0M1100.87 49.73a3.4 3.4 0 1 0 6.8 0a3.4 3.4 0 1 0 -6.8 0M1101.17 58.62a3.4 3.4 0 1 0 6.8 0a3.4 3.4 0 1 0 -6.8 0M1105.42 65.6a3.4 3.4 0 1 0 6.8 0a3.4 3.4 0 1 0 -6.8 0M1106.1 72.8a3.4 3.4 0 1 0 6.8 0a3.4 3.4 0 1 0 -6.8 0M1109.12 76.27a3.4 3.4 0 1 0 6.8 0a3.4 3.4 0 1 0 -6.8 0M1119.23 86a3.4 3.4 0 1 0 6.8 0a3.4 3.4 0 1 0 -6.8 0M1123.06 89.43a3.4 3.4 0 1 0 6.8 0a3.4 3.4 0 1 0 -6.8 0M1124.39 98.13a3.4 3.4 0 1 0 6.8 0a3.4 3.4 0 1 0 -6.8 0M1136.55 102.23a3.4 3.4 0 1 0 6.8 0a3.4 3.4 0 1 0 -6.8 0M1139.25 114.88a3.4 3.4 0 1 0 6.8 0a3.4 3.4 0 1 0 -6.8 0M1140.89 117.13a3.4 3.4 0 1 0 6.8 0a3.4 3.4 0 1 0 -6.8 0M1144.28 126.49a3.4 3.4 0 1 0 6.8 0a3.4 3.4 0 1 0 -6.8 0M1153.38 135.06a3.4 3.4 0 1 0 6.8 0a3.4 3.4 0 1 0 -6.8 0M1152.14 140.46a3.4 3.4 0 1 0 6.8 0a3.4 3.4 0 1 0 -6.8 0M1157.15 149.64a3.4 3.4 0 1 0 6.8 0a3.4 3.4 0 1 0 -6.8 0M1159.06 153.58a3.4 3.4 0 1 0 6.8 0a3.4 3.4 0 1 0 -6.8 0M1161.06 159.65a3.4 3.4 0 1 0 6.8 0a3.4 3.4 0 1 0 -6.8 0M1165.96 165.56a3.4 3.4 0 1 0 6.8 0a3.4 3.4 0 1 0 -6.8 0M1170.88 177.38a3.4 3.4 0 1 0 6.8 0a3.4 3.4 0 1 0 -6.8 0M1170.03 182.33a3.4 3.4 0 1 0 6.8 0a3.4 3.4 0 1 0 -6.8 0M1174.13 190.17a3.4 3.4 0 1 0 6.8 0a3.4 3.4 0 1 0 -6.8 0M1175.38 197a3.4 3.4 0 1 0 6.8 0a3.4 3.4 0 1 0 -6.8 0M1178.04 202.24a3.4 3.4 0 1 0 6.8 0a3.4 3.4 0 1 0 -6.8 0M1178.46 207.74a3.4 3.4 0 1 0 6.8 0a3.4 3.4 0 1 0 -6.8 0M1179.67 215.41a3.4 3.4 0 1 0 6.8 0a3.4 3.4 0 1 0 -6.8 0M1180.81 221.77a3.4 3.4 0 1 0 6.8 0a3.4 3.4 0 1 0 -6.8 0M1183.9 230.81a3.4 3.4 0 1 0 6.8 0a3.4 3.4 0 1 0 -6.8 0M1185.75 236.55a3.4 3.4 0 1 0 6.8 0a3.4 3.4 0 1 0 -6.8 0M1185.82 246.42a3.4 3.4 0 1 0 6.8 0a3.4 3.4 0 1 0 -6.8 0M1188.32 251.29a3.4 3.4 0 1 0 6.8 0a3.4 3.4 0 1 0 -6.8 0M1187.85 259.28a3.4 3.4 0 1 0 6.8 0a3.4 3.4 0 1 0 -6.8 0M1190.62 267.97a3.4 3.4 0 1 0 6.8 0a3.4 3.4 0 1 0 -6.8 0M1190.71 273.78a3.4 3.4 0 1 0 6.8 0a3.4 3.4 0 1 0 -6.8 0M1190.73 280.2a3.4 3.4 0 1 0 6.8 0a3.4 3.4 0 1 0 -6.8 0M1192.5 284.88a3.4 3.4 0 1 0 6.8 0a3.4 3.4 0 1 0 -6.8 0M1193.62 291.01a3.4 3.4 0 1 0 6.8 0a3.4 3.4 0 1 0 -6.8 0M1195.8 302.76a3.4 3.4 0 1 0 6.8 0a3.4 3.4 0 1 0 -6.8 0M1195.91 307.31a3.4 3.4 0 1 0 6.8 0a3.4 3.4 0 1 0 -6.8 0M1200.16 315.45a3.4 3.4 0 1 0 6.8 0a3.4 3.4 0 1 0 -6.8 0M1199.57 323.84a3.4 3.4 0 1 0 6.8 0a3.4 3.4 0 1 0 -6.8 0M1201.39 325.76a3.4 3.4 0 1 0 6.8 0a3.4 3.4 0 1 0 -6.8 0M1204.13 334.23a3.4 3.4 0 1 0 6.8 0a3.4 3.4 0 1 0 -6.8 0M1204.06 343.55a3.4 3.4 0 1 0 6.8 0a3.4 3.4 0 1 0 -6.8 0M1205.88 346.3a3.4 3.4 0 1 0 6.8 0a3.4 3.4 0 1 0 -6.8 0M1207.23 357a3.4 3.4 0 1 0 6.8 0a3.4 3.4 0 1 0 -6.8 0M1210.2 362.22a3.4 3.4 0 1 0 6.8 0a3.4 3.4 0 1 0 -6.8 0M1211.78 370.46a3.4 3.4 0 1 0 6.8 0a3.4 3.4 0 1 0 -6.8 0M1212.48 378.61a3.4 3.4 0 1 0 6.8 0a3.4 3.4 0 1 0 -6.8 0M1214.29 386.03a3.4 3.4 0 1 0 6.8 0a3.4 3.4 0 1 0 -6.8 0M1215.69 388.97a3.4 3.4 0 1 0 6.8 0a3.4 3.4 0 1 0 -6.8 0M1215.13 397.21a3.4 3.4 0 1 0 6.8 0a3.4 3.4 0 1 0 -6.8 0M1218.3 406.89a3.4 3.4 0 1 0 6.8 0a3.4 3.4 0 1 0 -6.8 0M1219.15 411.52a3.4 3.4 0 1 0 6.8 0a3.4 3.4 0 1 0 -6.8 0M1220.72 416.67a3.4 3.4 0 1 0 6.8 0a3.4 3.4 0 1 0 -6.8 0M1221.38 423.17a3.4 3.4 0 1 0 6.8 0a3.4 3.4 0 1 0 -6.8 0M1221.97 432.52a3.4 3.4 0 1 0 6.8 0a3.4 3.4 0 1 0 -6.8 0M1224.64 442.19a3.4 3.4 0 1 0 6.8 0a3.4 3.4 0 1 0 -6.8 0M1224.68 449.71a3.4 3.4 0 1 0 6.8 0a3.4 3.4 0 1 0 -6.8 0M1225.72 456.1a3.4 3.4 0 1 0 6.8 0a3.4 3.4 0 1 0 -6.8 0M1226.68 458.87a3.4 3.4 0 1 0 6.8 0a3.4 3.4 0 1 0 -6.8 0M1227.63 465.3a3.4 3.4 0 1 0 6.8 0a3.4 3.4 0 1 0 -6.8 0M1228.46 475.56a3.4 3.4 0 1 0 6.8 0a3.4 3.4 0 1 0 -6.8 0M1230.84 478.72a3.4 3.4 0 1 0 6.8 0a3.4 3.4 0 1 0 -6.8 0M1232.69 490.18a3.4 3.4 0 1 0 6.8 0a3.4 3.4 0 1 0 -6.8 0M1234.59 498.32a3.4 3.4 0 1 0 6.8 0a3.4 3.4 0 1 0 -6.8 0M1235.18 500.7a3.4 3.4 0 1 0 6.8 0a3.4 3.4 0 1 0 -6.8 0M1236.76 512.34a3.4 3.4 0 1 0 6.8 0a3.4 3.4 0 1 0 -6.8 0M1235.62 514.52a3.4 3.4 0 1 0 6.8 0a3.4 3.4 0 1 0 -6.8 0M1238.06 525.25a3.4 3.4 0 1 0 6.8 0a3.4 3.4 0 1 0 -6.8 0M1236.6 528.85a3.4 3.4 0 1 0 6.8 0a3.4 3.4 0 1 0 -6.8 0M1239.89 540.22a3.4 3.4 0 1 0 6.8 0a3.4 3.4 0 1 0 -6.8 0M1242.64 546.05a3.4 3.4 0 1 0 6.8 0a3.4 3.4 0 1 0 -6.8 0M1242.5 552.38a3.4 3.4 0 1 0 6.8 0a3.4 3.4 0 1 0 -6.8 0M1242.09 557.28a3.4 3.4 0 1 0 6.8 0a3.4 3.4 0 1 0 -6.8 0M1243.64 565.89a3.4 3.4 0 1 0 6.8 0a3.4 3.4 0 1 0 -6.8 0M1245.21 571.54a3.4 3.4 0 1 0 6.8 0a3.4 3.4 0 1 0 -6.8 0M1248.05 579.88a3.4 3.4 0 1 0 6.8 0a3.4 3.4 0 1 0 -6.8 0M1247.18 587.31a3.4 3.4 0 1 0 6.8 0a3.4 3.4 0 1 0 -6.8 0M1249.72 593.84a3.4 3.4 0 1 0 6.8 0a3.4 3.4 0 1 0 -6.8 0M1253.02 599.65a3.4 3.4 0 1 0 6.8 0a3.4 3.4 0 1 0 -6.8 0M1252.35 609.36a3.4 3.4 0 1 0 6.8 0a3.4 3.4 0 1 0 -6.8 0M1252.59 614.63a3.4 3.4 0 1 0 6.8 0a3.4 3.4 0 1 0 -6.8 0M1253.71 618.82a3.4 3.4 0 1 0 6.8 0a3.4 3.4 0 1 0 -6.8 0M1254.87 626.41a3.4 3.4 0 1 0 6.8 0a3.4 3.4 0 1 0 -6.8 0M1256.06 632.19a3.4 3.4 0 1 0 6.8 0a3.4 3.4 0 1 0 -6.8 0M1257.33 639.08a3.4 3.4 0 1 0 6.8 0a3.4 3.4 0 1 0 -6.8 0M1259.52 646.66a3.4 3.4 0 1 0 6.8 0a3.4 3.4 0 1 0 -6.8 0M1259.72 658.91a3.4 3.4 0 1 0 6.8 0a3.4 3.4 0 1 0 -6.8 0M1261.4 662.56a3.4 3.4 0 1 0 6.8 0a3.4 3.4 0 1 0 -6.8 0M1263.25 670.48a3.4 3.4 0 1 0 6.8 0a3.4 3.4 0 1 0 -6.8 0M1261.87 676.47a3.4 3.4 0 1 0 6.8 0a3.4 3.4 0 1 0 -6.8 0M1263.68 684.65a3.4 3.4 0 1 0 6.8 0a3.4 3.4 0 1 0 -6.8 0M1264.79 690.15a3.4 3.4 0 1 0 6.8 0a3.4 3.4 0 1 0 -6.8 0M1267.03 700.17a3.4 3.4 0 1 0 6.8 0a3.4 3.4 0 1 0 -6.8 0M1266.65 705.26a3.4 3.4 0 1 0 6.8 0a3.4 3.4 0 1 0 -6.8 0M1269.1 712.81a3.4 3.4 0 1 0 6.8 0a3.4 3.4 0 1 0 -6.8 0M1270.54 720.55a3.4 3.4 0 1 0 6.8 0a3.4 3.4 0 1 0 -6.8 0M1267.99 724.09a3.4 3.4 0 1 0 6.8 0a3.4 3.4 0 1 0 -6.8 0M1271.51 730.15a3.4 3.4 0 1 0 6.8 0a3.4 3.4 0 1 0 -6.8 0M1273.22 738.17a3.4 3.4 0 1 0 6.8 0a3.4 3.4 0 1 0 -6.8 0M1274.04 745.98a3.4 3.4 0 1 0 6.8 0a3.4 3.4 0 1 0 -6.8 0M1275.31 755.78a3.4 3.4 0 1 0 6.8 0a3.4 3.4 0 1 0 -6.8 0M1275.64 762.39a3.4 3.4 0 1 0 6.8 0a3.4 3.4 0 1 0 -6.8 0M1277.02 767.79a3.4 3.4 0 1 0 6.8 0a3.4 3.4 0 1 0 -6.8 0M1277.51 772.39a3.4 3.4 0 1 0 6.8 0a3.4 3.4 0 1 0 -6.8 0M1279.71 783.13a3.4 3.4 0 1 0 6.8 0a3.4 3.4 0 1 0 -6.8 0M1279.88 790.84a3.4 3.4 0 1 0 6.8 0a3.4 3.4 0 1 0 -6.8 0M1280.43 797.4a3.4 3.4 0 1 0 6.8 0a3.4 3.4 0 1 0 -6.8 0M1282.15 800.53a3.4 3.4 0 1 0 6.8 0a3.4 3.4 0 1 0 -6.8 0M1282.94 809.41a3.4 3.4 0 1 0 6.8 0a3.4 3.4 0 1 0 -6.8 0" fill="#00ffff"/>
<polyline points="1101.11,29.46 1102.07,49.38 1106.85,69.3 1120.73,89.22 1138.91,109.14 1146.57,129.06 1159.01,148.98 1167.62,168.9 1172.88,188.82 1181.02,208.74 1185.8,228.66 1189.15,248.58 1192.98,268.5 1196.81,288.42 1200.16,308.34 1204.94,328.26 1209.73,348.18 1214.03,368.1 1217.38,388.02 1222.17,407.94 1225.04,427.86 1228.39,447.78 1232.22,467.7 1235.57,487.62 1239.4,507.54 1241.31,527.46 1244.82,547.38 1248.33,567.3 1251.84,587.22 1255.35,607.14 1258.63,627.06 1261.69,646.98 1264.76,666.9 1267.82,686.82 1270.88,706.74 1273.9,726.66 1276.88,746.58 1279.86,766.5 1282.83,786.42 1285.81,806.34" fill="none" stroke="#0000ff" stroke-width="2.5" stroke-linejoin="round" stroke-linecap="round"/>
<path d="M1095.11 29.46a6 6 0 1 0 12 0a6 6 0 1 0 -12 0M1096.07 49.38a6 6 0 1 0 12 0a6 6 0 1 0 -12 0M1100.85 69.3a6 6 0 1 0 12 0a6 6 0 1 0 -12 0M1114.73 89.22a6 6 0 1 0 12 0a6 6 0 1 0 -12 0M1132.91 109.14a6 6 0 1 0 12 0a6 6 0 1 0 -12 0M1140.57 129.06a6 6 0 1 0 12 0a6 6 0 1 0 -12 0M1153.01 148.98a6 6 0 1 0 12 0a6 6 0 1 0 -12 0M1161.62 168.9a6 6 0 1 0 12 0a6 6 0 1 0 -12 0M1166.88 188.82a6 6 0 1 0 12 0a6 6 0 1 0 -12 0M1175.02 208.74a6 6 0 1 0 12 0a6 6 0 1 0 -12 0M1179.8 228.66a6 6 0 1 0 12 0a6 6 0 1 0 -12 0M1183.15 248.58a6 6 0 1 0 12 0a6 6 0 1 0 -12 0M1186.98 268.5a6 6 0 1 0 12 0a6 6 0 1 0 -12 0M1190.81 288.42a6 6 0 1 0 12 0a6 6 0 1 0 -12 0M1194.16 308.34a6 6 0 1 0 12 0a6 6 0 1 0 -12 0M1198.94 328.26a6 6 0 1 0 12 0a6 6 0 1 0 -12 0M1203.73 348.18a6 6 0 1 0 12 0a6 6 0 1 0 -12 0M1208.03 368.1a6 6 0 1 0 12 0a6 6 0 1 0 -12 0M1211.38 388.02a6 6 0 1 0 12 0a6 6 0 1 0 -12 0M1216.17 407.94a6 6 0 1 0 12 0a6 6 0 1 0 -12 0M1219.04 427.86a6 6 0 1 0 12 0a6 6 0 1 0 -12 0M1222.39 447.78a6 6 0 1 0 12 0a6 6 0 1 0 -12 0M1226.22 467.7a6 6 0 1 0 12 0a6 6 0 1 0 -12 0M1229.57 487.62a6 6 0 1 0 12 0a6 6 0 1 0 -12 0M1233.4 507.54a6 6 0 1 0 12 0a6 6 0 1 0 -12 0M1235.31 527.46a6 6 0 1 0 12 0a6 6 0 1 0 -12 0M1238.82 547.38a6 6 0 1 0 12 0a6 6 0 1 0 -12 0M1242.33 567.3a6 6 0 1 0 12 0a6 6 0 1 0 -12 0M1245.84 587.22a6 6 0 1 0 12 0a6 6 0 1 0 -12 0M1249.35 607.14a6 6 0 1 0 12 0a6 6 0 1 0 -12 0M1252.63 627.06a6 6 0 1 0 12 0a6 6 0 1 0 -12 0M1255.69 646.98a6 6 0 1 0 12 0a6 6 0 1 0 -12 0M1258.76 666.9a6 6 0 1 0 12 0a6 6 0 1 0 -12 0M1261.82 686.82a6 6 0 1 0 12 0a6 6 0 1 0 -12 0M1264.88 706.74a6 6 0 1 0 12 0a6 6 0 1 0 -12 0M1267.9 726.66a6 6 0 1 0 12 0a6 6 0 1 0 -12 0M1270.88 746.58a6 6 0 1 0 12 0a6 6 0 1 0 -12 0M1273.86 766.5a6 6 0 1 0 12 0a6 6 0 1 0 -12 0M1276.83 786.42a6 6 0 1 0 12 0a6 6 0 1 0 -12 0M1279.81 806.34a6 6 0 1 0 12 0a6 6 0 1 0 -12 0" fill="#0000ff"/>
<path d="M1098.67 19.5 L1098.67 23.48 L1098.67 27.47 L1098.67 31.45 L1099.15 35.44 L1099.15 39.42 L1099.15 43.4 L1099.63 49.38 L1101.07 59.34 L1101.75 69.3 L1104.83 79.26 L1109.61 89.22 L1116.79 99.18 L1126.84 109.14 L1136.41 119.1 L1146.46 139.02 L1155.07 158.94 L1163.68 178.86 L1172.3 198.78 L1179.95 218.7 L1192.4 268.5 L1206.27 318.3 L1222.06 417.9 L1239.77 517.5 L1256.51 617.1 L1272.3 716.7 L1287.62 816.3 L1292.62 816.3 L1277.3 716.7 L1261.51 617.1 L1244.77 517.5 L1227.06 417.9 L1211.27 318.3 L1197.4 268.5 L1184.95 218.7 L1177.3 198.78 L1168.68 178.86 L1160.07 158.94 L1151.46 139.02 L1141.41 119.1 L1131.84 109.14 L1121.79 99.18 L1114.61 89.22 L1109.83 79.26 L1105.25 69.3 L1103.07 59.34 L1101.63 49.38 L1101.15 43.4 L1101.15 39.42 L1101.15 35.44 L1100.67 31.45 L1100.67 27.47 L1100.67 23.48 L1100.67 19.5 Z" fill="#ff0000"/>
<polyline points="1099.67,19.5 1099.67,23.48 1099.67,27.47 1099.67,31.45 1100.15,35.44 1100.15,39.42 1100.15,43.4 1100.63,49.38 1102.07,59.34 1102.75,69.3 1105.83,79.26 1110.61,89.22 1117.79,99.18 1127.84,109.14 1137.41,119.1 1147.46,139.02 1156.07,158.94 1164.68,178.86 1173.3,198.78 1180.95,218.7 1193.4,268.5 1207.27,318.3 1223.06,417.9 1240.77,517.5 1257.51,617.1 1273.3,716.7 1288.62,816.3" fill="none" stroke="#ff0000" stroke-width="3" stroke-linejoin="round" stroke-linecap="round"/>
<path d="M1093.67 19.5a6 6 0 1 0 12 0a6 6 0 1 0 -12 0M1093.67 23.48a6 6 0 1 0 12 0a6 6 0 1 0 -12 0M1093.67 27.47a6 6 0 1 0 12 0a6 6 0 1 0 -12 0M1093.67 31.45a6 6 0 1 0 12 0a6 6 0 1 0 -12 0M1094.15 35.44a6 6 0 1 0 12 0a6 6 0 1 0 -12 0M1094.15 39.42a6 6 0 1 0 12 0a6 6 0 1 0 -12 0M1094.15 43.4a6 6 0 1 0 12 0a6 6 0 1 0 -12 0M1094.63 49.38a6 6 0 1 0 12 0a6 6 0 1 0 -12 0M1096.07 59.34a6 6 0 1 0 12 0a6 6 0 1 0 -12 0M1096.75 69.3a6 6 0 1 0 12 0a6 6 0 1 0 -12 0M1099.83 79.26a6 6 0 1 0 12 0a6 6 0 1 0 -12 0M1104.61 89.22a6 6 0 1 0 12 0a6 6 0 1 0 -12 0M1111.79 99.18a6 6 0 1 0 12 0a6 6 0 1 0 -12 0M1121.84 109.14a6 6 0 1 0 12 0a6 6 0 1 0 -12 0M1131.41 119.1a6 6 0 1 0 12 0a6 6 0 1 0 -12 0M1141.46 139.02a6 6 0 1 0 12 0a6 6 0 1 0 -12 0M1150.07 158.94a6 6 0 1 0 12 0a6 6 0 1 0 -12 0M1158.68 178.86a6 6 0 1 0 12 0a6 6 0 1 0 -12 0M1167.3 198.78a6 6 0 1 0 12 0a6 6 0 1 0 -12 0M1174.95 218.7a6 6 0 1 0 12 0a6 6 0 1 0 -12 0M1187.4 268.5a6 6 0 1 0 12 0a6 6 0 1 0 -12 0M1201.27 318.3a6 6 0 1 0 12 0a6 6 0 1 0 -12 0M1217.06 417.9a6 6 0 1 0 12 0a6 6 0 1 0 -12 0M1234.77 517.5a6 6 0 1 0 12 0a6 6 0 1 0 -12 0M1251.51 617.1a6 6 0 1 0 12 0a6 6 0 1 0 -12 0M1267.3 716.7a6 6 0 1 0 12 0a6 6 0 1 0 -12 0M1282.62 816.3a6 6 0 1 0 12 0a6 6 0 1 0 -12 0" fill="#ff0000"/>
<polyline points="1099.67,19.5 1099.67,23.48 1099.67,27.47 1099.67,31.45 1100.15,35.44 1100.15,39.42 1100.15,43.4 1100.63,49.38 1102.07,59.34 1103.5,69.3 1107.33,79.26 1112.11,89.22 1119.29,99.18 1129.34,109.14 1138.91,119.1 1148.96,139.02 1157.57,158.94 1166.18,178.86 1174.8,198.78 1182.45,218.7 1194.9,268.5 1208.77,318.3 1224.56,417.9 1242.27,517.5 1259.01,617.1 1274.8,716.7 1290.12,816.3" fill="none" stroke="#ff0000" stroke-width="3" stroke-linejoin="round" stroke-linecap="round"/>
<path d="M1093.67 19.5a6 6 0 1 0 12 0a6 6 0 1 0 -12 0M1093.67 23.48a6 6 0 1 0 12 0a6 6 0 1 0 -12 0M1093.67 27.47a6 6 0 1 0 12 0a6 6 0 1 0 -12 0M1093.67 31.45a6 6 0 1 0 12 0a6 6 0 1 0 -12 0M1094.15 35.44a6 6 0 1 0 12 0a6 6 0 1 0 -12 0M1094.15 39.42a6 6 0 1 0 12 0a6 6 0 1 0 -12 0M1094.15 43.4a6 6 0 1 0 12 0a6 6 0 1 0 -12 0M1094.63 49.38a6 6 0 1 0 12 0a6 6 0 1 0 -12 0M1096.07 59.34a6 6 0 1 0 12 0a6 6 0 1 0 -12 0M1097.5 69.3a6 6 0 1 0 12 0a6 6 0 1 0 -12 0M1101.33 79.26a6 6 0 1 0 12 0a6 6 0 1 0 -12 0M1106.11 89.22a6 6 0 1 0 12 0a6 6 0 1 0 -12 0M1113.29 99.18a6 6 0 1 0 12 0a6 6 0 1 0 -12 0M1123.34 109.14a6 6 0 1 0 12 0a6 6 0 1 0 -12 0M1132.91 119.1a6 6 0 1 0 12 0a6 6 0 1 0 -12 0M1142.96 139.02a6 6 0 1 0 12 0a6 6 0 1 0 -12 0M1151.57 158.94a6 6 0 1 0 12 0a6 6 0 1 0 -12 0M1160.18 178.86a6 6 0 1 0 12 0a6 6 0 1 0 -12 0M1168.8 198.78a6 6 0 1 0 12 0a6 6 0 1 0 -12 0M1176.45 218.7a6 6 0 1 0 12 0a6 6 0 1 0 -12 0M1188.9 268.5a6 6 0 1 0 12 0a6 6 0 1 0 -12 0M1202.77 318.3a6 6 0 1 0 12 0a6 6 0 1 0 -12 0M1218.56 417.9a6 6 0 1 0 12 0a6 6 0 1 0 -12 0M1236.27 517.5a6 6 0 1 0 12 0a6 6 0 1 0 -12 0M1253.01 617.1a6 6 0 1 0 12 0a6 6 0 1 0 -12 0M1268.8 716.7a6 6 0 1 0 12 0a6 6 0 1 0 -12 0M1284.12 816.3a6 6 0 1 0 12 0a6 6 0 1 0 -12 0" fill="#ff0000"/>
<polyline points="1099.67,19.5 1099.67,23.48 1099.67,27.47 1099.67,31.45 1100.15,35.44 1100.15,39.42 1100.15,43.4 1100.63,49.38 1102.07,59.34 1104.25,69.3 1108.83,79.26 1113.61,89.22 1120.79,99.18 1130.84,109.14 1140.41,119.1 1150.46,139.02 1159.07,158.94 1167.68,178.86 1176.3,198.78 1183.95,218.7 1196.4,268.5 1210.27,318.3 1226.06,417.9 1243.77,517.5 1260.51,617.1 1276.3,716.7 1291.62,816.3" fill="none" stroke="#ff0000" stroke-width="3" stroke-linejoin="round" stroke-linecap="round"/>
<path d="M1093.67 19.5a6 6 0 1 0 12 0a6 6 0 1 0 -12 0M1093.67 23.48a6 6 0 1 0 12 0a6 6 0 1 0 -12 0M1093.67 27.47a6 6 0 1 0 12 0a6 6 0 1 0 -12 0M1093.67 31.45a6 6 0 1 0 12 0a6 6 0 1 0 -12 0M1094.15 35.44a6 6 0 1 0 12 0a6 6 0 1 0 -12 0M1094.15 39.42a6 6 0 1 0 12 0a6 6 0 1 0 -12 0M1094.15 43.4a6 6 0 1 0 12 0a6 6 0 1 0 -12 0M1094.63 49.38a6 6 0 1 0 12 0a6 6 0 1 0 -12 0M1096.07 59.34a6 6 0 1 0 12 0a6 6 0 1 0 -12 0M1098.25 69.3a6 6 0 1 0 12 0a6 6 0 1 0 -12 0M1102.83 79.26a6 6 0 1 0 12 0a6 6 0 1 0 -12 0M1107.61 89.22a6 6 0 1 0 12 0a6 6 0 1 0 -12 0M1114.79 99.18a6 6 0 1 0 12 0a6 6 0 1 0 -12 0M1124.84 109.14a6 6 0 1 0 12 0a6 6 0 1 0 -12 0M1134.41 119.1a6 6 0 1 0 12 0a6 6 0 1 0 -12 0M1144.46 139.02a6 6 0 1 0 12 0a6 6 0 1 0 -12 0M1153.07 158.94a6 6 0 1 0 12 0a6 6 0 1 0 -12 0M1161.68 178.86a6 6 0 1 0 12 0a6 6 0 1 0 -12 0M1170.3 198.78a6 6 0 1 0 12 0a6 6 0 1 0 -12 0M1177.95 218.7a6 6 0 1 0 12 0a6 6 0 1 0 -12 0M1190.4 268.5a6 6 0 1 0 12 0a6 6 0 1 0 -12 0M1204.27 318.3a6 6 0 1 0 12 0a6 6 0 1 0 -12 0M1220.06 417.9a6 6 0 1 0 12 0a6 6 0 1 0 -12 0M1237.77 517.5a6 6 0 1 0 12 0a6 6 0 1 0 -12 0M1254.51 617.1a6 6 0 1 0 12 0a6 6 0 1 0 -12 0M1270.3 716.7a6 6 0 1 0 12 0a6 6 0 1 0 -12 0M1285.62 816.3a6 6 0 1 0 12 0a6 6 0 1 0 -12 0" fill="#ff0000"/>
<polyline points="1094.89,19.5 1095.37,23.48 1095.85,27.47 1096.32,31.45 1096.8,35.44 1097.28,39.42 1097.28,43.4 1098.24,49.38 1101.59,59.34 1107.33,69.3 1114.51,79.26 1119.29,89.22 1124.08,99.18 1127.9,109.14 1131.73,119.1 1138.43,139.02 1148.48,158.94 1159.49,178.86 1168.58,198.78 1178.63,218.7 1194.42,268.5 1210.21,318.3 1225.52,417.9 1243.7,517.5 1259.49,617.1 1274.8,716.7 1290.12,816.3" fill="none" stroke="#008000" stroke-width="2.5" stroke-linejoin="round" stroke-linecap="round"/>
<path d="M1088.89 19.5a6 6 0 1 0 12 0a6 6 0 1 0 -12 0M1089.37 23.48a6 6 0 1 0 12 0a6 6 0 1 0 -12 0M1089.85 27.47a6 6 0 1 0 12 0a6 6 0 1 0 -12 0M1090.32 31.45a6 6 0 1 0 12 0a6 6 0 1 0 -12 0M1090.8 35.44a6 6 0 1 0 12 0a6 6 0 1 0 -12 0M1091.28 39.42a6 6 0 1 0 12 0a6 6 0 1 0 -12 0M1091.28 43.4a6 6 0 1 0 12 0a6 6 0 1 0 -12 0M1092.24 49.38a6 6 0 1 0 12 0a6 6 0 1 0 -12 0M1095.59 59.34a6 6 0 1 0 12 0a6 6 0 1 0 -12 0M1101.33 69.3a6 6 0 1 0 12 0a6 6 0 1 0 -12 0M1108.51 79.26a6 6 0 1 0 12 0a6 6 0 1 0 -12 0M1113.29 89.22a6 6 0 1 0 12 0a6 6 0 1 0 -12 0M1118.08 99.18a6 6 0 1 0 12 0a6 6 0 1 0 -12 0M1121.9 109.14a6 6 0 1 0 12 0a6 6 0 1 0 -12 0M1125.73 119.1a6 6 0 1 0 12 0a6 6 0 1 0 -12 0M1132.43 139.02a6 6 0 1 0 12 0a6 6 0 1 0 -12 0M1142.48 158.94a6 6 0 1 0 12 0a6 6 0 1 0 -12 0M1153.49 178.86a6 6 0 1 0 12 0a6 6 0 1 0 -12 0M1162.58 198.78a6 6 0 1 0 12 0a6 6 0 1 0 -12 0M1172.63 218.7a6 6 0 1 0 12 0a6 6 0 1 0 -12 0M1188.42 268.5a6 6 0 1 0 12 0a6 6 0 1 0 -12 0M1204.21 318.3a6 6 0 1 0 12 0a6 6 0 1 0 -12 0M1219.52 417.9a6 6 0 1 0 12 0a6 6 0 1 0 -12 0M1237.7 517.5a6 6 0 1 0 12 0a6 6 0 1 0 -12 0M1253.49 617.1a6 6 0 1 0 12 0a6 6 0 1 0 -12 0M1268.8 716.7a6 6 0 1 0 12 0a6 6 0 1 0 -12 0M1284.12 816.3a6 6 0 1 0 12 0a6 6 0 1 0 -12 0" fill="#008000"/>
<polyline points="1105.89,20.48 1105.89,22.57 1105.89,24.78 1105.89,27.11 1105.89,29.62 1105.89,32.33 1106.37,35.3 1106.37,38.56 1106.85,42.21 1107.33,46.33 1107.81,50.99 1108.29,56.35 1108.77,62.53 1109.72,69.72 1118.33,78.14 1126.95,88.08 1135.56,99.86 1142.26,113.86 1150.39,130.57 1158.53,150.59 1166.66,174.58 1176.23,203.42 1185.8,238.08 1198.24,279.79 1208.77,329.95 1220.73,390.27 1234.13,462.68 1248.97,549.45 1265.71,653.21 1284.37,776.88" fill="none" stroke="#ff00ff" stroke-width="2.5" stroke-linejoin="round" stroke-linecap="round"/>
<path d="M1099.89 20.48a6 6 0 1 0 12 0a6 6 0 1 0 -12 0M1099.89 22.57a6 6 0 1 0 12 0a6 6 0 1 0 -12 0M1099.89 24.78a6 6 0 1 0 12 0a6 6 0 1 0 -12 0M1099.89 27.11a6 6 0 1 0 12 0a6 6 0 1 0 -12 0M1099.89 29.62a6 6 0 1 0 12 0a6 6 0 1 0 -12 0M1099.89 32.33a6 6 0 1 0 12 0a6 6 0 1 0 -12 0M1100.37 35.3a6 6 0 1 0 12 0a6 6 0 1 0 -12 0M1100.37 38.56a6 6 0 1 0 12 0a6 6 0 1 0 -12 0M1100.85 42.21a6 6 0 1 0 12 0a6 6 0 1 0 -12 0M1101.33 46.33a6 6 0 1 0 12 0a6 6 0 1 0 -12 0M1101.81 50.99a6 6 0 1 0 12 0a6 6 0 1 0 -12 0M1102.29 56.35a6 6 0 1 0 12 0a6 6 0 1 0 -12 0M1102.77 62.53a6 6 0 1 0 12 0a6 6 0 1 0 -12 0M1103.72 69.72a6 6 0 1 0 12 0a6 6 0 1 0 -12 0M1112.33 78.14a6 6 0 1 0 12 0a6 6 0 1 0 -12 0M1120.95 88.08a6 6 0 1 0 12 0a6 6 0 1 0 -12 0M1129.56 99.86a6 6 0 1 0 12 0a6 6 0 1 0 -12 0M1136.26 113.86a6 6 0 1 0 12 0a6 6 0 1 0 -12 0M1144.39 130.57a6 6 0 1 0 12 0a6 6 0 1 0 -12 0M1152.53 150.59a6 6 0 1 0 12 0a6 6 0 1 0 -12 0M1160.66 174.58a6 6 0 1 0 12 0a6 6 0 1 0 -12 0M1170.23 203.42a6 6 0 1 0 12 0a6 6 0 1 0 -12 0M1179.8 238.08a6 6 0 1 0 12 0a6 6 0 1 0 -12 0M1192.24 279.79a6 6 0 1 0 12 0a6 6 0 1 0 -12 0M1202.77 329.95a6 6 0 1 0 12 0a6 6 0 1 0 -12 0M1214.73 390.27a6 6 0 1 0 12 0a6 6 0 1 0 -12 0M1228.13 462.68a6 6 0 1 0 12 0a6 6 0 1 0 -12 0M1242.97 549.45a6 6 0 1 0 12 0a6 6 0 1 0 -12 0M1259.71 653.21a6 6 0 1 0 12 0a6 6 0 1 0 -12 0M1278.37 776.88a6 6 0 1 0 12 0a6 6 0 1 0 -12 0" fill="#ff00ff"/>
</g>
<rect x="88.5" y="19.5" width="401" height="795" fill="none" stroke="#000" stroke-width="1.39"/>
<path d="M99.5 814.5v6.08M165.9 814.5v6.08M232.3 814.5v6.08M298.7 814.5v6.08M365.1 814.5v6.08M431.5 814.5v6.08M88.5 19.5h-6.08M88.5 69.3h-6.08M88.5 119.1h-6.08M88.5 168.9h-6.08M88.5 218.7h-6.08M88.5 268.5h-6.08M88.5 318.3h-6.08M88.5 368.1h-6.08M88.5 417.9h-6.08M88.5 467.7h-6.08M88.5 517.5h-6.08M88.5 567.3h-6.08M88.5 617.1h-6.08M88.5 666.9h-6.08M88.5 716.7h-6.08M88.5 766.5h-6.08" stroke="#000" stroke-width="1.39" fill="none"/>
<rect x="580.5" y="19.5" width="402" height="795" fill="none" stroke="#000" stroke-width="1.39"/>
<path d="M587.4 814.5v6.08M699.4 814.5v6.08M811.4 814.5v6.08M923.4 814.5v6.08M580.5 19.5h-6.08M580.5 69.3h-6.08M580.5 119.1h-6.08M580.5 168.9h-6.08M580.5 218.7h-6.08M580.5 268.5h-6.08M580.5 318.3h-6.08M580.5 368.1h-6.08M580.5 417.9h-6.08M580.5 467.7h-6.08M580.5 517.5h-6.08M580.5 567.3h-6.08M580.5 617.1h-6.08M580.5 666.9h-6.08M580.5 716.7h-6.08M580.5 766.5h-6.08" stroke="#000" stroke-width="1.39" fill="none"/>
<rect x="1072.5" y="19.5" width="402" height="795" fill="none" stroke="#000" stroke-width="1.39"/>
<path d="M1161.4 814.5v6.08M1257.1 814.5v6.08M1352.8 814.5v6.08M1448.5 814.5v6.08M1072.5 19.5h-6.08M1072.5 69.3h-6.08M1072.5 119.1h-6.08M1072.5 168.9h-6.08M1072.5 218.7h-6.08M1072.5 268.5h-6.08M1072.5 318.3h-6.08M1072.5 368.1h-6.08M1072.5 417.9h-6.08M1072.5 467.7h-6.08M1072.5 517.5h-6.08M1072.5 567.3h-6.08M1072.5 617.1h-6.08M1072.5 666.9h-6.08M1072.5 716.7h-6.08M1072.5 766.5h-6.08" stroke="#000" stroke-width="1.39" fill="none"/>
<text x="63.91" y="26.8" font-size="17.36" font-weight="normal" font-style="normal" text-anchor="start" textLength="11.04" lengthAdjust="spacingAndGlyphs" fill="#000">0</text>
<text x="53.23" y="76.6" font-size="17.36" font-weight="normal" font-style="normal" text-anchor="start" textLength="22.09" lengthAdjust="spacingAndGlyphs" fill="#000">25</text>
<text x="52.86" y="126.4" font-size="17.36" font-weight="normal" font-style="normal" text-anchor="start" textLength="22.09" lengthAdjust="spacingAndGlyphs" fill="#000">50</text>
<text x="53.23" y="176.2" font-size="17.36" font-weight="normal" font-style="normal" text-anchor="start" textLength="22.09" lengthAdjust="spacingAndGlyphs" fill="#000">75</text>
<text x="41.82" y="226" font-size="17.36" font-weight="normal" font-style="normal" text-anchor="start" textLength="33.13" lengthAdjust="spacingAndGlyphs" fill="#000">100</text>
<text x="42.18" y="275.8" font-size="17.36" font-weight="normal" font-style="normal" text-anchor="start" textLength="33.13" lengthAdjust="spacingAndGlyphs" fill="#000">125</text>
<text x="41.82" y="325.6" font-size="17.36" font-weight="normal" font-style="normal" text-anchor="start" textLength="33.13" lengthAdjust="spacingAndGlyphs" fill="#000">150</text>
<text x="42.18" y="375.4" font-size="17.36" font-weight="normal" font-style="normal" text-anchor="start" textLength="33.13" lengthAdjust="spacingAndGlyphs" fill="#000">175</text>
<text x="41.82" y="425.2" font-size="17.36" font-weight="normal" font-style="normal" text-anchor="start" textLength="33.13" lengthAdjust="spacingAndGlyphs" fill="#000">200</text>
<text x="42.18" y="475" font-size="17.36" font-weight="normal" font-style="normal" text-anchor="start" textLength="33.13" lengthAdjust="spacingAndGlyphs" fill="#000">225</text>
<text x="41.82" y="524.8" font-size="17.36" font-weight="normal" font-style="normal" text-anchor="start" textLength="33.13" lengthAdjust="spacingAndGlyphs" fill="#000">250</text>
<text x="42.18" y="574.6" font-size="17.36" font-weight="normal" font-style="normal" text-anchor="start" textLength="33.13" lengthAdjust="spacingAndGlyphs" fill="#000">275</text>
<text x="41.82" y="624.4" font-size="17.36" font-weight="normal" font-style="normal" text-anchor="start" textLength="33.13" lengthAdjust="spacingAndGlyphs" fill="#000">300</text>
<text x="42.18" y="674.2" font-size="17.36" font-weight="normal" font-style="normal" text-anchor="start" textLength="33.13" lengthAdjust="spacingAndGlyphs" fill="#000">325</text>
<text x="41.82" y="724" font-size="17.36" font-weight="normal" font-style="normal" text-anchor="start" textLength="33.13" lengthAdjust="spacingAndGlyphs" fill="#000">350</text>
<text x="42.18" y="773.8" font-size="17.36" font-weight="normal" font-style="normal" text-anchor="start" textLength="33.13" lengthAdjust="spacingAndGlyphs" fill="#000">375</text>
<text x="99.5" y="841.6" font-size="17.36" font-weight="normal" font-style="normal" text-anchor="middle" textLength="11.04" lengthAdjust="spacingAndGlyphs" fill="#000">4</text>
<text x="165.9" y="841.6" font-size="17.36" font-weight="normal" font-style="normal" text-anchor="middle" textLength="11.04" lengthAdjust="spacingAndGlyphs" fill="#000">6</text>
<text x="232.3" y="841.6" font-size="17.36" font-weight="normal" font-style="normal" text-anchor="middle" textLength="11.04" lengthAdjust="spacingAndGlyphs" fill="#000">8</text>
<text x="298.7" y="841.6" font-size="17.36" font-weight="normal" font-style="normal" text-anchor="middle" textLength="22.09" lengthAdjust="spacingAndGlyphs" fill="#000">10</text>
<text x="365.1" y="841.6" font-size="17.36" font-weight="normal" font-style="normal" text-anchor="middle" textLength="22.09" lengthAdjust="spacingAndGlyphs" fill="#000">12</text>
<text x="431.5" y="841.6" font-size="17.36" font-weight="normal" font-style="normal" text-anchor="middle" textLength="22.09" lengthAdjust="spacingAndGlyphs" fill="#000">14</text>
<text x="587.4" y="842" font-size="17.36" font-weight="normal" font-style="normal" text-anchor="middle" textLength="38.65" lengthAdjust="spacingAndGlyphs" fill="#000">33.0</text>
<text x="699.4" y="842" font-size="17.36" font-weight="normal" font-style="normal" text-anchor="middle" textLength="38.65" lengthAdjust="spacingAndGlyphs" fill="#000">33.5</text>
<text x="811.4" y="842" font-size="17.36" font-weight="normal" font-style="normal" text-anchor="middle" textLength="38.65" lengthAdjust="spacingAndGlyphs" fill="#000">34.0</text>
<text x="923.4" y="842" font-size="17.36" font-weight="normal" font-style="normal" text-anchor="middle" textLength="38.65" lengthAdjust="spacingAndGlyphs" fill="#000">34.5</text>
<text x="1160.4" y="856.37" font-size="17.36" text-anchor="middle" textLength="44.18" lengthAdjust="spacingAndGlyphs" transform="rotate(-45 1160.4 850.07)">1026</text>
<text x="1256.1" y="856.37" font-size="17.36" text-anchor="middle" textLength="44.18" lengthAdjust="spacingAndGlyphs" transform="rotate(-45 1256.1 850.07)">1028</text>
<text x="1351.8" y="856.37" font-size="17.36" text-anchor="middle" textLength="44.18" lengthAdjust="spacingAndGlyphs" transform="rotate(-45 1351.8 850.07)">1030</text>
<text x="1447.5" y="856.37" font-size="17.36" text-anchor="middle" textLength="44.18" lengthAdjust="spacingAndGlyphs" transform="rotate(-45 1447.5 850.07)">1032</text>
<text x="179" y="872.2" font-size="22.57" font-weight="bold"><tspan textLength="183.51" lengthAdjust="spacingAndGlyphs">Temperature (</tspan><tspan font-weight="normal" font-style="italic" font-size="16" dy="-8.5" textLength="9.5" lengthAdjust="spacingAndGlyphs">o</tspan><tspan font-weight="normal" font-style="italic" dy="8.5" textLength="16.5" lengthAdjust="spacingAndGlyphs">C</tspan><tspan textLength="9.5" lengthAdjust="spacingAndGlyphs">)</tspan></text>
<text x="780.8" y="869.8" font-size="22.57" font-weight="bold" font-style="normal" text-anchor="middle" textLength="96.26" lengthAdjust="spacingAndGlyphs" fill="#000">Salinity</text>
<text x="1272.6" y="895.6" font-size="22.57" font-weight="bold" font-style="normal" text-anchor="middle" textLength="212.88" lengthAdjust="spacingAndGlyphs" fill="#000">Density (kg m-3)</text>
<text x="30.6" y="418.4" font-size="22.57" font-weight="bold" font-style="normal" text-anchor="middle" textLength="129.06" lengthAdjust="spacingAndGlyphs" fill="#000" transform="rotate(-90 30.6 418.4)">Depth (m)</text>
<text x="423.5" y="917.6" font-size="17.36" font-style="italic" textLength="727.63" lengthAdjust="spacingAndGlyphs" xml:space="preserve">Ocean Heat Content (kJ/cm^2) - Glider: N/A,  RTOFS: N/A,  ESPC: N/A,  CMEMS: N/A,</text>
<text x="1524.28" y="36.7" font-size="22.57" font-weight="bold" font-style="normal" text-anchor="start" textLength="380.02" lengthAdjust="spacingAndGlyphs" fill="#000">Comparison Date: 2025-01-16</text>
<text x="1524.28" y="89.9" font-size="22.57" font-weight="bold" font-style="normal" text-anchor="start" textLength="170.18" lengthAdjust="spacingAndGlyphs" fill="#000">Glider: sp058</text>
<text x="1523.33" y="116.5" font-size="22.57" font-weight="bold" font-style="normal" text-anchor="start" textLength="129.8" lengthAdjust="spacingAndGlyphs" fill="#000">Profiles: 8</text>
<text x="1523.33" y="142.6" font-size="22.57" font-weight="bold" font-style="normal" text-anchor="start" textLength="339.89" lengthAdjust="spacingAndGlyphs" fill="#000">First: 2025-01-16 00:35:00</text>
<text x="1523.33" y="169.2" font-size="22.57" font-weight="bold" font-style="normal" text-anchor="start" textLength="335.22" lengthAdjust="spacingAndGlyphs" fill="#000">Last: 2025-01-16 19:27:30</text>
<text x="1523.33" y="195.3" font-size="22.57" font-weight="bold" font-style="normal" text-anchor="start" textLength="339.57" lengthAdjust="spacingAndGlyphs" fill="#000">Method: Nearest-Neighbor</text>
<defs><clipPath id="mc"><rect x="1602.4" y="261.3" width="325.9" height="310.6"/></clipPath></defs>
<g clip-path="url(#mc)">
<rect x="1602.4" y="261.3" width="325.9" height="310.6" fill="#6495ed"/>
<rect x="1602.4" y="261.3" width="325.9" height="8.8" fill="#98b7e2"/>
<path d="M1928.3 333 L1916 333 L1914 430 L1928.3 432Z" fill="#a3bde3"/>
<path d="M1692 261.1 L1698.5 266.2 L1700.1 272.7 L1702.5 277.5 L1706.5 285.5 L1709.7 292 L1713.7 300.8 L1716.9 308.8 L1718.6 313.6 L1726.6 316.8 L1733 322.5 L1737 328.9 L1736.2 333.7 L1737 338.5 L1733 339.3 L1728.2 336.9 L1723.4 333.7 L1722.6 335.3 L1728.2 340.9 L1737.8 346.6 L1745.9 349.8 L1753.1 354.6 L1758.7 361 L1758.7 370.7 L1757.1 374.7 L1763.5 380.3 L1770 385.1 L1779.6 393.2 L1782.8 398 L1789.2 393.2 L1786 386.7 L1782.8 381.9 L1776.4 373.9 L1770.8 364.2 L1765.1 353 L1758.7 341.7 L1752.3 330.5 L1747.5 324.1 L1741.8 318.5 L1733 312.8 L1729.8 306.4 L1727.4 295.2 L1727.4 286.3 L1736.2 288.7 L1745.9 293.6 L1749.1 301.6 L1751.5 309.6 L1755.5 317.7 L1756.3 324.1 L1763.5 329.7 L1770 335.3 L1774.8 336.9 L1776.4 345 L1784.4 349.8 L1789.2 354.6 L1790.8 362.6 L1795.7 367.5 L1804 373.2 L1814.3 381.8 L1826.3 395.5 L1831.4 405.7 L1833.1 412.5 L1835.7 416 L1833.1 424.5 L1830.5 429.7 L1838.2 440 L1846.8 445.1 L1855.4 453.7 L1872.5 458 L1882.8 465.7 L1899.9 473.4 L1908.5 475.1 L1917 479.4 L1928.3 481.9" fill="none" stroke="#9dbae3" stroke-width="8" stroke-linejoin="round"/>
<path d="M1664 261.3 L1672 272 L1680 282 L1697 299 L1708 317 L1717 333 L1722 343 L1733 352 L1744 361 L1749 367.5 L1755.5 377 L1766.7 388.3 L1779.6 401 L1789.2 401 L1792 395 L1760 340 L1720 300 L1700 262Z" fill="#86abe7"/>
<path d="M1676 261.3 L1690 280 L1703 298 L1711 314 L1718 325 L1724 340 L1736 350 L1748 358 L1754 372 L1762 385 L1775 396 L1786 401 L1792 395 L1760 340 L1720 300 L1700 262Z" fill="#9dbae3"/>
<path d="M1727.4 286.3 L1736.2 288.7 L1745.9 293.6 L1749.1 301.6 L1751.5 309.6 L1755.5 317.7 L1756.3 324.1 L1763.5 329.7 L1770 335.3 L1760 336 L1752.3 330.5 L1747.5 324.1 L1741.8 318.5 L1733 312.8 L1729.8 306.4 L1727.4 295.2Z" fill="#a6c0e4"/>
<path d="M1692 261.1 L1698.5 266.2 L1700.1 272.7 L1702.5 277.5 L1706.5 285.5 L1709.7 292 L1713.7 300.8 L1716.9 308.8 L1718.6 313.6 L1726.6 316.8 L1733 322.5 L1737 328.9 L1736.2 333.7 L1737 338.5 L1733 339.3 L1728.2 336.9 L1723.4 333.7 L1722.6 335.3 L1728.2 340.9 L1737.8 346.6 L1745.9 349.8 L1753.1 354.6 L1758.7 361 L1758.7 370.7 L1757.1 374.7 L1763.5 380.3 L1770 385.1 L1779.6 393.2 L1782.8 398 L1789.2 393.2 L1786 386.7 L1782.8 381.9 L1776.4 373.9 L1770.8 364.2 L1765.1 353 L1758.7 341.7 L1752.3 330.5 L1747.5 324.1 L1741.8 318.5 L1733 312.8 L1729.8 306.4 L1727.4 295.2 L1727.4 286.3 L1736.2 288.7 L1745.9 293.6 L1749.1 301.6 L1751.5 309.6 L1755.5 317.7 L1756.3 324.1 L1763.5 329.7 L1770 335.3 L1774.8 336.9 L1776.4 345 L1784.4 349.8 L1789.2 354.6 L1790.8 362.6 L1795.7 367.5 L1804 373.2 L1814.3 381.8 L1826.3 395.5 L1831.4 405.7 L1833.1 412.5 L1835.7 416 L1833.1 424.5 L1830.5 429.7 L1838.2 440 L1846.8 445.1 L1855.4 453.7 L1872.5 458 L1882.8 465.7 L1899.9 473.4 L1908.5 475.1 L1917 479.4 L1928.3 481.9 L1928.3 428 L1923.9 419.4 L1918.8 407.4 L1919.6 397.1 L1918.8 385.2 L1920.5 368.1 L1924.8 359.5 L1920.5 345.8 L1922.2 337.2 L1928.3 333 L1928.3 261.3 L1692 261.1Z" fill="#d2b48c"/>
<path d="M1692 261.1 L1698.5 266.2 L1700.1 272.7 L1702.5 277.5 L1706.5 285.5 L1709.7 292 L1713.7 300.8 L1716.9 308.8 L1718.6 313.6 L1726.6 316.8 L1733 322.5 L1737 328.9 L1736.2 333.7 L1737 338.5 L1733 339.3 L1728.2 336.9 L1723.4 333.7 L1722.6 335.3 L1728.2 340.9 L1737.8 346.6 L1745.9 349.8 L1753.1 354.6 L1758.7 361 L1758.7 370.7 L1757.1 374.7 L1763.5 380.3 L1770 385.1 L1779.6 393.2 L1782.8 398 L1789.2 393.2 L1786 386.7 L1782.8 381.9 L1776.4 373.9 L1770.8 364.2 L1765.1 353 L1758.7 341.7 L1752.3 330.5 L1747.5 324.1 L1741.8 318.5 L1733 312.8 L1729.8 306.4 L1727.4 295.2 L1727.4 286.3 L1736.2 288.7 L1745.9 293.6 L1749.1 301.6 L1751.5 309.6 L1755.5 317.7 L1756.3 324.1 L1763.5 329.7 L1770 335.3 L1774.8 336.9 L1776.4 345 L1784.4 349.8 L1789.2 354.6 L1790.8 362.6 L1795.7 367.5 L1804 373.2 L1814.3 381.8 L1826.3 395.5 L1831.4 405.7 L1833.1 412.5 L1835.7 416 L1833.1 424.5 L1830.5 429.7 L1838.2 440 L1846.8 445.1 L1855.4 453.7 L1872.5 458 L1882.8 465.7 L1899.9 473.4 L1908.5 475.1 L1917 479.4 L1928.3 481.9 L1928.3 428 L1923.9 419.4 L1918.8 407.4 L1919.6 397.1 L1918.8 385.2 L1920.5 368.1 L1924.8 359.5 L1920.5 345.8 L1922.2 337.2 L1928.3 333" fill="none" stroke="#000" stroke-width="2.5" stroke-linejoin="round"/>
<path d="M1723.4 284.1 L1728.5 275.6 L1737.1 271.3 L1752.5 266.1 L1766.2 268.7 L1779.9 269.6 L1790.3 272.1 L1803.1 264.4 L1806 261" fill="none" stroke="#97b6e1" stroke-width="1.6" stroke-linejoin="round"/>
<path d="M1816 261 L1812.5 270.4 L1819.4 282.4 L1820 286.6" fill="none" stroke="#97b6e1" stroke-width="1.6" stroke-linejoin="round"/>
<path d="M1875.9 263.6 L1887.9 270.4 L1896.5 265.3 L1903.3 262.7 L1917 273.8 L1928.3 290" fill="none" stroke="#97b6e1" stroke-width="1.6" stroke-linejoin="round"/>
<path d="M1834.8 411.7 L1841.7 412.5 L1852 421.1 L1862.2 429.7" fill="none" stroke="#97b6e1" stroke-width="1.6" stroke-linejoin="round"/>
<path d="M1891.3 408.3 L1899.9 413.4 L1918.8 406.6" fill="none" stroke="#97b6e1" stroke-width="1.6" stroke-linejoin="round"/>
<path d="M1820 286.6 L1824.5 290.1 L1838.2 301.3 L1841.7 309.8 L1846.8 316.7 L1857.9 322.7 L1863.9 314.1 L1869.1 311.5 L1877.6 312.4 L1889.6 327 L1899.9 340.7 L1903.3 352.6 L1913.6 358.6 L1925.6 362" fill="none" stroke="#97b6e1" stroke-width="1.6" stroke-linejoin="round"/>
<path d="M1700.6 276.9 L1728 273.3M1729.8 276.9 L1768.7 291.9 L1801.5 291.9 L1801.5 286.6 L1820 286.6 L1824.5 290.1 L1838.2 301.3 L1841.7 309.8 L1846.8 316.7 L1857.9 322.7 L1863.9 314.1 L1869.1 311.5 L1877.6 312.4 L1889.6 327 L1899.9 340.7 L1903.3 352.6 L1913.6 358.6 L1925.6 362" fill="none" stroke="#000" stroke-width="1.8" stroke-dasharray="5.5 2.8"/>
<path d="M1793.1 261 L1793.1 291.9M1859.9 261 L1859.9 283 L1820 283M1731 261.3 L1729 266 L1731 270 L1728 274 L1729.8 276.9" fill="none" stroke="#000" stroke-width="1.4"/>
<ellipse cx="1688.2" cy="321.6" rx="1.5" ry="2.6" fill="#000"/>
<ellipse cx="1771.1" cy="447.3" rx="2" ry="2" fill="#000"/>
<ellipse cx="1772.8" cy="441.3" rx="1" ry="1" fill="#000"/>
<ellipse cx="1728.3" cy="452.5" rx="1.3" ry="1.2" fill="#000"/>
<ellipse cx="1821.6" cy="414.8" rx="1.5" ry="3" fill="#000"/>
<ellipse cx="1675" cy="267" rx="1.6" ry="1.1" fill="#000"/>
<ellipse cx="1722" cy="333" rx="1.5" ry="2.5" fill="#000"/>
<ellipse cx="1757.5" cy="326.5" rx="2" ry="2.6" fill="#000"/>
<path d="M1925.5 332 L1922 335 L1921.5 339 L1923 343 L1922 347 L1924 353 L1926 360 L1928.3 361 L1928.3 332Z" fill="#000"/>
<path d="M1927 340 L1925.8 348 L1927.2 357 L1928.3 357 L1928.3 340Z" fill="#a6c0e4"/>
<path d="M1922 367 L1920.5 372 L1920.5 385 L1922.5 380 L1924.5 368Z" fill="#34455c"/>
<path d="M1740.5 313 L1743 312.5 L1747 318 L1750.5 324 L1750 328 L1746 325 L1742 319Z" fill="#000"/>
<circle cx="1684.6" cy="269.3" r="4.4" fill="#ff0000" stroke="#000" stroke-width="2"/>
</g>
<rect x="1602.4" y="261.3" width="325.9" height="310.6" fill="none" stroke="#000" stroke-width="1.39"/>
<path d="M1602.4 571.9v8.7M1602.4 261.3v-8.7M1636.18 571.9v8.7M1636.18 261.3v-8.7M1669.96 571.9v8.7M1669.96 261.3v-8.7M1703.74 571.9v8.7M1703.74 261.3v-8.7M1737.52 571.9v8.7M1737.52 261.3v-8.7M1771.3 571.9v8.7M1771.3 261.3v-8.7M1805.08 571.9v8.7M1805.08 261.3v-8.7M1838.86 571.9v8.7M1838.86 261.3v-8.7M1872.64 571.9v8.7M1872.64 261.3v-8.7M1906.42 571.9v8.7M1906.42 261.3v-8.7M1602.4 561.51h-8.7M1928.3 561.51h8.7M1602.4 527.28h-8.7M1928.3 527.28h8.7M1602.4 492.66h-8.7M1928.3 492.66h8.7M1602.4 457.54h-8.7M1928.3 457.54h8.7M1602.4 421.83h-8.7M1928.3 421.83h8.7M1602.4 385.39h-8.7M1928.3 385.39h8.7M1602.4 348.09h-8.7M1928.3 348.09h8.7M1602.4 309.79h-8.7M1928.3 309.79h8.7M1602.4 270.3h-8.7M1928.3 270.3h8.7" stroke="#000" stroke-width="2.6" fill="none"/>
<path d="M1613.66 571.9v3.2M1613.66 261.3v-3.2M1624.92 571.9v3.2M1624.92 261.3v-3.2M1647.44 571.9v3.2M1647.44 261.3v-3.2M1658.7 571.9v3.2M1658.7 261.3v-3.2M1681.22 571.9v3.2M1681.22 261.3v-3.2M1692.48 571.9v3.2M1692.48 261.3v-3.2M1715 571.9v3.2M1715 261.3v-3.2M1726.26 571.9v3.2M1726.26 261.3v-3.2M1748.78 571.9v3.2M1748.78 261.3v-3.2M1760.04 571.9v3.2M1760.04 261.3v-3.2M1782.56 571.9v3.2M1782.56 261.3v-3.2M1793.82 571.9v3.2M1793.82 261.3v-3.2M1816.34 571.9v3.2M1816.34 261.3v-3.2M1827.6 571.9v3.2M1827.6 261.3v-3.2M1850.12 571.9v3.2M1850.12 261.3v-3.2M1861.38 571.9v3.2M1861.38 261.3v-3.2M1883.9 571.9v3.2M1883.9 261.3v-3.2M1895.16 571.9v3.2M1895.16 261.3v-3.2M1917.68 571.9v3.2M1917.68 261.3v-3.2M1928.94 571.9v3.2M1928.94 261.3v-3.2M1602.4 572.86h-3.2M1928.3 572.86h3.2M1602.4 550.14h-3.2M1928.3 550.14h3.2M1602.4 538.73h-3.2M1928.3 538.73h3.2M1602.4 515.78h-3.2M1928.3 515.78h3.2M1602.4 504.24h-3.2M1928.3 504.24h3.2M1602.4 481.01h-3.2M1928.3 481.01h3.2M1602.4 469.31h-3.2M1928.3 469.31h3.2M1602.4 445.71h-3.2M1928.3 445.71h3.2M1602.4 433.81h-3.2M1928.3 433.81h3.2M1602.4 409.77h-3.2M1928.3 409.77h3.2M1602.4 397.63h-3.2M1928.3 397.63h3.2M1602.4 373.06h-3.2M1928.3 373.06h3.2M1602.4 360.63h-3.2M1928.3 360.63h3.2M1602.4 335.44h-3.2M1928.3 335.44h3.2M1602.4 322.68h-3.2M1928.3 322.68h3.2M1602.4 296.76h-3.2M1928.3 296.76h3.2M1602.4 283.6h-3.2M1928.3 283.6h3.2" stroke="#000" stroke-width="1.3" fill="none"/>
<text x="1544.69" y="571.01" font-size="22.57" textLength="42.53" lengthAdjust="spacingAndGlyphs">9°N</text>
<text x="1530.33" y="536.78" font-size="22.57" textLength="56.89" lengthAdjust="spacingAndGlyphs">12°N</text>
<text x="1530.33" y="502.16" font-size="22.57" textLength="56.89" lengthAdjust="spacingAndGlyphs">15°N</text>
<text x="1530.33" y="467.04" font-size="22.57" textLength="56.89" lengthAdjust="spacingAndGlyphs">18°N</text>
<text x="1530.33" y="431.33" font-size="22.57" textLength="56.89" lengthAdjust="spacingAndGlyphs">21°N</text>
<text x="1530.33" y="394.89" font-size="22.57" textLength="56.89" lengthAdjust="spacingAndGlyphs">24°N</text>
<text x="1530.33" y="357.59" font-size="22.57" textLength="56.89" lengthAdjust="spacingAndGlyphs">27°N</text>
<text x="1530.33" y="319.29" font-size="22.57" textLength="56.89" lengthAdjust="spacingAndGlyphs">30°N</text>
<text x="1530.33" y="279.8" font-size="22.57" textLength="56.89" lengthAdjust="spacingAndGlyphs">33°N</text>
<text x="1600.9" y="632.11" font-size="22.57" text-anchor="middle" textLength="76.68" lengthAdjust="spacingAndGlyphs" transform="rotate(-45 1600.9 623.91)">126°W</text>
<text x="1634.68" y="632.11" font-size="22.57" text-anchor="middle" textLength="76.68" lengthAdjust="spacingAndGlyphs" transform="rotate(-45 1634.68 623.91)">123°W</text>
<text x="1668.46" y="632.11" font-size="22.57" text-anchor="middle" textLength="76.68" lengthAdjust="spacingAndGlyphs" transform="rotate(-45 1668.46 623.91)">120°W</text>
<text x="1702.24" y="632.11" font-size="22.57" text-anchor="middle" textLength="76.68" lengthAdjust="spacingAndGlyphs" transform="rotate(-45 1702.24 623.91)">117°W</text>
<text x="1736.02" y="632.11" font-size="22.57" text-anchor="middle" textLength="76.68" lengthAdjust="spacingAndGlyphs" transform="rotate(-45 1736.02 623.91)">114°W</text>
<text x="1769.8" y="632.11" font-size="22.57" text-anchor="middle" textLength="76.68" lengthAdjust="spacingAndGlyphs" transform="rotate(-45 1769.8 623.91)">111°W</text>
<text x="1803.58" y="632.11" font-size="22.57" text-anchor="middle" textLength="76.68" lengthAdjust="spacingAndGlyphs" transform="rotate(-45 1803.58 623.91)">108°W</text>
<text x="1837.36" y="632.11" font-size="22.57" text-anchor="middle" textLength="76.68" lengthAdjust="spacingAndGlyphs" transform="rotate(-45 1837.36 623.91)">105°W</text>
<text x="1871.14" y="632.11" font-size="22.57" text-anchor="middle" textLength="76.68" lengthAdjust="spacingAndGlyphs" transform="rotate(-45 1871.14 623.91)">102°W</text>
<text x="1904.92" y="627.03" font-size="22.57" text-anchor="middle" textLength="62.32" lengthAdjust="spacingAndGlyphs" transform="rotate(-45 1904.92 618.83)">99°W</text>
<rect x="1683.3" y="664.8" width="164.4" height="143.3" rx="4" fill="#fff" fill-opacity="0.8" stroke="#d0d0d0" stroke-width="1.4"/>
<path d="M1691 684H1738.5" stroke="#0000ff" stroke-width="2.6"/>
<circle cx="1714.2" cy="684" r="6" fill="#0000ff"/>
<text x="1754.58" y="692.2" font-size="22.57" textLength="69.16" lengthAdjust="spacingAndGlyphs">sp058</text>
<path d="M1691 718.27H1738.5" stroke="#ff0000" stroke-width="2.6"/>
<circle cx="1714.2" cy="718.27" r="6" fill="#ff0000"/>
<text x="1753.58" y="726.47" font-size="22.57" textLength="74.54" lengthAdjust="spacingAndGlyphs">RTOFS</text>
<path d="M1691 752.54H1738.5" stroke="#008000" stroke-width="2.6"/>
<circle cx="1714.2" cy="752.54" r="6" fill="#008000"/>
<text x="1753.58" y="760.74" font-size="22.57" textLength="57.96" lengthAdjust="spacingAndGlyphs">ESPC</text>
<path d="M1691 786.81H1738.5" stroke="#ff00ff" stroke-width="2.6"/>
<circle cx="1714.2" cy="786.81" r="6" fill="#ff00ff"/>
<text x="1754.53" y="795.01" font-size="22.57" textLength="83.29" lengthAdjust="spacingAndGlyphs">CMEMS</text>
</svg></body></html>
